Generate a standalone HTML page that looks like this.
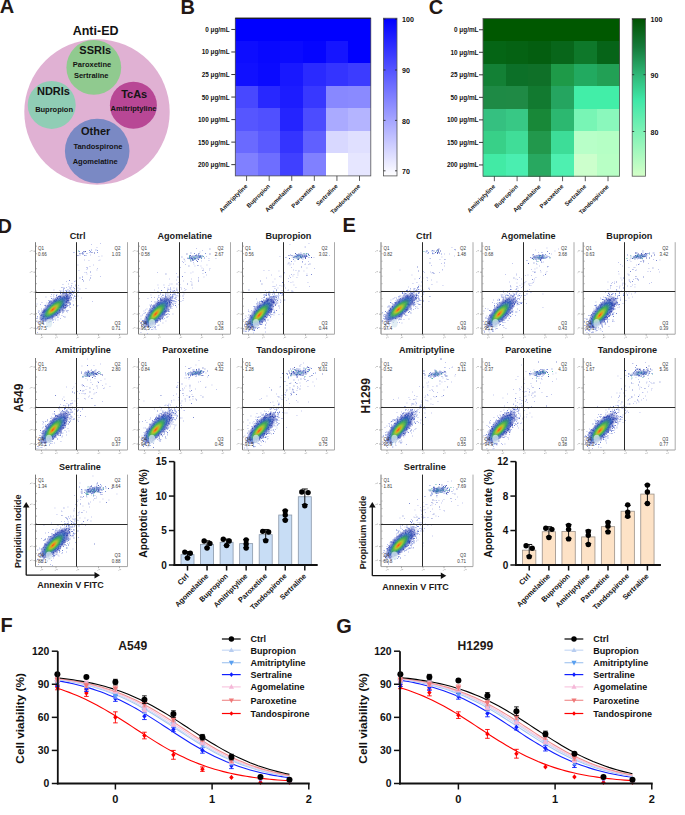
<!DOCTYPE html>
<html><head><meta charset="utf-8"><style>
html,body{margin:0;padding:0;background:#fff;overflow:hidden}
svg{display:block}
text{font-family:'Liberation Sans',sans-serif}
</style></head><body>
<svg width="685" height="815" viewBox="0 0 685 815">
<text x="-0.30" y="13.40" font-size="20" text-anchor="start" fill="#231815" font-weight="bold">A</text>
<text x="180.60" y="13.60" font-size="20" text-anchor="start" fill="#231815" font-weight="bold">B</text>
<text x="428.80" y="13.80" font-size="20" text-anchor="start" fill="#231815" font-weight="bold">C</text>
<text x="-2.50" y="232.60" font-size="20" text-anchor="start" fill="#231815" font-weight="bold">D</text>
<text x="342.60" y="232.00" font-size="20" text-anchor="start" fill="#231815" font-weight="bold">E</text>
<text x="0.60" y="631.90" font-size="20" text-anchor="start" fill="#231815" font-weight="bold">F</text>
<text x="336.20" y="632.50" font-size="20" text-anchor="start" fill="#231815" font-weight="bold">G</text>
<circle cx="97" cy="112" r="72.7" fill="#e0b1d3"/>
<circle cx="93.8" cy="67.4" r="27.4" fill="#90ca8f"/>
<circle cx="51.7" cy="104.9" r="24" fill="#90cdb5"/>
<circle cx="133.4" cy="105.2" r="23.5" fill="#b84795"/>
<circle cx="97.2" cy="151" r="32.3" fill="#7a89c4"/>
<text x="95.60" y="34.90" font-size="12.5" text-anchor="middle" fill="#111" font-weight="bold">Anti-ED</text>
<text x="95.20" y="54.40" font-size="11" text-anchor="middle" fill="#141414" font-weight="bold">SSRIs</text>
<text x="92.00" y="67.10" font-size="7.5" text-anchor="middle" fill="#141414" font-weight="bold">Paroxetine</text>
<text x="91.20" y="77.60" font-size="7.5" text-anchor="middle" fill="#141414" font-weight="bold">Sertraline</text>
<text x="53.50" y="95.30" font-size="11" text-anchor="middle" fill="#141414" font-weight="bold">NDRIs</text>
<text x="54.10" y="112.20" font-size="7.5" text-anchor="middle" fill="#141414" font-weight="bold">Bupropion</text>
<text x="134.20" y="97.50" font-size="11" text-anchor="middle" fill="#141414" font-weight="bold">TcAs</text>
<text x="133.50" y="110.70" font-size="7.5" text-anchor="middle" fill="#141414" font-weight="bold">Amitriptyline</text>
<text x="95.70" y="135.40" font-size="11" text-anchor="middle" fill="#141414" font-weight="bold">Other</text>
<text x="97.90" y="149.00" font-size="7.5" text-anchor="middle" fill="#141414" font-weight="bold">Tandospirone</text>
<text x="95.20" y="163.60" font-size="7.5" text-anchor="middle" fill="#141414" font-weight="bold">Agomelatine</text>
<defs><linearGradient id="gb" x1="0" y1="0" x2="0" y2="1"><stop offset="0" stop-color="#0000ff"/><stop offset="1" stop-color="#ffffff"/></linearGradient><linearGradient id="gg" x1="0" y1="0" x2="0" y2="1"><stop offset="0" stop-color="#005200"/><stop offset="0.18" stop-color="#157a3a"/><stop offset="0.36" stop-color="#2fb878"/><stop offset="0.52" stop-color="#40e8a8"/><stop offset="1" stop-color="#d4ffc8"/></linearGradient><radialGradient id="core" fx="0.38" fy="0.5" cx="0.45"><stop offset="0" stop-color="#f04a14"/><stop offset="0.1" stop-color="#f08a1c"/><stop offset="0.22" stop-color="#a8c830"/><stop offset="0.4" stop-color="#3cac58" stop-opacity="0.95"/><stop offset="0.6" stop-color="#2c64b8" stop-opacity="0.8"/><stop offset="0.8" stop-color="#2838a8" stop-opacity="0.45"/><stop offset="1" stop-color="#2838a8" stop-opacity="0"/></radialGradient><radialGradient id="q2g"><stop offset="0" stop-color="#3898b0" stop-opacity="0.6"/><stop offset="0.5" stop-color="#2a48b0" stop-opacity="0.4"/><stop offset="1" stop-color="#2a48b0" stop-opacity="0"/></radialGradient></defs>
<rect x="235.30" y="18.20" width="23.08" height="23.03" fill="#0000ff" shape-rendering="crispEdges"/>
<rect x="257.88" y="18.20" width="23.08" height="23.03" fill="#0000ff" shape-rendering="crispEdges"/>
<rect x="280.47" y="18.20" width="23.08" height="23.03" fill="#0000ff" shape-rendering="crispEdges"/>
<rect x="303.05" y="18.20" width="23.08" height="23.03" fill="#0000ff" shape-rendering="crispEdges"/>
<rect x="325.63" y="18.20" width="23.08" height="23.03" fill="#0000ff" shape-rendering="crispEdges"/>
<rect x="348.22" y="18.20" width="23.08" height="23.03" fill="#0000ff" shape-rendering="crispEdges"/>
<rect x="235.30" y="40.73" width="23.08" height="23.03" fill="#0d0dff" shape-rendering="crispEdges"/>
<rect x="257.88" y="40.73" width="23.08" height="23.03" fill="#0808ff" shape-rendering="crispEdges"/>
<rect x="280.47" y="40.73" width="23.08" height="23.03" fill="#0a0aff" shape-rendering="crispEdges"/>
<rect x="303.05" y="40.73" width="23.08" height="23.03" fill="#0505ff" shape-rendering="crispEdges"/>
<rect x="325.63" y="40.73" width="23.08" height="23.03" fill="#1515ff" shape-rendering="crispEdges"/>
<rect x="348.22" y="40.73" width="23.08" height="23.03" fill="#0000ff" shape-rendering="crispEdges"/>
<rect x="235.30" y="63.26" width="23.08" height="23.03" fill="#1010ff" shape-rendering="crispEdges"/>
<rect x="257.88" y="63.26" width="23.08" height="23.03" fill="#0a0aff" shape-rendering="crispEdges"/>
<rect x="280.47" y="63.26" width="23.08" height="23.03" fill="#1818ff" shape-rendering="crispEdges"/>
<rect x="303.05" y="63.26" width="23.08" height="23.03" fill="#2a2aff" shape-rendering="crispEdges"/>
<rect x="325.63" y="63.26" width="23.08" height="23.03" fill="#3434ff" shape-rendering="crispEdges"/>
<rect x="348.22" y="63.26" width="23.08" height="23.03" fill="#3c3cff" shape-rendering="crispEdges"/>
<rect x="235.30" y="85.79" width="23.08" height="23.03" fill="#4848ff" shape-rendering="crispEdges"/>
<rect x="257.88" y="85.79" width="23.08" height="23.03" fill="#2828ff" shape-rendering="crispEdges"/>
<rect x="280.47" y="85.79" width="23.08" height="23.03" fill="#1c1cff" shape-rendering="crispEdges"/>
<rect x="303.05" y="85.79" width="23.08" height="23.03" fill="#3838ff" shape-rendering="crispEdges"/>
<rect x="325.63" y="85.79" width="23.08" height="23.03" fill="#8888ff" shape-rendering="crispEdges"/>
<rect x="348.22" y="85.79" width="23.08" height="23.03" fill="#8a8aff" shape-rendering="crispEdges"/>
<rect x="235.30" y="108.31" width="23.08" height="23.03" fill="#5656ff" shape-rendering="crispEdges"/>
<rect x="257.88" y="108.31" width="23.08" height="23.03" fill="#5050ff" shape-rendering="crispEdges"/>
<rect x="280.47" y="108.31" width="23.08" height="23.03" fill="#2424ff" shape-rendering="crispEdges"/>
<rect x="303.05" y="108.31" width="23.08" height="23.03" fill="#4c4cff" shape-rendering="crispEdges"/>
<rect x="325.63" y="108.31" width="23.08" height="23.03" fill="#aaaaff" shape-rendering="crispEdges"/>
<rect x="348.22" y="108.31" width="23.08" height="23.03" fill="#b4b4ff" shape-rendering="crispEdges"/>
<rect x="235.30" y="130.84" width="23.08" height="23.03" fill="#6a6aff" shape-rendering="crispEdges"/>
<rect x="257.88" y="130.84" width="23.08" height="23.03" fill="#5a5aff" shape-rendering="crispEdges"/>
<rect x="280.47" y="130.84" width="23.08" height="23.03" fill="#3434ff" shape-rendering="crispEdges"/>
<rect x="303.05" y="130.84" width="23.08" height="23.03" fill="#6060ff" shape-rendering="crispEdges"/>
<rect x="325.63" y="130.84" width="23.08" height="23.03" fill="#d8d8ff" shape-rendering="crispEdges"/>
<rect x="348.22" y="130.84" width="23.08" height="23.03" fill="#e0e0ff" shape-rendering="crispEdges"/>
<rect x="235.30" y="153.37" width="23.08" height="23.03" fill="#8080ff" shape-rendering="crispEdges"/>
<rect x="257.88" y="153.37" width="23.08" height="23.03" fill="#6e6eff" shape-rendering="crispEdges"/>
<rect x="280.47" y="153.37" width="23.08" height="23.03" fill="#4040ff" shape-rendering="crispEdges"/>
<rect x="303.05" y="153.37" width="23.08" height="23.03" fill="#8080ff" shape-rendering="crispEdges"/>
<rect x="325.63" y="153.37" width="23.08" height="23.03" fill="#ffffff" shape-rendering="crispEdges"/>
<rect x="348.22" y="153.37" width="23.08" height="23.03" fill="#e6e6ff" shape-rendering="crispEdges"/>
<rect x="235.30" y="18.20" width="135.50" height="157.70" fill="none" stroke="#555" stroke-width="0.8"/>
<line x1="235.30" y1="18.20" x2="370.80" y2="18.20" stroke="#111" stroke-width="1"/>
<line x1="231.30" y1="29.46" x2="235.30" y2="29.46" stroke="#222" stroke-width="0.9"/>
<text x="229.70" y="31.96" font-size="6.4" text-anchor="end" fill="#111" font-weight="bold">0 μg/mL</text>
<line x1="231.30" y1="51.99" x2="235.30" y2="51.99" stroke="#222" stroke-width="0.9"/>
<text x="229.70" y="54.49" font-size="6.4" text-anchor="end" fill="#111" font-weight="bold">10 μg/mL</text>
<line x1="231.30" y1="74.52" x2="235.30" y2="74.52" stroke="#222" stroke-width="0.9"/>
<text x="229.70" y="77.02" font-size="6.4" text-anchor="end" fill="#111" font-weight="bold">25 μg/mL</text>
<line x1="231.30" y1="97.05" x2="235.30" y2="97.05" stroke="#222" stroke-width="0.9"/>
<text x="229.70" y="99.55" font-size="6.4" text-anchor="end" fill="#111" font-weight="bold">50 μg/mL</text>
<line x1="231.30" y1="119.58" x2="235.30" y2="119.58" stroke="#222" stroke-width="0.9"/>
<text x="229.70" y="122.08" font-size="6.4" text-anchor="end" fill="#111" font-weight="bold">100 μg/mL</text>
<line x1="231.30" y1="142.11" x2="235.30" y2="142.11" stroke="#222" stroke-width="0.9"/>
<text x="229.70" y="144.61" font-size="6.4" text-anchor="end" fill="#111" font-weight="bold">150 μg/mL</text>
<line x1="231.30" y1="164.64" x2="235.30" y2="164.64" stroke="#222" stroke-width="0.9"/>
<text x="229.70" y="167.14" font-size="6.4" text-anchor="end" fill="#111" font-weight="bold">200 μg/mL</text>
<line x1="246.59" y1="175.90" x2="246.59" y2="180.90" stroke="#333" stroke-width="0.8"/>
<text x="247.79" y="186.70" font-size="6.0" text-anchor="end" fill="#111" font-weight="bold" transform="rotate(-45 247.79 186.70)">Amitriptyline</text>
<line x1="269.18" y1="175.90" x2="269.18" y2="180.90" stroke="#333" stroke-width="0.8"/>
<text x="270.38" y="186.70" font-size="6.0" text-anchor="end" fill="#111" font-weight="bold" transform="rotate(-45 270.38 186.70)">Bupropion</text>
<line x1="291.76" y1="175.90" x2="291.76" y2="180.90" stroke="#333" stroke-width="0.8"/>
<text x="292.96" y="186.70" font-size="6.0" text-anchor="end" fill="#111" font-weight="bold" transform="rotate(-45 292.96 186.70)">Agomelatine</text>
<line x1="314.34" y1="175.90" x2="314.34" y2="180.90" stroke="#333" stroke-width="0.8"/>
<text x="315.54" y="186.70" font-size="6.0" text-anchor="end" fill="#111" font-weight="bold" transform="rotate(-45 315.54 186.70)">Paroxetine</text>
<line x1="336.93" y1="175.90" x2="336.93" y2="180.90" stroke="#333" stroke-width="0.8"/>
<text x="338.12" y="186.70" font-size="6.0" text-anchor="end" fill="#111" font-weight="bold" transform="rotate(-45 338.12 186.70)">Sertraline</text>
<line x1="359.51" y1="175.90" x2="359.51" y2="180.90" stroke="#333" stroke-width="0.8"/>
<text x="360.71" y="186.70" font-size="6.0" text-anchor="end" fill="#111" font-weight="bold" transform="rotate(-45 360.71 186.70)">Tandospirone</text>
<rect x="383.50" y="18.20" width="13.50" height="157.70" fill="url(#gb)" stroke="#555" stroke-width="0.8"/>
<line x1="395.00" y1="19.20" x2="397.00" y2="19.20" stroke="#222" stroke-width="0.8"/>
<line x1="383.50" y1="19.20" x2="385.50" y2="19.20" stroke="#222" stroke-width="0.8"/>
<text x="402.00" y="21.50" font-size="7.1" text-anchor="start" fill="#111" font-weight="bold">100</text>
<line x1="395.00" y1="70.00" x2="397.00" y2="70.00" stroke="#222" stroke-width="0.8"/>
<line x1="383.50" y1="70.00" x2="385.50" y2="70.00" stroke="#222" stroke-width="0.8"/>
<text x="402.00" y="73.30" font-size="7.1" text-anchor="start" fill="#111" font-weight="bold">90</text>
<line x1="395.00" y1="120.40" x2="397.00" y2="120.40" stroke="#222" stroke-width="0.8"/>
<line x1="383.50" y1="120.40" x2="385.50" y2="120.40" stroke="#222" stroke-width="0.8"/>
<text x="402.00" y="123.70" font-size="7.1" text-anchor="start" fill="#111" font-weight="bold">80</text>
<line x1="395.00" y1="170.80" x2="397.00" y2="170.80" stroke="#222" stroke-width="0.8"/>
<line x1="383.50" y1="170.80" x2="385.50" y2="170.80" stroke="#222" stroke-width="0.8"/>
<text x="402.00" y="174.10" font-size="7.1" text-anchor="start" fill="#111" font-weight="bold">70</text>
<rect x="483.00" y="18.50" width="23.23" height="23.03" fill="#005800" shape-rendering="crispEdges"/>
<rect x="505.73" y="18.50" width="23.23" height="23.03" fill="#005800" shape-rendering="crispEdges"/>
<rect x="528.47" y="18.50" width="23.23" height="23.03" fill="#005800" shape-rendering="crispEdges"/>
<rect x="551.20" y="18.50" width="23.23" height="23.03" fill="#005800" shape-rendering="crispEdges"/>
<rect x="573.93" y="18.50" width="23.23" height="23.03" fill="#005800" shape-rendering="crispEdges"/>
<rect x="596.67" y="18.50" width="23.23" height="23.03" fill="#005800" shape-rendering="crispEdges"/>
<rect x="483.00" y="41.03" width="23.23" height="23.03" fill="#056515" shape-rendering="crispEdges"/>
<rect x="505.73" y="41.03" width="23.23" height="23.03" fill="#056213" shape-rendering="crispEdges"/>
<rect x="528.47" y="41.03" width="23.23" height="23.03" fill="#045e10" shape-rendering="crispEdges"/>
<rect x="551.20" y="41.03" width="23.23" height="23.03" fill="#08661a" shape-rendering="crispEdges"/>
<rect x="573.93" y="41.03" width="23.23" height="23.03" fill="#0e782a" shape-rendering="crispEdges"/>
<rect x="596.67" y="41.03" width="23.23" height="23.03" fill="#066418" shape-rendering="crispEdges"/>
<rect x="483.00" y="63.56" width="23.23" height="23.03" fill="#138035" shape-rendering="crispEdges"/>
<rect x="505.73" y="63.56" width="23.23" height="23.03" fill="#0c7028" shape-rendering="crispEdges"/>
<rect x="528.47" y="63.56" width="23.23" height="23.03" fill="#0f7028" shape-rendering="crispEdges"/>
<rect x="551.20" y="63.56" width="23.23" height="23.03" fill="#1e9a48" shape-rendering="crispEdges"/>
<rect x="573.93" y="63.56" width="23.23" height="23.03" fill="#22aa60" shape-rendering="crispEdges"/>
<rect x="596.67" y="63.56" width="23.23" height="23.03" fill="#22a055" shape-rendering="crispEdges"/>
<rect x="483.00" y="86.09" width="23.23" height="23.03" fill="#1e8a45" shape-rendering="crispEdges"/>
<rect x="505.73" y="86.09" width="23.23" height="23.03" fill="#1f8a45" shape-rendering="crispEdges"/>
<rect x="528.47" y="86.09" width="23.23" height="23.03" fill="#127a30" shape-rendering="crispEdges"/>
<rect x="551.20" y="86.09" width="23.23" height="23.03" fill="#25a560" shape-rendering="crispEdges"/>
<rect x="573.93" y="86.09" width="23.23" height="23.03" fill="#42eea8" shape-rendering="crispEdges"/>
<rect x="596.67" y="86.09" width="23.23" height="23.03" fill="#42eea8" shape-rendering="crispEdges"/>
<rect x="483.00" y="108.61" width="23.23" height="23.03" fill="#35c080" shape-rendering="crispEdges"/>
<rect x="505.73" y="108.61" width="23.23" height="23.03" fill="#38c885" shape-rendering="crispEdges"/>
<rect x="528.47" y="108.61" width="23.23" height="23.03" fill="#188838" shape-rendering="crispEdges"/>
<rect x="551.20" y="108.61" width="23.23" height="23.03" fill="#2cb870" shape-rendering="crispEdges"/>
<rect x="573.93" y="108.61" width="23.23" height="23.03" fill="#78f5b5" shape-rendering="crispEdges"/>
<rect x="596.67" y="108.61" width="23.23" height="23.03" fill="#8af8bc" shape-rendering="crispEdges"/>
<rect x="483.00" y="131.14" width="23.23" height="23.03" fill="#38d088" shape-rendering="crispEdges"/>
<rect x="505.73" y="131.14" width="23.23" height="23.03" fill="#40dd98" shape-rendering="crispEdges"/>
<rect x="528.47" y="131.14" width="23.23" height="23.03" fill="#22984c" shape-rendering="crispEdges"/>
<rect x="551.20" y="131.14" width="23.23" height="23.03" fill="#3ddd98" shape-rendering="crispEdges"/>
<rect x="573.93" y="131.14" width="23.23" height="23.03" fill="#b8ffc8" shape-rendering="crispEdges"/>
<rect x="596.67" y="131.14" width="23.23" height="23.03" fill="#b5ffc5" shape-rendering="crispEdges"/>
<rect x="483.00" y="153.67" width="23.23" height="23.03" fill="#42eaa5" shape-rendering="crispEdges"/>
<rect x="505.73" y="153.67" width="23.23" height="23.03" fill="#4aeeb0" shape-rendering="crispEdges"/>
<rect x="528.47" y="153.67" width="23.23" height="23.03" fill="#28a860" shape-rendering="crispEdges"/>
<rect x="551.20" y="153.67" width="23.23" height="23.03" fill="#4ef0b0" shape-rendering="crispEdges"/>
<rect x="573.93" y="153.67" width="23.23" height="23.03" fill="#ccffcc" shape-rendering="crispEdges"/>
<rect x="596.67" y="153.67" width="23.23" height="23.03" fill="#b8ffc5" shape-rendering="crispEdges"/>
<rect x="483.00" y="18.50" width="136.40" height="157.70" fill="none" stroke="#555" stroke-width="0.8"/>
<line x1="483.00" y1="18.50" x2="619.40" y2="18.50" stroke="#666" stroke-width="1"/>
<line x1="479.00" y1="29.76" x2="483.00" y2="29.76" stroke="#222" stroke-width="0.9"/>
<text x="478.50" y="32.26" font-size="6.4" text-anchor="end" fill="#111" font-weight="bold">0 μg/mL</text>
<line x1="479.00" y1="52.29" x2="483.00" y2="52.29" stroke="#222" stroke-width="0.9"/>
<text x="478.50" y="54.79" font-size="6.4" text-anchor="end" fill="#111" font-weight="bold">10 μg/mL</text>
<line x1="479.00" y1="74.82" x2="483.00" y2="74.82" stroke="#222" stroke-width="0.9"/>
<text x="478.50" y="77.32" font-size="6.4" text-anchor="end" fill="#111" font-weight="bold">25 μg/mL</text>
<line x1="479.00" y1="97.35" x2="483.00" y2="97.35" stroke="#222" stroke-width="0.9"/>
<text x="478.50" y="99.85" font-size="6.4" text-anchor="end" fill="#111" font-weight="bold">50 μg/mL</text>
<line x1="479.00" y1="119.88" x2="483.00" y2="119.88" stroke="#222" stroke-width="0.9"/>
<text x="478.50" y="122.38" font-size="6.4" text-anchor="end" fill="#111" font-weight="bold">100 μg/mL</text>
<line x1="479.00" y1="142.41" x2="483.00" y2="142.41" stroke="#222" stroke-width="0.9"/>
<text x="478.50" y="144.91" font-size="6.4" text-anchor="end" fill="#111" font-weight="bold">150 μg/mL</text>
<line x1="479.00" y1="164.94" x2="483.00" y2="164.94" stroke="#222" stroke-width="0.9"/>
<text x="478.50" y="167.44" font-size="6.4" text-anchor="end" fill="#111" font-weight="bold">200 μg/mL</text>
<line x1="494.37" y1="176.20" x2="494.37" y2="181.20" stroke="#333" stroke-width="0.8"/>
<text x="495.57" y="187.00" font-size="6.0" text-anchor="end" fill="#111" font-weight="bold" transform="rotate(-45 495.57 187.00)">Amitriptyline</text>
<line x1="517.10" y1="176.20" x2="517.10" y2="181.20" stroke="#333" stroke-width="0.8"/>
<text x="518.30" y="187.00" font-size="6.0" text-anchor="end" fill="#111" font-weight="bold" transform="rotate(-45 518.30 187.00)">Bupropion</text>
<line x1="539.83" y1="176.20" x2="539.83" y2="181.20" stroke="#333" stroke-width="0.8"/>
<text x="541.03" y="187.00" font-size="6.0" text-anchor="end" fill="#111" font-weight="bold" transform="rotate(-45 541.03 187.00)">Agomelatine</text>
<line x1="562.57" y1="176.20" x2="562.57" y2="181.20" stroke="#333" stroke-width="0.8"/>
<text x="563.77" y="187.00" font-size="6.0" text-anchor="end" fill="#111" font-weight="bold" transform="rotate(-45 563.77 187.00)">Paroxetine</text>
<line x1="585.30" y1="176.20" x2="585.30" y2="181.20" stroke="#333" stroke-width="0.8"/>
<text x="586.50" y="187.00" font-size="6.0" text-anchor="end" fill="#111" font-weight="bold" transform="rotate(-45 586.50 187.00)">Sertraline</text>
<line x1="608.03" y1="176.20" x2="608.03" y2="181.20" stroke="#333" stroke-width="0.8"/>
<text x="609.23" y="187.00" font-size="6.0" text-anchor="end" fill="#111" font-weight="bold" transform="rotate(-45 609.23 187.00)">Tandospirone</text>
<rect x="632.20" y="18.50" width="13.30" height="157.70" fill="url(#gg)" stroke="#555" stroke-width="0.8"/>
<line x1="643.50" y1="19.50" x2="645.50" y2="19.50" stroke="#222" stroke-width="0.8"/>
<line x1="632.20" y1="19.50" x2="634.20" y2="19.50" stroke="#222" stroke-width="0.8"/>
<text x="650.50" y="21.80" font-size="7.1" text-anchor="start" fill="#111" font-weight="bold">100</text>
<line x1="643.50" y1="74.70" x2="645.50" y2="74.70" stroke="#222" stroke-width="0.8"/>
<line x1="632.20" y1="74.70" x2="634.20" y2="74.70" stroke="#222" stroke-width="0.8"/>
<text x="650.50" y="78.00" font-size="7.1" text-anchor="start" fill="#111" font-weight="bold">90</text>
<line x1="643.50" y1="131.50" x2="645.50" y2="131.50" stroke="#222" stroke-width="0.8"/>
<line x1="632.20" y1="131.50" x2="634.20" y2="131.50" stroke="#222" stroke-width="0.8"/>
<text x="650.50" y="134.80" font-size="7.1" text-anchor="start" fill="#111" font-weight="bold">80</text>
<text x="77.60" y="238.70" font-size="9.1" text-anchor="middle" fill="#1a1a1a" font-weight="bold">Ctrl</text>
<line x1="35.50" y1="242.20" x2="35.50" y2="334.20" stroke="#6a6a6a" stroke-width="0.9"/>
<line x1="35.50" y1="334.20" x2="127.50" y2="334.20" stroke="#8a8a8a" stroke-width="0.8"/>
<line x1="127.50" y1="242.20" x2="127.50" y2="334.20" stroke="#a0a0a0" stroke-width="0.9"/>
<path d="M33.5 251.2h2M30.0 251.7l1.2 -1.2m.4 .2h.8M33.5 272.2h2M30.0 272.7l1.2 -1.2m.4 .2h.8M33.5 292.2h2M30.0 292.7l1.2 -1.2m.4 .2h.8M33.5 314.2h2M30.0 314.7l1.2 -1.2m.4 .2h.8M33.5 328.2h2M30.0 328.7l1.2 -1.2m.4 .2h.8M41.5 334.2v1.6M40.7 338.2l1.2 -1.2m.4 .2h.8M56.0 334.2v1.6M55.2 338.2l1.2 -1.2m.4 .2h.8M77.5 334.2v1.6M76.7 338.2l1.2 -1.2m.4 .2h.8M98.5 334.2v1.6M97.7 338.2l1.2 -1.2m.4 .2h.8M119.5 334.2v1.6M118.7 338.2l1.2 -1.2m.4 .2h.8M36.0 246.2h1M36.0 253.7h1M36.0 261.2h1M36.0 268.7h1M36.0 276.2h1M36.0 283.7h1M36.0 291.2h1M36.0 298.7h1M36.0 306.2h1M36.0 313.7h1M36.0 321.2h1M36.0 328.7h1" stroke="#777" stroke-width="0.55" fill="none"/>
<path d="M77.5 305.5h.9M63 299h.9M84.5 272.5h.9M87 267.5h.9M86.5 269.5h.9M88.5 260.5h.9M96.5 270h.9M68 303h.9M97 268.5h.9M65 308.5h.9M91 244.5h.9M62 305.5h.9M67 306.5h.9M78.5 270.5h.9M68.5 295h.9M99.5 260h.9M101.5 256h.9M64 302h.9M68.5 286.5h.9M64 300h.9M89.5 266.5h.9M86.5 274h.9M87 268.5h.9M90 255h.9M100 243.5h.9M81 298h.9M92 301.5h.9M68 291h.9M76 296h.9M70.5 289.5h.9M100 276.5h.9M86 267.5h.9M77.5 265h.9M86 272.5h.9M77 306h.9M76 291.5h.9M74.5 289h.9M72.5 301h.9M98.5 256.5h.9M78 285.5h.9M98.5 260.5h.9M66 281.5h.9M75 298.5h.9M67.5 298.5h.9M96.5 247.5h.9M74 290.5h.9M84 260h.9M93 265h.9M90.5 275.5h.9" stroke="#b4bbea" stroke-width="0.9" fill="none"/>
<path d="M69 280.5h.9M66 311h.9M61.5 297.5h.9M71.5 291h.9M61.5 287.5h.9M90 272h.9M79.5 278h.9M83 281h.9M90 278h.9M82 279.5h.9M82 277h.9" stroke="#6070c8" stroke-width="0.9" fill="none"/>
<path d="M53.5 300h.9M63 306h.9M46.5 320.5h.9M58.5 312h.9M64 297.5h.9M74.5 296.5h.9M67 305.5h.9M69.5 302.5h.9M56 312.5h.9M50.5 310.5h.9M66 306h.9M69 298h.9M69 293.5h.9M56.5 306.5h.9M43.5 312h.9M61 301h.9M50.5 311h.9M58.5 305.5h.9M62 304.5h.9M55.5 308.5h.9M62.5 292.5h.9M51.5 313h.9M58.5 302.5h.9M60 305.5h.9M52.5 310.5h.9M43.5 311.5h.9M59 303h.9M58.5 305h.9M67.5 310.5h.9M58.5 309.5h.9M70.5 293.5h.9M45 305.5h.9M54 300.5h.9M57 305h.9M55 301h.9M52.5 316.5h.9M60 299.5h.9M51.5 303.5h.9M69.5 304.5h.9M52.5 302.5h.9M56 299.5h.9M67 295.5h.9M56 307h.9M50.5 310.5h.9M65.5 299h.9M62 302.5h.9M52.5 305.5h.9M66.5 299.5h.9M60 302.5h.9M64 305.5h.9M70 293.5h.9M72 291.5h.9M69.5 296h.9M56 295.5h.9M62.5 312.5h.9M60 293.5h.9M62 304.5h.9M64.5 317h.9M62 299h.9M52.5 311.5h.9M56 315.5h.9M53.5 304.5h.9M67 301h.9M57.5 317h.9M47 306h.9M69.5 293.5h.9M55 313h.9M58.5 302.5h.9M61 303.5h.9M49.5 311.5h.9M52.5 305.5h.9M63.5 301h.9M71 297.5h.9M65 298.5h.9M64.5 293.5h.9M54.5 311h.9M56.5 311h.9M64 298.5h.9M53.5 301h.9M57 307.5h.9M45.5 318.5h.9M42.5 319h.9M76 296.5h.9M48.5 322h.9M70.5 299.5h.9M56.5 297.5h.9M56 310.5h.9M66 300.5h.9M52.5 309h.9M57 304h.9M54.5 311.5h.9M44.5 305.5h.9M48 303h.9M52.5 307h.9M67.5 299.5h.9M66 307h.9M75.5 286h.9M55 302h.9M37 328h.9M59 296.5h.9M70 293.5h.9M49 310.5h.9M62 300h.9M41 315.5h.9M65.5 293h.9M63.5 310.5h.9M68 301h.9M69.5 303.5h.9M66.5 299.5h.9M50.5 312.5h.9M58.5 302.5h.9M53 307.5h.9M41.5 311h.9M66 296.5h.9M52.5 307.5h.9M55.5 300.5h.9M44 310h.9M57.5 302.5h.9M48 309.5h.9M64.5 297.5h.9M47 317h.9M60 300h.9M39 314h.9M51.5 314.5h.9M45.5 310.5h.9M62.5 294h.9M50.5 316h.9M59 300.5h.9M63 303.5h.9M48.5 306.5h.9M60 307.5h.9M64 297h.9M66.5 298.5h.9M58.5 307.5h.9M55 299h.9M69.5 298h.9M57.5 314h.9M62 310h.9M62.5 303h.9M46 310.5h.9M48.5 300.5h.9M45 311h.9M71 293h.9M54 306h.9M68.5 298h.9M49.5 317.5h.9M52 305.5h.9M44 312h.9M63 291h.9M61 301.5h.9M36.5 318.5h.9M49 311.5h.9M47 326.5h.9M55.5 301h.9M42 318.5h.9M41 319.5h.9M63 307h.9M68.5 305.5h.9M56 303.5h.9M59 298.5h.9M45.5 315.5h.9M65 306h.9M58 302h.9M38.5 311h.9M73.5 291.5h.9M51.5 317h.9M74 296h.9M56.5 309h.9M60 304.5h.9M73 298h.9M44 316.5h.9M40.5 315.5h.9M48 313h.9M58 305.5h.9M44 310.5h.9M72 295h.9M45.5 311.5h.9M50 301h.9M44 316.5h.9M54 307h.9M59 301h.9M59.5 301.5h.9M54.5 306h.9M63.5 307.5h.9M54.5 312.5h.9M63 308h.9M66.5 292h.9M50.5 320h.9M67.5 298h.9M49 301.5h.9M70 304h.9M50 321.5h.9M66 297.5h.9M73 305h.9M66 291.5h.9M52 314h.9M62 298h.9M43.5 310.5h.9M46.5 315.5h.9M59.5 296h.9M51.5 308h.9M52 316.5h.9M42.5 323h.9M57 313.5h.9M66.5 306h.9M49.5 320h.9M50 302h.9M45.5 309.5h.9M59 303h.9M62.5 298.5h.9M58.5 306.5h.9M60.5 303.5h.9M53.5 306h.9M55.5 305h.9M45.5 313h.9M50.5 309h.9M65.5 290.5h.9M66.5 295h.9M68.5 302.5h.9M49.5 316.5h.9M54 313h.9M69.5 288h.9M62.5 311.5h.9M57 309h.9M41.5 314.5h.9M66.5 302.5h.9M47 312h.9M54 310h.9M60 297.5h.9M52 313h.9M48.5 313.5h.9M54.5 312.5h.9M63 297h.9M59 305h.9M56 315h.9M55 301h.9M54 313.5h.9M59 306h.9M63 293h.9M66 293.5h.9M48.5 317h.9M63 305h.9M54 303.5h.9M66 304.5h.9M51.5 318h.9M37 316.5h.9M43.5 312.5h.9M51.5 315h.9M67 296.5h.9M67 298h.9M62.5 293.5h.9M54.5 309.5h.9M55 305h.9M76.5 291h.9M65.5 300h.9M45 316.5h.9M47.5 319h.9M50.5 312h.9M52 307.5h.9M60 300h.9M60 298h.9M59 304h.9M61 299.5h.9M55 313h.9M61 303h.9M64 305.5h.9M61 303.5h.9M53.5 301.5h.9M55.5 301.5h.9M52.5 312.5h.9M49.5 317.5h.9M61 300h.9M60 301.5h.9M57 298h.9M60 292h.9M55 303.5h.9M66 299h.9M69.5 291.5h.9M59 303.5h.9M56.5 300h.9M53 306.5h.9M52.5 319.5h.9M55 300h.9M63.5 304h.9M70 295.5h.9M57 305.5h.9M53 303.5h.9M67 298h.9M61 302h.9M57.5 303h.9M74 288.5h.9M49.5 309.5h.9M58 303h.9M59 301h.9M64.5 308h.9M45 319h.9M48 316.5h.9M61.5 306.5h.9M63 289h.9M56.5 313h.9M49 302.5h.9M42 312.5h.9M59 307.5h.9M54.5 312h.9M49 321.5h.9M54.5 306h.9M46.5 313h.9M68.5 296.5h.9M52 318h.9M66 301h.9M53.5 314h.9M51 298.5h.9M47 310.5h.9M66 302h.9M64.5 298h.9M62.5 300h.9M51.5 303.5h.9" stroke="#5068c8" stroke-width="0.9" fill="none"/>
<path d="M53 310h.9M57.5 302.5h.9M51.5 315.5h.9M57 310.5h.9M50.5 307h.9M62.5 301h.9M62.5 300h.9M65 302h.9M57.5 301h.9M55.5 315h.9M53.5 310.5h.9M60.5 306h.9M58 296.5h.9M55.5 304.5h.9M56 300.5h.9M63.5 304.5h.9M50.5 311h.9M43 318h.9M52.5 308h.9M58 305.5h.9M59 302h.9M47.5 318h.9M55 310h.9M48 312h.9M56.5 307h.9M66 302.5h.9M55 307h.9M56.5 303.5h.9M63 304h.9M55 310.5h.9M58.5 305.5h.9M50 312.5h.9M51.5 310.5h.9M53.5 307h.9M54.5 306h.9M60.5 306.5h.9M61.5 303.5h.9M56 300.5h.9M57 307h.9M59 300.5h.9M61.5 305h.9M58 306h.9M57.5 303h.9M62.5 302h.9M45 315.5h.9M55.5 307h.9M62.5 305.5h.9M57.5 301.5h.9M58.5 302h.9M55.5 309h.9M55 305h.9M51.5 309.5h.9M60 299.5h.9M56 307.5h.9M59 306h.9M43 312h.9M44.5 315h.9M58.5 306h.9M59 310.5h.9M53 314h.9M59.5 312.5h.9M55.5 311h.9M66 299h.9M66.5 294.5h.9M59.5 302h.9M58.5 304h.9M55 308h.9M59 309.5h.9M55.5 308.5h.9M54.5 305h.9M58.5 307h.9M48.5 319h.9M58 302.5h.9M49.5 308.5h.9M68 298.5h.9M55.5 311.5h.9M61 298.5h.9M47 313h.9M60 296.5h.9M55 309.5h.9M60.5 302.5h.9M63 300h.9M51 313.5h.9M53 305h.9M68.5 297.5h.9M68 300.5h.9M62.5 298.5h.9M60.5 307.5h.9M56 306h.9M59.5 304h.9M47 318.5h.9M65.5 298h.9M57 310.5h.9M67.5 299.5h.9M53 308.5h.9M56.5 306h.9M61.5 301.5h.9M65 307.5h.9M47 310h.9M59.5 307h.9M47 311.5h.9M59.5 305.5h.9M61 306.5h.9M48 314h.9M62 299h.9M63.5 297h.9M58 300h.9M51.5 310.5h.9M53 308h.9M56 305h.9M57 310h.9M46 316.5h.9M57 310h.9M55 305h.9M60.5 301.5h.9M61 307h.9M51.5 312h.9M59 311h.9M59.5 303h.9M56 302.5h.9M54 302h.9M57.5 303.5h.9M57.5 313h.9M56.5 306h.9M51.5 306h.9M62 305.5h.9M57 304h.9M66 301.5h.9M50 305.5h.9M51.5 316h.9M48.5 306h.9M61 306h.9M54 305.5h.9M51.5 313.5h.9M50 308.5h.9M57 309.5h.9M59.5 301.5h.9M56 304h.9M62.5 310h.9M53.5 313h.9M51 312.5h.9M64 308h.9M55 310h.9M55.5 309.5h.9M55.5 301.5h.9M51 313.5h.9M58.5 307.5h.9M44.5 311.5h.9M60.5 305h.9M51.5 312h.9M65.5 295.5h.9M53.5 309.5h.9M62 301.5h.9M46.5 311.5h.9M66 296.5h.9M56.5 303.5h.9M64 298h.9M58.5 304h.9M55 303h.9M67 299h.9M56 308h.9M55.5 304.5h.9M50 314.5h.9M43 316.5h.9M58.5 304.5h.9M56.5 310.5h.9M60 306h.9M67 300.5h.9M65 305.5h.9M47.5 312.5h.9M64 300h.9M59 302.5h.9M55 301.5h.9M57 298.5h.9M60.5 305h.9M63 306.5h.9M50 313h.9M58.5 307.5h.9M56 309h.9M54.5 314.5h.9M48 310h.9M48 313h.9M77.5 255.5h.9M94 253h.9M83.5 251.5h.9M79.5 253.5h.9M82.5 253.5h.9M85 251.5h.9M91.5 252.5h.9" stroke="#2a3aa8" stroke-width="0.9" fill="none"/>
<path d="M66 306.5h.9M49.5 304.5h.9M66 300.5h.9M76.5 294h.9M47.5 318h.9M56 297h.9M64 293.5h.9M53.5 297h.9M53 322.5h.9M43.5 324.5h.9M52 299h.9M49 316h.9M63.5 287.5h.9M51 294.5h.9M52 306.5h.9M50.5 308h.9M55 300h.9M40.5 315.5h.9M68.5 296.5h.9M61.5 315.5h.9M89 280h.9M36.5 304h.9M85.5 288.5h.9M41.5 302.5h.9M59 309.5h.9M57.5 320h.9M75 281h.9M68 297.5h.9M37 332.5h.9M77.5 296h.9M69 304.5h.9M63 291.5h.9M53 296h.9M37 327h.9M46.5 315h.9M36.5 321.5h.9M45 319h.9M55 312.5h.9M63.5 308h.9M69 290.5h.9M53.5 315.5h.9M59 301.5h.9M57 316h.9M66.5 290.5h.9M64 305.5h.9M46.5 309h.9M52.5 302.5h.9M48 322.5h.9M53.5 290h.9M74 288.5h.9M45 319h.9M60 318.5h.9M52.5 315h.9M42 316h.9M40.5 318h.9M71 293.5h.9M37 317h.9M43 309h.9M63 301h.9M56.5 294.5h.9M68.5 303.5h.9M69 307h.9M45 320h.9M58.5 315.5h.9M37.5 321h.9M51.5 302.5h.9M40 304.5h.9M49 318h.9M53 298.5h.9M46 309h.9M67 312h.9M61 298.5h.9M50.5 296.5h.9M51 302h.9M52.5 302.5h.9M70 297h.9M47.5 320h.9M49 306h.9M53.5 294.5h.9M55 320h.9M54.5 319h.9M68.5 301h.9M45 316.5h.9M48 305.5h.9M57.5 317.5h.9M45 321h.9M44.5 316h.9M46 315h.9M70 307.5h.9M69.5 294h.9M71.5 283.5h.9M62.5 284.5h.9M71 294.5h.9M64 288.5h.9M62 308h.9M70.5 300h.9M63 298.5h.9M59.5 290.5h.9M68.5 299h.9M46.5 303h.9M48.5 304h.9M51 301h.9M78 291h.9M42.5 320.5h.9M75.5 285.5h.9M38 312.5h.9M52.5 320.5h.9M67 303h.9M59 314h.9M66 287.5h.9M48 316h.9M68 295h.9M67.5 289.5h.9M47 307.5h.9M68 292h.9M60 311h.9M77.5 288h.9M71 287h.9M65.5 304.5h.9M51.5 313.5h.9M47 305.5h.9M69.5 300.5h.9M48 306.5h.9M68 284h.9M49 322h.9M66.5 305.5h.9M61.5 291h.9M71 298.5h.9M76 303.5h.9M59 314.5h.9M65.5 299.5h.9M40.5 319h.9M45.5 297h.9M56.5 315h.9M63.5 311.5h.9M37 316.5h.9M71 294.5h.9M69.5 297.5h.9M46.5 321.5h.9M52.5 317h.9M45.5 306.5h.9M55.5 318h.9M46.5 319.5h.9M40.5 322.5h.9M79.5 289h.9M51 321.5h.9M41 309h.9M40 313h.9M46 311.5h.9M53 316h.9M43 315h.9M43 315h.9M73 293.5h.9M57.5 310h.9M39 323h.9M64.5 310h.9M59 311.5h.9M52 317h.9M73 287.5h.9M63 316.5h.9M66.5 302h.9M54.5 313h.9M74 281.5h.9M70 288h.9M55.5 300.5h.9M47.5 317h.9M43 320.5h.9M42 320h.9M67 299.5h.9M64.5 299h.9M45.5 305h.9M51 301.5h.9M60.5 300h.9M53 302h.9M48 317.5h.9M54.5 299.5h.9M45 309.5h.9M62 313h.9M63 289.5h.9M43 327h.9M65.5 294.5h.9M71 285.5h.9M75.5 284.5h.9M75.5 300h.9M76 286h.9M65 309h.9M46.5 322h.9M37.5 322.5h.9M52 320h.9M59 298h.9M48.5 322h.9M39.5 323.5h.9M60.5 309h.9" stroke="#a4aee6" stroke-width="0.9" fill="none"/>
<path d="M79.5 255h.9M90 251.5h.9M81.5 253.5h.9M79 251.5h.9M82 252.5h.9M95.5 250h.9M97 252.5h.9M73.5 252.5h.9M84 255.5h.9M89 250.5h.9M89.5 252.5h.9M97 250.5h.9M83.5 252h.9M91 250h.9M85.5 255.5h.9M86.5 253.5h.9M82.5 254.5h.9" stroke="#6a80d8" stroke-width="0.9" fill="none"/>
<path d="M78 251h.9" stroke="#40a8a0" stroke-width="0.9" fill="none"/>
<ellipse cx="56.50" cy="306.20" rx="22.00" ry="8.20" fill="url(#core)" transform="rotate(-42 56.50 306.20)"/>
<ellipse cx="49.00" cy="323.20" rx="3.2" ry="4.2" fill="#d8e8f0" fill-opacity="0.75"/>
<path d="M76.5 242.2V334.2M35.5 292.5H127.5" stroke="#2a2a2a" stroke-width="1" fill="none"/>
<text x="38.00" y="249.90" font-size="4.5" text-anchor="start" fill="#3a3a3a" font-weight="normal">Q1</text>
<text x="38.00" y="255.60" font-size="4.5" text-anchor="start" fill="#3a3a3a" font-weight="normal">0.66</text>
<text x="120.50" y="249.90" font-size="4.5" text-anchor="end" fill="#3a3a3a" font-weight="normal">Q2</text>
<text x="120.50" y="255.60" font-size="4.5" text-anchor="end" fill="#3a3a3a" font-weight="normal">1.03</text>
<text x="38.00" y="324.70" font-size="4.5" text-anchor="start" fill="#3a3a3a" font-weight="normal">Q4</text>
<text x="38.00" y="330.20" font-size="4.5" text-anchor="start" fill="#3a3a3a" font-weight="normal">97.5</text>
<text x="120.50" y="324.70" font-size="4.5" text-anchor="end" fill="#3a3a3a" font-weight="normal">Q3</text>
<text x="120.50" y="330.20" font-size="4.5" text-anchor="end" fill="#3a3a3a" font-weight="normal">0.71</text>
<text x="184.80" y="238.70" font-size="9.1" text-anchor="middle" fill="#1a1a1a" font-weight="bold">Agomelatine</text>
<line x1="138.50" y1="242.20" x2="138.50" y2="334.20" stroke="#6a6a6a" stroke-width="0.9"/>
<line x1="138.50" y1="334.20" x2="230.50" y2="334.20" stroke="#8a8a8a" stroke-width="0.8"/>
<line x1="230.50" y1="242.20" x2="230.50" y2="334.20" stroke="#a0a0a0" stroke-width="0.9"/>
<path d="M136.5 251.2h2M133.0 251.7l1.2 -1.2m.4 .2h.8M136.5 272.2h2M133.0 272.7l1.2 -1.2m.4 .2h.8M136.5 292.2h2M133.0 292.7l1.2 -1.2m.4 .2h.8M136.5 314.2h2M133.0 314.7l1.2 -1.2m.4 .2h.8M136.5 328.2h2M133.0 328.7l1.2 -1.2m.4 .2h.8M144.5 334.2v1.6M143.7 338.2l1.2 -1.2m.4 .2h.8M159.0 334.2v1.6M158.2 338.2l1.2 -1.2m.4 .2h.8M180.5 334.2v1.6M179.7 338.2l1.2 -1.2m.4 .2h.8M201.5 334.2v1.6M200.7 338.2l1.2 -1.2m.4 .2h.8M222.5 334.2v1.6M221.7 338.2l1.2 -1.2m.4 .2h.8M139.0 246.2h1M139.0 253.7h1M139.0 261.2h1M139.0 268.7h1M139.0 276.2h1M139.0 283.7h1M139.0 291.2h1M139.0 298.7h1M139.0 306.2h1M139.0 313.7h1M139.0 321.2h1M139.0 328.7h1" stroke="#777" stroke-width="0.55" fill="none"/>
<path d="M183 296h.9M169 279h.9M208.5 260.5h.9M170 287.5h.9M191 279h.9M168 289.5h.9M185 264.5h.9M161 300h.9M176.5 290.5h.9M206 256.5h.9M190.5 273h.9M169 301.5h.9M206 275h.9M200.5 266h.9M182 261.5h.9M183.5 259h.9M173.5 302h.9M154 290h.9M172.5 300.5h.9M193 262.5h.9M193.5 264h.9M169.5 294h.9M192.5 272h.9M199.5 252h.9M203 269h.9M172 291h.9M165.5 321h.9M180 267.5h.9M197.5 257h.9M201.5 268h.9M178 282.5h.9M184.5 290.5h.9M206.5 265h.9M176.5 288h.9M184.5 261h.9M168.5 285.5h.9M198 277.5h.9M178.5 285h.9M157 272.5h.9M183 281h.9M201 261h.9M194.5 266h.9M167 300.5h.9M215.5 258.5h.9M176 280h.9M191.5 283h.9M175.5 302h.9M162.5 306.5h.9M164 301.5h.9M184 259.5h.9M209.5 268.5h.9M191 256.5h.9M158 288h.9M169.5 284h.9M196 248.5h.9M175 296h.9M182 296h.9M150.5 295h.9M208.5 258.5h.9M192 288h.9M183 262.5h.9M209 270h.9M180.5 287.5h.9M192 256h.9M203.5 277h.9M157.5 285h.9M183 262.5h.9M202 250.5h.9M167.5 288h.9M176 273.5h.9M184 288.5h.9M145 310h.9M147.5 298.5h.9M184.5 272.5h.9M187 258h.9M198 279h.9M167.5 289h.9M202.5 273.5h.9" stroke="#b4bbea" stroke-width="0.9" fill="none"/>
<path d="M188.5 266h.9M162.5 295h.9M182 276.5h.9M205 272.5h.9M176.5 284h.9M194 253.5h.9M165.5 274h.9M179 290.5h.9M187 284h.9M173.5 293h.9M197.5 265.5h.9M170 291.5h.9M168 292.5h.9M209.5 249h.9M202.5 270.5h.9M177.5 277h.9M198 281h.9M160 294h.9M204 258h.9M174 290.5h.9M191.5 285h.9M172 304h.9" stroke="#6070c8" stroke-width="0.9" fill="none"/>
<path d="M164 309.5h.9M158.5 312h.9M167 302.5h.9M154.5 312.5h.9M152 320h.9M165.5 311.5h.9M159 304.5h.9M158 312h.9M153 316h.9M152.5 310.5h.9M155.5 309.5h.9M160 306.5h.9M155 321h.9M162.5 310h.9M158 302.5h.9M151.5 321h.9M157 310.5h.9M164 308.5h.9M153.5 310h.9M149.5 318h.9M159.5 313h.9M157.5 315.5h.9M161 306.5h.9M157 313.5h.9M160.5 303.5h.9M164 311.5h.9M162 311h.9M161.5 306h.9M154.5 312.5h.9M161 309.5h.9M156 312h.9M154.5 318.5h.9M162.5 309.5h.9M152.5 319.5h.9M160 312.5h.9M155 310.5h.9M157.5 310h.9M151.5 316.5h.9M157 320.5h.9M161.5 304.5h.9M162 305.5h.9M164 307.5h.9M162.5 308h.9M159.5 310.5h.9M160 299h.9M160 312h.9M157 315h.9M158.5 313.5h.9M163 311h.9M155.5 309h.9M158.5 307.5h.9M150 320h.9M159 318.5h.9M153 307h.9M162 306h.9M161 308.5h.9M162.5 305h.9M151 311h.9M161.5 305h.9M161 306.5h.9M165 302h.9M168.5 309.5h.9M154.5 307.5h.9M164 309.5h.9M167.5 311h.9M164.5 304h.9M165 301h.9M163.5 313h.9M153 319h.9M162 308h.9M161.5 306.5h.9M164 309h.9M159 312h.9M157 307.5h.9M151.5 318h.9M159 314.5h.9M169 302.5h.9M160.5 307h.9M163.5 303h.9M160 308h.9M165 305.5h.9M150.5 317h.9M164 302h.9M162.5 314.5h.9M152 317.5h.9M151.5 312h.9M159.5 313h.9M158 313.5h.9M155 315.5h.9M160 300h.9M162 308.5h.9M160.5 311h.9M166 306.5h.9M159 305.5h.9M145.5 323h.9M166 308h.9M162.5 308.5h.9M169.5 302h.9M158 317.5h.9M159 310.5h.9M162 312.5h.9M160.5 307h.9M152.5 314h.9M159 316h.9M157.5 310.5h.9M159 304h.9M164.5 301h.9M153 317h.9M157 308.5h.9M151.5 321h.9M160 312.5h.9M159.5 309h.9M158 312h.9M160.5 313h.9M162 309h.9M149 321.5h.9M167 303.5h.9M151.5 313h.9M161.5 310.5h.9M164 314.5h.9M154 318.5h.9M161.5 302h.9M158.5 307.5h.9M162.5 304h.9M159.5 308h.9M155.5 320.5h.9M165.5 302h.9M146 324h.9M158 311h.9M158.5 318.5h.9M152.5 319h.9M157 308h.9M155.5 311h.9M153.5 311.5h.9M149.5 312.5h.9M158 309h.9M162.5 303.5h.9M159 307h.9M164 306h.9M160 311.5h.9M161.5 315h.9M170 300h.9M161.5 304h.9M156.5 319h.9M159 306.5h.9M159.5 303h.9M158 316.5h.9M152.5 318h.9M162.5 303h.9M166.5 300h.9M166 304h.9M159.5 304.5h.9M163.5 308.5h.9M152.5 315.5h.9M146.5 320h.9M152 318h.9M155.5 317.5h.9M168.5 300.5h.9M159 309h.9M154.5 312.5h.9M167 299h.9M162.5 314h.9M156.5 311.5h.9M146 317.5h.9M150 320h.9M157.5 310h.9M158.5 304.5h.9M157 312.5h.9M162 306h.9M160.5 312h.9M158 313h.9M162.5 300h.9M151 315.5h.9M160 314h.9M166 304h.9M153.5 314h.9M159 306h.9M158.5 314h.9M159.5 310.5h.9M153 314.5h.9M159.5 312h.9M160 311h.9M151.5 317h.9M157 306.5h.9M157 307.5h.9M160 305.5h.9M156.5 306h.9M161 312.5h.9M163.5 307h.9M149.5 318.5h.9M161.5 305.5h.9M158 308.5h.9M152.5 316h.9M166.5 306.5h.9M159 304.5h.9M160 307.5h.9M169.5 303h.9M166 301h.9M161.5 308.5h.9M158.5 302.5h.9M160.5 307h.9M161.5 307h.9M157 311h.9M169 305h.9M155.5 317.5h.9M147.5 319h.9M160 308.5h.9M165.5 299.5h.9M162.5 305h.9M152.5 323h.9M162 311.5h.9M169 301h.9M162.5 305.5h.9M155 309h.9M191 258.5h.9M199.5 257h.9M192.5 260.5h.9M186.5 254h.9M198 259.5h.9M198.5 253.5h.9M191 258.5h.9M190 255.5h.9M200 256h.9M199.5 257h.9M196 255h.9M192 259.5h.9M197 261.5h.9M190.5 261h.9M209.5 254h.9" stroke="#2a3aa8" stroke-width="0.9" fill="none"/>
<path d="M170 304.5h.9M148.5 319.5h.9M154.5 317h.9M156.5 313h.9M147.5 320h.9M146 318h.9M165 310.5h.9M154.5 318.5h.9M158.5 305.5h.9M157 302h.9M155.5 320h.9M154.5 317.5h.9M164.5 305h.9M163.5 305.5h.9M148.5 316.5h.9M164 298.5h.9M150 315.5h.9M164.5 305.5h.9M167.5 295h.9M149 321h.9M160 298.5h.9M154 317h.9M150 318h.9M142.5 320.5h.9M154 322.5h.9M161.5 300.5h.9M163.5 303.5h.9M160.5 304h.9M158.5 318.5h.9M162 306h.9M160 311.5h.9M157 310.5h.9M150 306.5h.9M160 302h.9M162.5 313h.9M158 313.5h.9M151.5 313h.9M153.5 305.5h.9M159.5 319.5h.9M170 294.5h.9M162 304h.9M158.5 313.5h.9M171 300.5h.9M166.5 304h.9M162 313.5h.9M158.5 307h.9M165 303h.9M150.5 305.5h.9M172.5 301h.9M157 304.5h.9M152.5 314h.9M169.5 298.5h.9M158 304.5h.9M158.5 303.5h.9M162 318h.9M158 313h.9M171.5 300.5h.9M160.5 313.5h.9M170.5 297h.9M152.5 313.5h.9M170.5 300h.9M154.5 317.5h.9M155.5 304h.9M170.5 297.5h.9M167.5 293h.9M166 314.5h.9M161.5 308h.9M161 309h.9M158 309h.9M153.5 317h.9M146.5 318.5h.9M167.5 309h.9M148.5 314.5h.9M154 314.5h.9M162 318.5h.9M160 319.5h.9M158 310h.9M158 305.5h.9M155 323h.9M155.5 308h.9M149.5 321h.9M144 322h.9M173.5 300.5h.9M161 300h.9M149.5 309h.9M158 305.5h.9M151 318h.9M166 311h.9M165 294h.9M154 308h.9M140 323h.9M155.5 302h.9M158.5 304h.9M148 326.5h.9M157 322h.9M168.5 311.5h.9M152 312h.9M174.5 294.5h.9M159 309.5h.9M164.5 311h.9M154.5 324.5h.9M147.5 321h.9M141 325.5h.9M172.5 296.5h.9M148.5 315.5h.9M164 300.5h.9M161.5 310.5h.9M153.5 313.5h.9M161 290.5h.9M149.5 324.5h.9M146 322.5h.9M155 327h.9M172.5 294.5h.9M145 322.5h.9M157.5 318.5h.9M155 312h.9M162.5 305h.9M158.5 311.5h.9M158 308h.9M162.5 316h.9M165.5 297h.9M171 302.5h.9M156.5 305.5h.9M153.5 312h.9M156 312.5h.9M160.5 306.5h.9M163.5 309h.9M149.5 316h.9M148.5 320h.9M156 316h.9M157.5 307.5h.9M166 303.5h.9M152 308.5h.9M159 310h.9M165.5 301h.9M159.5 316h.9M159.5 305.5h.9M167.5 314h.9M150 327.5h.9M142.5 320.5h.9M157 311.5h.9M161.5 302.5h.9M152 313.5h.9M160.5 319h.9M151 311.5h.9M160.5 300h.9M146 322.5h.9M164 313h.9M152.5 323h.9M156 320.5h.9M161 304.5h.9M150.5 316h.9M155.5 318.5h.9M148 325.5h.9M153 307.5h.9M161.5 304h.9M166.5 305.5h.9M162 313h.9M151.5 315.5h.9M156.5 317h.9M152.5 314.5h.9M165.5 301h.9M165.5 301.5h.9M150 315.5h.9M168 311h.9M160.5 307h.9M159 306h.9M161.5 311h.9M163 309.5h.9M174.5 293h.9M164 309.5h.9M165.5 307h.9M153 313h.9M152.5 311.5h.9M157 315.5h.9M160.5 318.5h.9M163.5 313h.9M162.5 295.5h.9M152.5 316.5h.9M179 298.5h.9M152 306h.9M160 321h.9M155 311h.9M169 306h.9M165.5 306.5h.9M153 311h.9M157.5 307h.9M172.5 295h.9M162 311.5h.9M156.5 314h.9M157.5 307h.9M159.5 312.5h.9M168.5 311h.9M158 314.5h.9M164 315h.9M162 308.5h.9M162.5 304h.9M153 311.5h.9M157.5 316h.9M159.5 309h.9M158 300.5h.9M153 326.5h.9M154.5 309h.9M163.5 304h.9M165 315h.9M172 298h.9M160 316h.9M148.5 323h.9M163 306.5h.9M168.5 301.5h.9M165 296h.9M175 305.5h.9M177.5 293.5h.9M162.5 311h.9M165 304h.9M144 327h.9M144.5 321.5h.9M166 299h.9M150.5 316.5h.9M153.5 305h.9M161.5 303.5h.9M154.5 313h.9M150.5 316h.9M151.5 319.5h.9M163 301.5h.9M166.5 307h.9M170.5 303h.9M175.5 297.5h.9M165 298h.9M150 316h.9M157 299h.9M170 308h.9M151 313.5h.9M165 296h.9M164.5 311.5h.9M162.5 304.5h.9M161.5 300.5h.9M154 308h.9M144 323.5h.9M166.5 305h.9M157 303.5h.9M174.5 298.5h.9M153.5 319h.9M170 298h.9M164 307.5h.9M162.5 317.5h.9M156 315h.9M151 316h.9M169 304h.9M161 303.5h.9M170 306h.9M168 299.5h.9M173 305h.9M170 289h.9M153.5 314h.9M172 296h.9M149.5 310.5h.9M149 315h.9M150.5 319h.9M150 323.5h.9M168.5 300h.9M154 316.5h.9M155.5 313h.9M158.5 316h.9M162 309.5h.9M145.5 321.5h.9M164.5 299.5h.9M160 303h.9M161.5 299h.9M164 309h.9M172 297h.9M170.5 307h.9M167 291h.9M147 321.5h.9M156 313.5h.9M151.5 329.5h.9M162.5 308h.9M157 313h.9M154.5 310.5h.9" stroke="#5068c8" stroke-width="0.9" fill="none"/>
<path d="M176.5 290h.9M159.5 303h.9M157.5 302h.9M176 307h.9M176 299.5h.9M163 314.5h.9M148.5 310.5h.9M153 313.5h.9M152 323h.9M171 306h.9M155.5 321.5h.9M143.5 311h.9M173.5 288h.9M166.5 317.5h.9M146.5 314.5h.9M141.5 329h.9M145 312.5h.9M148 320h.9M167.5 313.5h.9M171.5 306.5h.9M150.5 315h.9M163.5 304.5h.9M146 318.5h.9M151 304.5h.9M166.5 305h.9M174.5 295h.9M172.5 314h.9M151 313h.9M141 322.5h.9M180.5 301.5h.9M165 299.5h.9M163 316.5h.9M145.5 326.5h.9M158.5 295.5h.9M183 298.5h.9M163.5 299.5h.9M159.5 297.5h.9M154.5 309h.9M157.5 325.5h.9M171.5 298h.9M151 327h.9M176.5 296h.9M140 329h.9M175 303.5h.9M179.5 284.5h.9M171 297h.9M167.5 316.5h.9M156.5 321h.9M173.5 291h.9M166 294h.9M175 301.5h.9M163.5 313.5h.9M154.5 324h.9M169 296h.9M154 326h.9M159.5 320h.9M152.5 326.5h.9M158.5 325h.9M148.5 325.5h.9M168.5 300.5h.9M153 316.5h.9M149 316.5h.9M173 291.5h.9M148 323.5h.9M161.5 316.5h.9M147.5 319h.9M140.5 332.5h.9M149 309h.9M183.5 294h.9M181 289h.9M178 300.5h.9M148.5 314.5h.9M146 314.5h.9M162.5 298h.9M151 297.5h.9M165 312.5h.9M146.5 309h.9M155.5 317.5h.9M150 307h.9M169.5 300.5h.9M157.5 300.5h.9M154 327.5h.9M173 301h.9M157.5 291.5h.9M172.5 291.5h.9M151.5 315h.9M180 292.5h.9M177 292h.9M163 313.5h.9M158.5 320.5h.9M156 318h.9M144.5 313h.9M182.5 292h.9M150 311.5h.9M165 300.5h.9M170.5 290h.9M150 316h.9M143.5 321h.9M150.5 308h.9M154 306.5h.9M176.5 290h.9M146 324h.9M172.5 301h.9M170 302h.9M143.5 320.5h.9M171.5 308.5h.9M163.5 285h.9M153.5 329h.9M147.5 324.5h.9M162 300h.9M147.5 313h.9M143.5 313.5h.9M182.5 300.5h.9M150 309.5h.9M153.5 309h.9M157 299.5h.9M155 321.5h.9M141.5 326.5h.9M153.5 320.5h.9M156 318h.9M166.5 309h.9M154 297.5h.9M160 318h.9M153 307h.9M159.5 305.5h.9M162.5 298h.9M166 310h.9M140.5 319h.9M162.5 312h.9M147 333.5h.9M143.5 323h.9M178.5 304.5h.9M175.5 301.5h.9M176 289h.9M152 327.5h.9M168.5 289.5h.9M171.5 284h.9M150.5 307h.9M154 302h.9M174 301.5h.9M147 322.5h.9M163.5 315.5h.9M160.5 316h.9M156 303.5h.9M152.5 324.5h.9M156 318h.9M173.5 298h.9M164 318.5h.9M164 287.5h.9M162.5 319.5h.9M170.5 298.5h.9M159.5 318.5h.9M166 297h.9M143 322.5h.9M158 296h.9M162.5 323h.9M158.5 317h.9M145.5 316.5h.9M168 306h.9M155.5 329.5h.9M161 296.5h.9M166.5 317h.9M147.5 322.5h.9M155 328h.9M148.5 322.5h.9M146 330h.9M175 299h.9M161.5 313.5h.9M151.5 308.5h.9M154.5 327h.9M173.5 303.5h.9M179.5 296h.9M141 324h.9M158 297.5h.9M185.5 289.5h.9M167 304.5h.9M164 307.5h.9M160.5 314h.9M154.5 321h.9M151 301.5h.9M173.5 291h.9M142 315h.9M160 316h.9M176.5 295.5h.9M161.5 297.5h.9M149.5 305h.9M167 290h.9M173 300.5h.9M161 318h.9M150 317h.9M157 319h.9M164 314.5h.9M175 292h.9M169 314.5h.9M156 322.5h.9M178.5 296h.9M140.5 316h.9M154 306h.9M143 327.5h.9M151 310.5h.9M190.5 281.5h.9M167.5 311h.9" stroke="#a4aee6" stroke-width="0.9" fill="none"/>
<path d="M196 260.5h.9M188.5 258.5h.9M190.5 258h.9M202 256h.9M201 258.5h.9M197.5 259h.9M191.5 258.5h.9M190.5 257.5h.9M189.5 256h.9M187.5 258.5h.9M193.5 259.5h.9M195 258.5h.9M195 255.5h.9M200.5 257h.9M198.5 257h.9M181.5 257h.9M194 258.5h.9M190.5 259h.9M189 256h.9M190.5 253h.9M198 255h.9M195 258.5h.9M192.5 260h.9M199 257.5h.9M205 253.5h.9M199 256h.9M192 258.5h.9M198 255h.9M192.5 260.5h.9" stroke="#6a80d8" stroke-width="0.9" fill="none"/>
<path d="M189 258h.9M203 256.5h.9M193.5 257.5h.9M189 257h.9M190 260h.9M201 258h.9M192 259h.9M189 256h.9M189 258h.9M200.5 256h.9M194.5 259.5h.9" stroke="#40a8a0" stroke-width="0.9" fill="none"/>
<ellipse cx="159.00" cy="310.20" rx="22.00" ry="8.20" fill="url(#core)" transform="rotate(-48 159.00 310.20)"/>
<ellipse cx="152.00" cy="323.20" rx="3.2" ry="4.2" fill="#d8e8f0" fill-opacity="0.75"/>
<ellipse cx="195.50" cy="257.20" rx="8.80" ry="2.80" fill="url(#q2g)" transform="rotate(-8 195.50 257.20)"/>
<path d="M179.5 242.2V334.2M138.5 292.5H230.5" stroke="#2a2a2a" stroke-width="1" fill="none"/>
<text x="141.00" y="249.90" font-size="4.5" text-anchor="start" fill="#3a3a3a" font-weight="normal">Q1</text>
<text x="141.00" y="255.60" font-size="4.5" text-anchor="start" fill="#3a3a3a" font-weight="normal">0.58</text>
<text x="223.50" y="249.90" font-size="4.5" text-anchor="end" fill="#3a3a3a" font-weight="normal">Q2</text>
<text x="223.50" y="255.60" font-size="4.5" text-anchor="end" fill="#3a3a3a" font-weight="normal">2.67</text>
<text x="141.00" y="324.70" font-size="4.5" text-anchor="start" fill="#3a3a3a" font-weight="normal">Q4</text>
<text x="141.00" y="330.20" font-size="4.5" text-anchor="start" fill="#3a3a3a" font-weight="normal">96.5</text>
<text x="223.50" y="324.70" font-size="4.5" text-anchor="end" fill="#3a3a3a" font-weight="normal">Q3</text>
<text x="223.50" y="330.20" font-size="4.5" text-anchor="end" fill="#3a3a3a" font-weight="normal">0.28</text>
<text x="288.40" y="238.70" font-size="9.1" text-anchor="middle" fill="#1a1a1a" font-weight="bold">Bupropion</text>
<line x1="242.50" y1="242.20" x2="242.50" y2="334.20" stroke="#6a6a6a" stroke-width="0.9"/>
<line x1="242.50" y1="334.20" x2="334.50" y2="334.20" stroke="#8a8a8a" stroke-width="0.8"/>
<line x1="334.50" y1="242.20" x2="334.50" y2="334.20" stroke="#a0a0a0" stroke-width="0.9"/>
<path d="M240.5 251.2h2M237.0 251.7l1.2 -1.2m.4 .2h.8M240.5 272.2h2M237.0 272.7l1.2 -1.2m.4 .2h.8M240.5 292.2h2M237.0 292.7l1.2 -1.2m.4 .2h.8M240.5 314.2h2M237.0 314.7l1.2 -1.2m.4 .2h.8M240.5 328.2h2M237.0 328.7l1.2 -1.2m.4 .2h.8M248.5 334.2v1.6M247.7 338.2l1.2 -1.2m.4 .2h.8M263.0 334.2v1.6M262.2 338.2l1.2 -1.2m.4 .2h.8M284.5 334.2v1.6M283.7 338.2l1.2 -1.2m.4 .2h.8M305.5 334.2v1.6M304.7 338.2l1.2 -1.2m.4 .2h.8M326.5 334.2v1.6M325.7 338.2l1.2 -1.2m.4 .2h.8M243.0 246.2h1M243.0 253.7h1M243.0 261.2h1M243.0 268.7h1M243.0 276.2h1M243.0 283.7h1M243.0 291.2h1M243.0 298.7h1M243.0 306.2h1M243.0 313.7h1M243.0 321.2h1M243.0 328.7h1" stroke="#777" stroke-width="0.55" fill="none"/>
<path d="M278.5 271h.9M274.5 313h.9M277.5 303h.9M275 292.5h.9M281.5 290.5h.9M280 300h.9M284 273h.9M304.5 247h.9M287.5 264h.9M289 276h.9M277.5 301h.9M273.5 286.5h.9M290 277.5h.9M268.5 313h.9M313.5 257.5h.9M305 264h.9M279 276.5h.9M288 290h.9M295.5 270.5h.9M294.5 261h.9M274.5 286.5h.9M278.5 293.5h.9M274.5 279h.9M289.5 265h.9M297.5 275h.9M293 264h.9M309 286.5h.9M263.5 307.5h.9M268.5 291.5h.9M273 291h.9M307.5 282.5h.9M314 268.5h.9M280.5 276h.9M304.5 264.5h.9M287.5 290.5h.9M306.5 274h.9M279.5 256.5h.9M308 261.5h.9M276 285h.9M289.5 244.5h.9M308 264.5h.9M277.5 288h.9M268.5 309.5h.9M291 267.5h.9M292.5 282h.9M308.5 243.5h.9M292.5 291.5h.9M280.5 301h.9M306.5 268h.9M290.5 264h.9M275.5 300h.9M288 281.5h.9M302 261.5h.9M277 292.5h.9M263.5 270.5h.9M272.5 282h.9M290 277.5h.9M297.5 273h.9M329 255.5h.9M272 293h.9M288 278.5h.9M270 294h.9M290.5 282.5h.9M276 290.5h.9M273 291.5h.9M305 247h.9M292.5 276h.9M271 275h.9M280.5 277h.9M268.5 270.5h.9M293.5 285h.9M293.5 274.5h.9M303.5 271h.9M283 295.5h.9M295.5 287.5h.9M296.5 277.5h.9M266 278h.9M293 270h.9M264.5 294.5h.9M272.5 286.5h.9M260.5 293h.9M284.5 300h.9M265 290.5h.9" stroke="#b4bbea" stroke-width="0.9" fill="none"/>
<path d="M309.5 264h.9M311 274.5h.9M283.5 272.5h.9M273.5 299h.9M248.5 290h.9M306.5 275.5h.9M291.5 291h.9M276.5 299h.9M263.5 304h.9M302 262h.9M260 281h.9M261.5 284h.9M301 267h.9M282 294h.9M298.5 271h.9M282 282.5h.9M288.5 263h.9" stroke="#6070c8" stroke-width="0.9" fill="none"/>
<path d="M254 322h.9M276 290h.9M266.5 308h.9M260 324.5h.9M259 317.5h.9M275.5 296h.9M257.5 314h.9M266.5 306h.9M270.5 301.5h.9M257 315.5h.9M248.5 326.5h.9M265.5 311.5h.9M253 318.5h.9M267.5 304.5h.9M260.5 319h.9M259 311h.9M267.5 300h.9M264.5 314h.9M273.5 292h.9M266 314h.9M268.5 310h.9M256 314h.9M250 315.5h.9M264 304.5h.9M265 307.5h.9M265.5 295.5h.9M258 314.5h.9M257.5 312.5h.9M278.5 306h.9M251.5 316h.9M259 310h.9M263 315.5h.9M271 304h.9M252 324.5h.9M265 313.5h.9M257 311h.9M259 303h.9M258.5 311.5h.9M252 318h.9M260 307.5h.9M261 324.5h.9M274 302h.9M276.5 303h.9M263 307h.9M277 300.5h.9M264.5 321h.9M258 312.5h.9M258 309.5h.9M268.5 293.5h.9M274 294h.9M255 321h.9M276 297.5h.9M272.5 297h.9M265 313h.9M250 328h.9M253 320h.9M263.5 304.5h.9M257.5 320h.9M246.5 323h.9M261.5 317.5h.9M253 325h.9M273.5 312.5h.9M268 303.5h.9M271 309.5h.9M264 313h.9M269 298h.9M253.5 318h.9M262.5 308.5h.9M264 310.5h.9M265 303h.9M258 320h.9M258 317.5h.9M263 309h.9M256 314h.9M269 310.5h.9M265 301h.9M260.5 307h.9M269.5 308h.9M265 320h.9M261.5 308h.9M276 310.5h.9M247.5 324.5h.9M256.5 312.5h.9M262.5 321h.9M268 311.5h.9M278 294h.9M276.5 296h.9M266 317.5h.9M262.5 309h.9M268 308.5h.9M265.5 304.5h.9M256.5 317.5h.9M263 311h.9M272.5 309h.9M262.5 306h.9M267.5 310.5h.9M257.5 314h.9M255 314.5h.9M265.5 312h.9M247 327h.9M262 307h.9M268 294.5h.9M266.5 300.5h.9M261 301h.9M262 310.5h.9M251.5 317.5h.9M271 312.5h.9M266 298.5h.9M260 319h.9M266.5 314h.9M244.5 324.5h.9M260.5 306h.9M263.5 295h.9M263.5 313h.9M258.5 310h.9M275 305h.9M266.5 309.5h.9M255.5 314.5h.9M257.5 322.5h.9M256.5 316.5h.9M265 303.5h.9M274.5 297h.9M249 330h.9M268.5 309.5h.9M264.5 311h.9M270 299.5h.9M260 309h.9M262 321.5h.9M260.5 305.5h.9M254.5 326.5h.9M260 319.5h.9M263 310h.9M251.5 324.5h.9M273 301.5h.9M259.5 313.5h.9M255 315h.9M249.5 319.5h.9M261.5 309.5h.9M264.5 320h.9M254.5 308h.9M255 328h.9M264.5 316.5h.9M267 308.5h.9M255 322.5h.9M274 312h.9M263 312h.9M257 312h.9M253 324.5h.9M246 324h.9M254.5 306.5h.9M263 306.5h.9M264 313h.9M267 306.5h.9M261 314h.9M256 317.5h.9M265.5 302.5h.9M273 301h.9M269 306.5h.9M267.5 306h.9M268.5 309.5h.9M251 317h.9M261 301.5h.9M262 307h.9M271 311.5h.9M251 318h.9M269.5 300h.9M278 297h.9M243.5 331h.9M269 296h.9M262 302h.9M250.5 318h.9M243.5 329h.9M268 300h.9M273.5 296h.9M262.5 302.5h.9M269 315.5h.9M257.5 314h.9M280 293.5h.9M271.5 310h.9M257.5 308.5h.9M262.5 319h.9M264 319.5h.9M258.5 318.5h.9M275.5 299.5h.9M267 307.5h.9M260 313h.9M271 299h.9M268.5 306.5h.9M245.5 331.5h.9M266.5 312.5h.9M266 295.5h.9M259 306h.9M266 301.5h.9M256 319h.9M266.5 306.5h.9M259 310h.9M258 317.5h.9M248 324h.9M265.5 304.5h.9M259 311.5h.9M271.5 299.5h.9M261 309.5h.9M264 319.5h.9M252 320h.9M259.5 311h.9M258.5 303h.9M264 316h.9M258.5 322h.9M273 306.5h.9M263.5 316.5h.9M269.5 305.5h.9M254.5 315h.9M267.5 311h.9M261 309.5h.9M271.5 297h.9M267.5 320h.9M255.5 324.5h.9M248 321h.9M260.5 318.5h.9M267 308.5h.9M263 316h.9M272.5 300.5h.9M257 328.5h.9M253.5 306.5h.9M267 306.5h.9M260 311h.9M266.5 298.5h.9M254.5 319.5h.9M267.5 311.5h.9M264.5 305.5h.9M266.5 313.5h.9M269.5 312h.9M261.5 319h.9M270 313h.9M259.5 301.5h.9M254 323h.9M264.5 315h.9M258.5 306.5h.9M261 306h.9M259.5 310.5h.9M248 331h.9M253 321.5h.9M258.5 327.5h.9M253.5 328h.9M269.5 303.5h.9M264 297h.9M254.5 314.5h.9M263.5 297.5h.9M270.5 301h.9M257 310.5h.9M255 321.5h.9M255.5 327.5h.9M256 318.5h.9M261 307h.9M267.5 312.5h.9M263 304.5h.9M258.5 309.5h.9M263 300h.9M262 317h.9M274 299h.9M271.5 314.5h.9M266 307.5h.9M254 330.5h.9M254 315.5h.9M261.5 314h.9M256 311h.9M258 309.5h.9M259.5 312h.9M262 305h.9M257.5 306.5h.9M261 321.5h.9M275.5 303h.9M261.5 311.5h.9M248.5 315h.9M264 310h.9M257 324.5h.9M268 306h.9M260.5 320h.9M266 306.5h.9M270.5 296.5h.9M253.5 322.5h.9M266 294h.9M261 309.5h.9M258 311.5h.9M253 321.5h.9M267 302h.9M257 306h.9M262.5 319h.9M257.5 325h.9M261 312h.9M262 322.5h.9M257 323h.9M256.5 304h.9M263 309h.9M280.5 293.5h.9M254.5 308h.9M255 319.5h.9M250 329h.9M264.5 314h.9M253.5 330.5h.9M260 310.5h.9M255.5 319h.9M259 317h.9M265.5 308.5h.9M269 295h.9M263.5 309.5h.9M263.5 310.5h.9M260.5 317h.9M273 296.5h.9M249 329.5h.9M244 326h.9M265.5 305.5h.9M258.5 315.5h.9M270 311h.9M265 303h.9" stroke="#5068c8" stroke-width="0.9" fill="none"/>
<path d="M264.5 302h.9M253.5 309h.9M258 325.5h.9M274.5 288.5h.9M268.5 295.5h.9M272 304.5h.9M275 300.5h.9M254 312.5h.9M278.5 295.5h.9M269 292h.9M254 313.5h.9M258 325h.9M265 325.5h.9M291 274.5h.9M267.5 303h.9M270 316.5h.9M256 299h.9M278.5 314.5h.9M270 314.5h.9M256.5 306.5h.9M257 303h.9M246.5 327.5h.9M260 308h.9M254 324.5h.9M274.5 296h.9M283.5 286.5h.9M285 288h.9M270 304.5h.9M266 294h.9M243.5 319.5h.9M271 312h.9M249.5 320.5h.9M266.5 302.5h.9M259.5 303.5h.9M272 306h.9M247 323h.9M265 324.5h.9M281.5 293.5h.9M257.5 327.5h.9M259 320h.9M246.5 325.5h.9M262.5 321.5h.9M270 297.5h.9M272 302h.9M275 300.5h.9M260.5 319.5h.9M273 297.5h.9M255.5 313h.9M268 298.5h.9M274 302.5h.9M268.5 304.5h.9M265 332h.9M284 285h.9M252 316h.9M273 302.5h.9M261.5 298.5h.9M259.5 318.5h.9M250.5 316.5h.9M271.5 305.5h.9M254 322h.9M256.5 307h.9M282 295h.9M256 313h.9M267 317h.9M263 315.5h.9M261 322h.9M284 300h.9M271 309.5h.9M254 325.5h.9M273.5 315h.9M256.5 307h.9M263 320h.9M252 319.5h.9M264.5 328h.9M245 318.5h.9M270 309h.9M272 297h.9M265 304h.9M252.5 329h.9M274 311h.9M257 306.5h.9M271 298h.9M264 302.5h.9M257.5 305.5h.9M271 300h.9M280 302.5h.9M245.5 316h.9M255 312.5h.9M272 294.5h.9M258.5 323h.9M258 327.5h.9M281 293h.9M248 311.5h.9M261.5 305h.9M258.5 318h.9M254.5 323h.9M266.5 298h.9M273 293h.9M276 301.5h.9M279 308h.9M257.5 319.5h.9M270 317.5h.9M252.5 325.5h.9M254 329.5h.9M266.5 313.5h.9M257.5 304.5h.9M252.5 330.5h.9M258.5 307h.9M260 301.5h.9M252.5 319.5h.9M265 321.5h.9M251.5 326h.9M272 304h.9M270.5 316h.9M250.5 319h.9M268 314.5h.9M252.5 311h.9M258.5 323.5h.9M263.5 300.5h.9M253.5 312h.9M265.5 314.5h.9M260.5 324h.9M281.5 286h.9M256.5 303.5h.9M255 309.5h.9M281.5 295.5h.9M253 333h.9M248 324h.9M264.5 294.5h.9M251 310.5h.9M259.5 305.5h.9M250 317h.9M252 318.5h.9M255.5 324.5h.9M275 305.5h.9M279.5 285.5h.9M276 291h.9M247.5 328h.9M277.5 296h.9M284 292h.9M256.5 306h.9M254 328h.9M251 325.5h.9M278.5 299h.9M268 295h.9M272.5 307h.9M272.5 299h.9M249.5 316.5h.9M271 301.5h.9M273.5 313h.9M265 328h.9M246.5 321.5h.9M251.5 312h.9M271.5 305.5h.9M259 322h.9M257 302h.9M260 305h.9M276 304h.9M248 310h.9M249.5 312h.9M245.5 331h.9M266.5 299.5h.9M273.5 310h.9M253 325.5h.9M268.5 304.5h.9M247.5 317.5h.9M262 324h.9M278 298h.9M259.5 304.5h.9M266 323h.9M260 321h.9M261 322h.9M282 314h.9M265.5 303h.9M258.5 324h.9" stroke="#a4aee6" stroke-width="0.9" fill="none"/>
<path d="M266 304.5h.9M265 316.5h.9M262.5 312h.9M262.5 313h.9M260 316.5h.9M254.5 313.5h.9M262 313.5h.9M264 305h.9M267 303.5h.9M256 316h.9M270.5 304.5h.9M269 308.5h.9M255.5 315.5h.9M260.5 319.5h.9M258 311.5h.9M259 317.5h.9M261 317h.9M266.5 311h.9M252.5 319.5h.9M258 311h.9M268.5 307.5h.9M260.5 316h.9M257.5 312h.9M266.5 305h.9M265 312h.9M262 310.5h.9M255.5 317h.9M265.5 309h.9M263 313.5h.9M262.5 307.5h.9M260 315.5h.9M263 309.5h.9M273.5 303h.9M261.5 314h.9M261 312.5h.9M261 310.5h.9M264.5 306h.9M258 313h.9M260.5 314h.9M269.5 311h.9M267.5 308h.9M257 313h.9M264 313h.9M260 317.5h.9M262.5 309h.9M266 311.5h.9M265.5 308h.9M260.5 312h.9M268.5 312.5h.9M261.5 314h.9M257 319.5h.9M263 311.5h.9M260.5 316.5h.9M266.5 301.5h.9M259 317h.9M264 313.5h.9M264.5 309.5h.9M264 305.5h.9M261.5 316.5h.9M261.5 308.5h.9M274.5 297h.9M263 312h.9M270.5 308.5h.9M258 312h.9M262.5 314h.9M267.5 299.5h.9M273 302h.9M268 304.5h.9M261.5 311.5h.9M259 315h.9M267.5 315h.9M259 315.5h.9M269.5 300h.9M264.5 311h.9M263 311.5h.9M262 311.5h.9M258 320h.9M260 316h.9M269 304h.9M265 312.5h.9M264 307.5h.9M265.5 308.5h.9M262 311.5h.9M271.5 300h.9M259.5 307.5h.9M265.5 311.5h.9M253 322h.9M257 314.5h.9M265 306.5h.9M263.5 304h.9M262 314h.9M260.5 312h.9M263 314.5h.9M270.5 310h.9M254.5 316.5h.9M259 316h.9M261 311h.9M259.5 313.5h.9M268.5 308.5h.9M254.5 316.5h.9M264.5 302h.9M268 300h.9M272 302h.9M262.5 311h.9M264 309.5h.9M261.5 313.5h.9M260.5 308.5h.9M268 309.5h.9M259.5 311h.9M268 304h.9M271.5 309.5h.9M269.5 307.5h.9M266.5 309h.9M267.5 302h.9M262 311h.9M255 323h.9M266.5 303.5h.9M273.5 303h.9M271 309h.9M257.5 319h.9M254.5 313h.9M270 306h.9M257 322.5h.9M265.5 309.5h.9M264 306h.9M256.5 324h.9M268 307.5h.9M268 308h.9M270 309.5h.9M267 300.5h.9M263.5 306h.9M269 305.5h.9M260.5 314.5h.9M260.5 312.5h.9M262 313h.9M262.5 310h.9M264 313.5h.9M270.5 305.5h.9M265.5 309h.9M253.5 326h.9M262 313.5h.9M263.5 313h.9M259.5 305.5h.9M260.5 308h.9M265.5 308.5h.9M265.5 310h.9M261 318.5h.9M262 301.5h.9M275 305h.9M266.5 300h.9M255 319.5h.9M260.5 318.5h.9M264 302.5h.9M271.5 302.5h.9M259.5 318h.9M252 322.5h.9M264.5 311h.9M255 314h.9M263 309h.9M261.5 315.5h.9M255.5 317.5h.9M264 303.5h.9M270.5 306h.9M263.5 311h.9M261.5 309.5h.9M256.5 321.5h.9M256.5 311.5h.9M259 321.5h.9M255 318.5h.9M262.5 310.5h.9M269 303h.9M261 310h.9M266.5 307.5h.9M258.5 312h.9M256 318h.9M256 310.5h.9M267 301h.9M257.5 307.5h.9M258.5 311h.9M265 306.5h.9M264 309h.9M257.5 313.5h.9M266 306.5h.9M259 319.5h.9M271 301h.9M263 310.5h.9M262.5 317.5h.9M258 316.5h.9M265.5 310.5h.9M250 327.5h.9M254.5 311.5h.9M273 302.5h.9M268.5 303.5h.9M271 311h.9M259 307h.9M263.5 305.5h.9M264 310.5h.9M253 318h.9M263 306h.9M259.5 318.5h.9M262.5 318.5h.9M260.5 318.5h.9M267 305h.9M306 256h.9M311 257.5h.9M305.5 256.5h.9M305 258.5h.9M298.5 258.5h.9M291.5 255.5h.9M306.5 256.5h.9M304.5 257h.9M298.5 254h.9M289 258.5h.9M295 253.5h.9M304 256h.9M301 258h.9M297.5 259.5h.9M288.5 255.5h.9M302 256h.9M301.5 257h.9M305 257.5h.9M300 256.5h.9M298 259.5h.9M308 254.5h.9" stroke="#2a3aa8" stroke-width="0.9" fill="none"/>
<path d="M296.5 258h.9M303.5 253.5h.9M301 257.5h.9M300 257h.9M297.5 259h.9M309 255.5h.9M294 257h.9M306 253.5h.9M306 255h.9M297 255h.9" stroke="#40a8a0" stroke-width="0.9" fill="none"/>
<path d="M302.5 259h.9M293 259.5h.9M291 261.5h.9M297 256h.9M295.5 256.5h.9M293 257.5h.9M304 256.5h.9M306 255.5h.9M308.5 257.5h.9M299.5 255.5h.9M304.5 254h.9M297.5 255.5h.9M300 257.5h.9M307.5 253.5h.9M297 255.5h.9M299.5 255.5h.9M296 256.5h.9M303 257h.9M296 254.5h.9M298 256h.9M308.5 255.5h.9M295.5 256.5h.9M297.5 255h.9M290 255h.9M298.5 255h.9M300.5 253h.9M300.5 254.5h.9M285.5 257.5h.9M305.5 255.5h.9" stroke="#6a80d8" stroke-width="0.9" fill="none"/>
<ellipse cx="262.50" cy="311.20" rx="22.00" ry="8.20" fill="url(#core)" transform="rotate(-50 262.50 311.20)"/>
<ellipse cx="256.00" cy="323.20" rx="3.2" ry="4.2" fill="#d8e8f0" fill-opacity="0.75"/>
<ellipse cx="299.50" cy="256.20" rx="8.80" ry="2.80" fill="url(#q2g)" transform="rotate(-8 299.50 256.20)"/>
<path d="M283.5 242.2V334.2M242.5 292.5H334.5" stroke="#2a2a2a" stroke-width="1" fill="none"/>
<text x="245.00" y="249.90" font-size="4.5" text-anchor="start" fill="#3a3a3a" font-weight="normal">Q1</text>
<text x="245.00" y="255.60" font-size="4.5" text-anchor="start" fill="#3a3a3a" font-weight="normal">0.56</text>
<text x="327.50" y="249.90" font-size="4.5" text-anchor="end" fill="#3a3a3a" font-weight="normal">Q2</text>
<text x="327.50" y="255.60" font-size="4.5" text-anchor="end" fill="#3a3a3a" font-weight="normal">3.02</text>
<text x="245.00" y="324.70" font-size="4.5" text-anchor="start" fill="#3a3a3a" font-weight="normal">Q4</text>
<text x="245.00" y="330.20" font-size="4.5" text-anchor="start" fill="#3a3a3a" font-weight="normal">96.0</text>
<text x="327.50" y="324.70" font-size="4.5" text-anchor="end" fill="#3a3a3a" font-weight="normal">Q3</text>
<text x="327.50" y="330.20" font-size="4.5" text-anchor="end" fill="#3a3a3a" font-weight="normal">0.44</text>
<text x="83.00" y="352.70" font-size="9.1" text-anchor="middle" fill="#1a1a1a" font-weight="bold">Amitriptyline</text>
<line x1="35.50" y1="358.00" x2="35.50" y2="450.00" stroke="#6a6a6a" stroke-width="0.9"/>
<line x1="35.50" y1="450.00" x2="127.50" y2="450.00" stroke="#8a8a8a" stroke-width="0.8"/>
<line x1="127.50" y1="358.00" x2="127.50" y2="450.00" stroke="#a0a0a0" stroke-width="0.9"/>
<path d="M33.5 367.0h2M30.0 367.5l1.2 -1.2m.4 .2h.8M33.5 388.0h2M30.0 388.5l1.2 -1.2m.4 .2h.8M33.5 408.0h2M30.0 408.5l1.2 -1.2m.4 .2h.8M33.5 430.0h2M30.0 430.5l1.2 -1.2m.4 .2h.8M33.5 444.0h2M30.0 444.5l1.2 -1.2m.4 .2h.8M41.5 450.0v1.6M40.7 454.0l1.2 -1.2m.4 .2h.8M56.0 450.0v1.6M55.2 454.0l1.2 -1.2m.4 .2h.8M77.5 450.0v1.6M76.7 454.0l1.2 -1.2m.4 .2h.8M98.5 450.0v1.6M97.7 454.0l1.2 -1.2m.4 .2h.8M119.5 450.0v1.6M118.7 454.0l1.2 -1.2m.4 .2h.8M36.0 362.0h1M36.0 369.5h1M36.0 377.0h1M36.0 384.5h1M36.0 392.0h1M36.0 399.5h1M36.0 407.0h1M36.0 414.5h1M36.0 422.0h1M36.0 429.5h1M36.0 437.0h1M36.0 444.5h1" stroke="#777" stroke-width="0.55" fill="none"/>
<path d="M87 365.5h.9M89.5 392h.9M80 415.5h.9M70.5 403.5h.9M68 406h.9M91.5 398.5h.9M98 382.5h.9M72 392h.9M55 395.5h.9M65 412.5h.9M82.5 391h.9M68 405h.9M83 385.5h.9M89.5 388h.9M94.5 405.5h.9M74 393h.9M64 400.5h.9M80 390.5h.9M82 409h.9M78 410h.9" stroke="#6070c8" stroke-width="0.9" fill="none"/>
<path d="M97 388h.9M73 419.5h.9M109.5 386.5h.9M73.5 387h.9M81.5 393.5h.9M62.5 416h.9M100 364h.9M98.5 373h.9M83.5 390.5h.9M97.5 375h.9M72 408.5h.9M81 371.5h.9M60 404.5h.9M77.5 398.5h.9M74 409.5h.9M66 387h.9M79 393.5h.9M82 386h.9M86.5 386.5h.9M62 414h.9M102 385.5h.9M65.5 406h.9M72 407h.9M88 397h.9M72 403.5h.9M94.5 378.5h.9M72 388.5h.9M67.5 417.5h.9M81.5 385h.9M82 384.5h.9M71.5 400.5h.9M63.5 397h.9M85 416.5h.9M85.5 389.5h.9M83.5 393.5h.9M88 371.5h.9M59 406.5h.9M81.5 366h.9M89 396h.9M59.5 408h.9M96.5 386h.9M87 359h.9M68.5 431h.9M96.5 386h.9M85.5 378.5h.9M93 389.5h.9M93.5 365.5h.9M105.5 384h.9M94.5 393h.9M90.5 382.5h.9M104.5 379h.9M77 391.5h.9M84 398.5h.9M78 421.5h.9M90 380h.9M75.5 383.5h.9M92 384.5h.9M66 422h.9M76.5 405.5h.9M77.5 415.5h.9M85 399h.9M90.5 370.5h.9M94 376h.9M62 399h.9M84.5 394h.9M96 392.5h.9M72 403h.9M70 410h.9M61.5 408h.9M68 408.5h.9M102 401.5h.9M104 388h.9M84 386.5h.9M64 409.5h.9M100.5 380.5h.9M97.5 381.5h.9M93.5 394h.9M87 380h.9M103 388.5h.9M85 393.5h.9" stroke="#b4bbea" stroke-width="0.9" fill="none"/>
<path d="M59.5 427.5h.9M56 423h.9M56 425.5h.9M62.5 428h.9M58.5 425.5h.9M50 426h.9M58 427h.9M46 432.5h.9M61.5 421h.9M62.5 427.5h.9M63.5 425.5h.9M58 424h.9M46 437h.9M56 432h.9M54 423.5h.9M56.5 424h.9M54.5 429h.9M56.5 432.5h.9M57 427h.9M56.5 431h.9M56.5 421h.9M54.5 433.5h.9M57 425h.9M67.5 414h.9M45.5 438h.9M56 421h.9M61 417.5h.9M63.5 425h.9M53.5 426.5h.9M63 420h.9M52 435h.9M53 429h.9M51 428.5h.9M56 428.5h.9M45.5 433h.9M49.5 430h.9M50.5 427.5h.9M51 423h.9M52 426.5h.9M65 418.5h.9M56.5 427.5h.9M56 431.5h.9M51 425.5h.9M48.5 437h.9M52.5 426.5h.9M44 438.5h.9M58.5 422.5h.9M53 424h.9M54 432.5h.9M61 415.5h.9M54 427h.9M66 413.5h.9M63 417h.9M59.5 417h.9M49 427.5h.9M60 422h.9M48 436.5h.9M52 424.5h.9M62 425.5h.9M54 428h.9M59 421.5h.9M55.5 425.5h.9M54.5 426.5h.9M55 426.5h.9M48.5 427h.9M47.5 429h.9M63.5 428h.9M48.5 432h.9M50.5 436h.9M59.5 418h.9M59.5 419h.9M53.5 423h.9M48.5 431h.9M64 422h.9M59 424.5h.9M57 430.5h.9M60 420h.9M53 429h.9M50 431h.9M59 420.5h.9M60.5 414h.9M57.5 428h.9M64 420h.9M54 425.5h.9M51.5 427.5h.9M51.5 426.5h.9M52.5 423.5h.9M56.5 423h.9M49 431.5h.9M45 434.5h.9M57 430.5h.9M59.5 426h.9M49 431h.9M58 419.5h.9M49 436.5h.9M55.5 424h.9M55 428h.9M55.5 424.5h.9M54.5 428.5h.9M54 427.5h.9M65.5 418h.9M60.5 416h.9M57.5 434h.9M57 423.5h.9M61 423h.9M67 417.5h.9M50 440h.9M52 426h.9M49 436.5h.9M62.5 417.5h.9M60.5 427h.9M62.5 417h.9M59 428h.9M52 423h.9M56.5 430h.9M52 429.5h.9M52.5 424.5h.9M54.5 433.5h.9M60 425.5h.9M52.5 439.5h.9M60.5 427h.9M51 432.5h.9M51.5 428h.9M53 430h.9M51.5 428h.9M55.5 425.5h.9M56 424.5h.9M64 423.5h.9M56.5 421.5h.9M60 421h.9M63.5 424h.9M45.5 431.5h.9M60.5 422h.9M55 430h.9M58 424h.9M53.5 427.5h.9M55 430h.9M49 435.5h.9M55.5 424h.9M56.5 415.5h.9M52 429.5h.9M46.5 436h.9M50.5 434.5h.9M51.5 434h.9M50 430.5h.9M56 421.5h.9M54 428.5h.9M62.5 417.5h.9M54 430h.9M64.5 423.5h.9M54 430.5h.9M57 421h.9M56 428h.9M48 436h.9M53 428h.9M61.5 422h.9M57 426.5h.9M61.5 425h.9M55.5 419h.9M64 417.5h.9M53.5 423h.9M45.5 433h.9M63.5 420.5h.9M58.5 427.5h.9M64 422.5h.9M54.5 426.5h.9M56.5 423h.9M58 428.5h.9M53 426h.9M54 432.5h.9M56.5 427h.9M56 430.5h.9M54.5 436.5h.9M55 422.5h.9M55.5 425.5h.9M54 422.5h.9M57.5 426h.9M60.5 422.5h.9M52 428.5h.9M55 430.5h.9M48 427.5h.9M48 431h.9M61.5 422.5h.9M52.5 428h.9M48 428.5h.9M50.5 429h.9M46.5 428h.9M64 419h.9M57 424.5h.9M56 429.5h.9M60.5 432.5h.9M58 419.5h.9M58 423h.9M52 436.5h.9M55.5 433.5h.9M55.5 428h.9M53 427.5h.9M55 431h.9M64.5 420h.9M58 427.5h.9M53 421h.9M55.5 425h.9M55 419h.9M56 421h.9M53.5 430h.9M50.5 435.5h.9M52.5 430.5h.9M91.5 373h.9M87.5 371h.9M89 376.5h.9M86.5 372.5h.9M94.5 371h.9M100.5 374.5h.9M98.5 371.5h.9M87 375h.9M88.5 371.5h.9M81 373h.9M96 374.5h.9M92.5 373h.9M92.5 372h.9M92 377.5h.9M92.5 371.5h.9M88.5 376h.9M95.5 373.5h.9M91 373h.9M95 374h.9M102 375h.9M97 372.5h.9M98.5 373.5h.9M88 372.5h.9M96.5 374.5h.9M93.5 376h.9M87 375h.9M94.5 373.5h.9" stroke="#2a3aa8" stroke-width="0.9" fill="none"/>
<path d="M46.5 439.5h.9M69.5 419h.9M49 427h.9M55 418.5h.9M42.5 431h.9M49 432.5h.9M47.5 433.5h.9M54 433.5h.9M57.5 433h.9M61.5 426h.9M39.5 435.5h.9M44.5 435.5h.9M66.5 415.5h.9M56 429h.9M60 418.5h.9M55 423.5h.9M55 416.5h.9M44.5 435h.9M63.5 422.5h.9M50.5 433.5h.9M49 428.5h.9M61 432h.9M69.5 409h.9M53 428.5h.9M55 425.5h.9M52.5 422.5h.9M40.5 442.5h.9M73.5 419h.9M48.5 433h.9M60 435.5h.9M69.5 414h.9M69.5 418h.9M60.5 433.5h.9M52 428.5h.9M51 430.5h.9M49 442h.9M63 421h.9M55 422h.9M52.5 437h.9M60.5 428.5h.9M60.5 413h.9M64.5 416.5h.9M56 432.5h.9M47 420h.9M46 441h.9M59.5 423.5h.9M47 436h.9M47 424.5h.9M51 430h.9M57.5 416.5h.9M66.5 420h.9M58.5 415h.9M54.5 431.5h.9M51 432.5h.9M59.5 428.5h.9M55.5 415.5h.9M59.5 420h.9M56 424.5h.9M63 415h.9M54.5 428.5h.9M60.5 431.5h.9M60 426h.9M49.5 434h.9M58.5 427.5h.9M54 432.5h.9M59.5 425h.9M55 422h.9M41.5 442.5h.9M45.5 434h.9M52.5 430.5h.9M42 437.5h.9M52.5 421h.9M64 417h.9M70 421h.9M54 425h.9M37.5 446.5h.9M53 434h.9M48 428.5h.9M58.5 435.5h.9M48 440.5h.9M64 418.5h.9M52 434h.9M50 436h.9M43 439.5h.9M55 433.5h.9M52 437h.9M50.5 418.5h.9M66 419h.9M64.5 420h.9M41 441h.9M53 424.5h.9M50 441.5h.9M47.5 432.5h.9M43 439h.9M51 432.5h.9M42.5 438.5h.9M61 423h.9M63 411.5h.9M50 431.5h.9M45.5 426h.9M66.5 410h.9M60 427.5h.9M50 423.5h.9M60.5 429h.9M52 431.5h.9M59.5 431.5h.9M65 422.5h.9M45.5 431.5h.9M58.5 419h.9M48.5 428.5h.9M52 427.5h.9M58 426.5h.9M57 416.5h.9M64 408.5h.9M46 427h.9M64.5 413.5h.9M51 432h.9M51 422h.9M50.5 436h.9M57 430h.9M58.5 423.5h.9M53 422h.9M64 409h.9M65.5 416h.9M50.5 427h.9M46.5 437.5h.9M69 414.5h.9M55.5 418.5h.9M52.5 422.5h.9M59 419.5h.9M65.5 417.5h.9M50 421h.9M54 419.5h.9M55 426.5h.9M53 438.5h.9M49.5 439h.9M51.5 428h.9M53 433h.9M63 414h.9M43.5 430.5h.9M54.5 428.5h.9M59 429h.9M53.5 427h.9M56 428h.9M60 426h.9M62.5 428.5h.9M60.5 431h.9M47 436.5h.9M49.5 429h.9M68.5 421.5h.9M50 433.5h.9M60.5 430h.9M56 430h.9M54.5 431.5h.9M47.5 428h.9M68 412.5h.9M61.5 420.5h.9M63.5 415h.9M58 430h.9M65 414h.9M50 425.5h.9M62 410.5h.9M49 445h.9M68 424h.9M50 427h.9M64.5 425.5h.9M55.5 431.5h.9M49.5 430.5h.9M59 429.5h.9M67.5 415h.9M44.5 438.5h.9M43.5 442.5h.9M45 433h.9M50.5 441.5h.9M58.5 421h.9M71.5 417h.9M45.5 442.5h.9M63 421h.9M64 418h.9M56.5 418.5h.9M49 428.5h.9M64.5 418h.9M56 422h.9M58.5 429h.9M44 437.5h.9M60.5 418.5h.9M50.5 436h.9M61.5 421.5h.9M53.5 425h.9M66 411h.9M51 433h.9M42.5 432h.9M63 428h.9M42.5 431.5h.9M54 437h.9M53 426.5h.9M48 426h.9M55 429.5h.9M63.5 411.5h.9M65 408.5h.9M48.5 424h.9M59.5 414.5h.9M63.5 413h.9M65.5 420.5h.9M56.5 423h.9M60.5 417h.9M61 418h.9M67 417.5h.9M60 429.5h.9M53 425.5h.9M61.5 429h.9M49.5 430.5h.9M57 434h.9M53.5 419h.9M53 428.5h.9M49 433h.9M54 418h.9M54.5 421.5h.9M58 429.5h.9M48.5 433h.9M48 427.5h.9M70.5 409.5h.9M53 423.5h.9M61.5 417.5h.9M51.5 428.5h.9M77 411h.9M49.5 429.5h.9M67 417.5h.9M55 435.5h.9M51.5 428h.9M48.5 433.5h.9M53.5 433.5h.9M54 411.5h.9M65.5 424h.9M43.5 433h.9M63.5 427h.9M41.5 433.5h.9M65 425.5h.9M56.5 416h.9M60.5 426h.9M53.5 430.5h.9M51 432h.9M44 442.5h.9M45 426.5h.9M51 426.5h.9M58 430h.9M66 421.5h.9M61.5 411.5h.9M53.5 421h.9M42.5 433.5h.9M49 438.5h.9M39.5 439.5h.9M70.5 416h.9M55 415.5h.9M59 431h.9M40 430.5h.9M46 441h.9M46 433h.9M51.5 436.5h.9M63.5 425h.9M55 426.5h.9M45.5 442h.9M67.5 412h.9M46 437h.9M50 428h.9M54 422h.9M51 433h.9M52 438h.9M49.5 427h.9M53.5 431h.9M59.5 428.5h.9M53 433.5h.9M57 439h.9M52 420h.9M51 436.5h.9M48.5 433h.9M56 430h.9M44.5 437h.9M70.5 412.5h.9M56.5 432h.9M53 419h.9M58.5 431h.9M61.5 424.5h.9M53 432h.9M53.5 423.5h.9M52.5 428h.9M54 427h.9M46.5 428h.9M59 420.5h.9M60.5 427h.9M69 422.5h.9" stroke="#5068c8" stroke-width="0.9" fill="none"/>
<path d="M47 438.5h.9M54.5 418.5h.9M56 420h.9M74.5 401h.9M51 438.5h.9M70 418.5h.9M72 412h.9M66.5 419.5h.9M59 417h.9M67.5 428.5h.9M69.5 405h.9M42 432h.9M45 425h.9M68.5 412.5h.9M38.5 439.5h.9M50.5 425.5h.9M51.5 443.5h.9M71 410h.9M67 416.5h.9M42.5 424h.9M65 407h.9M50.5 422h.9M61.5 433.5h.9M72 412h.9M61 431.5h.9M45.5 449h.9M58.5 435h.9M64 415.5h.9M70.5 403.5h.9M36.5 448.5h.9M43.5 442.5h.9M67.5 424h.9M61.5 414.5h.9M60.5 416.5h.9M64.5 407.5h.9M41.5 437h.9M60.5 430.5h.9M70 414.5h.9M41 437.5h.9M64.5 405.5h.9M51.5 420.5h.9M54.5 434.5h.9M48 428h.9M71 418h.9M50 429h.9M44.5 445.5h.9M61.5 437h.9M47 435h.9M69 419h.9M59.5 430h.9M47.5 431h.9M50 443.5h.9M74 414h.9M67.5 417.5h.9M66 424h.9M80 411.5h.9M44.5 434h.9M65 426.5h.9M49.5 424.5h.9M44 443.5h.9M48.5 429h.9M45 421.5h.9M59 429.5h.9M63.5 415.5h.9M78.5 417.5h.9M70.5 405h.9M45.5 429h.9M70 412h.9M63 411.5h.9M49 424.5h.9M76.5 403.5h.9M46 432.5h.9M37.5 443.5h.9M53.5 433.5h.9M75.5 409.5h.9M54 414h.9M54 413.5h.9M59.5 411h.9M49 439.5h.9M53.5 422h.9M66 435h.9M57 434h.9M49 440h.9M74 419h.9M49 442.5h.9M55.5 437.5h.9M46 432.5h.9M68 415h.9M44 437.5h.9M71 411h.9M62 428h.9M39 440.5h.9M52.5 420.5h.9M53 434h.9M41.5 447.5h.9M63 405.5h.9M43 422.5h.9M40 439h.9M51 417h.9M59 418h.9M53.5 433h.9M46 425.5h.9M45.5 421.5h.9M49.5 421.5h.9M63 414h.9M48 432.5h.9M43.5 433.5h.9M42 436.5h.9M44 446h.9M38.5 448h.9M66 432h.9M45 421.5h.9M45 443h.9M46 427h.9M51 441h.9M58.5 433.5h.9M64 421h.9M42.5 421.5h.9M64.5 414.5h.9M46.5 437.5h.9M60.5 429h.9M42 438.5h.9M40.5 432.5h.9M64.5 412h.9M60 431.5h.9M45 442.5h.9M60 413h.9M74 409h.9M61 432h.9M66.5 403.5h.9M61 415h.9M55.5 431.5h.9M67.5 409h.9M54 421h.9M52.5 414h.9M60 434h.9M65.5 422.5h.9M52.5 419h.9M55 418.5h.9M58 408.5h.9M67 411h.9M54.5 414.5h.9M50.5 439.5h.9M54.5 421.5h.9M71.5 419.5h.9M37.5 439.5h.9M60 434.5h.9M63.5 419.5h.9M58 417h.9M77.5 420h.9M58.5 418h.9M43 440h.9M67 414.5h.9M60.5 417.5h.9M43 436h.9M52 441.5h.9M55.5 437.5h.9M54 443h.9M62 429h.9M62.5 433h.9M66.5 415.5h.9M61 415h.9M47 421h.9M67.5 411.5h.9M43 427h.9M55 436.5h.9M59 409h.9M62 417.5h.9M41 443h.9M65.5 411h.9M40.5 447.5h.9M60.5 441.5h.9M57.5 419.5h.9M68.5 412h.9M49 426h.9M62 436h.9M45.5 445.5h.9M51.5 421.5h.9M64.5 430.5h.9M62 407.5h.9M71.5 412.5h.9M65 427.5h.9M53.5 418.5h.9M60 430h.9M57.5 432.5h.9M52 437.5h.9M64 420h.9M70 407.5h.9M70.5 416.5h.9M42 428h.9M52.5 417.5h.9" stroke="#a4aee6" stroke-width="0.9" fill="none"/>
<path d="M89.5 375h.9M84.5 376h.9M86.5 374.5h.9M85 373h.9M95.5 370h.9M89 373.5h.9M87.5 376.5h.9M93 374.5h.9M86.5 373h.9M82.5 376.5h.9M95 376.5h.9M88 371h.9M85 372h.9M96 373.5h.9M87.5 375h.9M84 373h.9M82.5 377.5h.9M93 372.5h.9M86.5 372h.9M92.5 373h.9M93.5 374h.9M91 370h.9" stroke="#6a80d8" stroke-width="0.9" fill="none"/>
<path d="M100 373h.9M87 373.5h.9M98.5 373.5h.9M85.5 376.5h.9M82.5 376.5h.9M86.5 376h.9" stroke="#40a8a0" stroke-width="0.9" fill="none"/>
<ellipse cx="56.00" cy="426.00" rx="22.00" ry="8.20" fill="url(#core)" transform="rotate(-50 56.00 426.00)"/>
<ellipse cx="49.00" cy="439.00" rx="3.2" ry="4.2" fill="#d8e8f0" fill-opacity="0.75"/>
<ellipse cx="90.50" cy="374.00" rx="8.80" ry="2.80" fill="url(#q2g)" transform="rotate(-8 90.50 374.00)"/>
<path d="M76.5 358V450M35.5 407.5H127.5" stroke="#2a2a2a" stroke-width="1" fill="none"/>
<text x="38.00" y="365.70" font-size="4.5" text-anchor="start" fill="#3a3a3a" font-weight="normal">Q1</text>
<text x="38.00" y="371.40" font-size="4.5" text-anchor="start" fill="#3a3a3a" font-weight="normal">0.73</text>
<text x="120.50" y="365.70" font-size="4.5" text-anchor="end" fill="#3a3a3a" font-weight="normal">Q2</text>
<text x="120.50" y="371.40" font-size="4.5" text-anchor="end" fill="#3a3a3a" font-weight="normal">2.80</text>
<text x="38.00" y="440.50" font-size="4.5" text-anchor="start" fill="#3a3a3a" font-weight="normal">Q4</text>
<text x="38.00" y="446.00" font-size="4.5" text-anchor="start" fill="#3a3a3a" font-weight="normal">96.1</text>
<text x="120.50" y="440.50" font-size="4.5" text-anchor="end" fill="#3a3a3a" font-weight="normal">Q3</text>
<text x="120.50" y="446.00" font-size="4.5" text-anchor="end" fill="#3a3a3a" font-weight="normal">0.37</text>
<text x="185.40" y="352.70" font-size="9.1" text-anchor="middle" fill="#1a1a1a" font-weight="bold">Paroxetine</text>
<line x1="138.50" y1="358.00" x2="138.50" y2="450.00" stroke="#6a6a6a" stroke-width="0.9"/>
<line x1="138.50" y1="450.00" x2="230.50" y2="450.00" stroke="#8a8a8a" stroke-width="0.8"/>
<line x1="230.50" y1="358.00" x2="230.50" y2="450.00" stroke="#a0a0a0" stroke-width="0.9"/>
<path d="M136.5 367.0h2M133.0 367.5l1.2 -1.2m.4 .2h.8M136.5 388.0h2M133.0 388.5l1.2 -1.2m.4 .2h.8M136.5 408.0h2M133.0 408.5l1.2 -1.2m.4 .2h.8M136.5 430.0h2M133.0 430.5l1.2 -1.2m.4 .2h.8M136.5 444.0h2M133.0 444.5l1.2 -1.2m.4 .2h.8M144.5 450.0v1.6M143.7 454.0l1.2 -1.2m.4 .2h.8M159.0 450.0v1.6M158.2 454.0l1.2 -1.2m.4 .2h.8M180.5 450.0v1.6M179.7 454.0l1.2 -1.2m.4 .2h.8M201.5 450.0v1.6M200.7 454.0l1.2 -1.2m.4 .2h.8M222.5 450.0v1.6M221.7 454.0l1.2 -1.2m.4 .2h.8M139.0 362.0h1M139.0 369.5h1M139.0 377.0h1M139.0 384.5h1M139.0 392.0h1M139.0 399.5h1M139.0 407.0h1M139.0 414.5h1M139.0 422.0h1M139.0 429.5h1M139.0 437.0h1M139.0 444.5h1" stroke="#777" stroke-width="0.55" fill="none"/>
<path d="M198.5 372.5h.9M183 395.5h.9M200.5 395.5h.9M168 406h.9M149.5 419.5h.9M178.5 407.5h.9M189.5 400h.9M176.5 386.5h.9M178.5 400h.9M205 387.5h.9M186 378h.9M175.5 415h.9M174 428h.9M168 405h.9M165 411.5h.9M180 390.5h.9M198 382h.9M216 389.5h.9M195 399h.9M179 392h.9M182 388.5h.9M184.5 399h.9M173.5 429h.9M177 385.5h.9M182.5 389.5h.9M197.5 374h.9M202 373h.9M185.5 386h.9M207 377h.9M181 408.5h.9M190.5 367.5h.9M185 399h.9M195 389h.9M185 366.5h.9M188 377.5h.9M201.5 371.5h.9M205.5 387h.9M181 384h.9M195.5 365h.9M195 376.5h.9M176 394h.9M189.5 388h.9M154 409h.9M189.5 396.5h.9M188 374.5h.9M184.5 378h.9M143.5 401h.9M182 384h.9M176 415h.9M171 400.5h.9M191.5 394.5h.9M186.5 395.5h.9M205.5 373h.9M171.5 424h.9M189.5 385h.9M189 391h.9M185 401h.9M173 395.5h.9M177.5 382.5h.9M188.5 397h.9M184 388h.9M179.5 403.5h.9M198.5 360.5h.9M211.5 385h.9M192.5 399h.9M178 397.5h.9M183.5 410.5h.9M173.5 400h.9M163.5 411h.9M194.5 372h.9M188.5 379h.9M164.5 414h.9M190 391.5h.9M189.5 368.5h.9M176 407h.9M168.5 425h.9M200 381.5h.9M182.5 390.5h.9M180.5 403h.9M189 397.5h.9M184 410.5h.9M161 408.5h.9" stroke="#b4bbea" stroke-width="0.9" fill="none"/>
<path d="M191 390.5h.9M182.5 393.5h.9M191 403.5h.9M176.5 387.5h.9M196 400h.9M193 417.5h.9M179.5 390.5h.9M192.5 396.5h.9M204.5 369h.9M202.5 397h.9M202.5 375.5h.9M207 371h.9M189 397h.9M160.5 395.5h.9M176.5 407.5h.9M189.5 386h.9M193.5 370h.9M176 412h.9" stroke="#6070c8" stroke-width="0.9" fill="none"/>
<path d="M161 429.5h.9M151 428.5h.9M156 427.5h.9M158 425.5h.9M164 419h.9M151 434.5h.9M163.5 428.5h.9M164.5 427h.9M168.5 419h.9M158.5 424.5h.9M168.5 424h.9M149 429.5h.9M154 435.5h.9M155 429.5h.9M150.5 429.5h.9M162 423.5h.9M159 426.5h.9M159 425h.9M158 427h.9M160 432h.9M163 423.5h.9M161 419.5h.9M158 426h.9M169 419.5h.9M160 427h.9M161 423.5h.9M157 430.5h.9M169.5 410.5h.9M166.5 417h.9M155 426.5h.9M168 416h.9M155.5 419h.9M158.5 421.5h.9M164.5 425.5h.9M158.5 430.5h.9M161 423h.9M159 428.5h.9M164.5 422h.9M163 417.5h.9M156.5 428.5h.9M161 427.5h.9M159.5 419.5h.9M165.5 424.5h.9M161.5 423h.9M155 430.5h.9M153 430h.9M153 428.5h.9M158.5 433h.9M158 433.5h.9M154.5 424h.9M157 424.5h.9M159 427.5h.9M161 427h.9M160 425h.9M152.5 437h.9M164 423h.9M157.5 427h.9M162.5 431.5h.9M159 426.5h.9M163.5 425h.9M158.5 425.5h.9M163 426.5h.9M157 427.5h.9M163.5 419.5h.9M158 426.5h.9M157.5 427.5h.9M161 428h.9M152.5 434.5h.9M157.5 432.5h.9M160 424h.9M167.5 416.5h.9M163 420h.9M151.5 432h.9M166 423.5h.9M152.5 433h.9M159.5 426h.9M159.5 427.5h.9M161 421h.9M155.5 431h.9M153 429h.9M168 423h.9M155.5 428h.9M154 432.5h.9M163 419h.9M157.5 427.5h.9M159 421h.9M158 427.5h.9M151.5 427.5h.9M158.5 432h.9M161.5 428h.9M155 427h.9M161 426h.9M160.5 427h.9M169 419.5h.9M159.5 419h.9M156 426.5h.9M170.5 418.5h.9M153.5 430h.9M167 421h.9M160 421.5h.9M148 431h.9M155.5 427.5h.9M151.5 430.5h.9M162 429h.9M159 427.5h.9M155.5 426h.9M158 418.5h.9M156 428h.9M158.5 428h.9M159.5 426.5h.9M154.5 428.5h.9M163.5 422.5h.9M156.5 430h.9M155 430h.9M160.5 423.5h.9M162 423h.9M163.5 418.5h.9M157.5 423h.9M161 434.5h.9M161.5 425h.9M156.5 424.5h.9M156 428h.9M170 418.5h.9M158.5 432h.9M149 429h.9M164 420h.9M148 438.5h.9M150.5 430.5h.9M163 423.5h.9M158 429.5h.9M156.5 428.5h.9M157.5 432.5h.9M159.5 427h.9M154 424.5h.9M165.5 424h.9M154.5 428.5h.9M163 424h.9M157 433.5h.9M161.5 422.5h.9M152 427.5h.9M157.5 430h.9M159 425.5h.9M159 427.5h.9M156.5 428.5h.9M157.5 428.5h.9M149.5 435h.9M163 423h.9M155 429.5h.9M162 425h.9M168 423h.9M157 418.5h.9M167 429h.9M152.5 425.5h.9M166 420.5h.9M156.5 430h.9M163 430h.9M159 427h.9M165.5 422h.9M163.5 427.5h.9M163 422h.9M149.5 432.5h.9M166 422.5h.9M158 431h.9M161.5 428h.9M164.5 427h.9M153.5 423.5h.9M159.5 423h.9M157 426.5h.9M154 428.5h.9M151 427h.9M160.5 425.5h.9M164 423h.9M153 425h.9M171 415.5h.9M164.5 418.5h.9M163 415.5h.9M152 432h.9M161 426.5h.9M162.5 417h.9M163 418.5h.9M158.5 421h.9M154.5 428.5h.9M161.5 418h.9M153 426.5h.9M160.5 424.5h.9M160 421h.9M154 427h.9M165.5 418h.9M169 417.5h.9M166.5 419.5h.9M163.5 419h.9M165.5 421h.9M155 435h.9M169 414.5h.9M157 432h.9M196 369.5h.9M188 375h.9M195.5 374h.9M192.5 373h.9M199.5 373h.9M201.5 375.5h.9M199.5 375h.9M202.5 368h.9M188.5 368.5h.9M198 374h.9M193.5 371.5h.9M198.5 369h.9M196.5 373.5h.9M197.5 372h.9M200 371.5h.9M196.5 373h.9M200 372h.9M192 374.5h.9M200.5 371h.9M199.5 373.5h.9M195 372.5h.9" stroke="#2a3aa8" stroke-width="0.9" fill="none"/>
<path d="M177 416h.9M159 423.5h.9M164.5 412.5h.9M154 430h.9M162 423.5h.9M163 427h.9M143 446.5h.9M161.5 420h.9M155.5 431.5h.9M165 415h.9M153 447.5h.9M166.5 419.5h.9M169 419h.9M159.5 425.5h.9M165.5 416h.9M174.5 415h.9M172 412h.9M156 419.5h.9M153.5 427h.9M154.5 434.5h.9M168.5 415.5h.9M156.5 428.5h.9M153.5 426.5h.9M154 426h.9M160 424h.9M152.5 433.5h.9M146.5 431.5h.9M146.5 433.5h.9M172 410.5h.9M165.5 418h.9M156 430h.9M164 423.5h.9M160 423.5h.9M160.5 422h.9M170.5 418h.9M155 426.5h.9M149.5 424h.9M160.5 428.5h.9M154 438.5h.9M159.5 418h.9M155.5 432h.9M163 421h.9M165.5 421.5h.9M170.5 414h.9M151.5 434.5h.9M157 428h.9M163 423.5h.9M172 419.5h.9M158 431.5h.9M170 418h.9M149.5 430h.9M153.5 425h.9M162.5 418h.9M162 424h.9M153 428h.9M167 425.5h.9M146 440h.9M146.5 430h.9M172.5 422h.9M147 432h.9M144 439h.9M161 425h.9M169 411h.9M145.5 443.5h.9M148.5 433h.9M166 428.5h.9M168 423.5h.9M159 425.5h.9M167.5 418h.9M142 438.5h.9M159.5 429h.9M151.5 427h.9M159 419h.9M169.5 413.5h.9M146 445.5h.9M149.5 434h.9M149.5 424.5h.9M156.5 417.5h.9M170.5 409.5h.9M153 435h.9M158.5 415.5h.9M165.5 424h.9M148.5 440h.9M164.5 424.5h.9M158 426h.9M161 424.5h.9M156 423h.9M160.5 413.5h.9M146 442h.9M166 425h.9M161 426.5h.9M168.5 421.5h.9M151 432h.9M169.5 418h.9M168.5 408.5h.9M151 442h.9M153.5 428h.9M145.5 435h.9M162 418h.9M164.5 416h.9M156.5 434h.9M165 429h.9M165.5 412.5h.9M173 412.5h.9M151 437h.9M174.5 419.5h.9M163 419h.9M155 434h.9M159 416h.9M158 435.5h.9M169.5 417h.9M162 436h.9M171.5 420.5h.9M170 418.5h.9M168.5 411h.9M161 416.5h.9M155.5 419h.9M167 413h.9M167 432.5h.9M158.5 420h.9M146.5 429h.9M153.5 427h.9M160 424.5h.9M169.5 424h.9M156.5 417.5h.9M157 433.5h.9M161 418h.9M161 424h.9M159 427h.9M155.5 431.5h.9M176 418h.9M157.5 434h.9M166.5 417.5h.9M171 417h.9M168 423.5h.9M166 428h.9M162.5 417.5h.9M156 433.5h.9M162.5 427h.9M155 433h.9M155.5 431h.9M165 437h.9M152 441h.9M151.5 437h.9M154 419.5h.9M157.5 430h.9M163 428h.9M154 436h.9M151.5 442h.9M155 433h.9M158 424h.9M155.5 437h.9M154.5 419.5h.9M162 429.5h.9M170.5 411h.9M158 418h.9M161.5 421.5h.9M161 431h.9M159 438.5h.9M145.5 442h.9M164 416.5h.9M157 433.5h.9M155.5 434.5h.9M164.5 415h.9M151.5 442.5h.9M152.5 439h.9M154.5 429h.9M155 429.5h.9M174.5 410.5h.9M144 435.5h.9M158.5 421.5h.9M153.5 438h.9M167 415.5h.9M161 423.5h.9M164 431.5h.9M160 420.5h.9M158 420h.9M158.5 418h.9M162 417h.9M152 432h.9M146.5 437h.9M170.5 415h.9M166.5 421h.9M158.5 415h.9M158.5 433.5h.9M158 431h.9M153 434h.9M158.5 422.5h.9M163.5 432h.9M152 420.5h.9M167.5 413.5h.9M152.5 440.5h.9M159.5 440h.9M159 423.5h.9M146 435.5h.9M159 437h.9M153.5 438.5h.9M154 436.5h.9M158.5 431h.9M159 422h.9M168.5 417h.9M175 413.5h.9M167 421.5h.9M161 426.5h.9M154 432h.9M158 420.5h.9M163 421h.9M162 416.5h.9M147 432h.9M154 428.5h.9M174 409h.9M149 428.5h.9M161.5 419.5h.9M153 432.5h.9M166.5 418h.9M171 417.5h.9M163 422.5h.9M153 432h.9M155 427h.9M146 436.5h.9M173 417.5h.9M152 433.5h.9M156 434h.9M169.5 420.5h.9M169 420.5h.9M162 416h.9M155 422h.9M163.5 431h.9M155.5 437.5h.9M157.5 425.5h.9M146.5 431.5h.9M155.5 422.5h.9M171 421h.9M144.5 439.5h.9M163.5 419.5h.9M157 429h.9M158.5 423.5h.9M156 435h.9M158.5 424.5h.9M159 431.5h.9M161.5 417h.9M164 433h.9M163 422.5h.9M167.5 428.5h.9M158.5 416.5h.9M164.5 419.5h.9M169.5 417h.9M160 431.5h.9M164.5 424.5h.9M154 439.5h.9M168.5 423.5h.9M166 422h.9M166 418h.9M141.5 440h.9M161 427.5h.9M155 418.5h.9M162.5 419h.9M147 433h.9M156.5 421h.9M147.5 441.5h.9M159.5 426.5h.9M150.5 429.5h.9M158 434.5h.9M157 411h.9M152 432h.9M162 426.5h.9M154 431h.9M171.5 412.5h.9M154.5 422.5h.9M162 427h.9M172 418h.9M163 422h.9M165 418h.9M159 431.5h.9M168.5 416.5h.9M150 438.5h.9M157.5 420.5h.9M150.5 425h.9M168.5 421.5h.9M168.5 409h.9M161 414h.9M173.5 413.5h.9M153.5 421.5h.9M163 414.5h.9M160 425h.9M167.5 423h.9M162 423.5h.9M161.5 426.5h.9M162 417.5h.9M164 429.5h.9M176 407h.9M150 432.5h.9M153 440h.9M144.5 443.5h.9M157 422h.9M166.5 427.5h.9M170 418.5h.9M163 417h.9M162.5 412.5h.9M158.5 433h.9M148 434h.9M162.5 425h.9M158.5 424h.9M162.5 421h.9M149 431.5h.9M158.5 418.5h.9M164 420h.9" stroke="#5068c8" stroke-width="0.9" fill="none"/>
<path d="M165.5 405h.9M159 438h.9M176 407.5h.9M168 406h.9M167.5 411h.9M158.5 440h.9M149.5 438h.9M159 433h.9M163.5 434.5h.9M167.5 420h.9M155.5 432h.9M170 405h.9M163 431h.9M181.5 418h.9M161.5 414.5h.9M163.5 431.5h.9M154 425.5h.9M145 428h.9M171 419h.9M176 418.5h.9M162.5 429h.9M150 445.5h.9M159 415h.9M173 419h.9M148.5 443h.9M167 405.5h.9M151 437h.9M149.5 440.5h.9M149 426h.9M143.5 432.5h.9M151 427.5h.9M171 407.5h.9M169 412.5h.9M156.5 437.5h.9M153 442h.9M157.5 433h.9M149.5 434h.9M175.5 425h.9M142 421.5h.9M165 431h.9M143 445h.9M153.5 436.5h.9M165 421h.9M149.5 443.5h.9M164 414h.9M170 413.5h.9M152 421h.9M169 430.5h.9M161.5 415h.9M154 420h.9M179 417h.9M141.5 436h.9M145 442.5h.9M162 411h.9M167 435h.9M150 418h.9M166.5 416.5h.9M171 408h.9M164 431.5h.9M152 439h.9M152.5 434h.9M145.5 444h.9M160.5 410h.9M171 409.5h.9M167.5 426h.9M174.5 412h.9M148 441.5h.9M141.5 444.5h.9M168 422.5h.9M151.5 433h.9M171 412.5h.9M164.5 420h.9M144 433h.9M159.5 413.5h.9M168.5 409.5h.9M175 410h.9M181 405.5h.9M156.5 435.5h.9M169.5 422.5h.9M166 431.5h.9M165.5 438.5h.9M160 441h.9M153.5 432h.9M164.5 414h.9M156 416.5h.9M167 429h.9M164.5 413.5h.9M166 417h.9M145 432h.9M164.5 426.5h.9M150 433h.9M163.5 428h.9M166.5 424.5h.9M162.5 430.5h.9M152.5 424.5h.9M157 435.5h.9M159.5 441.5h.9M151.5 423h.9M143.5 441.5h.9M169.5 427h.9M143.5 428h.9M175 411.5h.9M171.5 424h.9M150 433.5h.9M166.5 428.5h.9M152 441.5h.9M176.5 416h.9M167 412.5h.9M145 420.5h.9M149.5 435h.9M166.5 424h.9M147 431h.9M161 417.5h.9M166.5 429.5h.9M164.5 405.5h.9M167 434h.9M163 417h.9M147.5 442.5h.9M172.5 414h.9M163 428h.9M152 432h.9M153 443.5h.9M156.5 415h.9M178 410.5h.9M175 420h.9M155 417.5h.9M152.5 421.5h.9M173.5 424.5h.9M151 434.5h.9M170.5 422h.9M171 402h.9M143.5 441.5h.9M160 439.5h.9M172.5 415.5h.9M146.5 422.5h.9M168.5 422h.9M141 444h.9M150.5 441h.9M147.5 447h.9M167 416h.9M180 418h.9M158.5 438.5h.9M163.5 434.5h.9M147.5 443.5h.9M147 440.5h.9M150 438h.9M171 407.5h.9M148.5 446h.9M166.5 417.5h.9M164 413.5h.9M155.5 419.5h.9M153.5 434h.9M168.5 404h.9M164 427.5h.9M166.5 418h.9M173.5 418h.9M160.5 420.5h.9M149.5 428h.9M157 436h.9M170 426h.9M159.5 407h.9M168.5 424h.9M143.5 435h.9M149 433h.9M167.5 426h.9M165 426.5h.9M145 439h.9M161.5 435.5h.9M163.5 413h.9M147 433.5h.9M157.5 434h.9M146 443h.9M153 435.5h.9M160.5 417h.9M157 439.5h.9M162.5 411.5h.9M151 436h.9M149 432.5h.9M156 416.5h.9M165.5 423h.9M167 422h.9M168 427.5h.9M150.5 430h.9M145.5 439h.9M174.5 426h.9M160.5 439.5h.9M170.5 423h.9M183 421h.9M170.5 419.5h.9M169 416.5h.9M181.5 401h.9" stroke="#a4aee6" stroke-width="0.9" fill="none"/>
<path d="M201.5 371h.9M196.5 372h.9M198.5 371h.9M194.5 374h.9M195.5 372h.9M199.5 374.5h.9M200 371h.9M187.5 373.5h.9M192 374h.9M198.5 374.5h.9M200 372.5h.9" stroke="#40a8a0" stroke-width="0.9" fill="none"/>
<path d="M185 373h.9M190 375h.9M193.5 371.5h.9M201 370.5h.9M195.5 373.5h.9M192 375.5h.9M203.5 371.5h.9M196 370.5h.9M201 373.5h.9M208 375.5h.9M197.5 372.5h.9M194.5 374h.9M191.5 374.5h.9M196 376h.9M193 374.5h.9M198 375h.9M199 372.5h.9M187.5 374h.9M190 375.5h.9M188.5 372.5h.9M190 376h.9M191 373h.9M195 374h.9M190 372h.9M198.5 369.5h.9M192.5 370h.9M195.5 374h.9M203 372.5h.9M198.5 371h.9M185.5 375h.9M203 371.5h.9M194 373.5h.9M189 377.5h.9" stroke="#6a80d8" stroke-width="0.9" fill="none"/>
<ellipse cx="159.00" cy="426.00" rx="22.00" ry="8.20" fill="url(#core)" transform="rotate(-48 159.00 426.00)"/>
<ellipse cx="152.00" cy="439.00" rx="3.2" ry="4.2" fill="#d8e8f0" fill-opacity="0.75"/>
<ellipse cx="195.50" cy="373.00" rx="8.80" ry="2.80" fill="url(#q2g)" transform="rotate(-8 195.50 373.00)"/>
<path d="M179.5 358V450M138.5 407.5H230.5" stroke="#2a2a2a" stroke-width="1" fill="none"/>
<text x="141.00" y="365.70" font-size="4.5" text-anchor="start" fill="#3a3a3a" font-weight="normal">Q1</text>
<text x="141.00" y="371.40" font-size="4.5" text-anchor="start" fill="#3a3a3a" font-weight="normal">0.84</text>
<text x="223.50" y="365.70" font-size="4.5" text-anchor="end" fill="#3a3a3a" font-weight="normal">Q2</text>
<text x="223.50" y="371.40" font-size="4.5" text-anchor="end" fill="#3a3a3a" font-weight="normal">4.32</text>
<text x="141.00" y="440.50" font-size="4.5" text-anchor="start" fill="#3a3a3a" font-weight="normal">Q4</text>
<text x="141.00" y="446.00" font-size="4.5" text-anchor="start" fill="#3a3a3a" font-weight="normal">94.3</text>
<text x="223.50" y="440.50" font-size="4.5" text-anchor="end" fill="#3a3a3a" font-weight="normal">Q3</text>
<text x="223.50" y="446.00" font-size="4.5" text-anchor="end" fill="#3a3a3a" font-weight="normal">0.45</text>
<text x="285.90" y="352.70" font-size="9.1" text-anchor="middle" fill="#1a1a1a" font-weight="bold">Tandospirone</text>
<line x1="242.50" y1="358.00" x2="242.50" y2="450.00" stroke="#6a6a6a" stroke-width="0.9"/>
<line x1="242.50" y1="450.00" x2="334.50" y2="450.00" stroke="#8a8a8a" stroke-width="0.8"/>
<line x1="334.50" y1="358.00" x2="334.50" y2="450.00" stroke="#a0a0a0" stroke-width="0.9"/>
<path d="M240.5 367.0h2M237.0 367.5l1.2 -1.2m.4 .2h.8M240.5 388.0h2M237.0 388.5l1.2 -1.2m.4 .2h.8M240.5 408.0h2M237.0 408.5l1.2 -1.2m.4 .2h.8M240.5 430.0h2M237.0 430.5l1.2 -1.2m.4 .2h.8M240.5 444.0h2M237.0 444.5l1.2 -1.2m.4 .2h.8M248.5 450.0v1.6M247.7 454.0l1.2 -1.2m.4 .2h.8M263.0 450.0v1.6M262.2 454.0l1.2 -1.2m.4 .2h.8M284.5 450.0v1.6M283.7 454.0l1.2 -1.2m.4 .2h.8M305.5 450.0v1.6M304.7 454.0l1.2 -1.2m.4 .2h.8M326.5 450.0v1.6M325.7 454.0l1.2 -1.2m.4 .2h.8M243.0 362.0h1M243.0 369.5h1M243.0 377.0h1M243.0 384.5h1M243.0 392.0h1M243.0 399.5h1M243.0 407.0h1M243.0 414.5h1M243.0 422.0h1M243.0 429.5h1M243.0 437.0h1M243.0 444.5h1" stroke="#777" stroke-width="0.55" fill="none"/>
<path d="M296 400.5h.9M270.5 409h.9M316 379h.9M283 382h.9M292.5 390.5h.9M296.5 390.5h.9M314 386h.9M297.5 387.5h.9M280.5 377.5h.9M271.5 416.5h.9M268 411.5h.9M301 411h.9M278 416h.9M294 373.5h.9M297 376h.9M311 368.5h.9M269 387.5h.9M280 386.5h.9M289.5 387.5h.9M288.5 409h.9M281 406h.9M259.5 399.5h.9M300 386h.9M283 389.5h.9M284 394.5h.9M297.5 402h.9M285 392.5h.9M276.5 428h.9M281.5 395.5h.9M290.5 395.5h.9M304 377.5h.9M261 398.5h.9M266.5 396h.9M278.5 420.5h.9M270 402.5h.9M286 427.5h.9M286 400.5h.9M307.5 386.5h.9M278 413h.9M271 422.5h.9M277 401h.9M272.5 402h.9M290.5 383h.9M276 394h.9M291.5 392h.9M298 380h.9M303.5 378.5h.9M286.5 385.5h.9M297 388.5h.9M279 404.5h.9M286 391h.9M289.5 389h.9M277 419.5h.9M306.5 367.5h.9M300.5 364.5h.9M296.5 415.5h.9M279.5 387h.9M303 363h.9M289 403.5h.9M284.5 397.5h.9M297 386.5h.9M292 389h.9M280.5 398h.9M273 408.5h.9M308 402h.9M265.5 411.5h.9M306 381.5h.9M299.5 383h.9M312.5 382h.9M288 399h.9" stroke="#b4bbea" stroke-width="0.9" fill="none"/>
<path d="M290.5 393.5h.9M258 423.5h.9M286.5 390h.9M307.5 380.5h.9M295 382.5h.9M293.5 386h.9M299.5 389h.9M309.5 376.5h.9M285 395h.9M300.5 379h.9M322 374h.9M284.5 381.5h.9M278.5 417.5h.9M289.5 383.5h.9M278 404.5h.9M296.5 383.5h.9M318 367.5h.9M291 394.5h.9M271 390h.9M304.5 379.5h.9M278.5 397h.9M299 371.5h.9M293 392h.9M292.5 389.5h.9M283 419h.9M293.5 392.5h.9M299.5 366h.9M296 394.5h.9M307.5 369.5h.9" stroke="#6070c8" stroke-width="0.9" fill="none"/>
<path d="M262.5 415h.9M260 427h.9M255.5 428h.9M264 434h.9M254.5 438h.9M259 427.5h.9M255 425.5h.9M263 433.5h.9M257 433h.9M255.5 433h.9M265 425h.9M262.5 438h.9M251 434.5h.9M262 429h.9M276.5 419.5h.9M266.5 420h.9M267 433.5h.9M278 408h.9M257 425h.9M262.5 437h.9M263 434h.9M256.5 428.5h.9M265 437.5h.9M259 428h.9M248.5 431h.9M270 413h.9M255.5 438.5h.9M257.5 437.5h.9M271.5 427h.9M256 439.5h.9M254.5 439h.9M261.5 425.5h.9M252 445.5h.9M258 432.5h.9M257 437h.9M250.5 438h.9M254.5 423.5h.9M268 429.5h.9M271.5 427h.9M256.5 421.5h.9M263 421h.9M268.5 427h.9M254.5 429.5h.9M265.5 429.5h.9M261 438.5h.9M260.5 421h.9M277 416.5h.9M259 421.5h.9M269 416h.9M270 420h.9M264 423.5h.9M277 412.5h.9M268.5 433.5h.9M259 428.5h.9M261 429.5h.9M256 429.5h.9M269 417.5h.9M267.5 421.5h.9M259 439h.9M258 427.5h.9M257.5 433h.9M263 421h.9M252 438.5h.9M268 422h.9M264 429.5h.9M254.5 430h.9M260.5 422.5h.9M265 430h.9M262 433.5h.9M259.5 437.5h.9M269.5 433h.9M259 434h.9M260.5 431h.9M266.5 421h.9M263.5 437.5h.9M259.5 436h.9M272 423.5h.9M260.5 434h.9M261 435h.9M253 436.5h.9M270 414h.9M270.5 423.5h.9M267 423.5h.9M259 432.5h.9M266 426h.9M245.5 442.5h.9M247 438.5h.9M271 423h.9M273.5 417h.9M261.5 428h.9M267 428h.9M256 423.5h.9M276 422h.9M262.5 422.5h.9M265.5 425.5h.9M263.5 425h.9M258.5 430.5h.9M261 426.5h.9M269 424.5h.9M260 423.5h.9M266.5 433.5h.9M260.5 433h.9M267 414.5h.9M267 426.5h.9M260 426h.9M261.5 422h.9M254.5 435h.9M244.5 445h.9M263 420.5h.9M262.5 422h.9M254.5 432h.9M253.5 439h.9M270 420.5h.9M257 428h.9M274 415h.9M268 432h.9M265.5 428h.9M259 432h.9M264.5 425h.9M266 420h.9M259.5 429.5h.9M262 434h.9M253.5 435.5h.9M257.5 433.5h.9M253.5 436.5h.9M252.5 433h.9M258.5 439.5h.9M271 422.5h.9M265.5 415h.9M266.5 424h.9M256.5 429.5h.9M275 412.5h.9M270.5 421.5h.9M265 423.5h.9M263 424h.9M263.5 417.5h.9M270 417.5h.9M258 438h.9M260.5 428.5h.9M262 440.5h.9M267 425.5h.9M256.5 440h.9M263 436.5h.9M257 427.5h.9M270.5 424h.9M272.5 424h.9M263 430.5h.9M260 429h.9M254 427h.9M261 435h.9M270 427h.9M251 435h.9M265 437h.9M250 434h.9M262.5 429h.9M252.5 443h.9M266 432h.9M250 435.5h.9M264.5 424h.9M263 441.5h.9M257 438.5h.9M270.5 428h.9M262.5 429h.9M256 441.5h.9M272.5 419h.9M258.5 424h.9M265.5 424.5h.9M265 417h.9M263 425h.9M250 440.5h.9M263 430.5h.9M270.5 420h.9M264.5 429.5h.9M256 426h.9M259 428h.9M264.5 420h.9M260 436.5h.9M269 425.5h.9M261.5 424h.9M257 432.5h.9M267.5 414.5h.9M258 430h.9M264 422.5h.9M264 421h.9M259 421.5h.9M272.5 419.5h.9M264 425.5h.9M273 433.5h.9M255 435.5h.9M264.5 416h.9M273 413h.9M269.5 421h.9M257 432h.9M260 435.5h.9M253.5 432h.9M276 420h.9M260 433.5h.9M259 437h.9M265 415h.9M259 433h.9M251.5 430h.9M256 435.5h.9M269 414h.9M258 437h.9M262 424h.9M260 426.5h.9M274 413h.9M264.5 418.5h.9M263 420.5h.9M249 438h.9M258 433h.9M272.5 419.5h.9M268.5 430h.9M255.5 436h.9M250 433.5h.9M270 424h.9M247 440h.9M273.5 417h.9M262 434.5h.9M252.5 433h.9M251.5 435h.9M254 434.5h.9M259 432h.9M267 421h.9M269.5 414h.9M257 433h.9M264 416.5h.9M279 412.5h.9M257.5 417.5h.9M255.5 435.5h.9M261.5 433h.9M274.5 409.5h.9M264.5 433h.9M268.5 429h.9M252.5 437.5h.9M268 425h.9M256.5 425.5h.9M254.5 431h.9M257 419.5h.9M270 413.5h.9M261 431h.9M256.5 434h.9M277 425h.9M255 429.5h.9M261 428h.9M271.5 422.5h.9M269.5 418h.9M269 414.5h.9M264 434h.9M274.5 419.5h.9M266 421.5h.9M270.5 419h.9M273.5 418h.9M251 439.5h.9M264 431h.9M272 426h.9M278 414h.9M255 442.5h.9M261 430h.9M266 427h.9M249.5 439h.9M271.5 417h.9M263 428h.9M254 442h.9M256.5 420.5h.9M272.5 420.5h.9M265.5 413.5h.9M261.5 421h.9M278.5 423.5h.9M275.5 420h.9M261 427.5h.9M268 423h.9M268.5 419.5h.9M261.5 415h.9M262.5 430h.9M267 425.5h.9M273 430h.9M262 423h.9M260 428h.9M257.5 434h.9M262 434.5h.9M270.5 419.5h.9M254.5 446.5h.9M253 446.5h.9M252 427h.9M255.5 430.5h.9M262 435h.9M258 432.5h.9M262.5 435h.9M258.5 438h.9M263.5 435.5h.9M265.5 417.5h.9M276 410h.9M269 417.5h.9M260.5 431h.9M263 423.5h.9M265 431h.9M261.5 418h.9M264.5 428.5h.9M258.5 440.5h.9M266 413.5h.9M269 422.5h.9M247.5 441.5h.9M266.5 425.5h.9" stroke="#5068c8" stroke-width="0.9" fill="none"/>
<path d="M275 429.5h.9M277.5 396.5h.9M247 433.5h.9M270 409.5h.9M258 441h.9M277 420.5h.9M251 431.5h.9M247.5 428.5h.9M275.5 426h.9M264.5 416h.9M281.5 418.5h.9M273 412.5h.9M283 395.5h.9M268 418.5h.9M258 417h.9M251 433h.9M278 405h.9M267.5 436.5h.9M269 420.5h.9M257.5 427h.9M271.5 430h.9M273.5 426h.9M286.5 413h.9M260.5 419h.9M268 427.5h.9M270.5 430.5h.9M247.5 425.5h.9M255 442.5h.9M265 419.5h.9M252.5 443.5h.9M266 419.5h.9M264 411h.9M276 409h.9M244.5 436h.9M253.5 447h.9M257 423.5h.9M274.5 417h.9M259.5 420h.9M271.5 413.5h.9M271.5 422h.9M273.5 425.5h.9M259 444h.9M260 416.5h.9M274 423h.9M258 443.5h.9M273.5 405.5h.9M269 415h.9M271.5 426.5h.9M269.5 417h.9M261 433.5h.9M254 425.5h.9M267.5 438.5h.9M279 411.5h.9M256.5 442h.9M258.5 420h.9M257.5 440.5h.9M258.5 417h.9M247 439.5h.9M277.5 418h.9M245.5 441.5h.9M268 415h.9M262.5 440.5h.9M282.5 408.5h.9M264.5 431h.9M259 437.5h.9M275 411.5h.9M255.5 419.5h.9M276 418.5h.9M263 431h.9M251.5 432.5h.9M255.5 422.5h.9M276 409.5h.9M276.5 409.5h.9M249.5 423h.9M251 438.5h.9M250.5 443.5h.9M258.5 420.5h.9M284.5 413h.9M255 431h.9M250.5 416h.9M267 439h.9M272 426.5h.9M269.5 409h.9M265 442h.9M277 414h.9M262.5 433h.9M256 425h.9M264 420.5h.9M275 421h.9M281.5 399.5h.9M266.5 431.5h.9M251 434.5h.9M277.5 416h.9M261.5 423.5h.9M271 421.5h.9M260.5 421h.9M255.5 417h.9M256 427.5h.9M261.5 438.5h.9M253 425h.9M278.5 403.5h.9M259 437.5h.9M252.5 430.5h.9M250 435h.9M265 416.5h.9M272.5 416h.9M249.5 439.5h.9M276.5 408h.9M249.5 441h.9M247.5 420h.9M268 418h.9M258 421h.9M277 422.5h.9M276 409.5h.9M269 431.5h.9M257 434h.9M256 442.5h.9M252 430.5h.9M278 424h.9M259.5 417h.9M275.5 416.5h.9M278.5 403h.9M259 438h.9M246.5 446.5h.9M263 414h.9M275 419.5h.9M258.5 439h.9M274 419h.9M254 436h.9M271 434h.9M251.5 428h.9M247.5 439.5h.9M249 434h.9M283 410.5h.9M274 414h.9M281.5 418.5h.9M250 430h.9M252.5 423h.9M270 427.5h.9M251 426.5h.9M261 435h.9M268 433h.9M261 442h.9M267.5 429h.9M262.5 433.5h.9M258 441h.9M257 443h.9M274 431.5h.9M275 418.5h.9M244 448h.9M275.5 423.5h.9M266 437h.9M272 423.5h.9M275.5 416.5h.9M269 429.5h.9M270.5 416h.9M251.5 442h.9M267.5 418h.9M247.5 432.5h.9M256.5 413.5h.9M251.5 429h.9M277.5 414.5h.9M260 441h.9M254 426.5h.9M260.5 445.5h.9M253.5 421.5h.9M271.5 422.5h.9M271 408.5h.9M256 441h.9M263 415h.9M254.5 426.5h.9M282 412.5h.9M247.5 449h.9M271 420h.9M253.5 439h.9M274 425h.9M273.5 421.5h.9M250.5 440h.9M254 441.5h.9M247.5 441.5h.9M263 420h.9M247.5 437.5h.9M249.5 443h.9M272 421h.9M275 416.5h.9M260.5 413h.9M251 443h.9M246.5 448h.9" stroke="#a4aee6" stroke-width="0.9" fill="none"/>
<path d="M261 429h.9M252.5 433h.9M266.5 429h.9M258.5 433h.9M258.5 438.5h.9M269.5 420h.9M251.5 439.5h.9M253.5 430.5h.9M258.5 430h.9M257.5 435h.9M269 420h.9M262.5 429h.9M265 423.5h.9M259.5 430.5h.9M265 422.5h.9M261 425h.9M262.5 429h.9M256 434h.9M260.5 427.5h.9M254 426.5h.9M262.5 428h.9M269 421h.9M260 429.5h.9M269.5 425h.9M272 421.5h.9M266.5 428h.9M254 437.5h.9M266 430h.9M265.5 422h.9M257 427h.9M259.5 427.5h.9M260 425h.9M262 429.5h.9M251.5 435h.9M264.5 418.5h.9M265 420.5h.9M262.5 433.5h.9M259.5 434h.9M258.5 435h.9M269.5 421.5h.9M263.5 424.5h.9M252.5 439.5h.9M260 432h.9M261.5 424h.9M268.5 424.5h.9M264 428.5h.9M263 428h.9M263 419h.9M255.5 433h.9M269.5 425.5h.9M257.5 430.5h.9M265 428h.9M270.5 412h.9M268 427.5h.9M267.5 420h.9M253 438.5h.9M261.5 423h.9M263.5 421.5h.9M264.5 423.5h.9M269.5 425.5h.9M264.5 425h.9M270 413.5h.9M272 416h.9M252 431.5h.9M255.5 429h.9M260.5 422.5h.9M267.5 427.5h.9M262.5 422h.9M258.5 430.5h.9M261 431.5h.9M265 425.5h.9M257.5 424.5h.9M257.5 434.5h.9M263.5 430.5h.9M262.5 419.5h.9M267 424.5h.9M265 422h.9M255 427h.9M261 433h.9M257.5 427h.9M255.5 432h.9M259 425h.9M261.5 431h.9M262 426.5h.9M267.5 426.5h.9M264.5 426.5h.9M260.5 432h.9M273 417.5h.9M261 429.5h.9M265 424h.9M269.5 421h.9M269 423h.9M257.5 435.5h.9M268 419.5h.9M261.5 427.5h.9M263.5 421h.9M260 437.5h.9M272.5 414.5h.9M262.5 430.5h.9M260.5 428.5h.9M258 432.5h.9M258.5 431h.9M269 421h.9M271.5 416.5h.9M264 420h.9M264 426h.9M258 431h.9M266.5 424.5h.9M264 419.5h.9M253.5 440.5h.9M261 422h.9M266.5 415.5h.9M264 417.5h.9M262.5 433h.9M263 422h.9M263 427.5h.9M265 427h.9M261 433h.9M256.5 427h.9M266 417.5h.9M272 416.5h.9M269.5 421.5h.9M265 418h.9M266.5 423.5h.9M257.5 432.5h.9M254.5 439h.9M264.5 424h.9M261.5 423h.9M261 424.5h.9M273.5 420.5h.9M256.5 427h.9M260 433h.9M263.5 431.5h.9M275 416h.9M267.5 418h.9M261.5 426.5h.9M272.5 422.5h.9M259 431.5h.9M260 434.5h.9M260 430.5h.9M265 427h.9M259 429.5h.9M260 427h.9M264.5 423.5h.9M263 418h.9M254.5 432.5h.9M258 424.5h.9M265.5 429h.9M261.5 431h.9M257.5 429h.9M258 432.5h.9M263.5 426.5h.9M268 420h.9M270 414.5h.9M264.5 420.5h.9M266 427h.9M261 420h.9M256.5 429.5h.9M264 433.5h.9M266 425.5h.9M249.5 436.5h.9M266 434.5h.9M262.5 428.5h.9M271 425.5h.9M267.5 425h.9M250.5 432.5h.9M265 422.5h.9M263 430h.9M252 428.5h.9M260 432.5h.9M254 437h.9M257 422h.9M264.5 427.5h.9M264 421h.9M270 416.5h.9M256 430h.9M251.5 434h.9M258 431h.9M266 422h.9M251 432.5h.9M267.5 428.5h.9M268 420.5h.9M259 434h.9M266 428.5h.9M256.5 437h.9M257.5 434.5h.9M261 423h.9M274.5 417h.9M254 434.5h.9M262 426h.9M254 437h.9M261 423h.9M271.5 424h.9M270.5 421.5h.9M305 372h.9M308 367.5h.9M291 373.5h.9M297 377h.9M302.5 375.5h.9M299 374.5h.9M307 371.5h.9M311.5 375.5h.9M296.5 374.5h.9M293 372h.9M286.5 373.5h.9M290.5 374h.9M305 372.5h.9M308.5 369.5h.9M300 371h.9M305.5 374h.9M288.5 371h.9M292.5 372h.9M291 374h.9M307 367h.9M296.5 370.5h.9M289 373h.9M294 367.5h.9M297.5 369h.9M294.5 369.5h.9M296.5 374.5h.9M293 371.5h.9M292.5 369h.9" stroke="#2a3aa8" stroke-width="0.9" fill="none"/>
<path d="M320.5 367h.9M309 370.5h.9M298 371.5h.9M291 375h.9M294.5 370h.9M290.5 376h.9M301 373h.9M304.5 376.5h.9M305.5 368.5h.9M295 370.5h.9M295.5 374.5h.9M291 371h.9" stroke="#40a8a0" stroke-width="0.9" fill="none"/>
<path d="M315 373h.9M287 374.5h.9M300.5 375.5h.9M296 375.5h.9M303.5 369h.9M296 369h.9M282 373.5h.9M302.5 371.5h.9M307.5 371.5h.9M313 373.5h.9M303.5 368h.9M297.5 372.5h.9M291.5 372h.9M296 371h.9M302.5 372.5h.9M303 374h.9M293.5 373.5h.9M297.5 373h.9M311 368.5h.9M293.5 372.5h.9M299.5 369h.9M300 374.5h.9M303 370.5h.9M305 369.5h.9M308 371h.9M290 369h.9M296 377h.9M297.5 373h.9M288 377h.9M307.5 371.5h.9M288 378h.9M293.5 380h.9M309 369.5h.9M307 371.5h.9M304.5 370.5h.9M294 373h.9M298.5 370h.9M309.5 368h.9M298 370.5h.9M290 375.5h.9" stroke="#6a80d8" stroke-width="0.9" fill="none"/>
<ellipse cx="262.50" cy="427.00" rx="22.00" ry="8.20" fill="url(#core)" transform="rotate(-48 262.50 427.00)"/>
<ellipse cx="256.00" cy="439.00" rx="3.2" ry="4.2" fill="#d8e8f0" fill-opacity="0.75"/>
<ellipse cx="299.50" cy="373.00" rx="10.40" ry="3.36" fill="url(#q2g)" transform="rotate(-8 299.50 373.00)"/>
<path d="M283.5 358V450M242.5 407.5H334.5" stroke="#2a2a2a" stroke-width="1" fill="none"/>
<text x="245.00" y="365.70" font-size="4.5" text-anchor="start" fill="#3a3a3a" font-weight="normal">Q1</text>
<text x="245.00" y="371.40" font-size="4.5" text-anchor="start" fill="#3a3a3a" font-weight="normal">1.28</text>
<text x="327.50" y="365.70" font-size="4.5" text-anchor="end" fill="#3a3a3a" font-weight="normal">Q2</text>
<text x="327.50" y="371.40" font-size="4.5" text-anchor="end" fill="#3a3a3a" font-weight="normal">6.01</text>
<text x="245.00" y="440.50" font-size="4.5" text-anchor="start" fill="#3a3a3a" font-weight="normal">Q4</text>
<text x="245.00" y="446.00" font-size="4.5" text-anchor="start" fill="#3a3a3a" font-weight="normal">91.5</text>
<text x="327.50" y="440.50" font-size="4.5" text-anchor="end" fill="#3a3a3a" font-weight="normal">Q3</text>
<text x="327.50" y="446.00" font-size="4.5" text-anchor="end" fill="#3a3a3a" font-weight="normal">0.75</text>
<text x="79.90" y="469.60" font-size="9.1" text-anchor="middle" fill="#1a1a1a" font-weight="bold">Sertraline</text>
<line x1="35.50" y1="474.60" x2="35.50" y2="566.60" stroke="#6a6a6a" stroke-width="0.9"/>
<line x1="35.50" y1="566.60" x2="127.50" y2="566.60" stroke="#8a8a8a" stroke-width="0.8"/>
<line x1="127.50" y1="474.60" x2="127.50" y2="566.60" stroke="#a0a0a0" stroke-width="0.9"/>
<path d="M33.5 483.6h2M30.0 484.1l1.2 -1.2m.4 .2h.8M33.5 504.6h2M30.0 505.1l1.2 -1.2m.4 .2h.8M33.5 524.6h2M30.0 525.1l1.2 -1.2m.4 .2h.8M33.5 546.6h2M30.0 547.1l1.2 -1.2m.4 .2h.8M33.5 560.6h2M30.0 561.1l1.2 -1.2m.4 .2h.8M41.5 566.6v1.6M40.7 570.6l1.2 -1.2m.4 .2h.8M56.0 566.6v1.6M55.2 570.6l1.2 -1.2m.4 .2h.8M77.5 566.6v1.6M76.7 570.6l1.2 -1.2m.4 .2h.8M98.5 566.6v1.6M97.7 570.6l1.2 -1.2m.4 .2h.8M119.5 566.6v1.6M118.7 570.6l1.2 -1.2m.4 .2h.8M36.0 478.6h1M36.0 486.1h1M36.0 493.6h1M36.0 501.1h1M36.0 508.6h1M36.0 516.1h1M36.0 523.6h1M36.0 531.1h1M36.0 538.6h1M36.0 546.1h1M36.0 553.6h1M36.0 561.1h1" stroke="#777" stroke-width="0.55" fill="none"/>
<path d="M98 490.5h.9M70 516h.9M61.5 511.5h.9M116.5 494h.9M86 512h.9M92.5 476h.9M79.5 483h.9M69 518.5h.9M73.5 510h.9M63.5 507.5h.9M67.5 507h.9M68 516.5h.9M63.5 508.5h.9M79 512h.9M78.5 514h.9M112.5 486h.9M78 512.5h.9M76.5 505h.9M56 533.5h.9M76 535h.9M95.5 498.5h.9M88.5 486.5h.9M63 539.5h.9M51 523h.9M100 494.5h.9M70 520.5h.9M66.5 525h.9M91 495h.9M108.5 500h.9M79.5 518h.9M53.5 534.5h.9M67.5 521h.9M82 497.5h.9M102.5 499h.9M78.5 526.5h.9M56.5 514.5h.9M75 525h.9M94 498.5h.9M61 521.5h.9M86 496.5h.9M100 493h.9M96 497h.9M75 504.5h.9M70.5 517h.9M89 507h.9M67 519.5h.9M84.5 518h.9M61 511h.9M82.5 506h.9M68 517h.9M74 508.5h.9M93 500h.9M72 526.5h.9M73 516h.9M80.5 492h.9M86.5 497h.9M90 502h.9M67 523.5h.9M72.5 534h.9M73.5 519h.9M88 503h.9M85.5 493h.9M77.5 500h.9M99.5 502h.9M43.5 525.5h.9M74 495.5h.9M73.5 511h.9M54.5 508h.9M73 529.5h.9M64 521.5h.9M76.5 506h.9M80 499.5h.9M65.5 529h.9M72 519h.9M94.5 495.5h.9M91 517h.9M68 529h.9M60 527h.9M83.5 510.5h.9M87.5 519.5h.9M54 532h.9" stroke="#b4bbea" stroke-width="0.9" fill="none"/>
<path d="M88.5 504h.9M76.5 501.5h.9M61.5 515.5h.9M101.5 494.5h.9M86 495h.9M106 502.5h.9M65.5 517.5h.9M71 521.5h.9M85 525h.9M81.5 512.5h.9M71 523.5h.9M97 483h.9M83 521.5h.9M80 504h.9M94 544h.9M71 531.5h.9M73.5 533.5h.9M74.5 521h.9M69.5 527h.9" stroke="#6070c8" stroke-width="0.9" fill="none"/>
<path d="M67.5 540h.9M56 544.5h.9M53.5 534.5h.9M49.5 539.5h.9M68.5 528.5h.9M63.5 538h.9M52.5 543.5h.9M49 551.5h.9M55.5 546h.9M55 537.5h.9M64.5 532h.9M50 536.5h.9M52 538.5h.9M66 528.5h.9M66 525h.9M52 542h.9M51 549.5h.9M61 544.5h.9M45 550h.9M59 550.5h.9M58.5 549h.9M65.5 533h.9M55 533.5h.9M43.5 540.5h.9M59.5 548.5h.9M68 530.5h.9M50 545.5h.9M59 530h.9M51 543h.9M44 558h.9M53.5 547.5h.9M55 544h.9M64.5 540.5h.9M59 532h.9M67.5 531h.9M58 544.5h.9M53.5 547h.9M47 551h.9M60 541h.9M58.5 538h.9M58 547.5h.9M58.5 543h.9M66.5 533.5h.9M66.5 535.5h.9M48 551.5h.9M55.5 538.5h.9M63.5 533.5h.9M53 551h.9M45.5 554h.9M66 535.5h.9M59 535.5h.9M43 559h.9M56 536.5h.9M60.5 536.5h.9M63.5 540h.9M57 548h.9M56.5 550.5h.9M61 542h.9M53 555.5h.9M68.5 538.5h.9M63.5 545h.9M67 537h.9M47.5 554h.9M57 552h.9M68 545h.9M44 554.5h.9M53 542.5h.9M59 533h.9M53.5 544.5h.9M57 545h.9M45.5 545.5h.9M56 534.5h.9M51.5 552h.9M52.5 545h.9M56 543.5h.9M48.5 550.5h.9M58.5 532.5h.9M57.5 532.5h.9M68.5 533h.9M48.5 538h.9M74.5 523.5h.9M46.5 553.5h.9M65.5 540h.9M41 549h.9M54.5 544h.9M64 532h.9M56.5 538h.9M61.5 537.5h.9M54.5 550h.9M63.5 543h.9M61.5 537.5h.9M55 545h.9M48 548h.9M61.5 541.5h.9M58 548.5h.9M61.5 543h.9M64 533.5h.9M63.5 536h.9M54 534.5h.9M56.5 545h.9M46 545h.9M68 529h.9M49.5 547.5h.9M58 542.5h.9M61 531.5h.9M50.5 541h.9M61.5 540h.9M48.5 544h.9M58.5 536h.9M60 538h.9M64 541h.9M53.5 546h.9M51 545.5h.9M62 533.5h.9M54.5 547h.9M56.5 541.5h.9M66 538h.9M72.5 536h.9M69.5 529h.9M51.5 534h.9M60 532.5h.9M62 550.5h.9M48 556h.9M44.5 543.5h.9M48.5 543h.9M66 539h.9M54.5 544.5h.9M68 533.5h.9M47 549.5h.9M59.5 538h.9M55 545.5h.9M51 553h.9M43 555h.9M66 548h.9M48.5 537h.9M67.5 532h.9M57 533h.9M43 547.5h.9M52 544.5h.9M53 547h.9M58 535h.9M68 525h.9M48 550h.9M64 541h.9M46 549h.9M45 539h.9M68 526h.9M53.5 542.5h.9M65.5 533h.9M62.5 539.5h.9M61 536h.9M58 537.5h.9M42 556.5h.9M47 539h.9M73 533h.9M53 548h.9M59 542.5h.9M70 535.5h.9M45.5 552.5h.9M73.5 530h.9M66 529h.9M66 533h.9M53.5 554h.9M48 543.5h.9M45 547.5h.9M50.5 549h.9M54 537h.9M62 539h.9M62 543h.9M56 543.5h.9M44 546h.9M52.5 539.5h.9M62.5 539.5h.9M69 533h.9M63 531h.9M45.5 555.5h.9M45 549.5h.9M55.5 543h.9M53.5 544.5h.9M52.5 545h.9M54 543h.9M53 540h.9M57 540h.9M58 538.5h.9M56.5 537.5h.9M65 530h.9M61 536h.9M46 551.5h.9M55.5 530.5h.9M56.5 542.5h.9M64.5 539h.9M65 530h.9M57 532.5h.9M49 558.5h.9M56.5 541.5h.9M53 553h.9M53.5 535.5h.9M65.5 538h.9M77.5 531h.9M55.5 533h.9M54 555.5h.9M51 544.5h.9M60 538h.9M68.5 527h.9M50 547.5h.9M48.5 544.5h.9M46 545h.9M68.5 539.5h.9M52.5 554.5h.9M49 542.5h.9M62.5 542h.9M58 542.5h.9M67 539h.9M44.5 539.5h.9M67 533.5h.9M47.5 554h.9M74 526h.9M56.5 538h.9M54.5 539h.9M68 540.5h.9M68.5 525.5h.9M51.5 545.5h.9M62 530.5h.9M56 548.5h.9M58 540.5h.9M61.5 544h.9M53 546h.9M72.5 535.5h.9M37 559.5h.9M63.5 536h.9M64.5 523.5h.9M62 532.5h.9M67 524h.9M73.5 538h.9M51.5 550.5h.9M57 549.5h.9M64 538h.9M58 548h.9M66 526.5h.9M53 546h.9M48.5 545h.9M51.5 538.5h.9M63 535h.9M63.5 531.5h.9M71.5 527h.9M66 534.5h.9M62.5 529h.9M53.5 556.5h.9M52.5 543h.9M53.5 539h.9M51 543h.9M48.5 536.5h.9M66.5 518.5h.9M54.5 551h.9M45.5 553h.9M51 550h.9M47 552h.9M60 537.5h.9M53.5 540h.9M64 540.5h.9M62.5 531h.9M57 538.5h.9M52 550h.9M57.5 546h.9M55.5 534.5h.9M59 542h.9M49.5 549h.9M55 535.5h.9M63 540.5h.9M59.5 541.5h.9M69 532h.9M55 551h.9M67 534h.9M55.5 551.5h.9M59 540.5h.9M66.5 539h.9M69 532h.9M51.5 550.5h.9M47.5 549.5h.9M68 538h.9M56.5 542h.9M40 553h.9M50 546h.9M53 534.5h.9M57.5 535.5h.9M50 550h.9M45.5 557h.9M58 537.5h.9M58 545h.9M51 543h.9M72 531.5h.9M56 545h.9M55 548.5h.9M64 535.5h.9M51 553h.9M46.5 553.5h.9M64 534h.9M55.5 534.5h.9M64 542.5h.9M57 537h.9M60 541h.9M63 546.5h.9M49 552h.9M59 534h.9M62 544h.9M65 530h.9M59 552h.9M49.5 548h.9M62.5 533h.9M58.5 550.5h.9" stroke="#5068c8" stroke-width="0.9" fill="none"/>
<path d="M53.5 546h.9M49 549h.9M56.5 545.5h.9M56.5 534.5h.9M56.5 542h.9M51 544.5h.9M55.5 548.5h.9M58 541h.9M56.5 536.5h.9M53.5 545h.9M59 537h.9M54 539.5h.9M55 545h.9M44 549.5h.9M60.5 538.5h.9M60.5 536h.9M52 541.5h.9M59 543.5h.9M59 544.5h.9M60 540.5h.9M44.5 551h.9M59 537h.9M54.5 543h.9M57.5 537h.9M47.5 547.5h.9M57.5 540.5h.9M60.5 538h.9M50 548h.9M52.5 548.5h.9M60 537.5h.9M62.5 535.5h.9M57 543h.9M56.5 538.5h.9M49 550h.9M65 533h.9M52 538.5h.9M45 544.5h.9M50.5 550.5h.9M56.5 540.5h.9M56.5 540.5h.9M67 535h.9M52 543.5h.9M56 544h.9M64.5 544.5h.9M61.5 536.5h.9M62.5 531.5h.9M60 538.5h.9M64.5 533.5h.9M55 537.5h.9M66 536h.9M60 546.5h.9M61.5 538h.9M57.5 549.5h.9M54 549.5h.9M55.5 546h.9M52.5 540h.9M55 538h.9M61 530.5h.9M54.5 549.5h.9M50 553h.9M61.5 545h.9M61.5 530h.9M62.5 539h.9M54.5 537.5h.9M53 552.5h.9M52 538.5h.9M60 538.5h.9M54.5 549.5h.9M56.5 538.5h.9M44.5 549.5h.9M61.5 539.5h.9M60.5 535.5h.9M47.5 545h.9M50.5 548.5h.9M59 537.5h.9M66.5 535.5h.9M53 538h.9M61.5 538.5h.9M47.5 550h.9M63.5 533h.9M56 537h.9M60 540.5h.9M59.5 541h.9M47 553.5h.9M53.5 537h.9M64.5 534.5h.9M57 540h.9M61 532.5h.9M50.5 547h.9M55 547h.9M46 548.5h.9M54.5 545h.9M58 544h.9M59 536.5h.9M63 535h.9M55 540h.9M45.5 547.5h.9M59 537h.9M54.5 546h.9M54.5 544h.9M58 535.5h.9M60.5 544.5h.9M62 541.5h.9M47.5 548.5h.9M62.5 534.5h.9M54.5 543.5h.9M48 555h.9M53.5 541h.9M50.5 538h.9M54 544h.9M56 539h.9M57.5 533h.9M55 538.5h.9M52 541.5h.9M54.5 546h.9M48.5 548h.9M55.5 540h.9M58 546.5h.9M52.5 544.5h.9M57 536.5h.9M65 542h.9M55 545h.9M49 546h.9M60 548h.9M56 541h.9M49.5 554h.9M50 551h.9M56.5 539.5h.9M59 540h.9M49 548.5h.9M69 532h.9M69 529.5h.9M47.5 552h.9M61.5 538.5h.9M61.5 541h.9M51.5 545.5h.9M57 539.5h.9M59 542.5h.9M54 535h.9M63.5 537.5h.9M53 548.5h.9M57.5 534h.9M61.5 544h.9M55.5 539h.9M60 540.5h.9M56.5 538h.9M47.5 553h.9M49 545.5h.9M55.5 544h.9M58 536.5h.9M52 545.5h.9M53 550h.9M57.5 544.5h.9M57.5 536h.9M53.5 546.5h.9M54 541.5h.9M64 530h.9M63.5 535.5h.9M51 542h.9M51.5 546.5h.9M60.5 539h.9M51.5 548h.9M49.5 547.5h.9M54.5 537h.9M50 551.5h.9M65.5 530h.9M50 553.5h.9M63 542h.9M50.5 546.5h.9M60 535h.9M49.5 546.5h.9M62 532h.9M59 542.5h.9M56 539h.9M62.5 540h.9M57.5 544.5h.9M98.5 490h.9M100 492.5h.9M94.5 491.5h.9M96 487h.9M90 491h.9M96.5 488h.9M111.5 488.5h.9M92.5 489.5h.9M90 492h.9M92.5 488h.9M87 489.5h.9M81.5 492h.9M87.5 494.5h.9M88.5 491.5h.9M89.5 488h.9M91 490h.9M90 491.5h.9M108 488.5h.9M98 485.5h.9M76 493.5h.9M98.5 487.5h.9M93.5 491h.9M92.5 491.5h.9M98.5 492h.9M88 489.5h.9M98.5 489h.9M89.5 489h.9M98 491h.9M91 486h.9M88 491h.9M98 490h.9M93.5 492.5h.9M87 492h.9M80.5 497h.9M94 489h.9M96.5 489.5h.9M93.5 490.5h.9M103 488h.9M94 489h.9M90.5 486.5h.9" stroke="#2a3aa8" stroke-width="0.9" fill="none"/>
<path d="M74.5 519h.9M68 524.5h.9M57.5 525.5h.9M56 554.5h.9M70 533h.9M55.5 554h.9M51 560.5h.9M42 551.5h.9M68.5 540h.9M51.5 533.5h.9M38 564.5h.9M71 529.5h.9M66 525.5h.9M55 532h.9M62 525.5h.9M61.5 532h.9M51.5 550.5h.9M49 539.5h.9M52 565.5h.9M65 536h.9M59.5 546.5h.9M59 533h.9M37.5 550h.9M69 543h.9M64 544.5h.9M72 522h.9M51.5 553h.9M48 558h.9M56 552.5h.9M60 533.5h.9M68.5 536h.9M42.5 552h.9M37.5 555.5h.9M44.5 547.5h.9M43 553h.9M43 557h.9M71 524.5h.9M61.5 530h.9M62 532.5h.9M58.5 546h.9M48.5 543.5h.9M69.5 534.5h.9M61.5 553.5h.9M55.5 529.5h.9M48 544h.9M64 525h.9M52 539h.9M75 542.5h.9M55.5 531h.9M46 557h.9M71.5 527.5h.9M68 533.5h.9M43.5 557.5h.9M54.5 551h.9M54 537.5h.9M39.5 549h.9M42.5 552.5h.9M56 548h.9M56.5 554h.9M56 551h.9M57 531h.9M67 543.5h.9M56 550.5h.9M72.5 549h.9M48.5 544.5h.9M62 552.5h.9M58 531h.9M48.5 543h.9M75.5 533.5h.9M67 548h.9M44 554h.9M48 550h.9M50 564.5h.9M59.5 549.5h.9M40.5 562h.9M80.5 524.5h.9M65.5 534h.9M47.5 545h.9M43 560h.9M74 534h.9M41 554.5h.9M50 541h.9M51 536h.9M65.5 523.5h.9M55 555h.9M42.5 548h.9M71 536h.9M47 561h.9M43 552h.9M67.5 532.5h.9M63 532.5h.9M51 551h.9M60 528h.9M59.5 532h.9M44.5 550.5h.9M58 549.5h.9M76.5 520h.9M39.5 556h.9M67 528.5h.9M37.5 559h.9M70.5 526.5h.9M69.5 537h.9M65 545h.9M70 539h.9M78.5 525.5h.9M44 545h.9M53 529.5h.9M52 556.5h.9M48 532.5h.9M52.5 535.5h.9M77.5 515.5h.9M57.5 530h.9M57 532h.9M72 525h.9M63 533h.9M69.5 527.5h.9M77.5 524.5h.9M59.5 548.5h.9M67 541.5h.9M57.5 555h.9M65.5 533.5h.9M68 523.5h.9M51.5 541h.9M73.5 523h.9M72 535.5h.9M68.5 533.5h.9M47 552.5h.9M52 537.5h.9M45.5 551h.9M60 530.5h.9M47 542.5h.9M64 528.5h.9M39 554.5h.9M62 534h.9M68 545h.9M45.5 541h.9M49 545h.9M68 524.5h.9M47.5 555.5h.9M53 558h.9M78 537.5h.9M59.5 551.5h.9M66 538.5h.9M56.5 553h.9M57.5 535.5h.9M44 550.5h.9M56.5 533.5h.9M65.5 530h.9M37.5 560h.9M52 537.5h.9M45.5 548h.9M45 533h.9M75 519h.9M73.5 519.5h.9M58.5 547h.9M66.5 540h.9M53 554.5h.9M61 544h.9M66 534.5h.9M48 547.5h.9M38 554h.9M87 520.5h.9M58.5 556h.9M73 535h.9M55 535h.9M73 523h.9M68 522h.9M77.5 520.5h.9M76 523.5h.9M37 550h.9M73.5 527h.9M52 529.5h.9M56.5 528.5h.9M47.5 557.5h.9M54 534.5h.9M43 561h.9M68 529h.9M44.5 544.5h.9M73.5 530h.9M57.5 535h.9M41 538.5h.9M52.5 535h.9M60.5 528h.9M55.5 548h.9M51 536.5h.9M66 552h.9M64 525h.9M49 553h.9M60 531.5h.9M64 542h.9M44.5 544.5h.9M42 562.5h.9M57 535.5h.9M42 560.5h.9M41.5 549h.9M51.5 556h.9M62 538h.9M64.5 527h.9M39 548h.9M57 534h.9M49.5 547h.9M90.5 521h.9M66 545.5h.9M81.5 523.5h.9M45 549.5h.9M73.5 523.5h.9M67 519.5h.9M66.5 541.5h.9M69 525.5h.9M66.5 525h.9" stroke="#a4aee6" stroke-width="0.9" fill="none"/>
<path d="M93 496h.9M92 492h.9M105 491.5h.9M100 487.5h.9M93.5 490h.9M90 492h.9M81 489.5h.9M99.5 488.5h.9M101.5 490.5h.9M100.5 489.5h.9M96 489h.9M96 490.5h.9M101.5 492.5h.9M105 486.5h.9M86.5 494.5h.9M94.5 487h.9M84.5 490h.9M101 486h.9M101.5 489.5h.9M99.5 492.5h.9M88.5 490h.9M91 493.5h.9M92 489h.9M85.5 490h.9M87 490h.9M92 492h.9M105.5 488h.9M97.5 488h.9M88.5 492.5h.9M94 488h.9M93 490h.9M98.5 491h.9M81.5 493.5h.9M100 484.5h.9M93.5 493h.9M79 487h.9M91.5 493.5h.9M99.5 486.5h.9M93 490h.9M92.5 493.5h.9M86.5 491h.9M97 491.5h.9M97.5 487.5h.9M91 490.5h.9M96.5 486h.9M100 492.5h.9M87 489.5h.9M96.5 484h.9M81.5 490h.9M89.5 491.5h.9M84 492.5h.9M92.5 487.5h.9M83 496.5h.9" stroke="#6a80d8" stroke-width="0.9" fill="none"/>
<path d="M87.5 494.5h.9M97.5 492h.9M87.5 487h.9M97.5 488h.9M87 494h.9M91.5 491.5h.9M95 491.5h.9M103 489.5h.9M102.5 488h.9M86 492h.9M86 494h.9M85.5 493.5h.9M89.5 492h.9M87.5 493h.9M94.5 490.5h.9M94 492.5h.9M93 495h.9" stroke="#40a8a0" stroke-width="0.9" fill="none"/>
<ellipse cx="56.50" cy="541.60" rx="22.00" ry="8.20" fill="url(#core)" transform="rotate(-46 56.50 541.60)"/>
<ellipse cx="49.00" cy="555.60" rx="3.2" ry="4.2" fill="#d8e8f0" fill-opacity="0.75"/>
<ellipse cx="93.50" cy="490.10" rx="9.60" ry="3.64" fill="url(#q2g)" transform="rotate(-8 93.50 490.10)"/>
<path d="M76.5 474.6V566.6M35.5 524.5H127.5" stroke="#2a2a2a" stroke-width="1" fill="none"/>
<text x="38.00" y="482.30" font-size="4.5" text-anchor="start" fill="#3a3a3a" font-weight="normal">Q1</text>
<text x="38.00" y="488.00" font-size="4.5" text-anchor="start" fill="#3a3a3a" font-weight="normal">1.34</text>
<text x="120.50" y="482.30" font-size="4.5" text-anchor="end" fill="#3a3a3a" font-weight="normal">Q2</text>
<text x="120.50" y="488.00" font-size="4.5" text-anchor="end" fill="#3a3a3a" font-weight="normal">8.64</text>
<text x="38.00" y="557.10" font-size="4.5" text-anchor="start" fill="#3a3a3a" font-weight="normal">Q4</text>
<text x="38.00" y="562.60" font-size="4.5" text-anchor="start" fill="#3a3a3a" font-weight="normal">88.1</text>
<text x="120.50" y="557.10" font-size="4.5" text-anchor="end" fill="#3a3a3a" font-weight="normal">Q3</text>
<text x="120.50" y="562.60" font-size="4.5" text-anchor="end" fill="#3a3a3a" font-weight="normal">0.88</text>
<text x="423.90" y="238.70" font-size="9.1" text-anchor="middle" fill="#1a1a1a" font-weight="bold">Ctrl</text>
<line x1="381.00" y1="242.20" x2="381.00" y2="334.20" stroke="#6a6a6a" stroke-width="0.9"/>
<line x1="381.00" y1="334.20" x2="473.00" y2="334.20" stroke="#8a8a8a" stroke-width="0.8"/>
<line x1="473.00" y1="242.20" x2="473.00" y2="334.20" stroke="#a0a0a0" stroke-width="0.9"/>
<path d="M379.0 251.2h2M375.5 251.7l1.2 -1.2m.4 .2h.8M379.0 272.2h2M375.5 272.7l1.2 -1.2m.4 .2h.8M379.0 292.2h2M375.5 292.7l1.2 -1.2m.4 .2h.8M379.0 314.2h2M375.5 314.7l1.2 -1.2m.4 .2h.8M379.0 328.2h2M375.5 328.7l1.2 -1.2m.4 .2h.8M387.0 334.2v1.6M386.2 338.2l1.2 -1.2m.4 .2h.8M401.5 334.2v1.6M400.7 338.2l1.2 -1.2m.4 .2h.8M423.0 334.2v1.6M422.2 338.2l1.2 -1.2m.4 .2h.8M444.0 334.2v1.6M443.2 338.2l1.2 -1.2m.4 .2h.8M465.0 334.2v1.6M464.2 338.2l1.2 -1.2m.4 .2h.8M381.5 246.2h1M381.5 253.7h1M381.5 261.2h1M381.5 268.7h1M381.5 276.2h1M381.5 283.7h1M381.5 291.2h1M381.5 298.7h1M381.5 306.2h1M381.5 313.7h1M381.5 321.2h1M381.5 328.7h1" stroke="#777" stroke-width="0.55" fill="none"/>
<path d="M439.5 259.5h.9M429.5 258.5h.9M414.5 279h.9M418 293.5h.9M449 254h.9M422.5 299h.9M442 270h.9M431 265.5h.9M444 254h.9M451.5 247.5h.9M455 250h.9M404.5 301h.9M424 272.5h.9M411.5 275h.9M436.5 282h.9M422.5 290h.9M423 271.5h.9M426.5 277.5h.9M430 258.5h.9M454 256h.9M431 280h.9M421.5 307h.9M411.5 303.5h.9M444 266h.9M406.5 295.5h.9M444 263.5h.9M418.5 285h.9M419.5 289.5h.9M422 253h.9M428.5 301.5h.9M431.5 273h.9M441 263.5h.9M430 272h.9M442.5 285.5h.9M427 278h.9M420 277h.9M399.5 270h.9M432.5 254h.9M399.5 295.5h.9M444 262.5h.9M422.5 278h.9M408 287h.9M442 269.5h.9M441.5 257h.9M407 297.5h.9M427 280.5h.9M439 272.5h.9" stroke="#b4bbea" stroke-width="0.9" fill="none"/>
<path d="M428 291.5h.9M413 304h.9M417 267h.9M429.5 296.5h.9M429.5 263h.9M418 271h.9M418 289.5h.9M419 278.5h.9M454.5 249.5h.9M444.5 259.5h.9M433.5 273.5h.9M432.5 272.5h.9" stroke="#6070c8" stroke-width="0.9" fill="none"/>
<path d="M399 319h.9M399 316.5h.9M409 299.5h.9M405 304.5h.9M402 298.5h.9M407.5 306.5h.9M413.5 292.5h.9M413.5 291h.9M410.5 313h.9M417.5 287.5h.9M406 297.5h.9M408.5 304h.9M416.5 295h.9M410.5 297.5h.9M405.5 310h.9M406.5 300h.9M407 290.5h.9M400.5 311.5h.9M401 317h.9M390.5 311h.9M396.5 302h.9M408.5 305.5h.9M397 310h.9M399.5 309.5h.9M423 301h.9M400.5 309.5h.9M399 304h.9M412.5 302.5h.9M395 314h.9M400.5 305.5h.9M413 295h.9M417.5 301.5h.9M389.5 312.5h.9M403.5 295.5h.9M416 291h.9M410.5 292.5h.9M390.5 316.5h.9M406.5 295.5h.9M403 306.5h.9M386.5 322h.9M392.5 317.5h.9M392 315h.9M396.5 305h.9M400.5 315h.9M402.5 305h.9M419 292h.9M402.5 310h.9M414 296h.9M396.5 311.5h.9M395.5 303h.9M385 311.5h.9M407.5 300.5h.9M392.5 319.5h.9M416 298.5h.9M409 311.5h.9M395 306.5h.9M412 293.5h.9M405 302.5h.9M400.5 319.5h.9M396 306.5h.9M401 308h.9M393.5 311h.9M413.5 303.5h.9M395 315h.9M403.5 301.5h.9M396.5 309h.9M406 308h.9M399.5 309.5h.9M395.5 302.5h.9M407.5 304.5h.9M405 312h.9M407.5 304.5h.9M392.5 309.5h.9M402 292.5h.9M403.5 308h.9M404 305h.9M402 293.5h.9M402.5 309.5h.9M414 300h.9M393 316h.9M410.5 308h.9M416.5 297.5h.9M415.5 299h.9M391 312.5h.9M402 311.5h.9M412.5 298.5h.9M400.5 303h.9M383.5 318.5h.9M398 303h.9M396.5 309.5h.9M412.5 296.5h.9M401.5 301h.9M397 308.5h.9M384.5 314.5h.9M408 300h.9M415.5 295h.9M393.5 310.5h.9M418.5 299h.9M397.5 316h.9M400 298.5h.9M397 300h.9M396 306.5h.9M398 312h.9M394.5 307.5h.9M405.5 298h.9M403.5 300.5h.9M408 312.5h.9M402.5 302.5h.9M389.5 314h.9M389.5 323.5h.9M403.5 302.5h.9M398.5 299h.9M410.5 295.5h.9M418 298h.9M407 300.5h.9M401.5 305h.9M397 313h.9M409 300.5h.9M394 310.5h.9M398 311.5h.9M410 295.5h.9M396 313h.9M405.5 298.5h.9M390 308.5h.9M403.5 294h.9M404 301h.9M419.5 291.5h.9M411 304h.9M409.5 296.5h.9M422.5 294.5h.9M417.5 295.5h.9M413.5 305h.9M385 324h.9M416 294h.9M412 301h.9M419.5 304.5h.9M405.5 296h.9M387.5 319h.9M389.5 315h.9M413.5 300.5h.9M395.5 312.5h.9M390 309.5h.9M418.5 293h.9M399 304.5h.9M387.5 307h.9M408.5 304.5h.9M404.5 309h.9M402.5 298.5h.9M405.5 311.5h.9M416.5 298h.9M411.5 299h.9M408 305h.9M398 310.5h.9M394 313.5h.9M402.5 306.5h.9M402.5 313h.9M393 311h.9M405 300h.9M399.5 304h.9M394 309.5h.9M398.5 310h.9M393 312.5h.9M410 298.5h.9M407.5 303h.9M416.5 301h.9M399.5 316.5h.9M391 313h.9M403 302h.9M392 311.5h.9M419.5 300.5h.9M395 303h.9M391.5 310h.9M402 305h.9M410.5 309h.9M399.5 314.5h.9M418.5 304.5h.9M398 311.5h.9M404.5 294h.9M413.5 289h.9M395 318.5h.9M385.5 318h.9M395 312h.9M393 312h.9M407.5 299.5h.9M399.5 299.5h.9M392.5 311.5h.9M418 293h.9M400.5 307h.9M404 302.5h.9M395.5 317h.9M399.5 300h.9M408 297.5h.9M388 319.5h.9M403 303.5h.9M404.5 304h.9M393.5 317.5h.9M389 310.5h.9M404 291.5h.9M398.5 296.5h.9M394.5 307h.9M388.5 306h.9M395.5 308h.9M398.5 306.5h.9M414.5 304.5h.9M403 308h.9M400.5 314h.9M402.5 310h.9M404.5 299h.9M396 315h.9M401 303.5h.9M390 302.5h.9M405 302h.9M406.5 297.5h.9M391.5 314h.9M413.5 300h.9M410.5 294.5h.9M407 297h.9M395 315h.9M394 311h.9M412.5 292h.9M415 298h.9M410 303h.9M416 290h.9M397.5 306h.9M411 293.5h.9M405.5 299h.9M399 315h.9M382 321h.9M389.5 319.5h.9M414.5 299h.9M405.5 297.5h.9M398 316h.9M418 286.5h.9M400.5 304h.9M392 316.5h.9M408 300.5h.9M396.5 308.5h.9M399.5 310h.9M390.5 317.5h.9M407.5 304.5h.9M398 312h.9M412 304h.9M409.5 302h.9M405 293.5h.9M400 304.5h.9M406 309.5h.9M407 304.5h.9M413.5 305h.9M409.5 293.5h.9M401.5 314h.9M398 305h.9M405 300.5h.9M397.5 304h.9M393.5 321h.9M398.5 301.5h.9M414 302.5h.9M392 306.5h.9M416 295.5h.9M404.5 300.5h.9M395 303h.9M404 311.5h.9M417 288h.9M388.5 313.5h.9M393 322.5h.9M407 298.5h.9M402.5 301.5h.9M403.5 304h.9M412 296.5h.9M392.5 313.5h.9M405.5 296.5h.9M398.5 312h.9M401 304h.9M402.5 308h.9M393 310.5h.9M400.5 317h.9M411.5 301.5h.9M384.5 316.5h.9M406.5 304h.9M389 315.5h.9M408 304h.9M401.5 303h.9M408.5 297h.9M387.5 323h.9M392 317.5h.9M389 314h.9M397 314h.9M421 291h.9M402 300h.9M398 309h.9M399 308h.9M400 314h.9M406.5 301h.9M396.5 312h.9M397.5 312.5h.9M406 290.5h.9M401.5 316h.9M410 304h.9M409 297h.9M402.5 301h.9M384.5 324.5h.9M402 309h.9M389 310.5h.9" stroke="#5068c8" stroke-width="0.9" fill="none"/>
<path d="M396.5 310h.9M410.5 298.5h.9M411.5 301h.9M410 300.5h.9M400.5 305h.9M395 314h.9M407 298h.9M389 315.5h.9M396 307.5h.9M403 305h.9M402 308h.9M404.5 307h.9M398 305.5h.9M396 313h.9M401 314h.9M399.5 307h.9M405.5 302h.9M398 306.5h.9M401.5 309.5h.9M396 310.5h.9M400 304h.9M413 297h.9M398.5 306.5h.9M395.5 310.5h.9M397.5 309.5h.9M406 304h.9M402 308.5h.9M403.5 301h.9M403.5 302h.9M405 307h.9M404 305h.9M397 307h.9M405 306h.9M408 304.5h.9M396.5 308h.9M400 308h.9M404 306h.9M390 313h.9M398.5 303h.9M403 308h.9M397 305h.9M400 305.5h.9M403 304h.9M405.5 304h.9M403.5 302.5h.9M404 314h.9M398.5 307.5h.9M407 296h.9M406.5 300h.9M415 297.5h.9M398 307.5h.9M400.5 308.5h.9M412.5 297h.9M400.5 307.5h.9M407 302h.9M404.5 304.5h.9M402.5 306.5h.9M399 306.5h.9M396 305.5h.9M397 308h.9M407.5 296.5h.9M399.5 303h.9M404.5 305.5h.9M397 310h.9M403.5 305h.9M400 310h.9M403 307.5h.9M402 306.5h.9M396.5 313.5h.9M398.5 302h.9M389.5 318.5h.9M402.5 298h.9M396.5 306h.9M402.5 309h.9M399.5 310h.9M402 306h.9M404 306h.9M405.5 301h.9M405.5 300h.9M411 299h.9M406.5 307.5h.9M404.5 302h.9M393 313.5h.9M403 305h.9M403 303.5h.9M401 304h.9M401.5 305.5h.9M399.5 312h.9M402.5 309.5h.9M396.5 307h.9M398.5 316h.9M399 310.5h.9M416 296h.9M401 307.5h.9M411.5 297h.9M394.5 310.5h.9M408.5 304.5h.9M407.5 299h.9M399.5 310h.9M399.5 301h.9M398.5 309h.9M403 304h.9M404 304.5h.9M404.5 306.5h.9M411.5 301h.9M405.5 301h.9M411.5 299.5h.9M390 314.5h.9M404.5 299.5h.9M395 309h.9M400 308.5h.9M399 311.5h.9M405 306.5h.9M393.5 309.5h.9M402.5 305.5h.9M397 306.5h.9M408 298.5h.9M400.5 312h.9M409.5 306h.9M401 308h.9M408.5 301.5h.9M397.5 310.5h.9M394 313.5h.9M406 301h.9M404 306.5h.9M407.5 301.5h.9M402 302h.9M405 310h.9M401.5 305h.9M415.5 299h.9M399 315h.9M402 306h.9M393.5 310.5h.9M408 296.5h.9M402 304h.9M395 306.5h.9M411.5 302.5h.9M403 306h.9M404 308.5h.9M406.5 310.5h.9M395 310h.9M401.5 305.5h.9M402.5 313h.9M396.5 310.5h.9M400.5 307h.9M400.5 314h.9M401.5 308.5h.9M394.5 309h.9M411.5 297.5h.9M406 299h.9M407 300.5h.9M403.5 302h.9M403.5 305h.9M404 309h.9M403 306.5h.9M408 303h.9M404 301h.9M404 305.5h.9M391 313h.9M404.5 299.5h.9M407 304.5h.9M392 307h.9M397.5 313.5h.9M407.5 296h.9M404 306h.9M405.5 310h.9M407 303.5h.9M407 309h.9M392.5 318.5h.9M402 312h.9M397.5 314.5h.9M403 303h.9M402 303.5h.9M399.5 304h.9M395.5 316h.9M409.5 298.5h.9M406 304h.9M398.5 301.5h.9M404.5 305.5h.9M405 302h.9M404.5 305h.9M396.5 313.5h.9M393 308.5h.9M397.5 312h.9M406.5 302h.9M404.5 308h.9M407.5 308h.9M400.5 315h.9M406.5 301h.9M402.5 305h.9M391.5 313h.9M401.5 302h.9M406.5 309.5h.9M395 312.5h.9M406.5 301h.9M399 303h.9M397 308.5h.9M439 253h.9M437.5 250.5h.9M437.5 249.5h.9M438 251h.9M433.5 251h.9M438.5 249h.9M438 252h.9M437 252.5h.9M440 251h.9M437 253.5h.9M435 252.5h.9" stroke="#2a3aa8" stroke-width="0.9" fill="none"/>
<path d="M402.5 296h.9M412 294.5h.9M403.5 298h.9M423.5 292.5h.9M395.5 304h.9M382 323h.9M418 296.5h.9M399.5 296.5h.9M402 301.5h.9M413 306h.9M406.5 298h.9M406.5 295h.9M393 311.5h.9M392.5 304.5h.9M411 310h.9M406.5 315.5h.9M416.5 307h.9M398.5 300h.9M422 288h.9M402 313.5h.9M398 297h.9M390 314.5h.9M390 310.5h.9M388 317.5h.9M398 320h.9M413.5 299h.9M394.5 304.5h.9M403.5 297h.9M408.5 296.5h.9M412 295.5h.9M390.5 318.5h.9M391 319h.9M389.5 321.5h.9M412 298h.9M384 319.5h.9M396 299h.9M386 312.5h.9M403.5 300h.9M415 306.5h.9M394.5 308.5h.9M399 297h.9M416 291.5h.9M413 309.5h.9M389 307h.9M411 301.5h.9M407.5 292.5h.9M401 312.5h.9M394 306h.9M415 290.5h.9M415.5 290.5h.9M417.5 308.5h.9M389.5 319.5h.9M386.5 324h.9M408.5 305.5h.9M392 303.5h.9M393.5 317.5h.9M414.5 299.5h.9M403.5 310.5h.9M402 316h.9M420.5 300.5h.9M416 296.5h.9M407.5 310.5h.9M393 314.5h.9M395 307h.9M394 302.5h.9M389 314h.9M428.5 288.5h.9M396 305.5h.9M399 322.5h.9M395.5 300.5h.9M413.5 296h.9M389 324h.9M401 314h.9M417.5 295.5h.9M416.5 291h.9M419.5 300h.9M405 315.5h.9M416.5 282.5h.9M408.5 319h.9M405.5 291.5h.9M383 316h.9M418 291.5h.9M388 329h.9M409.5 312h.9M391.5 312h.9M421 282h.9M429 289.5h.9M397.5 314.5h.9M390.5 328.5h.9M431.5 284.5h.9M410.5 303h.9M394 309h.9M396.5 303h.9M404.5 295h.9M417.5 303.5h.9M409.5 307.5h.9M393.5 298.5h.9M416.5 292h.9M417 290h.9M389.5 306h.9M384.5 316.5h.9M382.5 321h.9M421 296.5h.9M389 318h.9M385.5 315.5h.9M396 298h.9M410 288.5h.9M399 315.5h.9M388 315h.9M392.5 299h.9M387 328h.9M415.5 303h.9M414 289h.9M390 318.5h.9M415 308.5h.9M410 304.5h.9M401 301.5h.9M397 322.5h.9M422 281h.9M418 299h.9M401 299.5h.9M405 315h.9M398 316h.9M395 310.5h.9M398.5 319.5h.9M402 298.5h.9M400 315h.9M393 308h.9M420.5 286h.9M413.5 298h.9M422 289.5h.9M395.5 306.5h.9M386.5 312.5h.9M405.5 298.5h.9M396 303h.9M408 296.5h.9M407 290h.9M387 313.5h.9M408.5 309.5h.9M387.5 320h.9M394.5 297.5h.9M413 305.5h.9M396.5 308h.9M428.5 288h.9M389 317.5h.9M390.5 300h.9M398 301.5h.9M404 293h.9M396 309h.9M401.5 323h.9M422 306.5h.9M392 314h.9M423 293h.9M385.5 318.5h.9M410 309.5h.9M418 301h.9M405.5 315h.9M410.5 299.5h.9M400.5 300.5h.9M406 293.5h.9M389 326h.9M395 314.5h.9M385 318h.9M414.5 288.5h.9M392.5 307.5h.9M400.5 296h.9M406.5 295h.9M404 294.5h.9M406 296.5h.9M383.5 315h.9M413 300h.9M412.5 283.5h.9M386.5 319.5h.9M391 303h.9M413.5 296h.9M407.5 295h.9M419 299h.9M382.5 328.5h.9M405 310.5h.9M386.5 321.5h.9M411 308.5h.9M389.5 311.5h.9M408.5 299.5h.9M413 296.5h.9M387.5 313.5h.9M403.5 319.5h.9M410 290h.9M382 312.5h.9M392 322h.9M418 287.5h.9M409 290.5h.9M400.5 318.5h.9" stroke="#a4aee6" stroke-width="0.9" fill="none"/>
<path d="M432 253h.9M432 250.5h.9M432 253.5h.9M441 254h.9M436 251h.9M426.5 251.5h.9M433.5 253.5h.9M427.5 253.5h.9M425.5 252h.9M431.5 251h.9M426.5 250.5h.9M428 252.5h.9" stroke="#6a80d8" stroke-width="0.9" fill="none"/>
<path d="M436.5 251h.9M423.5 251.5h.9" stroke="#40a8a0" stroke-width="0.9" fill="none"/>
<ellipse cx="402.00" cy="306.20" rx="22.00" ry="8.20" fill="url(#core)" transform="rotate(-42 402.00 306.20)"/>
<ellipse cx="394.50" cy="323.20" rx="3.2" ry="4.2" fill="#d8e8f0" fill-opacity="0.75"/>
<path d="M422.5 242.2V334.2M381 291.5H473" stroke="#2a2a2a" stroke-width="1" fill="none"/>
<text x="383.50" y="249.90" font-size="4.5" text-anchor="start" fill="#3a3a3a" font-weight="normal">Q1</text>
<text x="383.50" y="255.60" font-size="4.5" text-anchor="start" fill="#3a3a3a" font-weight="normal">0.82</text>
<text x="466.00" y="249.90" font-size="4.5" text-anchor="end" fill="#3a3a3a" font-weight="normal">Q2</text>
<text x="466.00" y="255.60" font-size="4.5" text-anchor="end" fill="#3a3a3a" font-weight="normal">1.48</text>
<text x="383.50" y="324.70" font-size="4.5" text-anchor="start" fill="#3a3a3a" font-weight="normal">Q4</text>
<text x="383.50" y="330.20" font-size="4.5" text-anchor="start" fill="#3a3a3a" font-weight="normal">97.4</text>
<text x="466.00" y="324.70" font-size="4.5" text-anchor="end" fill="#3a3a3a" font-weight="normal">Q3</text>
<text x="466.00" y="330.20" font-size="4.5" text-anchor="end" fill="#3a3a3a" font-weight="normal">0.49</text>
<text x="528.40" y="238.70" font-size="9.1" text-anchor="middle" fill="#1a1a1a" font-weight="bold">Agomelatine</text>
<line x1="482.00" y1="242.20" x2="482.00" y2="334.20" stroke="#6a6a6a" stroke-width="0.9"/>
<line x1="482.00" y1="334.20" x2="574.00" y2="334.20" stroke="#8a8a8a" stroke-width="0.8"/>
<line x1="574.00" y1="242.20" x2="574.00" y2="334.20" stroke="#a0a0a0" stroke-width="0.9"/>
<path d="M480.0 251.2h2M476.5 251.7l1.2 -1.2m.4 .2h.8M480.0 272.2h2M476.5 272.7l1.2 -1.2m.4 .2h.8M480.0 292.2h2M476.5 292.7l1.2 -1.2m.4 .2h.8M480.0 314.2h2M476.5 314.7l1.2 -1.2m.4 .2h.8M480.0 328.2h2M476.5 328.7l1.2 -1.2m.4 .2h.8M488.0 334.2v1.6M487.2 338.2l1.2 -1.2m.4 .2h.8M502.5 334.2v1.6M501.7 338.2l1.2 -1.2m.4 .2h.8M524.0 334.2v1.6M523.2 338.2l1.2 -1.2m.4 .2h.8M545.0 334.2v1.6M544.2 338.2l1.2 -1.2m.4 .2h.8M566.0 334.2v1.6M565.2 338.2l1.2 -1.2m.4 .2h.8M482.5 246.2h1M482.5 253.7h1M482.5 261.2h1M482.5 268.7h1M482.5 276.2h1M482.5 283.7h1M482.5 291.2h1M482.5 298.7h1M482.5 306.2h1M482.5 313.7h1M482.5 321.2h1M482.5 328.7h1" stroke="#777" stroke-width="0.55" fill="none"/>
<path d="M534.5 272.5h.9M535.5 277.5h.9M522.5 286.5h.9M499.5 307h.9M525.5 281.5h.9M516 275h.9M516 274h.9M529 285.5h.9M512 263.5h.9M530.5 283.5h.9M554.5 251h.9M526 303.5h.9M523.5 285h.9M529 284h.9M534.5 258h.9M532.5 271.5h.9M546.5 271.5h.9M521 287.5h.9M531 275.5h.9M505 274.5h.9M517 286.5h.9M524.5 282.5h.9M511 289.5h.9M509 282h.9M521 279h.9M547 267h.9M542.5 294h.9M525 275.5h.9M545.5 273h.9M506.5 299.5h.9M516 286.5h.9M558 249h.9M540.5 272h.9M536.5 256h.9M538 252.5h.9M541.5 262.5h.9M516.5 301h.9M512.5 293h.9M530.5 285.5h.9M534 279h.9M536.5 268h.9M519.5 285.5h.9M521.5 292h.9M515 300h.9M516.5 283h.9M500.5 295h.9M534.5 269h.9M533.5 281h.9M515.5 279h.9M521 287.5h.9M534 272.5h.9M526.5 294.5h.9M532 283h.9M494 303.5h.9M515 298.5h.9M521.5 284h.9M528 284h.9M519 277.5h.9M539 266h.9M536 263.5h.9M535 250h.9M531.5 258h.9M527.5 275h.9M536.5 264.5h.9M514 295.5h.9M524.5 299.5h.9M529 289.5h.9M517 279.5h.9M551 254h.9M519 302.5h.9M517 304.5h.9M518 290.5h.9M543 262h.9M546.5 248h.9M523.5 298h.9M543 275.5h.9M531 269.5h.9M542.5 307.5h.9M540 270.5h.9M533 282.5h.9" stroke="#b4bbea" stroke-width="0.9" fill="none"/>
<path d="M509 299.5h.9M547 251.5h.9M523 273.5h.9M523.5 283h.9M532 279.5h.9M547.5 266.5h.9M503 292h.9M536 261h.9M546.5 256h.9M501 309.5h.9M534.5 272h.9M516 289h.9M510 286h.9M541 262h.9M507.5 300h.9M545 274.5h.9M533.5 263h.9M513.5 278h.9M510 289.5h.9M514.5 299h.9" stroke="#6070c8" stroke-width="0.9" fill="none"/>
<path d="M503.5 305.5h.9M502.5 314.5h.9M500.5 311h.9M496.5 321.5h.9M502 307h.9M493.5 310h.9M505 309.5h.9M503 313.5h.9M495 317h.9M505.5 306.5h.9M508 302.5h.9M502 320h.9M506.5 304.5h.9M513.5 302h.9M492.5 314h.9M514 304.5h.9M503.5 308h.9M502.5 308.5h.9M496 314.5h.9M500 317h.9M499 318.5h.9M503 303h.9M498 318h.9M507 303h.9M503.5 316.5h.9M500.5 312h.9M504 309.5h.9M502.5 306h.9M506.5 305.5h.9M505 302h.9M507.5 315h.9M513 296h.9M502 314h.9M505 301.5h.9M495 317.5h.9M502.5 310.5h.9M502 306h.9M505 304.5h.9M506 306.5h.9M510 308h.9M505.5 313h.9M505 303.5h.9M500 313.5h.9M506.5 306h.9M498 314h.9M500.5 310h.9M496 316.5h.9M502.5 311.5h.9M504 314.5h.9M503.5 311h.9M504 307.5h.9M501.5 308h.9M497 316.5h.9M497 312h.9M491.5 318h.9M508.5 310h.9M501.5 318.5h.9M503 309.5h.9M511 311.5h.9M508 302.5h.9M502.5 317h.9M504 309.5h.9M502 310.5h.9M504.5 312h.9M498.5 315h.9M508.5 302.5h.9M509.5 305.5h.9M501.5 309h.9M497 321.5h.9M503 308h.9M503 299h.9M505.5 313.5h.9M489.5 321h.9M508.5 302.5h.9M502 314.5h.9M504 310h.9M503 316h.9M499.5 315.5h.9M500 314h.9M501 310h.9M498.5 313.5h.9M502.5 308h.9M497.5 314.5h.9M502.5 308.5h.9M504 310h.9M503.5 311h.9M500.5 312h.9M501.5 310.5h.9M495.5 315h.9M502 305.5h.9M502.5 308.5h.9M499 317.5h.9M507.5 308.5h.9M501 306h.9M499.5 313h.9M498 319.5h.9M512 306h.9M498 310.5h.9M497 314.5h.9M510.5 304.5h.9M499 311h.9M503 310.5h.9M500.5 314h.9M501 313.5h.9M503.5 312.5h.9M496.5 316h.9M497 316h.9M495 314h.9M505.5 313h.9M500 316.5h.9M496 316h.9M503 310.5h.9M500 316h.9M509 305.5h.9M500.5 310h.9M492 322h.9M505.5 305h.9M503 316.5h.9M493 318h.9M510.5 302h.9M497.5 319h.9M503 320h.9M497.5 312h.9M504.5 311.5h.9M505.5 306h.9M505 314h.9M497.5 312.5h.9M505.5 308h.9M500.5 308.5h.9M503.5 307.5h.9M503 302.5h.9M496 313.5h.9M502.5 312.5h.9M503.5 308h.9M495 316h.9M500.5 314h.9M490.5 316h.9M500 316h.9M505 315.5h.9M515 301.5h.9M503.5 310.5h.9M498 317h.9M501.5 315.5h.9M503.5 314.5h.9M502 311.5h.9M501 310.5h.9M510.5 307.5h.9M491.5 317.5h.9M502.5 308.5h.9M497 313h.9M499.5 313.5h.9M497.5 320.5h.9M499.5 315.5h.9M492 318.5h.9M502 310h.9M507 300.5h.9M498.5 307h.9M506.5 301.5h.9M503.5 310h.9M504 306.5h.9M506 311h.9M501.5 315h.9M496.5 314h.9M502 306h.9M497 310.5h.9M506 313h.9M505 310.5h.9M500 317h.9M496 311.5h.9M505.5 307h.9M503 316.5h.9M512 301h.9M495 312h.9M497 307.5h.9M496.5 313h.9M508.5 307.5h.9M499.5 317h.9M505 300.5h.9M497 312.5h.9M508 312h.9M497 313.5h.9M496 316.5h.9M506.5 307h.9M509 307.5h.9M499.5 311.5h.9M497.5 316.5h.9M506.5 311.5h.9M539.5 255.5h.9M542 255h.9M528 263.5h.9M539 257h.9M542.5 257.5h.9M540 260.5h.9M532.5 255h.9M533.5 257h.9M541 258h.9M539.5 259h.9M540 259.5h.9M541.5 258.5h.9M541 257.5h.9M538.5 258h.9M537.5 257.5h.9M540.5 259h.9M534.5 256h.9M541.5 257h.9M538.5 255h.9M532 258.5h.9" stroke="#2a3aa8" stroke-width="0.9" fill="none"/>
<path d="M509 304h.9M509.5 310h.9M509 313h.9M509.5 309.5h.9M512 306h.9M509.5 308h.9M509 304h.9M511 300h.9M499 299.5h.9M497 321h.9M506 311.5h.9M494.5 311.5h.9M490 316h.9M496 318h.9M499 310h.9M513.5 306h.9M489.5 322.5h.9M511 311.5h.9M503 308.5h.9M504 313.5h.9M507 292h.9M506.5 308.5h.9M499.5 318.5h.9M495.5 324.5h.9M495 313h.9M503.5 305h.9M506.5 307h.9M506.5 299h.9M499.5 314h.9M491 324.5h.9M505 305.5h.9M504.5 303h.9M513.5 294h.9M493 315.5h.9M490.5 325h.9M504 302.5h.9M489 310.5h.9M516.5 301.5h.9M508 299h.9M496 314h.9M508 309h.9M493.5 309.5h.9M502.5 317.5h.9M505.5 302h.9M507 299.5h.9M504.5 307h.9M502.5 300h.9M498 318.5h.9M509.5 301h.9M524.5 295.5h.9M490.5 317.5h.9M505 314.5h.9M497.5 322h.9M510 301.5h.9M502 311.5h.9M501 319.5h.9M509.5 301.5h.9M498.5 311h.9M498 316.5h.9M494.5 319.5h.9M507 302.5h.9M497.5 303h.9M486 327h.9M492 317h.9M497 310h.9M499.5 316.5h.9M506.5 308.5h.9M510.5 307h.9M514 303.5h.9M490 323h.9M515.5 302.5h.9M501.5 318h.9M507 313.5h.9M515 302.5h.9M516 300.5h.9M504 315h.9M503.5 305h.9M504 314h.9M514 303.5h.9M511.5 312.5h.9M514 294.5h.9M507.5 307.5h.9M498 312.5h.9M507.5 310h.9M500 310h.9M506.5 308.5h.9M511.5 306h.9M499 302.5h.9M493.5 320.5h.9M515.5 312h.9M500 324.5h.9M490.5 310.5h.9M491.5 321h.9M511.5 308.5h.9M498.5 307.5h.9M511 308.5h.9M509.5 297h.9M495.5 319h.9M500.5 306h.9M498 313h.9M511 303.5h.9M496.5 314h.9M508 309h.9M501.5 303h.9M491 315h.9M497 323h.9M489 324h.9M496.5 314h.9M496.5 328.5h.9M507 304.5h.9M501 314.5h.9M510 303h.9M505.5 317.5h.9M503 308h.9M509 306.5h.9M504 307.5h.9M502.5 302h.9M509 301.5h.9M510 312.5h.9M510 302h.9M494.5 309h.9M510 313.5h.9M509.5 301.5h.9M505.5 314h.9M496.5 319h.9M514 299h.9M507 309.5h.9M518.5 298.5h.9M497.5 315h.9M499.5 307.5h.9M502.5 325.5h.9M502.5 297.5h.9M496 312h.9M494.5 320h.9M495.5 318.5h.9M505.5 313h.9M498.5 310.5h.9M504.5 319h.9M517 303.5h.9M507 312h.9M504 308.5h.9M494.5 316.5h.9M504 307h.9M507.5 309h.9M499.5 307h.9M512 303.5h.9M497.5 314h.9M503.5 313h.9M507.5 307h.9M501 314.5h.9M505 307.5h.9M505.5 295.5h.9M513 299.5h.9M492.5 321h.9M495 324.5h.9M509 299.5h.9M501.5 315h.9M488 322h.9M494 315.5h.9M494.5 313h.9M506 312h.9M507 302.5h.9M508.5 314h.9M495.5 325h.9M505.5 310.5h.9M496.5 316h.9M494.5 318.5h.9M499 300.5h.9M490.5 326h.9M502 312h.9M506 305h.9M505.5 314.5h.9M503.5 310.5h.9M492 319.5h.9M498.5 312h.9M504.5 307.5h.9M505.5 318.5h.9M494 307h.9M499 321.5h.9M511.5 302.5h.9M506.5 300h.9M506 317h.9M492.5 331.5h.9M512 296.5h.9M502 309.5h.9M499 325h.9M507 305h.9M515 297.5h.9M504 302.5h.9M489 329.5h.9M508 314.5h.9M497.5 316.5h.9M496.5 307h.9M489.5 324h.9M500 319h.9M492.5 323.5h.9M499.5 309h.9M502.5 314h.9M484 332h.9M496 323.5h.9M507 304h.9M502 303.5h.9M500 316h.9M496.5 319h.9M502.5 318h.9M495.5 311h.9M509.5 305h.9M502.5 312h.9M507.5 295.5h.9M488.5 325.5h.9M513 302.5h.9M493.5 317h.9M497.5 318h.9M504.5 306h.9M497 311h.9M512.5 307h.9M503.5 297h.9M493 322h.9M494 305.5h.9M501 315.5h.9M499.5 310.5h.9M500.5 314h.9M502 320h.9M493.5 316.5h.9M502 308.5h.9M509 304.5h.9M504 307h.9M499.5 306.5h.9M491.5 318h.9M500 315.5h.9M506.5 307.5h.9M496.5 316.5h.9M494 313h.9M491 316.5h.9M500 306.5h.9M494.5 311h.9M500.5 305.5h.9M497.5 318.5h.9M507 299.5h.9M502.5 308.5h.9M492 320h.9M495.5 315.5h.9M494.5 325h.9M505.5 298h.9M498.5 314h.9M499.5 319h.9M488 323.5h.9M507 310.5h.9M502 307.5h.9M518.5 304.5h.9M502 306.5h.9M510 303.5h.9M496 315.5h.9M496.5 318h.9M508.5 303h.9M509 293.5h.9M516 293h.9M500.5 308h.9M509.5 303h.9M505 311.5h.9M496.5 312h.9M496 316h.9M511.5 295.5h.9M502.5 305.5h.9M509.5 301.5h.9M509.5 306h.9M498 312.5h.9M512 311.5h.9M497.5 313.5h.9M506.5 301h.9M490.5 317.5h.9M502 308.5h.9M498.5 311h.9M489 322h.9M512.5 305.5h.9M493.5 318.5h.9M507.5 303.5h.9M499.5 310h.9M495 323h.9M506 312.5h.9M489 315.5h.9M501 321h.9M510.5 295h.9M506.5 306h.9M517.5 296h.9M512.5 306.5h.9M520 303h.9M505 313.5h.9M506 305h.9M507.5 303.5h.9M507.5 316h.9M493 323h.9M508.5 298.5h.9M492.5 315.5h.9M505 303h.9M502.5 316h.9M496 320h.9M501.5 317.5h.9M507.5 295.5h.9M519 295.5h.9M512.5 305h.9M505 297h.9M503.5 316.5h.9M494 312.5h.9M517.5 303h.9M509.5 310h.9M498.5 310h.9M501.5 306h.9M498.5 319.5h.9M498.5 308h.9M510 316.5h.9M502.5 303.5h.9M521 303.5h.9M485.5 318h.9M497 304.5h.9M494 313.5h.9M503.5 301h.9M492 324.5h.9M487 327.5h.9" stroke="#5068c8" stroke-width="0.9" fill="none"/>
<path d="M497.5 300.5h.9M512.5 312h.9M494.5 327h.9M491.5 317.5h.9M513.5 295h.9M489.5 310.5h.9M516.5 301.5h.9M512.5 297h.9M504.5 314h.9M502.5 295h.9M489.5 314.5h.9M492.5 330h.9M513 300.5h.9M504.5 322.5h.9M485.5 318h.9M509 318.5h.9M509.5 307.5h.9M497 320h.9M489.5 333h.9M500 321.5h.9M491.5 315h.9M502.5 299h.9M514.5 294.5h.9M515 315.5h.9M493.5 322h.9M492.5 313h.9M488 317h.9M509 311.5h.9M517.5 298.5h.9M501 307h.9M496 303.5h.9M488.5 330h.9M510.5 316h.9M509 291h.9M499 300.5h.9M522.5 302.5h.9M502 302h.9M492.5 330h.9M506.5 294.5h.9M517 291h.9M502 321.5h.9M517 292h.9M491 317h.9M516.5 312h.9M499.5 319h.9M511 300.5h.9M501 304.5h.9M488 319.5h.9M508 310.5h.9M501 317h.9M494 315h.9M516.5 305h.9M495 329h.9M520.5 291.5h.9M514.5 301.5h.9M510.5 287h.9M512.5 310.5h.9M497.5 323.5h.9M510.5 306.5h.9M483.5 324.5h.9M525.5 291h.9M508.5 301h.9M492.5 321h.9M511.5 299.5h.9M497 300h.9M521 295.5h.9M487.5 309h.9M490 311h.9M527 290.5h.9M497 305h.9M491 322h.9M517.5 288h.9M488.5 321.5h.9M491 322h.9M503.5 317.5h.9M510 307h.9M498 323.5h.9M515.5 300h.9M483 321.5h.9M485.5 329h.9M498.5 299h.9M509 315.5h.9M521 302.5h.9M513 298.5h.9M499 303h.9M484 324.5h.9M526.5 293.5h.9M500 303h.9M492 321.5h.9M519 310.5h.9M487 318.5h.9M486.5 316h.9M501 296h.9M517 299h.9M500.5 304h.9M492 302.5h.9M507.5 300h.9M503 317.5h.9M511 311.5h.9M517.5 302h.9M520 297.5h.9M515.5 289.5h.9M512.5 307h.9M516 294.5h.9M509.5 297.5h.9M502.5 322.5h.9M492 323h.9M530.5 292.5h.9M509 299h.9M520.5 296h.9M494 322h.9M504 319h.9M511.5 311h.9M491.5 330h.9M501.5 296h.9M487 325.5h.9M515.5 303.5h.9M495 310h.9M503 291h.9M504 320.5h.9M515.5 301h.9M484.5 325h.9M503 303h.9M485 308.5h.9M491 316h.9M501 318.5h.9M500 308.5h.9M519.5 293.5h.9M518 295h.9M494.5 326.5h.9M498.5 307.5h.9M519 299.5h.9M507 300.5h.9M483.5 311h.9M491 326.5h.9M492.5 326h.9M505.5 328.5h.9M503.5 327.5h.9M513.5 306.5h.9M513 303.5h.9M513.5 301.5h.9M484.5 324.5h.9M512 314.5h.9M493 300h.9M505.5 311.5h.9M507 316.5h.9M494.5 326.5h.9M511 308.5h.9M493 326.5h.9M523.5 291.5h.9M517 301.5h.9M501.5 304h.9M501.5 296.5h.9M505.5 314h.9M502.5 322.5h.9M495 310h.9M492 331h.9M514.5 300h.9M510 295.5h.9M509 294h.9M512 309h.9M510.5 302.5h.9M515.5 293h.9M483.5 330.5h.9M501.5 294.5h.9M501.5 297.5h.9M484 327.5h.9M509 291.5h.9M507.5 320.5h.9M504.5 294h.9M494 322h.9M508.5 318h.9M488.5 318.5h.9M490 316.5h.9M495 324h.9M517 299h.9M506.5 315h.9M517 309h.9M507 311.5h.9M488.5 331h.9M496 326.5h.9M497.5 319h.9M502.5 317h.9" stroke="#a4aee6" stroke-width="0.9" fill="none"/>
<path d="M540.5 255.5h.9M536.5 255.5h.9M543.5 258.5h.9M539 257h.9M540.5 260h.9M541.5 252.5h.9M542 256.5h.9M548.5 256.5h.9M543 258h.9M535.5 259.5h.9M533.5 257h.9M530 257.5h.9M540 257.5h.9M542 255h.9M549.5 257.5h.9M547 257h.9M546 257.5h.9M535.5 257.5h.9M545 254.5h.9M539 255.5h.9M545.5 258h.9M543 255h.9M549 253.5h.9M526.5 260.5h.9M533 254.5h.9M545 258h.9M541 257.5h.9M542.5 258.5h.9" stroke="#6a80d8" stroke-width="0.9" fill="none"/>
<path d="M543.5 256h.9M549.5 258h.9M540 255.5h.9M537.5 261.5h.9M538.5 259h.9M533 259.5h.9M544 258h.9" stroke="#40a8a0" stroke-width="0.9" fill="none"/>
<ellipse cx="502.50" cy="310.20" rx="22.00" ry="8.20" fill="url(#core)" transform="rotate(-48 502.50 310.20)"/>
<ellipse cx="495.50" cy="323.20" rx="3.2" ry="4.2" fill="#d8e8f0" fill-opacity="0.75"/>
<ellipse cx="539.00" cy="257.20" rx="8.80" ry="2.80" fill="url(#q2g)" transform="rotate(-8 539.00 257.20)"/>
<path d="M523.5 242.2V334.2M482 291.5H574" stroke="#2a2a2a" stroke-width="1" fill="none"/>
<text x="484.50" y="249.90" font-size="4.5" text-anchor="start" fill="#3a3a3a" font-weight="normal">Q1</text>
<text x="484.50" y="255.60" font-size="4.5" text-anchor="start" fill="#3a3a3a" font-weight="normal">0.68</text>
<text x="567.00" y="249.90" font-size="4.5" text-anchor="end" fill="#3a3a3a" font-weight="normal">Q2</text>
<text x="567.00" y="255.60" font-size="4.5" text-anchor="end" fill="#3a3a3a" font-weight="normal">3.68</text>
<text x="484.50" y="324.70" font-size="4.5" text-anchor="start" fill="#3a3a3a" font-weight="normal">Q4</text>
<text x="484.50" y="330.20" font-size="4.5" text-anchor="start" fill="#3a3a3a" font-weight="normal">95.2</text>
<text x="567.00" y="324.70" font-size="4.5" text-anchor="end" fill="#3a3a3a" font-weight="normal">Q3</text>
<text x="567.00" y="330.20" font-size="4.5" text-anchor="end" fill="#3a3a3a" font-weight="normal">0.43</text>
<text x="629.30" y="238.70" font-size="9.1" text-anchor="middle" fill="#1a1a1a" font-weight="bold">Bupropion</text>
<line x1="583.20" y1="242.20" x2="583.20" y2="334.20" stroke="#6a6a6a" stroke-width="0.9"/>
<line x1="583.20" y1="334.20" x2="675.20" y2="334.20" stroke="#8a8a8a" stroke-width="0.8"/>
<line x1="675.20" y1="242.20" x2="675.20" y2="334.20" stroke="#a0a0a0" stroke-width="0.9"/>
<path d="M581.2 251.2h2M577.7 251.7l1.2 -1.2m.4 .2h.8M581.2 272.2h2M577.7 272.7l1.2 -1.2m.4 .2h.8M581.2 292.2h2M577.7 292.7l1.2 -1.2m.4 .2h.8M581.2 314.2h2M577.7 314.7l1.2 -1.2m.4 .2h.8M581.2 328.2h2M577.7 328.7l1.2 -1.2m.4 .2h.8M589.2 334.2v1.6M588.4 338.2l1.2 -1.2m.4 .2h.8M603.7 334.2v1.6M602.9 338.2l1.2 -1.2m.4 .2h.8M625.2 334.2v1.6M624.4 338.2l1.2 -1.2m.4 .2h.8M646.2 334.2v1.6M645.4 338.2l1.2 -1.2m.4 .2h.8M667.2 334.2v1.6M666.4 338.2l1.2 -1.2m.4 .2h.8M583.7 246.2h1M583.7 253.7h1M583.7 261.2h1M583.7 268.7h1M583.7 276.2h1M583.7 283.7h1M583.7 291.2h1M583.7 298.7h1M583.7 306.2h1M583.7 313.7h1M583.7 321.2h1M583.7 328.7h1" stroke="#777" stroke-width="0.55" fill="none"/>
<path d="M603 307.5h.9M636 257.5h.9M640.5 261.5h.9M608 293.5h.9M606 298.5h.9M652.5 268h.9M632.5 269.5h.9M610.5 285.5h.9M623.5 278.5h.9M637 279h.9M632 281.5h.9M630 271.5h.9M643 277h.9M623 294h.9M638 280h.9M638 264.5h.9M627 295h.9M656 260.5h.9M616 282h.9M628.5 275h.9M635.5 276.5h.9M623 288h.9" stroke="#6070c8" stroke-width="0.9" fill="none"/>
<path d="M617.5 307.5h.9M652.5 253h.9M633.5 267.5h.9M630 282.5h.9M617.5 291h.9M642.5 252.5h.9M634.5 287h.9M633 279.5h.9M607.5 282h.9M653 259.5h.9M605 292.5h.9M619 287h.9M605 312.5h.9M617.5 298.5h.9M635 278.5h.9M613.5 299.5h.9M636.5 278.5h.9M626 293h.9M634.5 267.5h.9M614 282h.9M622.5 283h.9M611.5 302h.9M605 305.5h.9M659 272h.9M625 284h.9M629 281.5h.9M642 260h.9M648.5 268.5h.9M629.5 260h.9M630.5 261.5h.9M658 269.5h.9M622 266h.9M618 271.5h.9M619.5 286h.9M635 292.5h.9M610.5 292h.9M630 282h.9M634.5 293h.9M635 270.5h.9M632 297h.9M608.5 299.5h.9M609 308h.9M607.5 289.5h.9M618.5 274h.9M634.5 284.5h.9M627.5 274h.9M630 255.5h.9M659.5 260h.9M628.5 280h.9M600 298h.9M650 271.5h.9M628.5 267.5h.9M651 282.5h.9M647.5 271.5h.9M614 283.5h.9M643.5 261h.9M639 264h.9M648 263.5h.9M636 270h.9M621.5 280h.9M631 294h.9M611 283.5h.9M635 257h.9M612 282.5h.9M643 262.5h.9M649 283.5h.9M620 264.5h.9M622.5 283.5h.9M620.5 278h.9M618 262.5h.9M636 265h.9M632 285h.9M628.5 293h.9M616.5 286.5h.9M637 259h.9M623 277.5h.9M629 280h.9" stroke="#b4bbea" stroke-width="0.9" fill="none"/>
<path d="M593 327h.9M602.5 302h.9M598.5 308.5h.9M604 317.5h.9M600.5 302.5h.9M591.5 326.5h.9M602 331.5h.9M596 325h.9M592 320.5h.9M619 288h.9M595.5 302h.9M600 328.5h.9M611.5 315h.9M616.5 300h.9M619 293h.9M596 305.5h.9M618 304.5h.9M615 304.5h.9M614.5 299.5h.9M617 298.5h.9M594.5 322.5h.9M590 323.5h.9M608.5 326.5h.9M602 306.5h.9M613 300h.9M627 286h.9M605 303h.9M601 304h.9M607.5 299.5h.9M599 323h.9M616 301.5h.9M612 294.5h.9M612.5 299.5h.9M600.5 330h.9M594 318h.9M588.5 325.5h.9M593 327.5h.9M592 313h.9M589.5 331h.9M597 311.5h.9M608.5 296h.9M590 317.5h.9M616 289.5h.9M609 302h.9M622 285h.9M589 331h.9M591 332.5h.9M614 305.5h.9M611.5 304.5h.9M610 286h.9M608.5 319.5h.9M618 305h.9M592 312.5h.9M621 291h.9M611.5 311h.9M600 319.5h.9M605 324.5h.9M592 327h.9M592 322.5h.9M587.5 329h.9M628.5 298h.9M613.5 300.5h.9M586.5 319.5h.9M600 322h.9M589 323.5h.9M611.5 312h.9M606 319.5h.9M619 307h.9M587.5 328.5h.9M607.5 299.5h.9M617 296h.9M598.5 308h.9M603 322.5h.9M588 321.5h.9M591.5 324h.9M594 329h.9M587 323.5h.9M620 298h.9M589.5 324h.9M613.5 312.5h.9M616 290h.9M618 304.5h.9M613 300h.9M602.5 319.5h.9M591.5 328h.9M597.5 314.5h.9M592.5 313.5h.9M601.5 325h.9M610.5 297h.9M602.5 321h.9M595.5 309h.9M597.5 314h.9M598.5 308h.9M595.5 331h.9M593.5 309h.9M612 301.5h.9M588 333.5h.9M615 309h.9M600 302.5h.9M615.5 300.5h.9M596.5 328h.9M598 327.5h.9M604 302.5h.9M594.5 320h.9M596 323h.9M617 303h.9M611.5 306h.9M607.5 298h.9M610 313h.9M625.5 300.5h.9M599.5 307h.9M604.5 297.5h.9M604.5 324h.9M584.5 318.5h.9M612.5 303h.9M606.5 302h.9M598.5 320.5h.9M605 314.5h.9M613 314.5h.9M608.5 303h.9M593 327h.9M607 321.5h.9M603 299.5h.9M602 319.5h.9M611.5 303.5h.9M585 330.5h.9M613.5 321.5h.9M600 318.5h.9M612.5 309h.9M596.5 310h.9M592 319.5h.9M602 302h.9M591 323.5h.9M598.5 329h.9M600.5 299h.9M589 327h.9M586.5 332.5h.9M609 312.5h.9M596.5 310h.9M610.5 302h.9M591.5 315.5h.9M630.5 286.5h.9M622.5 303.5h.9M614.5 306.5h.9M589.5 327.5h.9M597.5 320.5h.9M600.5 304h.9M612.5 298h.9M609 316.5h.9M602 325h.9M603 297h.9M611 311.5h.9M592.5 312h.9M616 290h.9M611 305.5h.9M599 318.5h.9M601 324.5h.9M594 305.5h.9M596 305h.9M592.5 331.5h.9M610 288h.9M601 303.5h.9M605 319.5h.9M612 321.5h.9M588 330h.9M605 298h.9M587 328h.9M609 296.5h.9M593.5 318h.9M614.5 303h.9M620.5 291.5h.9M615.5 299.5h.9M595.5 323.5h.9M599 310h.9M585 329.5h.9M598 320.5h.9" stroke="#a4aee6" stroke-width="0.9" fill="none"/>
<path d="M608 299h.9M608 303.5h.9M607 308.5h.9M604.5 313.5h.9M604.5 303h.9M613.5 298h.9M608.5 307h.9M600 311.5h.9M588.5 315.5h.9M608 316.5h.9M614.5 303.5h.9M586.5 325.5h.9M617 302.5h.9M600.5 317.5h.9M594 322h.9M609 316h.9M595.5 329h.9M598 316.5h.9M591.5 319.5h.9M604.5 315h.9M604 309.5h.9M591 314.5h.9M613.5 303.5h.9M605.5 314h.9M610.5 303h.9M595 327h.9M608.5 303h.9M615.5 298.5h.9M602.5 311.5h.9M604.5 304.5h.9M601.5 304.5h.9M606 306.5h.9M601 311.5h.9M592.5 321.5h.9M600 323h.9M612.5 293.5h.9M591.5 327.5h.9M611 308.5h.9M606 309h.9M594 322.5h.9M603.5 319.5h.9M607 314h.9M609.5 303h.9M596.5 322.5h.9M592 319h.9M610 315h.9M606 299.5h.9M594 325h.9M605.5 312.5h.9M599.5 313h.9M603 308.5h.9M609.5 307.5h.9M607.5 309h.9M612.5 320h.9M597.5 319.5h.9M603.5 310.5h.9M601.5 326h.9M611.5 304h.9M605.5 304h.9M603.5 314.5h.9M597 315.5h.9M605.5 319.5h.9M606 307h.9M605.5 315.5h.9M598 307h.9M600 314.5h.9M601.5 314.5h.9M598.5 316.5h.9M603.5 317.5h.9M602 311h.9M592 321h.9M610 307h.9M609.5 309h.9M590 327h.9M598 322.5h.9M602 299.5h.9M606 304.5h.9M623 295.5h.9M607 312h.9M615 295h.9M593.5 321h.9M611 304.5h.9M602 310h.9M585.5 328h.9M596.5 307h.9M595.5 315h.9M595.5 307h.9M599 318h.9M615.5 303h.9M612 305.5h.9M596.5 322.5h.9M603 315h.9M605.5 297.5h.9M613 309.5h.9M604.5 300h.9M606.5 305h.9M600.5 308.5h.9M601 316.5h.9M610.5 304.5h.9M599 312.5h.9M593.5 313.5h.9M599.5 305h.9M603 315h.9M602 327h.9M611.5 307h.9M602.5 311h.9M595.5 317h.9M607.5 314h.9M611.5 303h.9M606 302.5h.9M602 308.5h.9M609.5 300h.9M607 322h.9M602.5 308h.9M607 304.5h.9M607 320h.9M607 310.5h.9M619 295.5h.9M609 291.5h.9M602 318.5h.9M606 314h.9M601 309.5h.9M617 304h.9M603 318.5h.9M610 314h.9M601.5 304h.9M602 315h.9M610.5 303h.9M603.5 311.5h.9M619 293h.9M606.5 317.5h.9M609 313h.9M599.5 305h.9M609.5 300.5h.9M616.5 302h.9M596 308h.9M605 309.5h.9M608.5 307.5h.9M612.5 310h.9M613.5 304.5h.9M611.5 311h.9M601.5 323h.9M615.5 302h.9M594 321h.9M607 306h.9M603.5 308.5h.9M606 311h.9M608.5 296h.9M611.5 302.5h.9M607 309.5h.9M607 307.5h.9M605.5 304.5h.9M603.5 305.5h.9M594 317.5h.9M618.5 295.5h.9M606.5 306h.9M603.5 318h.9M603 319h.9M595 305.5h.9M593.5 327.5h.9M611 310h.9M607 308.5h.9M614 306.5h.9M600.5 316h.9M602.5 303h.9M593 322.5h.9M588.5 330.5h.9M607.5 312.5h.9M596.5 330.5h.9M603.5 321h.9M597 316.5h.9M605 312.5h.9M603.5 314h.9M605 308.5h.9M599 314.5h.9M605.5 309h.9M607.5 309h.9M595 329h.9M599.5 313.5h.9M620 291.5h.9M609 294.5h.9M609 305.5h.9M592.5 317.5h.9M610.5 306.5h.9M601.5 317.5h.9M590.5 323h.9M602.5 317h.9M614 300h.9M600 318.5h.9M607.5 309h.9M601 313h.9M600 317h.9M604 321.5h.9M608.5 302h.9M604.5 311h.9M605.5 318h.9M620 300h.9M599.5 320.5h.9M596.5 325h.9M611.5 309h.9M606 313h.9M607 312h.9M600 307.5h.9M591 324h.9M592.5 314h.9M594.5 319.5h.9M602.5 299.5h.9M598 324h.9M590.5 326h.9M597 315h.9M605.5 313.5h.9M605.5 312.5h.9M608 309.5h.9M604.5 306h.9M608.5 316h.9M599.5 315h.9M607.5 305.5h.9M608 310h.9M609 307.5h.9M602 316.5h.9M609 299.5h.9M607 300.5h.9M612 314.5h.9M595 315h.9M596 327h.9M609 315.5h.9M595.5 321.5h.9M609 315.5h.9M603 310h.9M604.5 306.5h.9M605 312h.9M598.5 317.5h.9M595.5 325h.9M595 321.5h.9M603.5 315h.9M610 304.5h.9M607 317.5h.9M605 323h.9M608 303h.9M617 297h.9M604 304h.9M604 322h.9M597.5 308.5h.9M594 317h.9M607.5 314.5h.9M586.5 319h.9M594.5 324h.9M606 306.5h.9M601.5 321h.9M608.5 293h.9M606 307.5h.9M614 304.5h.9M607 309.5h.9M612 303.5h.9M595.5 311.5h.9M616 305h.9M599.5 317h.9M606.5 318h.9M611 311.5h.9M596.5 318.5h.9M593.5 326h.9M601 308.5h.9M615 293.5h.9M596 322.5h.9M592 316.5h.9M610.5 311.5h.9M598 324h.9M602.5 320h.9M613 308.5h.9M584 322h.9M594 323.5h.9M594 319.5h.9M602.5 311h.9M607 309h.9M603 311h.9M606 307.5h.9M607 303h.9M592.5 319.5h.9M608.5 309.5h.9M611 294.5h.9M619 304.5h.9M610 312h.9M606.5 314.5h.9M601 319h.9M611 298.5h.9M595 322h.9M601 308h.9M603.5 312.5h.9M610.5 296h.9M594.5 313.5h.9M597.5 318.5h.9M584.5 325.5h.9M611.5 308h.9M600 318h.9M594 323h.9M606 306.5h.9M603 311.5h.9M592.5 332.5h.9M612.5 313.5h.9M593.5 311h.9M612.5 305h.9M616 313.5h.9M605 316.5h.9M614 309h.9M611 307h.9M612 308.5h.9M603.5 304h.9M602 307h.9M598.5 309h.9M613 305.5h.9M598 315h.9M595 311.5h.9M613.5 299h.9M595.5 324.5h.9M604.5 314.5h.9M603.5 308.5h.9M616.5 298.5h.9M610.5 300h.9M608 305.5h.9M608.5 300.5h.9M613 316.5h.9M607.5 301h.9M590.5 315.5h.9M606 306.5h.9M602 314h.9M603 314h.9M607 295.5h.9M611 311.5h.9M600 311h.9M606.5 309h.9M600 306.5h.9" stroke="#5068c8" stroke-width="0.9" fill="none"/>
<path d="M591 318.5h.9M599 317h.9M605 317.5h.9M604 320h.9M604.5 311.5h.9M602.5 312h.9M601.5 309.5h.9M611 312h.9M599 313.5h.9M610 311h.9M601.5 311.5h.9M600 313.5h.9M609 304.5h.9M607 313.5h.9M611.5 305h.9M597.5 316.5h.9M595 319h.9M606.5 306.5h.9M602.5 309h.9M610.5 308h.9M603 315h.9M602 308.5h.9M601.5 311.5h.9M596.5 317.5h.9M605 312.5h.9M598.5 316.5h.9M612.5 305h.9M598.5 319.5h.9M603.5 309h.9M601 313h.9M616 303h.9M605 309h.9M606 305.5h.9M607.5 310.5h.9M604 319h.9M601 314h.9M595 316.5h.9M603.5 308h.9M599 312.5h.9M602.5 309.5h.9M607 309.5h.9M601 317.5h.9M601 315h.9M601.5 319.5h.9M603.5 309.5h.9M605.5 307.5h.9M607 308.5h.9M604 310h.9M600 313.5h.9M598.5 319.5h.9M607 306.5h.9M602.5 310.5h.9M597 313.5h.9M597.5 315.5h.9M599.5 316.5h.9M601 307.5h.9M595.5 317.5h.9M599.5 313h.9M604 316h.9M597 315.5h.9M604 310.5h.9M600 315.5h.9M609.5 307h.9M599 314h.9M599.5 314.5h.9M599 321.5h.9M598 314h.9M602.5 315.5h.9M604 311h.9M599.5 316h.9M589.5 320.5h.9M607.5 306h.9M600 315.5h.9M610 300h.9M603.5 312h.9M592 326h.9M603 310h.9M592 325.5h.9M597 316.5h.9M610 309h.9M609 312h.9M604 301h.9M602 318h.9M595 315h.9M606 309.5h.9M600 310.5h.9M601.5 306h.9M604.5 311.5h.9M596 321.5h.9M602.5 316h.9M599.5 312h.9M597 309h.9M595.5 318h.9M612.5 298h.9M601.5 308.5h.9M606 303.5h.9M597 313.5h.9M600.5 319.5h.9M611 303.5h.9M603.5 312h.9M601.5 308.5h.9M596 320h.9M606 316.5h.9M608 309.5h.9M601.5 314h.9M601.5 314.5h.9M594 316h.9M605 311.5h.9M600 313h.9M605 313.5h.9M610 302.5h.9M609 309.5h.9M606 314h.9M609 302h.9M601.5 309.5h.9M609.5 300h.9M608.5 308.5h.9M601 316h.9M604 306h.9M604 313h.9M607 304.5h.9M607 318h.9M609 309.5h.9M597 318h.9M607.5 314h.9M603.5 307.5h.9M606 309h.9M607 303.5h.9M615 304h.9M609 310h.9M606 309h.9M600.5 311.5h.9M614 305h.9M595 319h.9M600 307.5h.9M608.5 309.5h.9M595 316.5h.9M601 317.5h.9M601 315.5h.9M602 316h.9M605 303.5h.9M594 320.5h.9M610.5 303.5h.9M600.5 311h.9M609 304h.9M602 307.5h.9M611.5 305.5h.9M606 311h.9M608.5 309.5h.9M608 309.5h.9M607 311.5h.9M605 308.5h.9M600.5 305.5h.9M598 315h.9M604.5 309h.9M615 298.5h.9M604.5 305h.9M607 307h.9M602 312.5h.9M603 311h.9M601.5 311.5h.9M612 305h.9M596.5 317.5h.9M608.5 303h.9M599 314h.9M599.5 313.5h.9M600.5 312.5h.9M605 311.5h.9M599 321.5h.9M595 315.5h.9M601.5 304.5h.9M599.5 310h.9M604 317.5h.9M606.5 306h.9M601 309h.9M611 303.5h.9M613 307h.9M602.5 316h.9M606 310.5h.9M596.5 314h.9M610.5 309h.9M604.5 305h.9M641.5 255h.9M638 254h.9M651 256h.9M641 253.5h.9M645 253.5h.9M643.5 256.5h.9M640.5 257.5h.9M640.5 255.5h.9M643 261h.9M632 258.5h.9M644.5 256.5h.9M637 256.5h.9M645.5 254h.9M634.5 259h.9M635 253h.9M635 255.5h.9M654 255h.9M634 257h.9M636.5 253h.9M640.5 258.5h.9M641.5 255h.9M649 258h.9M647.5 253.5h.9M642 256.5h.9M646 258h.9" stroke="#2a3aa8" stroke-width="0.9" fill="none"/>
<path d="M645.5 255.5h.9M646 254h.9M641 255h.9M635.5 253h.9M642.5 251h.9M646 254h.9M627 260.5h.9M638 256.5h.9M640 256.5h.9M644 254.5h.9M645.5 256.5h.9M638.5 258h.9M627 255h.9M649 253h.9M639 256h.9M643.5 256h.9M630.5 258h.9M637.5 255h.9M653.5 253h.9M643 256.5h.9M633 257h.9M636 256.5h.9M638.5 258h.9" stroke="#6a80d8" stroke-width="0.9" fill="none"/>
<path d="M643.5 256.5h.9M626.5 258.5h.9M649 254h.9M633 258h.9M637 255.5h.9M642 258.5h.9M637 255h.9M635.5 256h.9M636.5 256h.9M635.5 257.5h.9M630.5 256h.9M640.5 258h.9" stroke="#40a8a0" stroke-width="0.9" fill="none"/>
<ellipse cx="603.20" cy="311.20" rx="22.00" ry="8.20" fill="url(#core)" transform="rotate(-50 603.20 311.20)"/>
<ellipse cx="596.70" cy="323.20" rx="3.2" ry="4.2" fill="#d8e8f0" fill-opacity="0.75"/>
<ellipse cx="640.20" cy="256.20" rx="8.80" ry="2.80" fill="url(#q2g)" transform="rotate(-8 640.20 256.20)"/>
<path d="M624.5 242.2V334.2M583.2 291.5H675.2" stroke="#2a2a2a" stroke-width="1" fill="none"/>
<text x="585.70" y="249.90" font-size="4.5" text-anchor="start" fill="#3a3a3a" font-weight="normal">Q1</text>
<text x="585.70" y="255.60" font-size="4.5" text-anchor="start" fill="#3a3a3a" font-weight="normal">0.63</text>
<text x="668.20" y="249.90" font-size="4.5" text-anchor="end" fill="#3a3a3a" font-weight="normal">Q2</text>
<text x="668.20" y="255.60" font-size="4.5" text-anchor="end" fill="#3a3a3a" font-weight="normal">3.42</text>
<text x="585.70" y="324.70" font-size="4.5" text-anchor="start" fill="#3a3a3a" font-weight="normal">Q4</text>
<text x="585.70" y="330.20" font-size="4.5" text-anchor="start" fill="#3a3a3a" font-weight="normal">95.1</text>
<text x="668.20" y="324.70" font-size="4.5" text-anchor="end" fill="#3a3a3a" font-weight="normal">Q3</text>
<text x="668.20" y="330.20" font-size="4.5" text-anchor="end" fill="#3a3a3a" font-weight="normal">0.39</text>
<text x="426.70" y="352.70" font-size="9.1" text-anchor="middle" fill="#1a1a1a" font-weight="bold">Amitriptyline</text>
<line x1="381.00" y1="358.00" x2="381.00" y2="450.00" stroke="#6a6a6a" stroke-width="0.9"/>
<line x1="381.00" y1="450.00" x2="473.00" y2="450.00" stroke="#8a8a8a" stroke-width="0.8"/>
<line x1="473.00" y1="358.00" x2="473.00" y2="450.00" stroke="#a0a0a0" stroke-width="0.9"/>
<path d="M379.0 367.0h2M375.5 367.5l1.2 -1.2m.4 .2h.8M379.0 388.0h2M375.5 388.5l1.2 -1.2m.4 .2h.8M379.0 408.0h2M375.5 408.5l1.2 -1.2m.4 .2h.8M379.0 430.0h2M375.5 430.5l1.2 -1.2m.4 .2h.8M379.0 444.0h2M375.5 444.5l1.2 -1.2m.4 .2h.8M387.0 450.0v1.6M386.2 454.0l1.2 -1.2m.4 .2h.8M401.5 450.0v1.6M400.7 454.0l1.2 -1.2m.4 .2h.8M423.0 450.0v1.6M422.2 454.0l1.2 -1.2m.4 .2h.8M444.0 450.0v1.6M443.2 454.0l1.2 -1.2m.4 .2h.8M465.0 450.0v1.6M464.2 454.0l1.2 -1.2m.4 .2h.8M381.5 362.0h1M381.5 369.5h1M381.5 377.0h1M381.5 384.5h1M381.5 392.0h1M381.5 399.5h1M381.5 407.0h1M381.5 414.5h1M381.5 422.0h1M381.5 429.5h1M381.5 437.0h1M381.5 444.5h1" stroke="#777" stroke-width="0.55" fill="none"/>
<path d="M414.5 417.5h.9M421 407h.9M441.5 396.5h.9M406.5 407.5h.9M449 368.5h.9M425 396h.9M415.5 399h.9M428 382h.9M413.5 404h.9M412 392h.9M436.5 386.5h.9M443.5 371h.9M437 392.5h.9M451 382h.9M408 409.5h.9M414 411h.9M421 401h.9M431.5 389.5h.9M439.5 384h.9M427.5 401h.9M396.5 412.5h.9M416 403.5h.9M411.5 403.5h.9M432.5 404.5h.9M409.5 399.5h.9M412 418.5h.9M425 400h.9M454.5 376h.9M409.5 427h.9M432.5 386.5h.9M424.5 397.5h.9M409 412h.9M442.5 378h.9M422.5 387.5h.9M441.5 382h.9M393 399.5h.9M445 362.5h.9M436.5 385.5h.9M408.5 415h.9M408 427h.9M424.5 378h.9M413 415h.9M437.5 401.5h.9M425 409h.9M438 376.5h.9M435.5 371h.9M417 421.5h.9M415 402h.9M431 413h.9M451.5 367.5h.9M452 367h.9M423 387h.9M410 421.5h.9M433 391.5h.9M444.5 381.5h.9M434.5 397h.9M404.5 418h.9M433 396.5h.9M413 412h.9M435.5 375h.9M429.5 390.5h.9M427.5 387h.9M409.5 413.5h.9M411.5 410.5h.9M419 386.5h.9M424 406.5h.9M434 407.5h.9M432 390.5h.9M445.5 373h.9M402.5 420h.9M441 372h.9M398 398h.9M462.5 371.5h.9M443.5 390h.9M446 379h.9M426.5 383h.9M455 374.5h.9M408.5 397.5h.9M427.5 385.5h.9M414 395.5h.9M430.5 404h.9M446 376h.9M406.5 403h.9M444.5 375.5h.9M430.5 399h.9" stroke="#b4bbea" stroke-width="0.9" fill="none"/>
<path d="M425 417.5h.9M413.5 399.5h.9M429 373.5h.9M447 387h.9M436 396.5h.9M423.5 408.5h.9M440 359h.9M447.5 379.5h.9M441 359h.9M439.5 381h.9M407 418h.9M422.5 424.5h.9M443 395.5h.9M445 376h.9" stroke="#6070c8" stroke-width="0.9" fill="none"/>
<path d="M401.5 421.5h.9M397 428.5h.9M391.5 430h.9M391.5 431h.9M407 416.5h.9M392.5 432h.9M405 418.5h.9M404 418.5h.9M400.5 427.5h.9M412 417.5h.9M401 430.5h.9M411 430h.9M412 409.5h.9M407 424h.9M397.5 421.5h.9M395.5 433h.9M399.5 438h.9M412 413.5h.9M414 419.5h.9M392 442.5h.9M390 434.5h.9M408.5 426h.9M400 425h.9M389 435.5h.9M397 437h.9M406 428.5h.9M406 414h.9M394 436h.9M408 421.5h.9M399.5 419.5h.9M394 420.5h.9M406 417.5h.9M395.5 429.5h.9M397.5 429.5h.9M387.5 439h.9M393 429.5h.9M411 413.5h.9M397.5 427h.9M404 426.5h.9M416 407.5h.9M397.5 430.5h.9M399.5 431h.9M410 431h.9M404.5 422h.9M395.5 431h.9M405.5 429.5h.9M393.5 431.5h.9M397.5 430.5h.9M414 422h.9M395.5 431.5h.9M396.5 425h.9M398 428h.9M393 432.5h.9M406.5 429.5h.9M393.5 430.5h.9M395.5 432h.9M411.5 412.5h.9M403.5 429h.9M397.5 426.5h.9M416 416h.9M411.5 424h.9M411.5 410h.9M405.5 416.5h.9M404.5 417.5h.9M402.5 430.5h.9M392 440h.9M401 432.5h.9M399 430h.9M394 439.5h.9M413 419.5h.9M396.5 430h.9M408 414h.9M404 428h.9M407 415.5h.9M413.5 412.5h.9M400.5 424h.9M397 438h.9M390.5 427.5h.9M409.5 417h.9M402 420.5h.9M392.5 429.5h.9M404.5 424h.9M405.5 422.5h.9M395.5 426.5h.9M415 423.5h.9M403.5 428h.9M406 422h.9M393 442h.9M402 429h.9M396.5 431h.9M393.5 434h.9M405 427h.9M408.5 425h.9M391.5 436h.9M396 429.5h.9M390 443.5h.9M396.5 437h.9M398.5 437h.9M414 416.5h.9M406.5 424.5h.9M402 421.5h.9M405.5 427h.9M388.5 433h.9M396 434h.9M393.5 419.5h.9M387.5 440.5h.9M396.5 427h.9M406.5 416.5h.9M404 420.5h.9M400.5 423h.9M403.5 433.5h.9M403.5 429h.9M408 416h.9M397 430h.9M401.5 417h.9M410.5 420h.9M397 438.5h.9M405.5 418.5h.9M382.5 442h.9M406.5 416.5h.9M399.5 422h.9M395.5 425.5h.9M408 407.5h.9M396 419h.9M393 436h.9M395 442.5h.9M401 431h.9M395 433.5h.9M399.5 429.5h.9M391.5 435h.9M395 420h.9M403.5 412.5h.9M398 432h.9M401.5 416h.9M413 418h.9M404 415.5h.9M407 417.5h.9M398 426.5h.9M409 424h.9M392.5 421h.9M412 418.5h.9M396.5 432.5h.9M397 434.5h.9M396 428h.9M399 428h.9M398 435h.9M403.5 418.5h.9M396.5 424.5h.9M404 420.5h.9M405.5 409.5h.9M399.5 436.5h.9M404 433.5h.9M400.5 435h.9M401.5 420h.9M394 423.5h.9M384 440h.9M399.5 441h.9M400.5 418h.9M411 415.5h.9M409.5 407.5h.9M400 422h.9M397.5 417h.9M403 420h.9M400.5 422.5h.9M408.5 413.5h.9M397.5 434h.9M403 435.5h.9M405.5 419h.9M396 439.5h.9M399.5 436.5h.9M406.5 418.5h.9M386.5 432h.9M393.5 431h.9M395.5 423.5h.9M420 406.5h.9M397 420.5h.9M414 418.5h.9M405.5 418h.9M409 418h.9M391.5 437h.9M406.5 427h.9M403 424h.9M403 419h.9M406.5 424.5h.9M401 431.5h.9M404 434.5h.9M395 432h.9M405.5 424.5h.9M392 434h.9M401 432.5h.9M411 419h.9M396.5 425h.9M395.5 428h.9M402 420.5h.9M400 422.5h.9M395 431h.9M399.5 432h.9M391 425h.9M396.5 435h.9M387 437h.9M403.5 428h.9M396 426.5h.9M400.5 430h.9M390.5 430.5h.9M406.5 423h.9M393.5 428.5h.9M409.5 421h.9M391 421.5h.9M400.5 419.5h.9M391.5 429h.9M402 420h.9M387 440.5h.9M395 430h.9M406 424.5h.9M409.5 422.5h.9M395.5 429h.9M398.5 425h.9M405.5 430.5h.9M402 413.5h.9M399.5 427h.9M404.5 434h.9M398 432h.9M401.5 420.5h.9M402.5 421h.9M383 436h.9M394.5 435.5h.9M409 422.5h.9M403.5 427h.9M399.5 425h.9M409.5 423.5h.9M392.5 428.5h.9M385.5 435h.9M404.5 406.5h.9M412.5 404h.9M397.5 429.5h.9M391.5 427.5h.9M395.5 428h.9M401 427h.9M420.5 405h.9M400.5 425h.9M401 415.5h.9M406.5 420.5h.9M407.5 418.5h.9M409.5 416.5h.9M405.5 422h.9M391.5 427h.9M399.5 434.5h.9M402 417.5h.9M415.5 414h.9M404.5 426h.9M403 424h.9M395 431h.9M399.5 428h.9M411.5 424.5h.9M398 428.5h.9M398 423.5h.9M394 433.5h.9M408 415.5h.9M402.5 431.5h.9M385.5 435h.9M410 410h.9M398 428h.9M408 432.5h.9M403 420h.9M402.5 423.5h.9M407.5 427.5h.9M410.5 426h.9M397 419.5h.9M395 430h.9M395 436.5h.9M388 439h.9M389 437.5h.9M400.5 424.5h.9M395 426.5h.9M400.5 426h.9M407.5 420h.9M406 414.5h.9M393 430.5h.9M401 426h.9M405.5 420h.9M400.5 422.5h.9M405.5 427h.9M391.5 438h.9M398 425.5h.9M410 423h.9M408 420h.9M400.5 430h.9M408.5 423h.9M400.5 424h.9M401 423.5h.9M410 415h.9M390.5 436.5h.9M393 434h.9M403 413.5h.9M408.5 418.5h.9M394 431h.9M401 418.5h.9M393 439h.9M400.5 442.5h.9M408 413h.9M402.5 421h.9M399.5 437.5h.9M407 415h.9M405.5 420h.9M404 428.5h.9M390.5 438h.9" stroke="#5068c8" stroke-width="0.9" fill="none"/>
<path d="M405.5 422.5h.9M398.5 426h.9M395.5 429h.9M406.5 421.5h.9M405 416h.9M405 422.5h.9M404.5 424h.9M395 433h.9M407.5 422.5h.9M401.5 423h.9M394 429h.9M406.5 419h.9M403.5 422h.9M406.5 419.5h.9M402 428h.9M405.5 423h.9M406 425.5h.9M405 425.5h.9M399 427h.9M405.5 420.5h.9M402.5 428.5h.9M401.5 421h.9M412 414.5h.9M404.5 426.5h.9M399 432h.9M396 426.5h.9M406 417.5h.9M395.5 424h.9M398 428.5h.9M405 433h.9M402 425.5h.9M404 422h.9M400.5 419.5h.9M400 426h.9M401.5 425h.9M399 424h.9M402.5 425h.9M399.5 430h.9M398.5 423.5h.9M394 427h.9M405 422.5h.9M401.5 426h.9M397 427h.9M405.5 422h.9M403 430h.9M401.5 431h.9M400 430.5h.9M405 422.5h.9M410.5 410h.9M405 417.5h.9M397.5 430.5h.9M400 429.5h.9M395 433h.9M400.5 431.5h.9M404 417h.9M401 423.5h.9M399 427.5h.9M408 422.5h.9M401.5 424h.9M403 428h.9M400 425.5h.9M390 432h.9M409 422h.9M408 420.5h.9M405 420h.9M401.5 426h.9M401 426h.9M402 425.5h.9M407.5 420h.9M403.5 430h.9M405.5 422h.9M404 428.5h.9M400.5 425.5h.9M399 435h.9M404.5 419h.9M399 426h.9M402 430h.9M399.5 430.5h.9M401 427h.9M390.5 441.5h.9M397.5 422h.9M402.5 427.5h.9M410 422h.9M409.5 425h.9M394 434h.9M405.5 427.5h.9M407 419.5h.9M408.5 428h.9M395.5 431.5h.9M411.5 412.5h.9M405 420.5h.9M400 421.5h.9M403 427.5h.9M405 415.5h.9M401 424.5h.9M398 437.5h.9M400.5 423.5h.9M401.5 424.5h.9M399.5 428.5h.9M407 418.5h.9M407.5 420h.9M409 428.5h.9M396.5 428.5h.9M402 422h.9M397 429.5h.9M399 435h.9M403 419h.9M407.5 419.5h.9M402.5 427h.9M402.5 424h.9M408 423.5h.9M398 430h.9M409.5 419h.9M393.5 431.5h.9M403.5 422.5h.9M411 419.5h.9M400 425h.9M406 429h.9M395.5 435.5h.9M400 428h.9M401.5 418h.9M404.5 426.5h.9M397.5 429h.9M398.5 430h.9M393.5 432.5h.9M404.5 419.5h.9M403.5 429h.9M392.5 431h.9M398 436h.9M394 430.5h.9M403 426.5h.9M410.5 424h.9M400.5 427.5h.9M401.5 431.5h.9M391.5 429h.9M398.5 433.5h.9M402.5 421h.9M397.5 437h.9M402.5 428.5h.9M407 418h.9M410.5 422h.9M393.5 432.5h.9M398 435.5h.9M405.5 418.5h.9M401 424.5h.9M405 420h.9M396 430.5h.9M395 437h.9M402.5 424.5h.9M400 433h.9M408 422h.9M396.5 426.5h.9M397 425h.9M403 424h.9M407 422.5h.9M404 430h.9M406 423.5h.9M397.5 431.5h.9M407 427h.9M399 423.5h.9M403 433.5h.9M402 426.5h.9M397 422.5h.9M396 434.5h.9M403.5 417.5h.9M399 429.5h.9M403 428h.9M404 427h.9M415 411.5h.9M404.5 428h.9M394.5 432.5h.9M404 427h.9M397 430h.9M405 422.5h.9M389 437.5h.9M404.5 421h.9M406 420.5h.9M401 427.5h.9M406.5 425.5h.9M397 433.5h.9M399.5 427h.9M402.5 424h.9M397.5 423.5h.9M393 428h.9M402 423h.9M408 424.5h.9M407.5 419.5h.9M434.5 375h.9M434.5 374.5h.9M437.5 373.5h.9M430.5 377h.9M444.5 371.5h.9M434.5 376h.9M444.5 372h.9M424.5 375h.9M446.5 376h.9M423.5 371h.9M442.5 372.5h.9M428.5 375.5h.9M435.5 371h.9M423.5 373.5h.9" stroke="#2a3aa8" stroke-width="0.9" fill="none"/>
<path d="M416.5 421.5h.9M419 412.5h.9M398.5 421.5h.9M400.5 416.5h.9M393 433h.9M393.5 430h.9M410 414.5h.9M390 442.5h.9M393.5 434.5h.9M407 414h.9M394 436h.9M415.5 428.5h.9M397 425h.9M402.5 418h.9M411 407.5h.9M409.5 428.5h.9M413 431h.9M387.5 434.5h.9M389 426h.9M420 423h.9M384.5 427.5h.9M394.5 439h.9M388.5 423.5h.9M392.5 432h.9M404 415.5h.9M421.5 402.5h.9M406 444.5h.9M386 440.5h.9M417 415h.9M400.5 417h.9M401 440h.9M419.5 406h.9M408.5 424h.9M411.5 423.5h.9M407.5 427h.9M395 444h.9M388 437h.9M414.5 416.5h.9M411 405h.9M404 415h.9M393 442.5h.9M403 419h.9M389 426.5h.9M417.5 409.5h.9M410.5 422h.9M413.5 418h.9M399 433.5h.9M393 441h.9M398.5 417.5h.9M414 410h.9M407 414h.9M404 434h.9M415.5 405h.9M394 428h.9M407 423h.9M405 413h.9M403.5 437h.9M382.5 437h.9M407 420h.9M394 434.5h.9M403 436h.9M410 426h.9M391 439h.9M390.5 430.5h.9M400.5 433.5h.9M390.5 433.5h.9M398.5 442h.9M400.5 443.5h.9M395.5 445.5h.9M391.5 440.5h.9M396 435h.9M412 411h.9M397.5 426h.9M415 414.5h.9M392 427.5h.9M393 438h.9M399.5 434.5h.9M398 436h.9M391 438h.9M396.5 434h.9M391 444.5h.9M395.5 441.5h.9M412.5 412h.9M410.5 417h.9M388.5 443h.9M392.5 432.5h.9M405 414.5h.9M414.5 422.5h.9M398 433.5h.9M399.5 438.5h.9M388.5 438h.9M419.5 408.5h.9M400 435.5h.9M385 432.5h.9M392 447h.9M401 412h.9M414 414.5h.9M398.5 422.5h.9M409.5 411.5h.9M417 411h.9M400 415h.9M406.5 413h.9M390.5 438h.9M408.5 428h.9M420.5 420h.9M403.5 430.5h.9M411 414.5h.9M416.5 396.5h.9M405 433h.9M399 436.5h.9M400.5 414.5h.9M415 414h.9M395 426h.9M383 443.5h.9M410 416h.9M416 411h.9M393.5 437h.9M399.5 435h.9M405 410.5h.9M395.5 428.5h.9M427.5 395.5h.9M397 418.5h.9M401.5 442h.9M396 441.5h.9M394 432h.9M411 433h.9M408.5 407.5h.9M404.5 435.5h.9M387.5 434.5h.9M403.5 420h.9M392.5 442.5h.9M400 417.5h.9M407.5 425h.9M401 417h.9M407.5 410.5h.9M419.5 406.5h.9M389.5 433.5h.9M386 446.5h.9M414.5 415h.9M386.5 426h.9M406.5 432.5h.9M394 420h.9M389 444h.9M402 414.5h.9M411 411h.9M416 403h.9M424.5 413h.9M404.5 434h.9M426.5 400.5h.9M418 422.5h.9M410 410h.9M413 412h.9M407 429h.9M387.5 442h.9M388 432h.9M391 428.5h.9M397 417h.9M416.5 412h.9M416 412h.9M412.5 423h.9M427 394.5h.9M412 425.5h.9M415 412h.9M399.5 435h.9M385 441h.9M384 444.5h.9M390 433h.9M392.5 433h.9M400 416.5h.9M387 433h.9M392.5 427h.9M386 445h.9M411 417h.9M382 444.5h.9M390 444h.9M417.5 417.5h.9M390 437.5h.9M406 425.5h.9M387 447.5h.9M389 424h.9M392 429h.9M412 436h.9M408 418h.9M394 425.5h.9M390.5 422h.9M388 444.5h.9M407.5 426h.9M392 420h.9M393.5 428h.9M413.5 420h.9M416 411h.9M414.5 429.5h.9M392.5 447h.9M407 431.5h.9M402.5 413.5h.9M391 443.5h.9" stroke="#a4aee6" stroke-width="0.9" fill="none"/>
<path d="M430 372.5h.9M434.5 373.5h.9M436.5 373h.9M444.5 374.5h.9M444.5 372h.9M433.5 377.5h.9M439.5 371h.9M428 376.5h.9M442 372.5h.9M436.5 374.5h.9M435.5 374h.9M431 374.5h.9M436.5 376h.9M440.5 372h.9M444.5 367.5h.9M438.5 375h.9M439.5 372h.9M441.5 376.5h.9M434 374.5h.9M435 373.5h.9M431 374.5h.9M431.5 373.5h.9M433.5 376.5h.9M434.5 371h.9M435 376.5h.9M429.5 377h.9M435.5 372.5h.9M434.5 370h.9M430.5 375h.9" stroke="#6a80d8" stroke-width="0.9" fill="none"/>
<path d="M437.5 374.5h.9M441 373.5h.9M437 375.5h.9M441 374h.9M433 374.5h.9M435.5 371h.9M432 378.5h.9M438 374h.9M429 375.5h.9M431.5 378.5h.9M435.5 372h.9M436.5 372h.9" stroke="#40a8a0" stroke-width="0.9" fill="none"/>
<ellipse cx="401.50" cy="426.00" rx="22.00" ry="8.20" fill="url(#core)" transform="rotate(-50 401.50 426.00)"/>
<ellipse cx="394.50" cy="439.00" rx="3.2" ry="4.2" fill="#d8e8f0" fill-opacity="0.75"/>
<ellipse cx="436.00" cy="374.00" rx="8.80" ry="2.80" fill="url(#q2g)" transform="rotate(-8 436.00 374.00)"/>
<path d="M422.5 358V450M381 407.5H473" stroke="#2a2a2a" stroke-width="1" fill="none"/>
<text x="383.50" y="365.70" font-size="4.5" text-anchor="start" fill="#3a3a3a" font-weight="normal">Q1</text>
<text x="383.50" y="371.40" font-size="4.5" text-anchor="start" fill="#3a3a3a" font-weight="normal">0.52</text>
<text x="466.00" y="365.70" font-size="4.5" text-anchor="end" fill="#3a3a3a" font-weight="normal">Q2</text>
<text x="466.00" y="371.40" font-size="4.5" text-anchor="end" fill="#3a3a3a" font-weight="normal">3.11</text>
<text x="383.50" y="440.50" font-size="4.5" text-anchor="start" fill="#3a3a3a" font-weight="normal">Q4</text>
<text x="383.50" y="446.00" font-size="4.5" text-anchor="start" fill="#3a3a3a" font-weight="normal">95.9</text>
<text x="466.00" y="440.50" font-size="4.5" text-anchor="end" fill="#3a3a3a" font-weight="normal">Q3</text>
<text x="466.00" y="446.00" font-size="4.5" text-anchor="end" fill="#3a3a3a" font-weight="normal">0.55</text>
<text x="528.40" y="352.70" font-size="9.1" text-anchor="middle" fill="#1a1a1a" font-weight="bold">Paroxetine</text>
<line x1="482.00" y1="358.00" x2="482.00" y2="450.00" stroke="#6a6a6a" stroke-width="0.9"/>
<line x1="482.00" y1="450.00" x2="574.00" y2="450.00" stroke="#8a8a8a" stroke-width="0.8"/>
<line x1="574.00" y1="358.00" x2="574.00" y2="450.00" stroke="#a0a0a0" stroke-width="0.9"/>
<path d="M480.0 367.0h2M476.5 367.5l1.2 -1.2m.4 .2h.8M480.0 388.0h2M476.5 388.5l1.2 -1.2m.4 .2h.8M480.0 408.0h2M476.5 408.5l1.2 -1.2m.4 .2h.8M480.0 430.0h2M476.5 430.5l1.2 -1.2m.4 .2h.8M480.0 444.0h2M476.5 444.5l1.2 -1.2m.4 .2h.8M488.0 450.0v1.6M487.2 454.0l1.2 -1.2m.4 .2h.8M502.5 450.0v1.6M501.7 454.0l1.2 -1.2m.4 .2h.8M524.0 450.0v1.6M523.2 454.0l1.2 -1.2m.4 .2h.8M545.0 450.0v1.6M544.2 454.0l1.2 -1.2m.4 .2h.8M566.0 450.0v1.6M565.2 454.0l1.2 -1.2m.4 .2h.8M482.5 362.0h1M482.5 369.5h1M482.5 377.0h1M482.5 384.5h1M482.5 392.0h1M482.5 399.5h1M482.5 407.0h1M482.5 414.5h1M482.5 422.0h1M482.5 429.5h1M482.5 437.0h1M482.5 444.5h1" stroke="#777" stroke-width="0.55" fill="none"/>
<path d="M517.5 376.5h.9M526 417h.9M532 378.5h.9M522.5 391.5h.9M511 414h.9M522.5 418h.9M529.5 413h.9M520 423.5h.9M527 402.5h.9M511 417.5h.9M515.5 393.5h.9M532 387.5h.9M523 368.5h.9M543.5 370.5h.9M531.5 417h.9M538.5 373h.9M521 365h.9M552.5 374h.9M538.5 378.5h.9M532.5 397.5h.9M533 387.5h.9M525.5 371.5h.9M506 425h.9M521.5 400.5h.9M511 413h.9M501 423.5h.9M517 402.5h.9M527.5 388.5h.9M507 394h.9M551 394.5h.9M543 375h.9M514 418h.9M515 412.5h.9M518 428h.9M531 386h.9M493 395h.9M556 379h.9M525.5 396h.9M541.5 392.5h.9M500 415.5h.9M523.5 378h.9M526.5 414.5h.9M519 388.5h.9M525.5 391.5h.9M502 423h.9M527.5 408h.9M525.5 391.5h.9M520 389.5h.9M516 421.5h.9M531.5 394h.9M552 381.5h.9M513 389.5h.9M506 419h.9M531 395.5h.9M545 371h.9M524 383.5h.9M521 403.5h.9M523.5 388h.9M526 400.5h.9M523.5 379.5h.9M533.5 370h.9M530 371.5h.9M532.5 393.5h.9M519.5 399.5h.9M541 378.5h.9M530.5 383.5h.9M519.5 397.5h.9M532 378.5h.9M528.5 395h.9M532.5 392.5h.9M521.5 400.5h.9M519 390h.9M515.5 379.5h.9M529 389.5h.9M523 397.5h.9M540 383h.9M502.5 398h.9M521 387h.9M555.5 373h.9M517.5 409h.9M541.5 379.5h.9M523 404.5h.9M524 392h.9M507 402.5h.9" stroke="#b4bbea" stroke-width="0.9" fill="none"/>
<path d="M528 408h.9M506.5 418.5h.9M515 398.5h.9M539 388.5h.9M546 406h.9M523.5 410.5h.9M529 392h.9M531 407h.9M538 362h.9M519 408h.9M536 381h.9M511 425.5h.9M534.5 392h.9M546.5 396.5h.9M534.5 396h.9M556 362h.9" stroke="#6070c8" stroke-width="0.9" fill="none"/>
<path d="M510 419h.9M491.5 434.5h.9M505 425.5h.9M495 435h.9M495.5 425.5h.9M513 409.5h.9M494.5 443.5h.9M499.5 424h.9M503 434h.9M512.5 418.5h.9M501.5 428h.9M497.5 439h.9M502.5 435h.9M489.5 430h.9M503 431.5h.9M497.5 424.5h.9M493.5 435h.9M508 417.5h.9M483.5 443.5h.9M507 410.5h.9M507 422.5h.9M493.5 439h.9M502.5 437.5h.9M486.5 442.5h.9M507.5 428.5h.9M514 421h.9M499 421h.9M501 433.5h.9M500 434h.9M514 409.5h.9M489.5 423h.9M489.5 435.5h.9M507 416.5h.9M503.5 416h.9M494.5 434.5h.9M513.5 417h.9M498 438.5h.9M489 438h.9M515.5 416.5h.9M504 421.5h.9M496.5 433h.9M509.5 415h.9M497 420.5h.9M486 434.5h.9M503 418h.9M508 420h.9M509.5 426.5h.9M491.5 428h.9M491.5 428.5h.9M506.5 417.5h.9M505 418.5h.9M496 433.5h.9M503.5 433h.9M499 429h.9M509 420h.9M503.5 437.5h.9M492 429h.9M496 433.5h.9M517 407h.9M503.5 415h.9M509 423h.9M491.5 440h.9M512 427.5h.9M510.5 422h.9M492.5 430.5h.9M516.5 419h.9M499 424h.9M501 423.5h.9M493.5 423h.9M509.5 422h.9M503 429h.9M501.5 426.5h.9M502.5 426h.9M498 420.5h.9M502.5 417h.9M517 423.5h.9M493 424.5h.9M495.5 436.5h.9M500.5 431h.9M496.5 443.5h.9M508.5 428.5h.9M512 425.5h.9M507.5 421.5h.9M511 419.5h.9M509.5 418.5h.9M492.5 437.5h.9M518 410.5h.9M505.5 425.5h.9M510 412.5h.9M506.5 422h.9M496.5 425.5h.9M491.5 434h.9M499.5 432h.9M503.5 427.5h.9M507.5 418.5h.9M490 433h.9M504 431.5h.9M498 432.5h.9M512 423h.9M519 418.5h.9M495.5 440h.9M500 426.5h.9M491.5 444.5h.9M509 415.5h.9M505.5 425h.9M503.5 421h.9M492 434h.9M503.5 426.5h.9M504 416h.9M506.5 429h.9M499 430.5h.9M494 427h.9M495 433h.9M490.5 434.5h.9M494 428h.9M495 437.5h.9M490.5 433.5h.9M508 430h.9M500.5 428.5h.9M515 416h.9M508.5 407.5h.9M489 443h.9M500 429h.9M503.5 432h.9M512 419.5h.9M501 430.5h.9M498.5 422.5h.9M495 422h.9M495 428h.9M491.5 426.5h.9M505 421h.9M507 421.5h.9M495.5 421h.9M507.5 417.5h.9M511 417.5h.9M508 419h.9M505.5 416.5h.9M492.5 425h.9M500.5 423h.9M513 408h.9M501 419h.9M495 434.5h.9M490 435.5h.9M491.5 434.5h.9M498.5 427h.9M507.5 415.5h.9M502.5 427h.9M508.5 429.5h.9M512.5 411h.9M502 422h.9M499 428h.9M501 420.5h.9M502 425h.9M496 444.5h.9M498 429.5h.9M506 422h.9M509.5 420.5h.9M488.5 440h.9M503 432.5h.9M518.5 410h.9M515.5 424.5h.9M488.5 433h.9M508 421h.9M512.5 418.5h.9M499.5 427.5h.9M490 431.5h.9M503.5 429.5h.9M499.5 424.5h.9M498 426.5h.9M506 418.5h.9M498 441h.9M500 436h.9M504 431.5h.9M491.5 440h.9M499 427h.9M510.5 417h.9M505 420.5h.9M503 432.5h.9M497 433h.9M501 427.5h.9M514 414h.9M499 421h.9M499 433.5h.9M497.5 432.5h.9M510 414h.9M508.5 417h.9M509 432.5h.9M504 413h.9M488.5 438.5h.9M503 427.5h.9M492.5 440.5h.9M496 437.5h.9M505.5 420.5h.9M491 426.5h.9M498.5 426h.9M506 415h.9M494.5 423h.9M496.5 435h.9M496.5 428h.9M508 423.5h.9M509 414.5h.9M507 425h.9M490.5 434h.9M509 427.5h.9M514 409.5h.9M494.5 443.5h.9M511 423h.9M508 427h.9M490 443h.9M497.5 435.5h.9M488 434.5h.9M506 413.5h.9M500.5 424.5h.9M513.5 412.5h.9M499.5 432h.9M503.5 433h.9M493 430h.9M511 411.5h.9M492 433h.9M508 412.5h.9M510 430h.9M496 420h.9M506.5 424.5h.9M502.5 426.5h.9M501 432.5h.9M500.5 430h.9M513.5 412.5h.9M491.5 431.5h.9M491 430h.9M510.5 411.5h.9M498 433.5h.9M512.5 421h.9M509.5 432h.9M504 432h.9M507 421.5h.9M501 425.5h.9M502 434h.9M492 429.5h.9M502 415h.9M508.5 431.5h.9M507.5 429h.9M507.5 420.5h.9M505.5 434.5h.9M501 431h.9M514.5 420h.9M505 431.5h.9M505 416.5h.9M504 426.5h.9M500.5 417h.9M516.5 417.5h.9M491.5 442h.9M498 417.5h.9M503 420h.9M497 425.5h.9M494.5 429.5h.9M502 428h.9M498 434h.9M504.5 417.5h.9M495.5 429.5h.9M491 443h.9M492 431.5h.9M509.5 420h.9M496 429.5h.9M511 414.5h.9M507.5 428.5h.9M503 424h.9M504.5 426.5h.9M498.5 423h.9M498.5 421.5h.9M517 408.5h.9M507.5 413h.9M509 415.5h.9M510 424h.9M504 432h.9M508.5 423h.9M499.5 424.5h.9M499 431h.9M496.5 438.5h.9M508.5 430.5h.9M502 424.5h.9M492 441h.9M495.5 427h.9M509 423h.9M501.5 427h.9M495.5 443h.9M512 426h.9M499 432.5h.9M516 415h.9M500.5 426.5h.9M504 431h.9M507.5 412.5h.9M500 437h.9M502.5 425h.9M511.5 414.5h.9M495.5 426h.9M504.5 425.5h.9M504.5 420.5h.9M495 432h.9M493 426.5h.9M499 433.5h.9M514 425.5h.9M504 427.5h.9M506.5 418h.9M493.5 430h.9M517.5 411.5h.9M514 419h.9M510.5 425.5h.9M501 430.5h.9M490.5 433.5h.9" stroke="#5068c8" stroke-width="0.9" fill="none"/>
<path d="M505.5 424h.9M508 419h.9M513.5 418h.9M491 433.5h.9M505 422h.9M500.5 428h.9M503 420.5h.9M510 420.5h.9M497 429h.9M506 425.5h.9M504 425.5h.9M496 430.5h.9M501.5 427h.9M502 427h.9M504 422h.9M511 418h.9M492.5 428h.9M503.5 426.5h.9M508.5 425h.9M501 432.5h.9M498.5 436h.9M499 425h.9M507 415.5h.9M490 430.5h.9M503.5 428h.9M510 416h.9M504 427.5h.9M501 421.5h.9M494 439h.9M501 425h.9M505 422h.9M504.5 429.5h.9M501 431h.9M497 424.5h.9M501 427.5h.9M505.5 421.5h.9M504.5 419h.9M494.5 430h.9M505 420h.9M506 427h.9M508 421h.9M501.5 418h.9M504.5 425.5h.9M503.5 424h.9M506 432.5h.9M505 423.5h.9M510.5 424h.9M501 433.5h.9M502.5 429h.9M502 430.5h.9M493.5 430.5h.9M502.5 427h.9M502.5 430.5h.9M505.5 427h.9M503.5 431.5h.9M500 425h.9M495 430h.9M503.5 420h.9M510 422.5h.9M494.5 429.5h.9M497 429.5h.9M491 438.5h.9M500.5 434.5h.9M506.5 423.5h.9M512 417.5h.9M508 419h.9M504.5 425h.9M501 432h.9M510 423.5h.9M499 433h.9M496.5 436.5h.9M496 435h.9M503.5 421.5h.9M508.5 429.5h.9M512 424.5h.9M496 431.5h.9M504 421h.9M496 427h.9M493.5 433.5h.9M499 432h.9M503.5 425.5h.9M495.5 435.5h.9M503.5 430h.9M502.5 431h.9M499.5 423.5h.9M494.5 432.5h.9M497 427.5h.9M500 426h.9M499 428.5h.9M504 421.5h.9M506.5 420.5h.9M508.5 423h.9M509.5 421h.9M505 419h.9M504 418.5h.9M507 427h.9M503.5 424.5h.9M505.5 426h.9M498 425.5h.9M507.5 426h.9M509 425h.9M497 435.5h.9M505.5 422.5h.9M500 430h.9M498.5 434.5h.9M502 434h.9M503 425.5h.9M510 423h.9M507.5 425h.9M501.5 427h.9M504.5 432h.9M498.5 433h.9M496 430h.9M503 422h.9M510 426.5h.9M502 419h.9M507.5 429.5h.9M497.5 432h.9M501.5 431h.9M505.5 433.5h.9M501 429h.9M501.5 425.5h.9M504.5 423.5h.9M504.5 424.5h.9M504.5 425h.9M505.5 423.5h.9M501.5 428h.9M510 413h.9M497.5 428h.9M500.5 425h.9M489 437.5h.9M506.5 420.5h.9M496.5 439.5h.9M514 415h.9M496 423.5h.9M502 418h.9M508 428h.9M500 427.5h.9M505 424.5h.9M497.5 426h.9M502.5 429.5h.9M500.5 420h.9M506.5 432h.9M510 415h.9M498 428h.9M503 422h.9M510 417.5h.9M492 433h.9M490.5 435h.9M508.5 415.5h.9M508 418h.9M505.5 421.5h.9M504.5 429.5h.9M507 430.5h.9M504.5 419h.9M499.5 431h.9M501.5 428.5h.9M502 429h.9M498.5 430.5h.9M507 428.5h.9M506.5 423.5h.9M497 429h.9M510.5 424.5h.9M500.5 431h.9M497.5 437h.9M501.5 427.5h.9M495 428h.9M503 431.5h.9M505.5 425h.9M492 428.5h.9M507.5 421h.9M507.5 422h.9M501 434h.9M506 420.5h.9M503.5 423.5h.9M502.5 425h.9M500 427.5h.9M504.5 423.5h.9M503 414.5h.9M500.5 427.5h.9M510 413.5h.9M500 427h.9M501.5 423.5h.9M503.5 423.5h.9M510.5 425h.9M504.5 421.5h.9M506 419.5h.9M502.5 426.5h.9M540.5 369.5h.9M542 371.5h.9M540 373h.9M542 370h.9M540.5 373.5h.9M542.5 373h.9M529 373.5h.9M536 375h.9M540.5 371.5h.9M547 372.5h.9M536.5 372.5h.9M548 376.5h.9M538 374h.9M537 371.5h.9M543.5 373.5h.9M543.5 372.5h.9" stroke="#2a3aa8" stroke-width="0.9" fill="none"/>
<path d="M518 413.5h.9M493 431.5h.9M490.5 435h.9M489 434h.9M498.5 418h.9M506 431h.9M504.5 418.5h.9M499 434h.9M499.5 415h.9M488 426.5h.9M489.5 430h.9M490 436.5h.9M507.5 437.5h.9M496.5 435.5h.9M498.5 422.5h.9M509 434.5h.9M515 409.5h.9M492.5 449h.9M513 404h.9M511 429.5h.9M518 410.5h.9M509 424h.9M510.5 413h.9M509.5 427.5h.9M499 437h.9M492 437.5h.9M488 431h.9M511.5 412.5h.9M519 407.5h.9M515 423.5h.9M494.5 440.5h.9M509.5 430.5h.9M489 422h.9M508.5 409h.9M509.5 417h.9M510 413h.9M511 425h.9M521 423h.9M495 436.5h.9M515 401h.9M521 406h.9M486.5 438.5h.9M493.5 448.5h.9M516.5 411.5h.9M493 446.5h.9M497.5 424.5h.9M494 430h.9M501 434h.9M491 434h.9M500 433.5h.9M484 439.5h.9M513.5 414.5h.9M494 425h.9M509 428h.9M485.5 443h.9M523.5 417h.9M505.5 415.5h.9M514.5 419h.9M518 413h.9M515 420h.9M493.5 417.5h.9M502 432h.9M506.5 429h.9M499 438h.9M520 416h.9M492.5 436.5h.9M510 410.5h.9M500.5 411.5h.9M503.5 410h.9M486.5 448.5h.9M517 426h.9M512 419.5h.9M487 432h.9M534 401.5h.9M500 437.5h.9M505.5 413h.9M497.5 423h.9M519.5 404h.9M502 416h.9M504.5 444h.9M486.5 425.5h.9M510 412h.9M513 404.5h.9M489.5 431.5h.9M509.5 422h.9M490 420.5h.9M494 434h.9M503 430h.9M517 409.5h.9M488 439.5h.9M522 430h.9M516 421.5h.9M512 408.5h.9M513.5 423.5h.9M511.5 411h.9M503.5 416.5h.9M515.5 410h.9M517.5 423.5h.9M502 419h.9M507 429.5h.9M491 431.5h.9M514 411.5h.9M497 421.5h.9M497.5 420.5h.9M492.5 442h.9M488.5 439.5h.9M501 420.5h.9M514.5 420h.9M510 412.5h.9M499.5 418.5h.9M499 441h.9M491 444.5h.9M497 416h.9M510 417h.9M499 418.5h.9M517.5 417.5h.9M509.5 418.5h.9M525 401.5h.9M495 424.5h.9M517.5 422.5h.9M504 406h.9M522 419h.9M496.5 444.5h.9M483.5 435.5h.9M494 432h.9M486.5 435h.9M499.5 418.5h.9M515 406h.9M514 416h.9M501 443.5h.9M510.5 410h.9M510.5 424h.9M496.5 445h.9M508 428h.9M485 435.5h.9M512 418.5h.9M519.5 414h.9M493 426h.9M501.5 421h.9M496.5 420.5h.9M522 406h.9M510 431h.9M508 427.5h.9M484.5 438h.9M514.5 410.5h.9M498 421h.9M506 428h.9M516.5 420h.9M496 436h.9M512.5 413h.9M505 413h.9M513.5 414h.9M504 417h.9M512.5 427.5h.9M500.5 434.5h.9M516 409.5h.9M512.5 422.5h.9M499.5 423h.9M515 406h.9M499.5 438h.9M515.5 420h.9M502 444.5h.9M505.5 436.5h.9M524.5 396.5h.9M502 433.5h.9M489 427.5h.9M504 437h.9M518 418.5h.9M495.5 439.5h.9M511 416.5h.9M492 445h.9M515.5 405.5h.9M491 430h.9M493.5 442.5h.9M496 423h.9M508.5 414.5h.9M508.5 421h.9M491.5 439.5h.9M519 417.5h.9M526 399.5h.9M487 440h.9M506.5 412h.9M508 439h.9M504.5 436h.9M493.5 438h.9M506 416.5h.9M486.5 436.5h.9M506 412.5h.9M492 439h.9M502.5 431.5h.9M514.5 408.5h.9M493.5 444h.9M494.5 444.5h.9" stroke="#a4aee6" stroke-width="0.9" fill="none"/>
<path d="M542.5 375h.9M538.5 372.5h.9M547 369.5h.9M536.5 372.5h.9M535 375.5h.9M543 372h.9M529.5 375h.9M530.5 374h.9M537 373h.9M539.5 375h.9M539 374.5h.9M540 373.5h.9M529.5 374h.9M538 373.5h.9M539 374h.9M537 376.5h.9M536 371.5h.9M530.5 373.5h.9M538.5 376.5h.9M540.5 373h.9M541.5 376.5h.9M540 374.5h.9M538 374.5h.9M544 374h.9M542 372.5h.9M534.5 375.5h.9M538.5 374.5h.9M546 371.5h.9M535.5 373h.9M544.5 372.5h.9M539 370.5h.9M543.5 369.5h.9M536 376h.9M551.5 369h.9M546.5 369.5h.9M536.5 373h.9" stroke="#6a80d8" stroke-width="0.9" fill="none"/>
<path d="M552 371.5h.9M548 374.5h.9M545 373.5h.9M543 371h.9M542 372h.9M543.5 371h.9M536 378h.9M536 375h.9M534.5 371.5h.9M540 372.5h.9M542 372.5h.9M543.5 372h.9M545 372.5h.9" stroke="#40a8a0" stroke-width="0.9" fill="none"/>
<ellipse cx="502.50" cy="426.00" rx="22.00" ry="8.20" fill="url(#core)" transform="rotate(-48 502.50 426.00)"/>
<ellipse cx="495.50" cy="439.00" rx="3.2" ry="4.2" fill="#d8e8f0" fill-opacity="0.75"/>
<ellipse cx="539.00" cy="373.00" rx="8.80" ry="2.80" fill="url(#q2g)" transform="rotate(-8 539.00 373.00)"/>
<path d="M523.5 358V450M482 407.5H574" stroke="#2a2a2a" stroke-width="1" fill="none"/>
<text x="484.50" y="365.70" font-size="4.5" text-anchor="start" fill="#3a3a3a" font-weight="normal">Q1</text>
<text x="484.50" y="371.40" font-size="4.5" text-anchor="start" fill="#3a3a3a" font-weight="normal">0.37</text>
<text x="567.00" y="365.70" font-size="4.5" text-anchor="end" fill="#3a3a3a" font-weight="normal">Q2</text>
<text x="567.00" y="371.40" font-size="4.5" text-anchor="end" fill="#3a3a3a" font-weight="normal">4.10</text>
<text x="484.50" y="440.50" font-size="4.5" text-anchor="start" fill="#3a3a3a" font-weight="normal">Q4</text>
<text x="484.50" y="446.00" font-size="4.5" text-anchor="start" fill="#3a3a3a" font-weight="normal">94.9</text>
<text x="567.00" y="440.50" font-size="4.5" text-anchor="end" fill="#3a3a3a" font-weight="normal">Q3</text>
<text x="567.00" y="446.00" font-size="4.5" text-anchor="end" fill="#3a3a3a" font-weight="normal">0.38</text>
<text x="627.40" y="352.70" font-size="9.1" text-anchor="middle" fill="#1a1a1a" font-weight="bold">Tandospirone</text>
<line x1="583.20" y1="358.00" x2="583.20" y2="450.00" stroke="#6a6a6a" stroke-width="0.9"/>
<line x1="583.20" y1="450.00" x2="675.20" y2="450.00" stroke="#8a8a8a" stroke-width="0.8"/>
<line x1="675.20" y1="358.00" x2="675.20" y2="450.00" stroke="#a0a0a0" stroke-width="0.9"/>
<path d="M581.2 367.0h2M577.7 367.5l1.2 -1.2m.4 .2h.8M581.2 388.0h2M577.7 388.5l1.2 -1.2m.4 .2h.8M581.2 408.0h2M577.7 408.5l1.2 -1.2m.4 .2h.8M581.2 430.0h2M577.7 430.5l1.2 -1.2m.4 .2h.8M581.2 444.0h2M577.7 444.5l1.2 -1.2m.4 .2h.8M589.2 450.0v1.6M588.4 454.0l1.2 -1.2m.4 .2h.8M603.7 450.0v1.6M602.9 454.0l1.2 -1.2m.4 .2h.8M625.2 450.0v1.6M624.4 454.0l1.2 -1.2m.4 .2h.8M646.2 450.0v1.6M645.4 454.0l1.2 -1.2m.4 .2h.8M667.2 450.0v1.6M666.4 454.0l1.2 -1.2m.4 .2h.8M583.7 362.0h1M583.7 369.5h1M583.7 377.0h1M583.7 384.5h1M583.7 392.0h1M583.7 399.5h1M583.7 407.0h1M583.7 414.5h1M583.7 422.0h1M583.7 429.5h1M583.7 437.0h1M583.7 444.5h1" stroke="#777" stroke-width="0.55" fill="none"/>
<path d="M641 400h.9M643 398.5h.9M634 395h.9M611 397h.9M627.5 404h.9M642.5 392.5h.9M650.5 382.5h.9M638 401h.9M646 383h.9M624 391.5h.9M617.5 376h.9M648.5 385h.9M639 395h.9M632 363.5h.9M613 411.5h.9M645 396h.9M648 378.5h.9M618.5 400.5h.9M627.5 400.5h.9M642 392.5h.9M617 425h.9M623 406h.9M651.5 388.5h.9M629.5 398.5h.9M633 403.5h.9M620.5 378.5h.9M648 386.5h.9M614.5 429h.9M646 400h.9M636 403h.9M634.5 401.5h.9M621.5 416.5h.9M623.5 409h.9M628 373.5h.9M597 406.5h.9M647 392h.9M638 371h.9M638.5 402h.9M625.5 375.5h.9M624.5 409.5h.9M625 413.5h.9M625 386h.9M646.5 382h.9M634.5 407.5h.9M616 422.5h.9M639.5 387h.9M636 371h.9M605 414.5h.9M606 407.5h.9M615.5 405.5h.9M629 387h.9M645 362.5h.9M608.5 409h.9M615.5 407.5h.9M619.5 393h.9M617.5 402h.9M638 379.5h.9M621.5 406.5h.9M625 410h.9M651.5 383.5h.9M641 387.5h.9M622 408.5h.9M639 389h.9M639.5 412.5h.9M649 381.5h.9M625.5 390.5h.9M631 379h.9M634.5 373h.9M595 421.5h.9M616.5 393h.9M651 390h.9M622.5 422.5h.9M645.5 373.5h.9M635.5 377.5h.9M625.5 408h.9M632.5 363.5h.9M623 393h.9M611.5 419.5h.9M626 412h.9M609.5 419h.9M632.5 383.5h.9M632 397h.9M627 411h.9" stroke="#b4bbea" stroke-width="0.9" fill="none"/>
<path d="M636 365.5h.9M631 397h.9M638 385h.9M631 383h.9M632 390h.9M648.5 366h.9M612 418h.9M659.5 382h.9M621 389h.9M639 382h.9M621.5 417.5h.9M637 400h.9M638 396.5h.9M653.5 383h.9M644.5 388.5h.9M619 396h.9M621.5 402h.9" stroke="#6070c8" stroke-width="0.9" fill="none"/>
<path d="M590.5 433.5h.9M595 435h.9M614 428.5h.9M625 396h.9M589 432.5h.9M597.5 436h.9M598.5 440h.9M594 427.5h.9M610 426.5h.9M589 433h.9M602.5 437.5h.9M588.5 437.5h.9M604 417.5h.9M611 417h.9M600 441h.9M605.5 438h.9M606 443h.9M617 415.5h.9M596 421.5h.9M602 418h.9M608.5 428h.9M597.5 429h.9M602.5 439h.9M625 420.5h.9M603 422.5h.9M620.5 404h.9M601 438h.9M621 408h.9M600 422h.9M624 414h.9M605.5 413h.9M600.5 447.5h.9M598 414.5h.9M606.5 429.5h.9M609.5 433.5h.9M616.5 416.5h.9M611.5 430.5h.9M603.5 417.5h.9M607 417h.9M609.5 420.5h.9M597 424.5h.9M609 426h.9M615.5 421.5h.9M614 425.5h.9M612 426.5h.9M609.5 430.5h.9M594 439.5h.9M593 439h.9M598 447h.9M612 419.5h.9M625 410.5h.9M585 442h.9M617.5 418.5h.9M597 438.5h.9M616.5 428h.9M593.5 430.5h.9M603.5 417h.9M613.5 430.5h.9M619.5 419.5h.9M592 433.5h.9M614 412.5h.9M606 434.5h.9M593 428.5h.9M590.5 444h.9M609 417.5h.9M603.5 439.5h.9M587.5 435.5h.9M617.5 409.5h.9M604.5 437.5h.9M619.5 420h.9M591.5 430.5h.9M590.5 443h.9M607.5 436h.9M610 422.5h.9M595.5 443h.9M586.5 431.5h.9M616.5 417.5h.9M612.5 411.5h.9M602 433h.9M596 421.5h.9M614.5 407.5h.9M613.5 413h.9M625 413h.9M611.5 415h.9M584 437h.9M607.5 435.5h.9M595.5 440.5h.9M614 409.5h.9M605.5 440h.9M609 427.5h.9M608 430.5h.9M619 417h.9M600 421.5h.9M596.5 437.5h.9M628 412.5h.9M612 426h.9M620 416.5h.9M595.5 425.5h.9M596.5 439h.9M622.5 415h.9M595.5 423.5h.9M601 440h.9M617 405.5h.9M612 414.5h.9M608.5 427.5h.9M603 416.5h.9M610.5 429.5h.9M628 399.5h.9M612 428.5h.9M592 444h.9M606.5 418h.9M599 425h.9M614.5 419.5h.9M595.5 420.5h.9M607 412h.9M602.5 420.5h.9M599 416.5h.9M594.5 420h.9M610 407h.9M607 427.5h.9M589 437h.9M604 437h.9M604 417.5h.9M599.5 434h.9M585.5 444h.9M589 429h.9M619.5 421.5h.9M585 441h.9M608 416h.9M616.5 427h.9M605.5 441h.9M606 429h.9M614 432.5h.9M616.5 407.5h.9M603.5 421h.9M613.5 412h.9M618.5 421.5h.9M592 448.5h.9M591 445h.9M608.5 409h.9M617.5 424h.9M592 430.5h.9M618 397.5h.9M609.5 429h.9M597.5 428h.9M605.5 436.5h.9M599 444.5h.9M591 430.5h.9M598.5 420.5h.9M587 438.5h.9M618.5 419.5h.9M588 433.5h.9M595.5 437h.9M621.5 419.5h.9M603.5 435h.9M606 431.5h.9M601 440h.9M594 434.5h.9M598 420.5h.9M617.5 408.5h.9M629.5 404h.9M606 419h.9M587.5 434.5h.9M617.5 416h.9M605.5 410h.9M607 436h.9M611.5 430.5h.9M585 442.5h.9M629 404h.9M609 416.5h.9M613 427h.9M608 430h.9M584 440h.9M612.5 417.5h.9M612 428h.9M611 423h.9M594.5 427.5h.9M609.5 415h.9M618.5 412h.9M610 430h.9M596 427h.9M617 418h.9M591 439h.9M597 417.5h.9M603 421h.9M613.5 427.5h.9M621.5 417.5h.9M600 417.5h.9M618 416.5h.9M587.5 435h.9M596 439h.9M585 437h.9M616.5 422.5h.9M590 430h.9M610 419.5h.9M612 410h.9M592.5 437h.9M612 422.5h.9M592.5 442.5h.9M601 421h.9M615 422.5h.9M596.5 429h.9M603.5 437.5h.9M609.5 416.5h.9" stroke="#a4aee6" stroke-width="0.9" fill="none"/>
<path d="M612 426.5h.9M611 421.5h.9M607.5 430.5h.9M594.5 436.5h.9M614 420h.9M610 420.5h.9M592.5 440h.9M600 431.5h.9M601.5 422.5h.9M603 428h.9M616 422.5h.9M599.5 433.5h.9M594 441.5h.9M600.5 422.5h.9M585 444h.9M602 430.5h.9M585 436h.9M617 421h.9M599 424.5h.9M606.5 425h.9M604 435h.9M612 419h.9M604.5 425h.9M595 432h.9M597 434.5h.9M606.5 421h.9M601.5 431h.9M597.5 441h.9M590.5 436h.9M593 435h.9M605.5 436.5h.9M608 417h.9M609.5 421.5h.9M604.5 422h.9M616 416h.9M609 420h.9M589 433.5h.9M600.5 429.5h.9M604.5 417h.9M601.5 432h.9M596.5 432.5h.9M595.5 427.5h.9M596 435.5h.9M601 429h.9M610.5 430.5h.9M592 435h.9M598.5 436h.9M595 440h.9M616 420h.9M609.5 424h.9M600.5 423h.9M613 427h.9M610.5 423.5h.9M599.5 429h.9M603.5 437.5h.9M605.5 422h.9M611 421h.9M610.5 411.5h.9M604.5 425h.9M600 442.5h.9M596 428.5h.9M590.5 439h.9M603.5 423.5h.9M597 425.5h.9M587 446.5h.9M599.5 436h.9M608 421.5h.9M600 433.5h.9M597.5 422h.9M609.5 427.5h.9M616 409.5h.9M601.5 421.5h.9M617.5 423h.9M588.5 448h.9M600 423.5h.9M591 429.5h.9M595 444.5h.9M598.5 438h.9M606 421h.9M603.5 426h.9M603 439.5h.9M610 411.5h.9M604.5 420.5h.9M603.5 425.5h.9M597 437.5h.9M611.5 433.5h.9M600.5 414.5h.9M600 433h.9M610 418.5h.9M611 431.5h.9M595.5 423.5h.9M604.5 430h.9M605.5 420.5h.9M603.5 431h.9M597 425.5h.9M611.5 419.5h.9M608 418.5h.9M601.5 423h.9M591 437.5h.9M593.5 439.5h.9M607.5 430h.9M620 416.5h.9M608.5 422.5h.9M602.5 427h.9M592 430h.9M588 435h.9M607.5 418h.9M600.5 416.5h.9M603 431h.9M599.5 426h.9M596 444h.9M593 430h.9M613.5 415.5h.9M601 430.5h.9M598.5 430.5h.9M608 431.5h.9M598 426.5h.9M609.5 421.5h.9M625.5 407h.9M608.5 426.5h.9M610 424.5h.9M596 428.5h.9M617.5 412.5h.9M604 425h.9M588.5 444.5h.9M602 436h.9M604.5 423h.9M606.5 419h.9M598 421.5h.9M605.5 429.5h.9M597 420.5h.9M606.5 419h.9M609.5 421h.9M620 419h.9M602 432h.9M596.5 435h.9M602 431.5h.9M598.5 439h.9M603 438h.9M598.5 427.5h.9M605.5 431h.9M597 433h.9M604.5 419.5h.9M602 430.5h.9M598 444.5h.9M591.5 435h.9M602 425h.9M595.5 436h.9M596 434h.9M602.5 430.5h.9M597 432.5h.9M604 433h.9M602.5 424h.9M597.5 427h.9M594.5 426h.9M605.5 430.5h.9M590 432.5h.9M591 443h.9M590 431h.9M615 425.5h.9M611 422.5h.9M606.5 428h.9M608.5 423h.9M594 433h.9M592.5 430.5h.9M615.5 418.5h.9M600.5 430h.9M588 440h.9M610 419.5h.9M591.5 433h.9M588 440h.9M597.5 428.5h.9M590 442.5h.9M599 428h.9M600.5 432.5h.9M591 435.5h.9M617 419h.9M602 431.5h.9M591 441h.9M591 433.5h.9M615 420h.9M600 434h.9M611.5 420.5h.9M595.5 434h.9M609 416.5h.9M595.5 436h.9M589.5 444.5h.9M604 418h.9M597.5 437h.9M597.5 429.5h.9M615 412.5h.9M608 432.5h.9M615 412h.9M603.5 427h.9M601.5 436.5h.9M617.5 418h.9M607 425.5h.9M614 410.5h.9M606.5 425h.9M601 426h.9M603.5 434.5h.9M607.5 426h.9M609 419h.9M597 437h.9M603.5 427h.9M603 437.5h.9M616 419.5h.9M609.5 423h.9M601 430.5h.9M612 428.5h.9M603.5 425.5h.9M604.5 429h.9M612.5 421h.9M597 434h.9M598.5 424h.9M606.5 422h.9M613.5 418.5h.9M595.5 423h.9M588.5 432.5h.9M599.5 426.5h.9M603.5 422.5h.9M601.5 425.5h.9M609.5 420h.9M593.5 431.5h.9M609 425h.9M607.5 432h.9M599.5 425h.9M600 430h.9M607 416h.9M607.5 438h.9M589.5 436.5h.9M606.5 419.5h.9M606.5 424h.9M602.5 421.5h.9M614.5 418.5h.9M612.5 412h.9M612.5 430.5h.9M602.5 436.5h.9M613.5 426h.9M613 406.5h.9M595.5 426.5h.9M598 427.5h.9M607 422h.9M618 406h.9M608 416.5h.9M610.5 422.5h.9M609.5 421.5h.9M609.5 419.5h.9M591.5 432.5h.9M593.5 439.5h.9M612.5 422h.9M592.5 439h.9M612 422.5h.9M593.5 435.5h.9M603.5 429.5h.9M598 430h.9M599.5 426h.9M591 440.5h.9M593 434h.9M600.5 429h.9M592.5 424h.9M597.5 427h.9M604.5 429h.9M614 413h.9M589 432h.9M586 436.5h.9M612 425.5h.9M602.5 428h.9M601 425h.9M604.5 426.5h.9M618.5 410h.9M607 416h.9M600.5 439h.9M605.5 433.5h.9M607.5 420.5h.9M602.5 427h.9M597 427.5h.9M611 417.5h.9M594 435.5h.9M594.5 430h.9M601.5 423.5h.9M593.5 433h.9M606 417.5h.9M604.5 429.5h.9M606 425h.9M615.5 418.5h.9M613.5 418.5h.9M607 432h.9M607.5 416h.9M601.5 425h.9M606 416.5h.9M613.5 427.5h.9M601.5 421.5h.9M601.5 428.5h.9M605 420h.9M608.5 424.5h.9M611 415h.9M597 423h.9M597.5 427.5h.9M609 420.5h.9M605 422h.9M604.5 421.5h.9M607 416h.9M592 434.5h.9M606.5 422h.9" stroke="#5068c8" stroke-width="0.9" fill="none"/>
<path d="M603.5 426h.9M607.5 427.5h.9M604 424h.9M607.5 429.5h.9M601.5 428h.9M599.5 435.5h.9M605.5 417.5h.9M600.5 430h.9M611.5 424h.9M606.5 428.5h.9M601 434.5h.9M607.5 423h.9M601 432.5h.9M599.5 435.5h.9M600.5 425h.9M608.5 417.5h.9M606.5 419.5h.9M606 424h.9M608.5 422h.9M599.5 434h.9M608 422.5h.9M594 431.5h.9M606.5 432h.9M602 428h.9M608 420.5h.9M594.5 435.5h.9M606 423.5h.9M599 427.5h.9M605.5 417.5h.9M608.5 425h.9M606.5 420.5h.9M610 423h.9M601 430h.9M599.5 428.5h.9M600.5 428h.9M612 414h.9M602 428h.9M608 428h.9M601.5 431.5h.9M598 438h.9M603 425.5h.9M607 424h.9M595 428.5h.9M598.5 433.5h.9M597 435h.9M599 426h.9M605 428.5h.9M603 431.5h.9M606.5 422h.9M608 427h.9M591 437.5h.9M610.5 414h.9M596 432h.9M604.5 425.5h.9M602.5 428.5h.9M602 435.5h.9M606 424.5h.9M604 429h.9M603 425.5h.9M615 422h.9M597 432h.9M606 425h.9M593.5 439.5h.9M601.5 421h.9M592 435h.9M607 421h.9M594.5 435h.9M604 420h.9M603 426.5h.9M610 423.5h.9M609.5 419h.9M604 425.5h.9M612 421.5h.9M600 434h.9M603 424h.9M604.5 427h.9M597 431h.9M606 429h.9M593 430.5h.9M603.5 431h.9M603 433h.9M600 430h.9M602.5 428.5h.9M607 427.5h.9M609 416h.9M599.5 425h.9M606.5 423.5h.9M610 418.5h.9M599 435.5h.9M599.5 428.5h.9M604.5 427.5h.9M604.5 424.5h.9M603.5 428h.9M602.5 431.5h.9M611 423h.9M607.5 419h.9M603.5 424h.9M598.5 425.5h.9M602 428h.9M603 424.5h.9M599.5 432.5h.9M599.5 430h.9M604.5 428.5h.9M605 430.5h.9M600 428.5h.9M604.5 428h.9M603.5 430h.9M593 437h.9M600.5 426h.9M602.5 431h.9M599.5 427.5h.9M594.5 434.5h.9M599.5 432h.9M601 429.5h.9M603 418h.9M601.5 430.5h.9M607.5 429h.9M604 417.5h.9M606 429.5h.9M600 428.5h.9M613 419.5h.9M600 428h.9M595 433h.9M598.5 427.5h.9M603 434.5h.9M608.5 426h.9M604 425.5h.9M595 433h.9M599.5 427.5h.9M598 432h.9M602.5 422h.9M597 430.5h.9M607 423h.9M610.5 423.5h.9M598 424.5h.9M600 426h.9M607.5 421h.9M605 423h.9M596.5 434h.9M610 419.5h.9M599.5 430.5h.9M601 423.5h.9M613.5 417.5h.9M607 422h.9M603.5 434h.9M600.5 428.5h.9M604 427h.9M616 413.5h.9M612.5 419.5h.9M593.5 435.5h.9M610.5 423.5h.9M610 422.5h.9M597 426.5h.9M609 425h.9M600 429h.9M598 430h.9M604 422h.9M596.5 435.5h.9M603.5 426h.9M601.5 430.5h.9M606.5 422.5h.9M598 435h.9M603.5 431.5h.9M608.5 420.5h.9M608.5 419h.9M596 431.5h.9M607.5 427h.9M599 428h.9M612.5 422h.9M602 421.5h.9M605 426.5h.9M596 434h.9M607 423.5h.9M604.5 422.5h.9M615.5 418h.9M601 436h.9M636.5 369h.9M637.5 369h.9M639 369.5h.9M635 370.5h.9M642.5 373h.9M630.5 375h.9M637.5 373h.9M637.5 374.5h.9M638 372.5h.9M647.5 369h.9M625 370.5h.9M646 373h.9M640 370h.9M640.5 373h.9M645.5 374.5h.9M643.5 375h.9M633 373h.9M630.5 375.5h.9M641 372.5h.9M646.5 372h.9M647.5 370.5h.9M636.5 375h.9M643 374h.9M643.5 376.5h.9M642.5 374.5h.9M646 367.5h.9M644 373.5h.9M643.5 369.5h.9M637.5 372h.9M650 369h.9M641 373.5h.9M643 371h.9M639 375.5h.9M639.5 369h.9M649.5 371.5h.9" stroke="#2a3aa8" stroke-width="0.9" fill="none"/>
<path d="M652 374h.9M631.5 378h.9M631 376h.9M637 374.5h.9M636.5 374h.9M641 372h.9M645 374h.9M642.5 377.5h.9M639.5 373h.9M639 372h.9" stroke="#40a8a0" stroke-width="0.9" fill="none"/>
<path d="M637.5 374h.9M644.5 371.5h.9M641 376h.9M638.5 376.5h.9M651.5 370h.9M643 369.5h.9M638 375.5h.9M646.5 369.5h.9M643.5 373h.9M649 372h.9M632 375h.9M640.5 376.5h.9M640.5 373h.9M644 373h.9M648 374h.9M628.5 373.5h.9M634 371.5h.9M643.5 372h.9M660 370h.9M638.5 375.5h.9M649 373.5h.9M635 367.5h.9M645 372.5h.9M643.5 374h.9M635.5 369.5h.9M647.5 375.5h.9M636 372h.9M647.5 371h.9M634.5 375h.9M628 376.5h.9M637 369.5h.9M642.5 374h.9M644 372.5h.9M651.5 373.5h.9M628.5 374.5h.9" stroke="#6a80d8" stroke-width="0.9" fill="none"/>
<ellipse cx="603.20" cy="427.00" rx="22.00" ry="8.20" fill="url(#core)" transform="rotate(-48 603.20 427.00)"/>
<ellipse cx="596.70" cy="439.00" rx="3.2" ry="4.2" fill="#d8e8f0" fill-opacity="0.75"/>
<ellipse cx="640.20" cy="373.00" rx="10.40" ry="3.36" fill="url(#q2g)" transform="rotate(-8 640.20 373.00)"/>
<path d="M624.5 358V450M583.2 407.5H675.2" stroke="#2a2a2a" stroke-width="1" fill="none"/>
<text x="585.70" y="365.70" font-size="4.5" text-anchor="start" fill="#3a3a3a" font-weight="normal">Q1</text>
<text x="585.70" y="371.40" font-size="4.5" text-anchor="start" fill="#3a3a3a" font-weight="normal">1.67</text>
<text x="668.20" y="365.70" font-size="4.5" text-anchor="end" fill="#3a3a3a" font-weight="normal">Q2</text>
<text x="668.20" y="371.40" font-size="4.5" text-anchor="end" fill="#3a3a3a" font-weight="normal">5.36</text>
<text x="585.70" y="440.50" font-size="4.5" text-anchor="start" fill="#3a3a3a" font-weight="normal">Q4</text>
<text x="585.70" y="446.00" font-size="4.5" text-anchor="start" fill="#3a3a3a" font-weight="normal">92.2</text>
<text x="668.20" y="440.50" font-size="4.5" text-anchor="end" fill="#3a3a3a" font-weight="normal">Q3</text>
<text x="668.20" y="446.00" font-size="4.5" text-anchor="end" fill="#3a3a3a" font-weight="normal">0.77</text>
<text x="424.80" y="469.60" font-size="9.1" text-anchor="middle" fill="#1a1a1a" font-weight="bold">Sertraline</text>
<line x1="381.00" y1="474.60" x2="381.00" y2="566.60" stroke="#6a6a6a" stroke-width="0.9"/>
<line x1="381.00" y1="566.60" x2="473.00" y2="566.60" stroke="#8a8a8a" stroke-width="0.8"/>
<line x1="473.00" y1="474.60" x2="473.00" y2="566.60" stroke="#a0a0a0" stroke-width="0.9"/>
<path d="M379.0 483.6h2M375.5 484.1l1.2 -1.2m.4 .2h.8M379.0 504.6h2M375.5 505.1l1.2 -1.2m.4 .2h.8M379.0 524.6h2M375.5 525.1l1.2 -1.2m.4 .2h.8M379.0 546.6h2M375.5 547.1l1.2 -1.2m.4 .2h.8M379.0 560.6h2M375.5 561.1l1.2 -1.2m.4 .2h.8M387.0 566.6v1.6M386.2 570.6l1.2 -1.2m.4 .2h.8M401.5 566.6v1.6M400.7 570.6l1.2 -1.2m.4 .2h.8M423.0 566.6v1.6M422.2 570.6l1.2 -1.2m.4 .2h.8M444.0 566.6v1.6M443.2 570.6l1.2 -1.2m.4 .2h.8M465.0 566.6v1.6M464.2 570.6l1.2 -1.2m.4 .2h.8M381.5 478.6h1M381.5 486.1h1M381.5 493.6h1M381.5 501.1h1M381.5 508.6h1M381.5 516.1h1M381.5 523.6h1M381.5 531.1h1M381.5 538.6h1M381.5 546.1h1M381.5 553.6h1M381.5 561.1h1" stroke="#777" stroke-width="0.55" fill="none"/>
<path d="M438 516.5h.9M425.5 504.5h.9M425 512.5h.9M451 481h.9M410 537.5h.9M417.5 505.5h.9M441 503h.9M462 503h.9M442 501h.9M423.5 510h.9M430.5 496h.9M421 511h.9M427.5 508h.9M432.5 503.5h.9M420 525.5h.9M399.5 518h.9M410 525h.9M404 518.5h.9M436.5 497h.9M404 540.5h.9M451 501.5h.9M414.5 510h.9M434.5 500.5h.9M452.5 493.5h.9M413.5 534.5h.9M446.5 488.5h.9M457.5 505.5h.9M413.5 517h.9M422.5 502.5h.9M420.5 510h.9M421 514.5h.9M435.5 516h.9M420.5 531.5h.9M422.5 515.5h.9M417.5 522.5h.9M423 531h.9M447.5 481.5h.9M411 519.5h.9M426.5 504.5h.9M453 490h.9M411 524h.9M407 541h.9M438.5 500.5h.9M403 539.5h.9M430 511.5h.9M432 509h.9M443.5 493.5h.9M443.5 499.5h.9M417 499.5h.9M417 534.5h.9M446 489.5h.9M408 534.5h.9M432.5 514.5h.9M421 517h.9M430 505.5h.9M431.5 505h.9M424.5 517.5h.9M423.5 506.5h.9M422 506.5h.9M424.5 509.5h.9M420 507.5h.9M417.5 540h.9M457 497h.9M426 524.5h.9M427 525h.9M416 520.5h.9M436 496h.9M415.5 515h.9M443.5 510.5h.9M436 500.5h.9M453 487.5h.9M423 543h.9M432 536h.9M455 499.5h.9M435 504.5h.9M444 511h.9M418.5 518h.9M437.5 524.5h.9M439.5 509.5h.9M407.5 524.5h.9M427.5 525h.9M416.5 526h.9M404.5 527h.9M441.5 487h.9" stroke="#b4bbea" stroke-width="0.9" fill="none"/>
<path d="M433.5 514h.9M436.5 502.5h.9M439 507h.9M431.5 518.5h.9M450.5 498.5h.9M398 532h.9M431.5 502.5h.9M402.5 516h.9M409 503.5h.9M418 526.5h.9M416.5 517h.9M437.5 493.5h.9M417 520h.9M454.5 494h.9M422 512.5h.9M436.5 495.5h.9" stroke="#6070c8" stroke-width="0.9" fill="none"/>
<path d="M398.5 550.5h.9M407 546h.9M397 551.5h.9M388.5 547.5h.9M403.5 543h.9M402 545.5h.9M393 546h.9M403.5 541.5h.9M391 542h.9M393 544h.9M404.5 543.5h.9M415 536.5h.9M394.5 551.5h.9M397.5 539.5h.9M413.5 541h.9M413.5 541h.9M395.5 547.5h.9M404 551h.9M393.5 546.5h.9M394.5 539.5h.9M392 545h.9M404.5 545.5h.9M410.5 534h.9M402.5 533.5h.9M413.5 532.5h.9M397 542.5h.9M405 545h.9M399.5 545.5h.9M393 544h.9M405 546.5h.9M389 546.5h.9M403.5 536h.9M402 546h.9M394.5 540.5h.9M396.5 551.5h.9M398.5 540.5h.9M414.5 533h.9M398 553h.9M405.5 537.5h.9M410.5 533h.9M400 540.5h.9M408 537.5h.9M407.5 537.5h.9M388 552.5h.9M398.5 539h.9M416.5 533.5h.9M404 540h.9M394.5 546h.9M397 558.5h.9M412 541.5h.9M393 549h.9M411.5 539h.9M386 556.5h.9M405 537.5h.9M407.5 549h.9M404 541.5h.9M405 533.5h.9M384.5 555.5h.9M411 538h.9M397 543h.9M403.5 545h.9M390 555h.9M399.5 550h.9M404 545h.9M401.5 549.5h.9M414 535h.9M394 555h.9M414 530.5h.9M394.5 543h.9M398 557h.9M397 551h.9M408.5 548h.9M398 553.5h.9M392 547.5h.9M413.5 536h.9M408 540.5h.9M407.5 537h.9M405 540h.9M397.5 544.5h.9M390.5 550.5h.9M390.5 542.5h.9M396 548h.9M392.5 540h.9M397 540h.9M405 546.5h.9M400.5 543h.9M390.5 547.5h.9M402.5 537.5h.9M407.5 537h.9M388 564h.9M389.5 558.5h.9M394 540.5h.9M412.5 526.5h.9M398.5 536h.9M406.5 527.5h.9M401 537.5h.9M409 542.5h.9M395 554h.9M408.5 538h.9M402.5 538.5h.9M417.5 531.5h.9M413.5 542.5h.9M402.5 547.5h.9M395.5 547h.9M387 554h.9M397 539.5h.9M411 522.5h.9M408.5 536h.9M408 545.5h.9M415.5 527.5h.9M399 535h.9M389 557h.9M388.5 547.5h.9M406 537h.9M399 541h.9M418.5 518.5h.9M412.5 536h.9M403.5 546.5h.9M412 536h.9M405.5 540h.9M397 541.5h.9M411.5 535h.9M406 546.5h.9M399.5 544.5h.9M403.5 531h.9M400 558h.9M409 529h.9M419.5 528.5h.9M411 535h.9M394 549h.9M392 548.5h.9M390 553.5h.9M398 542.5h.9M412.5 524.5h.9M405 530h.9M413 533h.9M404.5 535.5h.9M401.5 539h.9M405 542h.9M399.5 547h.9M407 543h.9M390.5 547.5h.9M391 546.5h.9M393.5 549h.9M393 546.5h.9M407 531.5h.9M416 525h.9M409.5 534.5h.9M396.5 530.5h.9M411 537h.9M414 538.5h.9M411.5 535.5h.9M400.5 535.5h.9M416 538h.9M389 550h.9M391.5 546.5h.9M400 536.5h.9M405.5 531h.9M407.5 528h.9M393 550.5h.9M408 528.5h.9M408.5 541.5h.9M411.5 533.5h.9M392.5 548.5h.9M399.5 540h.9M398.5 531h.9M398.5 556.5h.9M394.5 559h.9M402.5 547.5h.9M387 550h.9M398.5 554.5h.9M402 548h.9M394 549.5h.9M383.5 556.5h.9M386.5 549h.9M413.5 524h.9M395.5 555.5h.9M421 529h.9M404.5 537.5h.9M409 532.5h.9M400 542.5h.9M390.5 551.5h.9M408.5 535h.9M392 552h.9M409.5 548.5h.9M399.5 551h.9M390.5 549.5h.9M405.5 530h.9M409.5 530h.9M403.5 545h.9M417 531h.9M405 540h.9M394 544h.9M417 526.5h.9M408.5 541.5h.9M403.5 538h.9M410 536h.9M406.5 535h.9M413.5 527h.9M399 536.5h.9M401.5 543.5h.9M408.5 537.5h.9M404.5 544.5h.9M395.5 543h.9M408 542h.9M413 538.5h.9M398 543.5h.9M404 545.5h.9M410.5 530h.9M387 548.5h.9M405 539.5h.9M408 533.5h.9M392.5 542.5h.9M386.5 558.5h.9M408 539h.9M405 533.5h.9M390.5 541.5h.9M403 544h.9M400 535h.9M396 544h.9M394 543.5h.9M406.5 526h.9M408.5 541.5h.9M396 552.5h.9M397.5 542.5h.9M391 549h.9M400.5 533h.9M403.5 538h.9M397.5 551h.9M398.5 540h.9M411.5 537.5h.9M403.5 543.5h.9M399 538.5h.9M402.5 549h.9M402 545h.9M391.5 548h.9M389 549h.9M389 550.5h.9M409 537h.9M396 544h.9M403 537.5h.9M410 521.5h.9M402.5 539.5h.9M410.5 545.5h.9M408.5 530.5h.9M415 535h.9M400 539.5h.9M407.5 540.5h.9M410.5 536h.9M409 543.5h.9M399.5 544.5h.9M413.5 536h.9M411 529h.9M407 540h.9M401 544h.9M412 521h.9M385.5 558h.9M407.5 538h.9M396 547h.9M402 545h.9M410.5 538.5h.9M396 541h.9M412.5 535h.9M390.5 558h.9M413.5 538.5h.9M405.5 540.5h.9M408 538h.9M402 540.5h.9M412.5 528h.9M410.5 527h.9M405.5 550.5h.9M399 548.5h.9M395.5 540.5h.9M396.5 550.5h.9M399.5 540h.9M405.5 533.5h.9M411 534h.9M402.5 539.5h.9M413.5 531.5h.9M392 551.5h.9M396.5 537h.9M410 532h.9M401.5 538h.9M391.5 556h.9M410 538.5h.9M385 557.5h.9M411.5 544h.9M406 539h.9M392.5 546h.9M407.5 534.5h.9M403 548.5h.9M398 544h.9M395 548.5h.9M408.5 534.5h.9M407.5 542.5h.9M408.5 528.5h.9M398 551.5h.9M398.5 538.5h.9M396.5 553h.9M401 544.5h.9M418 531.5h.9M413.5 534.5h.9M386.5 548.5h.9M388.5 545.5h.9M405 534h.9M394.5 549.5h.9M402 538.5h.9M417.5 533.5h.9M397.5 536.5h.9M398.5 539.5h.9M401.5 538h.9M403.5 530.5h.9M414 534h.9M404.5 537h.9M392 552h.9M401.5 543h.9M402 540.5h.9M401 538h.9" stroke="#5068c8" stroke-width="0.9" fill="none"/>
<path d="M409 536.5h.9M400.5 545h.9M401.5 542.5h.9M410.5 531h.9M398 551h.9M399 552h.9M397 548h.9M402.5 538h.9M401 534.5h.9M404.5 535.5h.9M396 547.5h.9M406 538h.9M400.5 548h.9M400.5 548.5h.9M391.5 548h.9M403 543.5h.9M407.5 536h.9M394.5 555.5h.9M402 541h.9M404 541h.9M396.5 547h.9M394.5 544.5h.9M410 531.5h.9M394.5 542.5h.9M404.5 538.5h.9M401 543.5h.9M408.5 540.5h.9M398.5 550h.9M399 546.5h.9M410.5 535h.9M401.5 546.5h.9M401.5 541h.9M401 544.5h.9M408.5 537h.9M410 535.5h.9M408.5 532.5h.9M406 534h.9M397.5 542.5h.9M408 533.5h.9M398 544h.9M401 542h.9M396.5 547.5h.9M397.5 543.5h.9M407.5 536.5h.9M401.5 539.5h.9M391.5 556.5h.9M405 532.5h.9M401.5 545h.9M402.5 533h.9M406 540h.9M401 536h.9M394 548h.9M403.5 538.5h.9M398.5 549h.9M405 540h.9M404 541.5h.9M396 550.5h.9M404.5 536.5h.9M389.5 554.5h.9M411 532h.9M404.5 541h.9M395.5 546h.9M403 539h.9M401 542h.9M399 546h.9M402.5 542h.9M399 543.5h.9M402 545.5h.9M395 543h.9M403.5 538.5h.9M405 536.5h.9M406 535.5h.9M406 537h.9M401 540.5h.9M405 541.5h.9M408 539h.9M402 542h.9M406.5 539.5h.9M406 536h.9M397.5 545.5h.9M409 531.5h.9M406.5 536.5h.9M411.5 534h.9M400.5 542.5h.9M393.5 543h.9M398 550.5h.9M404.5 542h.9M398.5 547.5h.9M401 540.5h.9M395 543.5h.9M394 551.5h.9M412 531.5h.9M396.5 547h.9M399.5 541h.9M411.5 536.5h.9M400 547.5h.9M401 546h.9M409 541.5h.9M394.5 549h.9M394.5 543.5h.9M396.5 543h.9M403 540h.9M394.5 547h.9M405.5 541.5h.9M399.5 552.5h.9M401 546.5h.9M395 542h.9M398 546.5h.9M398 545h.9M404.5 538.5h.9M405 538.5h.9M401 537.5h.9M398 546h.9M398 546h.9M402 544.5h.9M399.5 544h.9M398 552h.9M395.5 544.5h.9M394 549h.9M395.5 551.5h.9M401.5 540.5h.9M403.5 536.5h.9M408 534h.9M400 544h.9M400 544.5h.9M404 544.5h.9M399 544h.9M408.5 542.5h.9M400.5 542h.9M404 544.5h.9M395.5 543h.9M395.5 551h.9M400 545h.9M400 542h.9M394.5 548.5h.9M409.5 542h.9M395 549h.9M393 544h.9M400.5 543.5h.9M408.5 543h.9M414 534.5h.9M402 546.5h.9M401.5 544h.9M393 547h.9M403 542h.9M401.5 541.5h.9M398.5 544.5h.9M404 539h.9M403.5 536.5h.9M399 542h.9M411.5 537h.9M404.5 539h.9M398.5 542.5h.9M393.5 549h.9M411 538h.9M407.5 538h.9M400 549.5h.9M397 545.5h.9M398 549.5h.9M402 539.5h.9M399 541h.9M401.5 542.5h.9M400.5 547.5h.9M401.5 540h.9M398 542.5h.9M393 542.5h.9M402.5 541.5h.9M403 549.5h.9M408.5 536h.9M407 541.5h.9M404 537h.9M395 543h.9M403 537h.9M404 540.5h.9M400.5 545h.9M403.5 538h.9M410.5 530.5h.9M404.5 536.5h.9M405.5 544h.9M403.5 541.5h.9M406 534h.9M394.5 544.5h.9M406.5 538.5h.9M399 542.5h.9M403.5 540h.9M403.5 544h.9M404.5 541h.9M405 538h.9M390 551h.9M401.5 540.5h.9M399 544h.9M398.5 551.5h.9M397 548.5h.9M396.5 549h.9M398 543.5h.9M406 538.5h.9M404 542.5h.9M447.5 492.5h.9M436 491.5h.9M437.5 490.5h.9M433 487.5h.9M440.5 490.5h.9M446 493h.9M432.5 500h.9M434.5 490.5h.9M438 490.5h.9M437.5 491.5h.9M433 491.5h.9M441.5 489h.9M433.5 487h.9M446 493.5h.9M437.5 490.5h.9M442.5 491h.9M443 486.5h.9M447 488.5h.9M434 488h.9M448.5 490.5h.9M438.5 487h.9M439 484.5h.9M438 490h.9M446 485.5h.9M433 489h.9M441.5 485h.9M456.5 489h.9M436.5 491h.9M449 491h.9M442.5 489.5h.9M436.5 491.5h.9M434 489h.9M445 486.5h.9M436.5 488.5h.9M435.5 493h.9M435.5 488.5h.9M439.5 490h.9M436.5 489.5h.9M438 490.5h.9M447.5 492.5h.9M441.5 488.5h.9" stroke="#2a3aa8" stroke-width="0.9" fill="none"/>
<path d="M391 546.5h.9M410 540.5h.9M415.5 536.5h.9M413.5 543.5h.9M383 560.5h.9M392 556h.9M391.5 559h.9M400 526h.9M393 551.5h.9M398 554h.9M412 543.5h.9M401.5 550h.9M383 561h.9M409 531.5h.9M394.5 537.5h.9M400 532h.9M392.5 541.5h.9M393 540h.9M415 533.5h.9M414.5 532.5h.9M393 541.5h.9M390 549.5h.9M390 557.5h.9M401.5 548.5h.9M397 558.5h.9M383 552.5h.9M401 551h.9M385 555h.9M416 541h.9M422.5 546h.9M409.5 547.5h.9M387 544.5h.9M402.5 548h.9M413 547.5h.9M409.5 537.5h.9M408 534h.9M402 549.5h.9M416 534h.9M396 536h.9M410 541.5h.9M414.5 517.5h.9M415.5 535h.9M420.5 522.5h.9M411.5 544h.9M384.5 554h.9M406.5 542.5h.9M418 530h.9M404.5 547.5h.9M387.5 562.5h.9M411.5 538h.9M390.5 542.5h.9M397.5 538h.9M397.5 533h.9M396 529.5h.9M402 535.5h.9M393.5 553h.9M405 531.5h.9M407 534.5h.9M402 548h.9M399.5 554.5h.9M411.5 530h.9M422.5 516.5h.9M404.5 555.5h.9M395.5 555.5h.9M423.5 517.5h.9M393.5 556.5h.9M390.5 553.5h.9M411 547h.9M386.5 554h.9M410.5 544h.9M408.5 529h.9M410.5 533.5h.9M407.5 544h.9M397 549h.9M399.5 536.5h.9M411.5 548h.9M392.5 557.5h.9M396.5 540.5h.9M409.5 544h.9M384 550.5h.9M409 531h.9M413.5 529h.9M384.5 552h.9M401 534h.9M409 536h.9M390.5 548.5h.9M394 541h.9M402 525.5h.9M422 527h.9M419 518.5h.9M412 534.5h.9M406 546h.9M411 545h.9M406 530h.9M411.5 528h.9M390 542.5h.9M393 548h.9M406 533.5h.9M394.5 540h.9M420.5 524h.9M406 549.5h.9M421.5 527h.9M419 534.5h.9M398.5 536h.9M393.5 554.5h.9M431 525h.9M394.5 555h.9M408 534.5h.9M391.5 562h.9M413 529.5h.9M394 546.5h.9M389.5 543h.9M385.5 557h.9M408.5 535.5h.9M395 546h.9M419 523h.9M402 537h.9M409 529h.9M408 529h.9M410 545.5h.9M389 558h.9M412 529.5h.9M412 543.5h.9M388 561h.9M388.5 561.5h.9M403 548h.9M411.5 537h.9M410.5 532h.9M417 533h.9M412 534.5h.9M388.5 557.5h.9M402 529.5h.9M423 518h.9M399.5 534.5h.9M407.5 535h.9M394.5 552h.9M427.5 517.5h.9M404 534.5h.9M390.5 554h.9M383.5 550.5h.9M399 538h.9M396 534h.9M420.5 530.5h.9M424 528.5h.9M394 542h.9M390.5 545h.9M416.5 532h.9M413 539.5h.9M400.5 528.5h.9M394.5 549.5h.9M401.5 552.5h.9M413 548h.9M425 524h.9M408 552h.9M396 538h.9M414 529.5h.9M394 539h.9M415 536h.9M412 532h.9M396 530h.9M409.5 540h.9M384 560h.9M393.5 539h.9M386.5 561.5h.9M411 542.5h.9M413 523.5h.9M397.5 533h.9M386.5 546.5h.9M411 542h.9M400 527h.9M409.5 531h.9M407.5 542.5h.9M388 553.5h.9M416.5 529h.9M388 550h.9M392.5 550h.9M406.5 531h.9M413.5 527h.9M411 527h.9M413.5 531h.9" stroke="#a4aee6" stroke-width="0.9" fill="none"/>
<path d="M439.5 492h.9M439.5 491h.9M424.5 496.5h.9M433.5 487.5h.9M444.5 493h.9M442 487.5h.9M440.5 490h.9M432 494h.9M434 490h.9M441.5 492.5h.9M449 489h.9M433.5 491h.9M429.5 485.5h.9M429.5 491h.9M433 490h.9M439.5 489h.9M443 488h.9M433.5 489.5h.9M442.5 492h.9M444 491.5h.9M443.5 487.5h.9M436 490.5h.9M438 490h.9M435 491h.9M438.5 490.5h.9M444.5 485.5h.9M451.5 491.5h.9M444.5 487.5h.9M447.5 487.5h.9M436.5 490.5h.9M446.5 494.5h.9M431 493h.9M447 488.5h.9M437.5 490.5h.9M430.5 495h.9M437 491h.9M436 493.5h.9M432.5 491h.9M447 491h.9M436 491h.9M442.5 490h.9M428.5 490h.9M430.5 495.5h.9M437.5 489h.9M431.5 494h.9" stroke="#6a80d8" stroke-width="0.9" fill="none"/>
<path d="M431.5 488.5h.9M436.5 489.5h.9M434.5 491.5h.9M449 489.5h.9M437.5 488h.9M437.5 492h.9M436.5 492h.9M435.5 484.5h.9M435.5 492h.9M445 491h.9M429.5 490h.9M437 490h.9M437 489.5h.9M446.5 490.5h.9M450.5 487.5h.9M436.5 491h.9M440.5 492.5h.9M443 489h.9M443 490.5h.9M432.5 490.5h.9M440.5 491h.9M430.5 490h.9M441.5 490.5h.9M444.5 487.5h.9" stroke="#40a8a0" stroke-width="0.9" fill="none"/>
<ellipse cx="402.00" cy="541.60" rx="22.00" ry="8.20" fill="url(#core)" transform="rotate(-46 402.00 541.60)"/>
<ellipse cx="394.50" cy="555.60" rx="3.2" ry="4.2" fill="#d8e8f0" fill-opacity="0.75"/>
<ellipse cx="439.00" cy="490.10" rx="9.60" ry="3.64" fill="url(#q2g)" transform="rotate(-8 439.00 490.10)"/>
<path d="M422.5 474.6V566.6M381 524.5H473" stroke="#2a2a2a" stroke-width="1" fill="none"/>
<text x="383.50" y="482.30" font-size="4.5" text-anchor="start" fill="#3a3a3a" font-weight="normal">Q1</text>
<text x="383.50" y="488.00" font-size="4.5" text-anchor="start" fill="#3a3a3a" font-weight="normal">1.81</text>
<text x="466.00" y="482.30" font-size="4.5" text-anchor="end" fill="#3a3a3a" font-weight="normal">Q2</text>
<text x="466.00" y="488.00" font-size="4.5" text-anchor="end" fill="#3a3a3a" font-weight="normal">7.69</text>
<text x="383.50" y="557.10" font-size="4.5" text-anchor="start" fill="#3a3a3a" font-weight="normal">Q4</text>
<text x="383.50" y="562.60" font-size="4.5" text-anchor="start" fill="#3a3a3a" font-weight="normal">89.8</text>
<text x="466.00" y="557.10" font-size="4.5" text-anchor="end" fill="#3a3a3a" font-weight="normal">Q3</text>
<text x="466.00" y="562.60" font-size="4.5" text-anchor="end" fill="#3a3a3a" font-weight="normal">0.71</text>
<text x="23.40" y="398.00" font-size="12" text-anchor="middle" fill="#231815" font-weight="bold" transform="rotate(-90 23.40 398.00)">A549</text>
<text x="369.80" y="395.70" font-size="12" text-anchor="middle" fill="#231815" font-weight="bold" transform="rotate(-90 369.80 395.70)">H1299</text>
<path d="M26.2 575.2V507" stroke="#111" stroke-width="1.3" fill="none"/>
<path d="M22.9 507.5L26.2 502L29.5 507.5Z" fill="#111"/>
<path d="M26.2 575.2H95" stroke="#111" stroke-width="1.3" fill="none"/>
<path d="M94.5 571.9000000000001L100 575.2L94.5 578.5Z" fill="#111"/>
<text x="21.20" y="531.30" font-size="9" text-anchor="middle" fill="#231815" font-weight="bold" transform="rotate(-90 21.20 531.30)">Propidium Iodide</text>
<text x="70.50" y="588.20" font-size="9" text-anchor="middle" fill="#231815" font-weight="bold">Annexin V FITC</text>
<path d="M372.3 575.7V507" stroke="#111" stroke-width="1.3" fill="none"/>
<path d="M369.0 507.5L372.3 502L375.6 507.5Z" fill="#111"/>
<path d="M372.3 575.7H441.3" stroke="#111" stroke-width="1.3" fill="none"/>
<path d="M440.8 572.4000000000001L446.3 575.7L440.8 579.0Z" fill="#111"/>
<text x="366.10" y="532.50" font-size="9" text-anchor="middle" fill="#231815" font-weight="bold" transform="rotate(-90 366.10 532.50)">Propidium Iodide</text>
<text x="415.40" y="589.70" font-size="9" text-anchor="middle" fill="#231815" font-weight="bold">Annexin V FITC</text>
<rect x="181.00" y="554.66" width="13.00" height="10.34" fill="#c8ddf5" stroke="#8a98aa" stroke-width="0.8"/>
<rect x="200.55" y="544.32" width="13.00" height="20.68" fill="#c8ddf5" stroke="#8a98aa" stroke-width="0.8"/>
<rect x="220.10" y="542.25" width="13.00" height="22.75" fill="#c8ddf5" stroke="#8a98aa" stroke-width="0.8"/>
<rect x="239.65" y="543.63" width="13.00" height="21.37" fill="#c8ddf5" stroke="#8a98aa" stroke-width="0.8"/>
<rect x="259.20" y="534.67" width="13.00" height="30.33" fill="#c8ddf5" stroke="#8a98aa" stroke-width="0.8"/>
<rect x="278.75" y="515.02" width="13.00" height="49.98" fill="#c8ddf5" stroke="#8a98aa" stroke-width="0.8"/>
<rect x="298.30" y="496.76" width="13.00" height="68.24" fill="#c8ddf5" stroke="#8a98aa" stroke-width="0.8"/>
<line x1="187.50" y1="551.56" x2="187.50" y2="557.76" stroke="#111" stroke-width="1"/>
<line x1="184.50" y1="551.56" x2="190.50" y2="551.56" stroke="#111" stroke-width="1"/>
<line x1="184.50" y1="557.76" x2="190.50" y2="557.76" stroke="#111" stroke-width="1"/>
<circle cx="184.80" cy="552.11" r="2.7" fill="#000"/>
<circle cx="190.30" cy="553.28" r="2.7" fill="#000"/>
<circle cx="187.50" cy="557.97" r="2.7" fill="#000"/>
<line x1="207.05" y1="540.78" x2="207.05" y2="547.86" stroke="#111" stroke-width="1"/>
<line x1="204.05" y1="540.78" x2="210.05" y2="540.78" stroke="#111" stroke-width="1"/>
<line x1="204.05" y1="547.86" x2="210.05" y2="547.86" stroke="#111" stroke-width="1"/>
<circle cx="204.15" cy="541.01" r="2.7" fill="#000"/>
<circle cx="209.95" cy="543.42" r="2.7" fill="#000"/>
<circle cx="207.05" cy="547.97" r="2.7" fill="#000"/>
<line x1="226.60" y1="539.05" x2="226.60" y2="545.45" stroke="#111" stroke-width="1"/>
<line x1="223.60" y1="539.05" x2="229.60" y2="539.05" stroke="#111" stroke-width="1"/>
<line x1="223.60" y1="545.45" x2="229.60" y2="545.45" stroke="#111" stroke-width="1"/>
<circle cx="223.30" cy="539.29" r="2.7" fill="#000"/>
<circle cx="229.20" cy="541.01" r="2.7" fill="#000"/>
<circle cx="226.60" cy="545.49" r="2.7" fill="#000"/>
<line x1="246.15" y1="539.60" x2="246.15" y2="547.66" stroke="#111" stroke-width="1"/>
<line x1="243.15" y1="539.60" x2="249.15" y2="539.60" stroke="#111" stroke-width="1"/>
<line x1="243.15" y1="547.66" x2="249.15" y2="547.66" stroke="#111" stroke-width="1"/>
<circle cx="246.15" cy="539.91" r="2.7" fill="#000"/>
<circle cx="246.15" cy="543.98" r="2.7" fill="#000"/>
<circle cx="246.15" cy="547.97" r="2.7" fill="#000"/>
<line x1="265.70" y1="529.47" x2="265.70" y2="539.87" stroke="#111" stroke-width="1"/>
<line x1="262.70" y1="529.47" x2="268.70" y2="529.47" stroke="#111" stroke-width="1"/>
<line x1="262.70" y1="539.87" x2="268.70" y2="539.87" stroke="#111" stroke-width="1"/>
<circle cx="262.70" cy="531.36" r="2.7" fill="#000"/>
<circle cx="268.60" cy="531.98" r="2.7" fill="#000"/>
<circle cx="265.70" cy="540.67" r="2.7" fill="#000"/>
<line x1="285.25" y1="510.35" x2="285.25" y2="519.69" stroke="#111" stroke-width="1"/>
<line x1="282.25" y1="510.35" x2="288.25" y2="510.35" stroke="#111" stroke-width="1"/>
<line x1="282.25" y1="519.69" x2="288.25" y2="519.69" stroke="#111" stroke-width="1"/>
<circle cx="285.25" cy="510.96" r="2.7" fill="#000"/>
<circle cx="285.25" cy="514.95" r="2.7" fill="#000"/>
<circle cx="285.25" cy="520.26" r="2.7" fill="#000"/>
<line x1="304.80" y1="488.99" x2="304.80" y2="504.52" stroke="#111" stroke-width="1"/>
<line x1="301.80" y1="488.99" x2="307.80" y2="488.99" stroke="#111" stroke-width="1"/>
<line x1="301.80" y1="504.52" x2="307.80" y2="504.52" stroke="#111" stroke-width="1"/>
<circle cx="301.80" cy="491.93" r="2.7" fill="#000"/>
<circle cx="308.10" cy="492.62" r="2.7" fill="#000"/>
<circle cx="304.80" cy="505.72" r="2.7" fill="#000"/>
<line x1="174.40" y1="461.60" x2="174.40" y2="565.90" stroke="#111" stroke-width="1.8"/>
<line x1="173.50" y1="565.00" x2="317.70" y2="565.00" stroke="#111" stroke-width="1.8"/>
<line x1="168.90" y1="565.00" x2="174.40" y2="565.00" stroke="#111" stroke-width="1.5"/>
<text x="166.90" y="568.50" font-size="10" text-anchor="end" fill="#111" font-weight="bold">0</text>
<line x1="168.90" y1="530.53" x2="174.40" y2="530.53" stroke="#111" stroke-width="1.5"/>
<text x="166.90" y="534.03" font-size="10" text-anchor="end" fill="#111" font-weight="bold">5</text>
<line x1="168.90" y1="496.07" x2="174.40" y2="496.07" stroke="#111" stroke-width="1.5"/>
<text x="166.90" y="499.57" font-size="10" text-anchor="end" fill="#111" font-weight="bold">10</text>
<line x1="168.90" y1="461.60" x2="174.40" y2="461.60" stroke="#111" stroke-width="1.5"/>
<text x="166.90" y="465.10" font-size="10" text-anchor="end" fill="#111" font-weight="bold">15</text>
<line x1="187.50" y1="565.00" x2="187.50" y2="570.50" stroke="#111" stroke-width="1.5"/>
<text x="189.30" y="576.50" font-size="7.3" text-anchor="end" fill="#111" font-weight="bold" transform="rotate(-45 189.30 576.50)">Ctrl</text>
<line x1="207.05" y1="565.00" x2="207.05" y2="570.50" stroke="#111" stroke-width="1.5"/>
<text x="208.85" y="576.50" font-size="7.3" text-anchor="end" fill="#111" font-weight="bold" transform="rotate(-45 208.85 576.50)">Agomelatine</text>
<line x1="226.60" y1="565.00" x2="226.60" y2="570.50" stroke="#111" stroke-width="1.5"/>
<text x="228.40" y="576.50" font-size="7.3" text-anchor="end" fill="#111" font-weight="bold" transform="rotate(-45 228.40 576.50)">Bupropion</text>
<line x1="246.15" y1="565.00" x2="246.15" y2="570.50" stroke="#111" stroke-width="1.5"/>
<text x="247.95" y="576.50" font-size="7.3" text-anchor="end" fill="#111" font-weight="bold" transform="rotate(-45 247.95 576.50)">Amitriptyline</text>
<line x1="265.70" y1="565.00" x2="265.70" y2="570.50" stroke="#111" stroke-width="1.5"/>
<text x="267.50" y="576.50" font-size="7.3" text-anchor="end" fill="#111" font-weight="bold" transform="rotate(-45 267.50 576.50)">Paroxetine</text>
<line x1="285.25" y1="565.00" x2="285.25" y2="570.50" stroke="#111" stroke-width="1.5"/>
<text x="287.05" y="576.50" font-size="7.3" text-anchor="end" fill="#111" font-weight="bold" transform="rotate(-45 287.05 576.50)">Tandospirone</text>
<line x1="304.80" y1="565.00" x2="304.80" y2="570.50" stroke="#111" stroke-width="1.5"/>
<text x="306.60" y="576.50" font-size="7.3" text-anchor="end" fill="#111" font-weight="bold" transform="rotate(-45 306.60 576.50)">Sertraline</text>
<text x="147.30" y="513.30" font-size="10.3" text-anchor="middle" fill="#111" font-weight="bold" transform="rotate(-90 147.30 513.30)">Apoptotic rate (%)</text>
<rect x="522.55" y="550.18" width="13.30" height="14.82" fill="#fde2c6" stroke="#9a9088" stroke-width="0.8"/>
<rect x="542.25" y="531.74" width="13.30" height="33.26" fill="#fde2c6" stroke="#9a9088" stroke-width="0.8"/>
<rect x="561.95" y="531.39" width="13.30" height="33.61" fill="#fde2c6" stroke="#9a9088" stroke-width="0.8"/>
<rect x="581.65" y="536.91" width="13.30" height="28.09" fill="#fde2c6" stroke="#9a9088" stroke-width="0.8"/>
<rect x="601.35" y="526.66" width="13.30" height="38.34" fill="#fde2c6" stroke="#9a9088" stroke-width="0.8"/>
<rect x="621.05" y="511.23" width="13.30" height="53.77" fill="#fde2c6" stroke="#9a9088" stroke-width="0.8"/>
<rect x="640.75" y="494.08" width="13.30" height="70.92" fill="#fde2c6" stroke="#9a9088" stroke-width="0.8"/>
<line x1="529.20" y1="544.48" x2="529.20" y2="555.88" stroke="#111" stroke-width="1"/>
<line x1="526.20" y1="544.48" x2="532.20" y2="544.48" stroke="#111" stroke-width="1"/>
<line x1="526.20" y1="555.88" x2="532.20" y2="555.88" stroke="#111" stroke-width="1"/>
<circle cx="526.10" cy="545.78" r="2.7" fill="#000"/>
<circle cx="532.20" cy="548.20" r="2.7" fill="#000"/>
<circle cx="529.20" cy="556.64" r="2.7" fill="#000"/>
<line x1="548.90" y1="526.69" x2="548.90" y2="536.79" stroke="#111" stroke-width="1"/>
<line x1="545.90" y1="526.69" x2="551.90" y2="526.69" stroke="#111" stroke-width="1"/>
<line x1="545.90" y1="536.79" x2="551.90" y2="536.79" stroke="#111" stroke-width="1"/>
<circle cx="545.80" cy="528.29" r="2.7" fill="#000"/>
<circle cx="551.90" cy="529.33" r="2.7" fill="#000"/>
<circle cx="548.90" cy="537.51" r="2.7" fill="#000"/>
<line x1="568.60" y1="524.44" x2="568.60" y2="538.35" stroke="#111" stroke-width="1"/>
<line x1="565.60" y1="524.44" x2="571.60" y2="524.44" stroke="#111" stroke-width="1"/>
<line x1="565.60" y1="538.35" x2="571.60" y2="538.35" stroke="#111" stroke-width="1"/>
<circle cx="568.60" cy="525.36" r="2.7" fill="#000"/>
<circle cx="568.60" cy="529.33" r="2.7" fill="#000"/>
<circle cx="568.60" cy="538.89" r="2.7" fill="#000"/>
<line x1="588.30" y1="530.18" x2="588.30" y2="543.64" stroke="#111" stroke-width="1"/>
<line x1="585.30" y1="530.18" x2="591.30" y2="530.18" stroke="#111" stroke-width="1"/>
<line x1="585.30" y1="543.64" x2="591.30" y2="543.64" stroke="#111" stroke-width="1"/>
<circle cx="588.30" cy="531.39" r="2.7" fill="#000"/>
<circle cx="588.30" cy="535.27" r="2.7" fill="#000"/>
<circle cx="588.30" cy="544.49" r="2.7" fill="#000"/>
<line x1="608.00" y1="521.88" x2="608.00" y2="531.43" stroke="#111" stroke-width="1"/>
<line x1="605.00" y1="521.88" x2="611.00" y2="521.88" stroke="#111" stroke-width="1"/>
<line x1="605.00" y1="531.43" x2="611.00" y2="531.43" stroke="#111" stroke-width="1"/>
<circle cx="608.00" cy="522.43" r="2.7" fill="#000"/>
<circle cx="608.00" cy="526.14" r="2.7" fill="#000"/>
<circle cx="608.00" cy="531.91" r="2.7" fill="#000"/>
<line x1="627.70" y1="505.43" x2="627.70" y2="517.04" stroke="#111" stroke-width="1"/>
<line x1="624.70" y1="505.43" x2="630.70" y2="505.43" stroke="#111" stroke-width="1"/>
<line x1="624.70" y1="517.04" x2="630.70" y2="517.04" stroke="#111" stroke-width="1"/>
<circle cx="627.70" cy="504.86" r="2.7" fill="#000"/>
<circle cx="627.70" cy="512.18" r="2.7" fill="#000"/>
<circle cx="627.70" cy="516.32" r="2.7" fill="#000"/>
<line x1="647.40" y1="484.76" x2="647.40" y2="503.41" stroke="#111" stroke-width="1"/>
<line x1="644.40" y1="484.76" x2="650.40" y2="484.76" stroke="#111" stroke-width="1"/>
<line x1="644.40" y1="503.41" x2="650.40" y2="503.41" stroke="#111" stroke-width="1"/>
<circle cx="647.40" cy="485.12" r="2.7" fill="#000"/>
<circle cx="647.40" cy="491.93" r="2.7" fill="#000"/>
<circle cx="647.40" cy="503.56" r="2.7" fill="#000"/>
<line x1="515.90" y1="461.60" x2="515.90" y2="565.90" stroke="#111" stroke-width="1.8"/>
<line x1="515.00" y1="565.00" x2="660.90" y2="565.00" stroke="#111" stroke-width="1.8"/>
<line x1="510.40" y1="565.00" x2="515.90" y2="565.00" stroke="#111" stroke-width="1.5"/>
<text x="508.40" y="568.50" font-size="10" text-anchor="end" fill="#111" font-weight="bold">0</text>
<line x1="510.40" y1="530.53" x2="515.90" y2="530.53" stroke="#111" stroke-width="1.5"/>
<text x="508.40" y="534.03" font-size="10" text-anchor="end" fill="#111" font-weight="bold">4</text>
<line x1="510.40" y1="496.07" x2="515.90" y2="496.07" stroke="#111" stroke-width="1.5"/>
<text x="508.40" y="499.57" font-size="10" text-anchor="end" fill="#111" font-weight="bold">8</text>
<line x1="510.40" y1="461.60" x2="515.90" y2="461.60" stroke="#111" stroke-width="1.5"/>
<text x="508.40" y="465.10" font-size="10" text-anchor="end" fill="#111" font-weight="bold">12</text>
<line x1="529.20" y1="565.00" x2="529.20" y2="570.50" stroke="#111" stroke-width="1.5"/>
<text x="531.00" y="576.50" font-size="7.3" text-anchor="end" fill="#111" font-weight="bold" transform="rotate(-45 531.00 576.50)">Ctrl</text>
<line x1="548.90" y1="565.00" x2="548.90" y2="570.50" stroke="#111" stroke-width="1.5"/>
<text x="550.70" y="576.50" font-size="7.3" text-anchor="end" fill="#111" font-weight="bold" transform="rotate(-45 550.70 576.50)">Agomelatine</text>
<line x1="568.60" y1="565.00" x2="568.60" y2="570.50" stroke="#111" stroke-width="1.5"/>
<text x="570.40" y="576.50" font-size="7.3" text-anchor="end" fill="#111" font-weight="bold" transform="rotate(-45 570.40 576.50)">Bupropion</text>
<line x1="588.30" y1="565.00" x2="588.30" y2="570.50" stroke="#111" stroke-width="1.5"/>
<text x="590.10" y="576.50" font-size="7.3" text-anchor="end" fill="#111" font-weight="bold" transform="rotate(-45 590.10 576.50)">Amitriptyline</text>
<line x1="608.00" y1="565.00" x2="608.00" y2="570.50" stroke="#111" stroke-width="1.5"/>
<text x="609.80" y="576.50" font-size="7.3" text-anchor="end" fill="#111" font-weight="bold" transform="rotate(-45 609.80 576.50)">Paroxetine</text>
<line x1="627.70" y1="565.00" x2="627.70" y2="570.50" stroke="#111" stroke-width="1.5"/>
<text x="629.50" y="576.50" font-size="7.3" text-anchor="end" fill="#111" font-weight="bold" transform="rotate(-45 629.50 576.50)">Tandospirone</text>
<line x1="647.40" y1="565.00" x2="647.40" y2="570.50" stroke="#111" stroke-width="1.5"/>
<text x="649.20" y="576.50" font-size="7.3" text-anchor="end" fill="#111" font-weight="bold" transform="rotate(-45 649.20 576.50)">Sertraline</text>
<text x="491.80" y="513.30" font-size="10.3" text-anchor="middle" fill="#111" font-weight="bold" transform="rotate(-90 491.80 513.30)">Apoptotic rate (%)</text>
<polyline points="57.38,688.33 61.31,689.59 65.25,690.94 69.18,692.38 73.11,693.90 77.05,695.52 80.98,697.23 84.91,699.04 88.85,700.93 92.78,702.92 96.72,705.00 100.65,707.15 104.58,709.39 108.52,711.70 112.45,714.08 116.38,716.52 120.32,719.00 124.25,721.53 128.18,724.08 132.12,726.65 136.05,729.24 139.98,731.81 143.92,734.37 147.85,736.91 151.79,739.41 155.72,741.86 159.65,744.26 163.59,746.60 167.52,748.86 171.45,751.04 175.39,753.15 179.32,755.16 183.25,757.09 187.19,758.93 191.12,760.67 195.05,762.32 198.99,763.87 202.92,765.34 206.86,766.72 210.79,768.01 214.72,769.21 218.66,770.34 222.59,771.38 226.52,772.36 230.46,773.26 234.39,774.10 238.32,774.87 242.26,775.59 246.19,776.25 250.12,776.86 254.06,777.42 257.99,777.94 261.93,778.41 265.86,778.85 269.79,779.25 273.73,779.61 277.66,779.95 281.59,780.26 285.53,780.54 289.46,780.80" fill="none" stroke="#ff0000" stroke-width="1.1"/>
<polyline points="57.38,680.70 61.31,681.37 65.25,682.11 69.18,682.90 73.11,683.76 77.05,684.68 80.98,685.68 84.91,686.75 88.85,687.90 92.78,689.13 96.72,690.45 100.65,691.85 104.58,693.35 108.52,694.93 112.45,696.61 116.38,698.38 120.32,700.24 124.25,702.20 128.18,704.24 132.12,706.37 136.05,708.58 139.98,710.87 143.92,713.22 147.85,715.64 151.79,718.11 155.72,720.62 159.65,723.16 163.59,725.73 167.52,728.31 171.45,730.89 175.39,733.46 179.32,736.01 183.25,738.52 187.19,740.99 191.12,743.41 195.05,745.77 198.99,748.06 202.92,750.27 206.86,752.40 210.79,754.45 214.72,756.41 218.66,758.28 222.59,760.05 226.52,761.74 230.46,763.33 234.39,764.82 238.32,766.23 242.26,767.55 246.19,768.79 250.12,769.94 254.06,771.02 257.99,772.02 261.93,772.95 265.86,773.81 269.79,774.60 273.73,775.34 277.66,776.02 281.59,776.65 285.53,777.23 289.46,777.76" fill="none" stroke="#1020ff" stroke-width="1.1"/>
<polyline points="57.38,679.52 61.31,680.09 65.25,680.72 69.18,681.40 73.11,682.13 77.05,682.93 80.98,683.79 84.91,684.72 88.85,685.72 92.78,686.79 96.72,687.94 100.65,689.18 104.58,690.49 108.52,691.90 112.45,693.40 116.38,694.99 120.32,696.67 124.25,698.44 128.18,700.31 132.12,702.27 136.05,704.31 139.98,706.44 143.92,708.66 147.85,710.94 151.79,713.30 155.72,715.72 159.65,718.19 163.59,720.70 167.52,723.25 171.45,725.82 175.39,728.40 179.32,730.98 183.25,733.54 187.19,736.09 191.12,738.60 195.05,741.07 198.99,743.49 202.92,745.85 206.86,748.13 210.79,750.34 214.72,752.47 218.66,754.52 222.59,756.47 226.52,758.34 230.46,760.11 234.39,761.79 238.32,763.38 242.26,764.87 246.19,766.28 250.12,767.60 254.06,768.83 257.99,769.98 261.93,771.05 265.86,772.05 269.79,772.98 273.73,773.83 277.66,774.63 281.59,775.36 285.53,776.04 289.46,776.67" fill="none" stroke="#a8c8f0" stroke-width="1.1"/>
<polyline points="57.38,679.25 61.31,679.80 65.25,680.40 69.18,681.06 73.11,681.76 77.05,682.53 80.98,683.36 84.91,684.25 88.85,685.21 92.78,686.25 96.72,687.36 100.65,688.56 104.58,689.83 108.52,691.20 112.45,692.65 116.38,694.19 120.32,695.83 124.25,697.56 128.18,699.38 132.12,701.29 136.05,703.29 139.98,705.38 143.92,707.56 147.85,709.81 151.79,712.13 155.72,714.52 159.65,716.97 163.59,719.46 167.52,721.99 171.45,724.55 175.39,727.13 179.32,729.71 183.25,732.28 187.19,734.84 191.12,737.37 195.05,739.86 198.99,742.31 202.92,744.70 206.86,747.02 210.79,749.27 214.72,751.44 218.66,753.52 222.59,755.52 226.52,757.43 230.46,759.25 234.39,760.98 238.32,762.61 242.26,764.15 246.19,765.60 250.12,766.96 254.06,768.23 257.99,769.42 261.93,770.53 265.86,771.57 269.79,772.53 273.73,773.42 277.66,774.25 281.59,775.01 285.53,775.72 289.46,776.37" fill="none" stroke="#c8daf5" stroke-width="1.1"/>
<polyline points="57.38,678.87 61.31,679.39 65.25,679.96 69.18,680.57 73.11,681.24 77.05,681.96 80.98,682.74 84.91,683.59 88.85,684.50 92.78,685.48 96.72,686.54 100.65,687.67 104.58,688.88 108.52,690.18 112.45,691.57 116.38,693.05 120.32,694.61 124.25,696.27 128.18,698.03 132.12,699.87 136.05,701.81 139.98,703.83 143.92,705.95 147.85,708.14 151.79,710.41 155.72,712.75 159.65,715.16 163.59,717.62 167.52,720.12 171.45,722.66 175.39,725.23 179.32,727.80 183.25,730.39 187.19,732.96 191.12,735.51 195.05,738.03 198.99,740.51 202.92,742.94 206.86,745.31 210.79,747.61 214.72,749.84 218.66,751.99 222.59,754.06 226.52,756.03 230.46,757.92 234.39,759.71 238.32,761.41 242.26,763.02 246.19,764.54 250.12,765.96 254.06,767.30 257.99,768.55 261.93,769.72 265.86,770.81 269.79,771.83 273.73,772.77 277.66,773.64 281.59,774.45 285.53,775.20 289.46,775.89" fill="none" stroke="#f8c8e0" stroke-width="1.1"/>
<polyline points="57.38,678.51 61.31,679.00 65.25,679.53 69.18,680.11 73.11,680.74 77.05,681.42 80.98,682.16 84.91,682.96 88.85,683.82 92.78,684.75 96.72,685.75 100.65,686.83 104.58,687.98 108.52,689.22 112.45,690.54 116.38,691.95 120.32,693.45 124.25,695.04 128.18,696.72 132.12,698.50 136.05,700.37 139.98,702.33 143.92,704.38 147.85,706.52 151.79,708.73 155.72,711.02 159.65,713.38 163.59,715.80 167.52,718.27 171.45,720.79 175.39,723.33 179.32,725.90 183.25,728.48 187.19,731.06 191.12,733.63 195.05,736.17 198.99,738.69 202.92,741.15 206.86,743.57 210.79,745.92 214.72,748.21 218.66,750.42 222.59,752.54 226.52,754.58 230.46,756.54 234.39,758.40 238.32,760.17 242.26,761.85 246.19,763.43 250.12,764.92 254.06,766.32 257.99,767.64 261.93,768.87 265.86,770.02 269.79,771.09 273.73,772.08 277.66,773.01 281.59,773.86 285.53,774.65 289.46,775.39" fill="none" stroke="#f09090" stroke-width="1.1"/>
<polyline points="57.38,677.86 61.31,678.29 65.25,678.76 69.18,679.28 73.11,679.83 77.05,680.44 80.98,681.09 84.91,681.80 88.85,682.57 92.78,683.40 96.72,684.30 100.65,685.27 104.58,686.31 108.52,687.42 112.45,688.62 116.38,689.90 120.32,691.27 124.25,692.73 128.18,694.27 132.12,695.91 136.05,697.65 139.98,699.47 143.92,701.39 147.85,703.40 151.79,705.49 155.72,707.67 159.65,709.92 163.59,712.25 167.52,714.64 171.45,717.09 175.39,719.59 179.32,722.12 183.25,724.68 187.19,727.26 191.12,729.84 195.05,732.41 198.99,734.97 202.92,737.50 206.86,739.99 210.79,742.43 214.72,744.81 218.66,747.13 222.59,749.38 226.52,751.54 230.46,753.63 234.39,755.62 238.32,757.53 242.26,759.34 246.19,761.06 250.12,762.69 254.06,764.22 257.99,765.67 261.93,767.02 265.86,768.29 269.79,769.48 273.73,770.59 277.66,771.62 281.59,772.58 285.53,773.46 289.46,774.29" fill="none" stroke="#000000" stroke-width="1.1"/>
<line x1="57.38" y1="685.38" x2="57.38" y2="689.79" stroke="#ff0000" stroke-width="0.9"/>
<line x1="55.08" y1="685.38" x2="59.68" y2="685.38" stroke="#ff0000" stroke-width="0.9"/>
<line x1="55.08" y1="689.79" x2="59.68" y2="689.79" stroke="#ff0000" stroke-width="0.9"/>
<path d="M57.38 684.98L59.59 687.58L57.38 690.18L55.17 687.58Z" fill="#ff0000"/>
<line x1="86.39" y1="689.79" x2="86.39" y2="696.40" stroke="#ff0000" stroke-width="0.9"/>
<line x1="84.09" y1="689.79" x2="88.69" y2="689.79" stroke="#ff0000" stroke-width="0.9"/>
<line x1="84.09" y1="696.40" x2="88.69" y2="696.40" stroke="#ff0000" stroke-width="0.9"/>
<path d="M86.39 690.50L88.60 693.10L86.39 695.70L84.18 693.10Z" fill="#ff0000"/>
<line x1="115.40" y1="711.84" x2="115.40" y2="722.86" stroke="#ff0000" stroke-width="0.9"/>
<line x1="113.10" y1="711.84" x2="117.70" y2="711.84" stroke="#ff0000" stroke-width="0.9"/>
<line x1="113.10" y1="722.86" x2="117.70" y2="722.86" stroke="#ff0000" stroke-width="0.9"/>
<path d="M115.40 714.75L117.61 717.35L115.40 719.95L113.19 717.35Z" fill="#ff0000"/>
<line x1="144.41" y1="732.23" x2="144.41" y2="738.85" stroke="#ff0000" stroke-width="0.9"/>
<line x1="142.11" y1="732.23" x2="146.71" y2="732.23" stroke="#ff0000" stroke-width="0.9"/>
<line x1="142.11" y1="738.85" x2="146.71" y2="738.85" stroke="#ff0000" stroke-width="0.9"/>
<path d="M144.41 732.94L146.62 735.54L144.41 738.14L142.20 735.54Z" fill="#ff0000"/>
<line x1="173.42" y1="750.42" x2="173.42" y2="759.25" stroke="#ff0000" stroke-width="0.9"/>
<line x1="171.12" y1="750.42" x2="175.72" y2="750.42" stroke="#ff0000" stroke-width="0.9"/>
<line x1="171.12" y1="759.25" x2="175.72" y2="759.25" stroke="#ff0000" stroke-width="0.9"/>
<path d="M173.42 752.24L175.63 754.84L173.42 757.44L171.21 754.84Z" fill="#ff0000"/>
<line x1="202.43" y1="766.96" x2="202.43" y2="771.37" stroke="#ff0000" stroke-width="0.9"/>
<line x1="200.13" y1="766.96" x2="204.73" y2="766.96" stroke="#ff0000" stroke-width="0.9"/>
<line x1="200.13" y1="771.37" x2="204.73" y2="771.37" stroke="#ff0000" stroke-width="0.9"/>
<path d="M202.43 766.57L204.64 769.17L202.43 771.77L200.22 769.17Z" fill="#ff0000"/>
<path d="M231.44 774.84L233.65 777.44L231.44 780.04L229.23 777.44Z" fill="#ff0000"/>
<path d="M260.45 779.80L262.66 782.40L260.45 785.00L258.24 782.40Z" fill="#ff0000"/>
<path d="M289.46 779.80L291.67 782.40L289.46 785.00L287.25 782.40Z" fill="#ff0000"/>
<line x1="57.38" y1="682.07" x2="57.38" y2="686.48" stroke="#1020ff" stroke-width="0.9"/>
<line x1="55.08" y1="682.07" x2="59.68" y2="682.07" stroke="#1020ff" stroke-width="0.9"/>
<line x1="55.08" y1="686.48" x2="59.68" y2="686.48" stroke="#1020ff" stroke-width="0.9"/>
<path d="M57.38 681.68L59.59 684.28L57.38 686.88L55.17 684.28Z" fill="#1020ff"/>
<line x1="86.39" y1="685.93" x2="86.39" y2="691.44" stroke="#1020ff" stroke-width="0.9"/>
<line x1="84.09" y1="685.93" x2="88.69" y2="685.93" stroke="#1020ff" stroke-width="0.9"/>
<line x1="84.09" y1="691.44" x2="88.69" y2="691.44" stroke="#1020ff" stroke-width="0.9"/>
<path d="M86.39 686.09L88.60 688.69L86.39 691.29L84.18 688.69Z" fill="#1020ff"/>
<line x1="115.40" y1="695.85" x2="115.40" y2="701.36" stroke="#1020ff" stroke-width="0.9"/>
<line x1="113.10" y1="695.85" x2="117.70" y2="695.85" stroke="#1020ff" stroke-width="0.9"/>
<line x1="113.10" y1="701.36" x2="117.70" y2="701.36" stroke="#1020ff" stroke-width="0.9"/>
<path d="M115.40 696.01L117.61 698.61L115.40 701.21L113.19 698.61Z" fill="#1020ff"/>
<line x1="144.41" y1="712.94" x2="144.41" y2="719.56" stroke="#1020ff" stroke-width="0.9"/>
<line x1="142.11" y1="712.94" x2="146.71" y2="712.94" stroke="#1020ff" stroke-width="0.9"/>
<line x1="142.11" y1="719.56" x2="146.71" y2="719.56" stroke="#1020ff" stroke-width="0.9"/>
<path d="M144.41 713.65L146.62 716.25L144.41 718.85L142.20 716.25Z" fill="#1020ff"/>
<line x1="173.42" y1="727.27" x2="173.42" y2="731.68" stroke="#1020ff" stroke-width="0.9"/>
<line x1="171.12" y1="727.27" x2="175.72" y2="727.27" stroke="#1020ff" stroke-width="0.9"/>
<line x1="171.12" y1="731.68" x2="175.72" y2="731.68" stroke="#1020ff" stroke-width="0.9"/>
<path d="M173.42 726.88L175.63 729.48L173.42 732.08L171.21 729.48Z" fill="#1020ff"/>
<line x1="202.43" y1="747.67" x2="202.43" y2="753.18" stroke="#1020ff" stroke-width="0.9"/>
<line x1="200.13" y1="747.67" x2="204.73" y2="747.67" stroke="#1020ff" stroke-width="0.9"/>
<line x1="200.13" y1="753.18" x2="204.73" y2="753.18" stroke="#1020ff" stroke-width="0.9"/>
<path d="M202.43 747.82L204.64 750.42L202.43 753.02L200.22 750.42Z" fill="#1020ff"/>
<line x1="231.44" y1="763.10" x2="231.44" y2="768.62" stroke="#1020ff" stroke-width="0.9"/>
<line x1="229.14" y1="763.10" x2="233.74" y2="763.10" stroke="#1020ff" stroke-width="0.9"/>
<line x1="229.14" y1="768.62" x2="233.74" y2="768.62" stroke="#1020ff" stroke-width="0.9"/>
<path d="M231.44 763.26L233.65 765.86L231.44 768.46L229.23 765.86Z" fill="#1020ff"/>
<path d="M260.45 776.49L262.66 779.09L260.45 781.69L258.24 779.09Z" fill="#1020ff"/>
<path d="M289.46 777.59L291.67 780.19L289.46 782.79L287.25 780.19Z" fill="#1020ff"/>
<line x1="57.38" y1="679.87" x2="57.38" y2="684.28" stroke="#a8c8f0" stroke-width="0.9"/>
<line x1="55.08" y1="679.87" x2="59.68" y2="679.87" stroke="#a8c8f0" stroke-width="0.9"/>
<line x1="55.08" y1="684.28" x2="59.68" y2="684.28" stroke="#a8c8f0" stroke-width="0.9"/>
<path d="M57.38 685.17L60.28 679.99L54.48 679.99Z" fill="#5aa0f0"/>
<line x1="86.39" y1="683.17" x2="86.39" y2="687.58" stroke="#a8c8f0" stroke-width="0.9"/>
<line x1="84.09" y1="683.17" x2="88.69" y2="683.17" stroke="#a8c8f0" stroke-width="0.9"/>
<line x1="84.09" y1="687.58" x2="88.69" y2="687.58" stroke="#a8c8f0" stroke-width="0.9"/>
<path d="M86.39 688.48L89.29 683.30L83.49 683.30Z" fill="#5aa0f0"/>
<line x1="115.40" y1="692.54" x2="115.40" y2="698.06" stroke="#a8c8f0" stroke-width="0.9"/>
<line x1="113.10" y1="692.54" x2="117.70" y2="692.54" stroke="#a8c8f0" stroke-width="0.9"/>
<line x1="113.10" y1="698.06" x2="117.70" y2="698.06" stroke="#a8c8f0" stroke-width="0.9"/>
<path d="M115.40 698.40L118.30 693.22L112.50 693.22Z" fill="#5aa0f0"/>
<line x1="144.41" y1="707.98" x2="144.41" y2="713.49" stroke="#a8c8f0" stroke-width="0.9"/>
<line x1="142.11" y1="707.98" x2="146.71" y2="707.98" stroke="#a8c8f0" stroke-width="0.9"/>
<line x1="142.11" y1="713.49" x2="146.71" y2="713.49" stroke="#a8c8f0" stroke-width="0.9"/>
<path d="M144.41 713.84L147.31 708.65L141.51 708.65Z" fill="#5aa0f0"/>
<line x1="173.42" y1="721.21" x2="173.42" y2="726.72" stroke="#a8c8f0" stroke-width="0.9"/>
<line x1="171.12" y1="721.21" x2="175.72" y2="721.21" stroke="#a8c8f0" stroke-width="0.9"/>
<line x1="171.12" y1="726.72" x2="175.72" y2="726.72" stroke="#a8c8f0" stroke-width="0.9"/>
<path d="M173.42 727.07L176.32 721.88L170.52 721.88Z" fill="#5aa0f0"/>
<line x1="202.43" y1="742.71" x2="202.43" y2="747.12" stroke="#a8c8f0" stroke-width="0.9"/>
<line x1="200.13" y1="742.71" x2="204.73" y2="742.71" stroke="#a8c8f0" stroke-width="0.9"/>
<line x1="200.13" y1="747.12" x2="204.73" y2="747.12" stroke="#a8c8f0" stroke-width="0.9"/>
<path d="M202.43 748.01L205.33 742.83L199.53 742.83Z" fill="#5aa0f0"/>
<line x1="231.44" y1="760.35" x2="231.44" y2="764.76" stroke="#a8c8f0" stroke-width="0.9"/>
<line x1="229.14" y1="760.35" x2="233.74" y2="760.35" stroke="#a8c8f0" stroke-width="0.9"/>
<line x1="229.14" y1="764.76" x2="233.74" y2="764.76" stroke="#a8c8f0" stroke-width="0.9"/>
<path d="M231.44 765.65L234.34 760.47L228.54 760.47Z" fill="#5aa0f0"/>
<path d="M260.45 781.09L263.35 775.91L257.55 775.91Z" fill="#5aa0f0"/>
<path d="M289.46 784.39L292.36 779.21L286.56 779.21Z" fill="#5aa0f0"/>
<line x1="57.38" y1="677.66" x2="57.38" y2="682.07" stroke="#b8cdf0" stroke-width="0.9"/>
<line x1="55.08" y1="677.66" x2="59.68" y2="677.66" stroke="#b8cdf0" stroke-width="0.9"/>
<line x1="55.08" y1="682.07" x2="59.68" y2="682.07" stroke="#b8cdf0" stroke-width="0.9"/>
<path d="M57.38 676.76L60.28 681.95L54.48 681.95Z" fill="#b8cdf0"/>
<line x1="86.39" y1="682.07" x2="86.39" y2="686.48" stroke="#b8cdf0" stroke-width="0.9"/>
<line x1="84.09" y1="682.07" x2="88.69" y2="682.07" stroke="#b8cdf0" stroke-width="0.9"/>
<line x1="84.09" y1="686.48" x2="88.69" y2="686.48" stroke="#b8cdf0" stroke-width="0.9"/>
<path d="M86.39 681.18L89.29 686.36L83.49 686.36Z" fill="#b8cdf0"/>
<line x1="115.40" y1="688.69" x2="115.40" y2="693.10" stroke="#b8cdf0" stroke-width="0.9"/>
<line x1="113.10" y1="688.69" x2="117.70" y2="688.69" stroke="#b8cdf0" stroke-width="0.9"/>
<line x1="113.10" y1="693.10" x2="117.70" y2="693.10" stroke="#b8cdf0" stroke-width="0.9"/>
<path d="M115.40 687.79L118.30 692.97L112.50 692.97Z" fill="#b8cdf0"/>
<line x1="144.41" y1="704.67" x2="144.41" y2="710.18" stroke="#b8cdf0" stroke-width="0.9"/>
<line x1="142.11" y1="704.67" x2="146.71" y2="704.67" stroke="#b8cdf0" stroke-width="0.9"/>
<line x1="142.11" y1="710.18" x2="146.71" y2="710.18" stroke="#b8cdf0" stroke-width="0.9"/>
<path d="M144.41 704.33L147.31 709.51L141.51 709.51Z" fill="#b8cdf0"/>
<line x1="173.42" y1="717.90" x2="173.42" y2="723.41" stroke="#b8cdf0" stroke-width="0.9"/>
<line x1="171.12" y1="717.90" x2="175.72" y2="717.90" stroke="#b8cdf0" stroke-width="0.9"/>
<line x1="171.12" y1="723.41" x2="175.72" y2="723.41" stroke="#b8cdf0" stroke-width="0.9"/>
<path d="M173.42 717.56L176.32 722.74L170.52 722.74Z" fill="#b8cdf0"/>
<line x1="202.43" y1="739.40" x2="202.43" y2="743.81" stroke="#b8cdf0" stroke-width="0.9"/>
<line x1="200.13" y1="739.40" x2="204.73" y2="739.40" stroke="#b8cdf0" stroke-width="0.9"/>
<line x1="200.13" y1="743.81" x2="204.73" y2="743.81" stroke="#b8cdf0" stroke-width="0.9"/>
<path d="M202.43 738.50L205.33 743.69L199.53 743.69Z" fill="#b8cdf0"/>
<line x1="231.44" y1="758.14" x2="231.44" y2="762.55" stroke="#b8cdf0" stroke-width="0.9"/>
<line x1="229.14" y1="758.14" x2="233.74" y2="758.14" stroke="#b8cdf0" stroke-width="0.9"/>
<line x1="229.14" y1="762.55" x2="233.74" y2="762.55" stroke="#b8cdf0" stroke-width="0.9"/>
<path d="M231.44 757.25L234.34 762.43L228.54 762.43Z" fill="#b8cdf0"/>
<path d="M260.45 774.89L263.35 780.07L257.55 780.07Z" fill="#b8cdf0"/>
<path d="M289.46 777.64L292.36 782.82L286.56 782.82Z" fill="#b8cdf0"/>
<line x1="57.38" y1="676.56" x2="57.38" y2="680.97" stroke="#f5b8d8" stroke-width="0.9"/>
<line x1="55.08" y1="676.56" x2="59.68" y2="676.56" stroke="#f5b8d8" stroke-width="0.9"/>
<line x1="55.08" y1="680.97" x2="59.68" y2="680.97" stroke="#f5b8d8" stroke-width="0.9"/>
<path d="M57.38 675.66L60.28 680.84L54.48 680.84Z" fill="#f5b8d8"/>
<line x1="86.39" y1="680.97" x2="86.39" y2="685.38" stroke="#f5b8d8" stroke-width="0.9"/>
<line x1="84.09" y1="680.97" x2="88.69" y2="680.97" stroke="#f5b8d8" stroke-width="0.9"/>
<line x1="84.09" y1="685.38" x2="88.69" y2="685.38" stroke="#f5b8d8" stroke-width="0.9"/>
<path d="M86.39 680.07L89.29 685.25L83.49 685.25Z" fill="#f5b8d8"/>
<line x1="115.40" y1="688.69" x2="115.40" y2="693.10" stroke="#f5b8d8" stroke-width="0.9"/>
<line x1="113.10" y1="688.69" x2="117.70" y2="688.69" stroke="#f5b8d8" stroke-width="0.9"/>
<line x1="113.10" y1="693.10" x2="117.70" y2="693.10" stroke="#f5b8d8" stroke-width="0.9"/>
<path d="M115.40 687.79L118.30 692.97L112.50 692.97Z" fill="#f5b8d8"/>
<line x1="144.41" y1="707.43" x2="144.41" y2="711.84" stroke="#f5b8d8" stroke-width="0.9"/>
<line x1="142.11" y1="707.43" x2="146.71" y2="707.43" stroke="#f5b8d8" stroke-width="0.9"/>
<line x1="142.11" y1="711.84" x2="146.71" y2="711.84" stroke="#f5b8d8" stroke-width="0.9"/>
<path d="M144.41 706.53L147.31 711.71L141.51 711.71Z" fill="#f5b8d8"/>
<line x1="173.42" y1="721.76" x2="173.42" y2="726.17" stroke="#f5b8d8" stroke-width="0.9"/>
<line x1="171.12" y1="721.76" x2="175.72" y2="721.76" stroke="#f5b8d8" stroke-width="0.9"/>
<line x1="171.12" y1="726.17" x2="175.72" y2="726.17" stroke="#f5b8d8" stroke-width="0.9"/>
<path d="M173.42 720.87L176.32 726.05L170.52 726.05Z" fill="#f5b8d8"/>
<line x1="202.43" y1="740.50" x2="202.43" y2="744.91" stroke="#f5b8d8" stroke-width="0.9"/>
<line x1="200.13" y1="740.50" x2="204.73" y2="740.50" stroke="#f5b8d8" stroke-width="0.9"/>
<line x1="200.13" y1="744.91" x2="204.73" y2="744.91" stroke="#f5b8d8" stroke-width="0.9"/>
<path d="M202.43 739.61L205.33 744.79L199.53 744.79Z" fill="#f5b8d8"/>
<line x1="231.44" y1="759.25" x2="231.44" y2="763.65" stroke="#f5b8d8" stroke-width="0.9"/>
<line x1="229.14" y1="759.25" x2="233.74" y2="759.25" stroke="#f5b8d8" stroke-width="0.9"/>
<line x1="229.14" y1="763.65" x2="233.74" y2="763.65" stroke="#f5b8d8" stroke-width="0.9"/>
<path d="M231.44 758.35L234.34 763.53L228.54 763.53Z" fill="#f5b8d8"/>
<path d="M260.45 774.89L263.35 780.07L257.55 780.07Z" fill="#f5b8d8"/>
<path d="M289.46 777.64L292.36 782.82L286.56 782.82Z" fill="#f5b8d8"/>
<line x1="57.38" y1="677.66" x2="57.38" y2="682.07" stroke="#f09090" stroke-width="0.9"/>
<line x1="55.08" y1="677.66" x2="59.68" y2="677.66" stroke="#f09090" stroke-width="0.9"/>
<line x1="55.08" y1="682.07" x2="59.68" y2="682.07" stroke="#f09090" stroke-width="0.9"/>
<path d="M57.38 682.97L60.28 677.78L54.48 677.78Z" fill="#f07878"/>
<line x1="86.39" y1="683.17" x2="86.39" y2="687.58" stroke="#f09090" stroke-width="0.9"/>
<line x1="84.09" y1="683.17" x2="88.69" y2="683.17" stroke="#f09090" stroke-width="0.9"/>
<line x1="84.09" y1="687.58" x2="88.69" y2="687.58" stroke="#f09090" stroke-width="0.9"/>
<path d="M86.39 688.48L89.29 683.30L83.49 683.30Z" fill="#f07878"/>
<line x1="115.40" y1="685.93" x2="115.40" y2="691.44" stroke="#f09090" stroke-width="0.9"/>
<line x1="113.10" y1="685.93" x2="117.70" y2="685.93" stroke="#f09090" stroke-width="0.9"/>
<line x1="113.10" y1="691.44" x2="117.70" y2="691.44" stroke="#f09090" stroke-width="0.9"/>
<path d="M115.40 691.79L118.30 686.61L112.50 686.61Z" fill="#f07878"/>
<line x1="144.41" y1="701.36" x2="144.41" y2="706.88" stroke="#f09090" stroke-width="0.9"/>
<line x1="142.11" y1="701.36" x2="146.71" y2="701.36" stroke="#f09090" stroke-width="0.9"/>
<line x1="142.11" y1="706.88" x2="146.71" y2="706.88" stroke="#f09090" stroke-width="0.9"/>
<path d="M144.41 707.22L147.31 702.04L141.51 702.04Z" fill="#f07878"/>
<line x1="173.42" y1="717.35" x2="173.42" y2="721.76" stroke="#f09090" stroke-width="0.9"/>
<line x1="171.12" y1="717.35" x2="175.72" y2="717.35" stroke="#f09090" stroke-width="0.9"/>
<line x1="171.12" y1="721.76" x2="175.72" y2="721.76" stroke="#f09090" stroke-width="0.9"/>
<path d="M173.42 722.66L176.32 717.48L170.52 717.48Z" fill="#f07878"/>
<line x1="202.43" y1="737.20" x2="202.43" y2="741.61" stroke="#f09090" stroke-width="0.9"/>
<line x1="200.13" y1="737.20" x2="204.73" y2="737.20" stroke="#f09090" stroke-width="0.9"/>
<line x1="200.13" y1="741.61" x2="204.73" y2="741.61" stroke="#f09090" stroke-width="0.9"/>
<path d="M202.43 742.50L205.33 737.32L199.53 737.32Z" fill="#f07878"/>
<line x1="231.44" y1="758.14" x2="231.44" y2="762.55" stroke="#f09090" stroke-width="0.9"/>
<line x1="229.14" y1="758.14" x2="233.74" y2="758.14" stroke="#f09090" stroke-width="0.9"/>
<line x1="229.14" y1="762.55" x2="233.74" y2="762.55" stroke="#f09090" stroke-width="0.9"/>
<path d="M231.44 763.45L234.34 758.27L228.54 758.27Z" fill="#f07878"/>
<path d="M260.45 781.09L263.35 775.91L257.55 775.91Z" fill="#f07878"/>
<path d="M289.46 783.84L292.36 778.66L286.56 778.66Z" fill="#f07878"/>
<circle cx="57.38" cy="674.35" r="3.00" fill="#000000"/>
<circle cx="86.39" cy="677.11" r="3.00" fill="#000000"/>
<line x1="115.40" y1="679.31" x2="115.40" y2="684.83" stroke="#000000" stroke-width="0.9"/>
<line x1="113.10" y1="679.31" x2="117.70" y2="679.31" stroke="#000000" stroke-width="0.9"/>
<line x1="113.10" y1="684.83" x2="117.70" y2="684.83" stroke="#000000" stroke-width="0.9"/>
<circle cx="115.40" cy="682.07" r="3.00" fill="#000000"/>
<line x1="144.41" y1="695.85" x2="144.41" y2="703.57" stroke="#000000" stroke-width="0.9"/>
<line x1="142.11" y1="695.85" x2="146.71" y2="695.85" stroke="#000000" stroke-width="0.9"/>
<line x1="142.11" y1="703.57" x2="146.71" y2="703.57" stroke="#000000" stroke-width="0.9"/>
<circle cx="144.41" cy="699.71" r="3.00" fill="#000000"/>
<line x1="173.42" y1="710.74" x2="173.42" y2="717.35" stroke="#000000" stroke-width="0.9"/>
<line x1="171.12" y1="710.74" x2="175.72" y2="710.74" stroke="#000000" stroke-width="0.9"/>
<line x1="171.12" y1="717.35" x2="175.72" y2="717.35" stroke="#000000" stroke-width="0.9"/>
<circle cx="173.42" cy="714.04" r="3.00" fill="#000000"/>
<line x1="202.43" y1="734.44" x2="202.43" y2="739.95" stroke="#000000" stroke-width="0.9"/>
<line x1="200.13" y1="734.44" x2="204.73" y2="734.44" stroke="#000000" stroke-width="0.9"/>
<line x1="200.13" y1="739.95" x2="204.73" y2="739.95" stroke="#000000" stroke-width="0.9"/>
<circle cx="202.43" cy="737.20" r="3.00" fill="#000000"/>
<line x1="231.44" y1="754.28" x2="231.44" y2="759.80" stroke="#000000" stroke-width="0.9"/>
<line x1="229.14" y1="754.28" x2="233.74" y2="754.28" stroke="#000000" stroke-width="0.9"/>
<line x1="229.14" y1="759.80" x2="233.74" y2="759.80" stroke="#000000" stroke-width="0.9"/>
<circle cx="231.44" cy="757.04" r="3.00" fill="#000000"/>
<circle cx="260.45" cy="776.88" r="3.00" fill="#000000"/>
<circle cx="289.46" cy="779.64" r="3.00" fill="#000000"/>
<line x1="57.80" y1="651.20" x2="57.80" y2="784.40" stroke="#111" stroke-width="1.8"/>
<line x1="56.90" y1="783.50" x2="309.70" y2="783.50" stroke="#111" stroke-width="1.8"/>
<line x1="51.80" y1="783.50" x2="57.80" y2="783.50" stroke="#111" stroke-width="1.5"/>
<text x="49.30" y="787.10" font-size="10.4" text-anchor="end" fill="#111" font-weight="bold">0</text>
<line x1="51.80" y1="750.42" x2="57.80" y2="750.42" stroke="#111" stroke-width="1.5"/>
<text x="49.30" y="754.02" font-size="10.4" text-anchor="end" fill="#111" font-weight="bold">30</text>
<line x1="51.80" y1="717.35" x2="57.80" y2="717.35" stroke="#111" stroke-width="1.5"/>
<text x="49.30" y="720.95" font-size="10.4" text-anchor="end" fill="#111" font-weight="bold">60</text>
<line x1="51.80" y1="684.28" x2="57.80" y2="684.28" stroke="#111" stroke-width="1.5"/>
<text x="49.30" y="687.88" font-size="10.4" text-anchor="end" fill="#111" font-weight="bold">90</text>
<line x1="51.80" y1="651.20" x2="57.80" y2="651.20" stroke="#111" stroke-width="1.5"/>
<text x="49.30" y="654.80" font-size="10.4" text-anchor="end" fill="#111" font-weight="bold">120</text>
<line x1="115.40" y1="783.50" x2="115.40" y2="789.50" stroke="#111" stroke-width="1.5"/>
<text x="115.40" y="802.80" font-size="11" text-anchor="middle" fill="#111" font-weight="bold">0</text>
<line x1="212.10" y1="783.50" x2="212.10" y2="789.50" stroke="#111" stroke-width="1.5"/>
<text x="212.10" y="802.80" font-size="11" text-anchor="middle" fill="#111" font-weight="bold">1</text>
<line x1="308.80" y1="783.50" x2="308.80" y2="789.50" stroke="#111" stroke-width="1.5"/>
<text x="308.80" y="802.80" font-size="11" text-anchor="middle" fill="#111" font-weight="bold">2</text>
<text x="24.50" y="718.40" font-size="11.8" text-anchor="middle" fill="#111" font-weight="bold" transform="rotate(-90 24.50 718.40)">Cell viability (%)</text>
<text x="132.80" y="650.20" font-size="12.1" text-anchor="middle" fill="#231815" font-weight="bold">A549</text>
<line x1="221.90" y1="639.00" x2="240.70" y2="639.00" stroke="#000000" stroke-width="1.2"/>
<circle cx="231.40" cy="639.00" r="2.70" fill="#000000"/>
<text x="250.60" y="642.30" font-size="9" text-anchor="start" fill="#111" font-weight="bold">Ctrl</text>
<line x1="221.90" y1="650.20" x2="240.70" y2="650.20" stroke="#c8daf5" stroke-width="1.2"/>
<path d="M231.40 647.40L234.00 652.04L228.80 652.04Z" fill="#b8cdf0"/>
<text x="250.60" y="653.50" font-size="9" text-anchor="start" fill="#111" font-weight="bold">Bupropion</text>
<line x1="221.90" y1="662.70" x2="240.70" y2="662.70" stroke="#a8c8f0" stroke-width="1.2"/>
<path d="M231.40 665.50L234.00 660.86L228.80 660.86Z" fill="#5aa0f0"/>
<text x="250.60" y="666.00" font-size="9" text-anchor="start" fill="#111" font-weight="bold">Amitriptyline</text>
<line x1="221.90" y1="674.60" x2="240.70" y2="674.60" stroke="#1020ff" stroke-width="1.2"/>
<path d="M231.40 672.30L233.36 674.60L231.40 676.90L229.44 674.60Z" fill="#1020ff"/>
<text x="250.60" y="677.90" font-size="9" text-anchor="start" fill="#111" font-weight="bold">Sertraline</text>
<line x1="221.90" y1="686.90" x2="240.70" y2="686.90" stroke="#f8c8e0" stroke-width="1.2"/>
<path d="M231.40 684.10L234.00 688.74L228.80 688.74Z" fill="#f5b8d8"/>
<text x="250.60" y="690.20" font-size="9" text-anchor="start" fill="#111" font-weight="bold">Agomelatine</text>
<line x1="221.90" y1="700.30" x2="240.70" y2="700.30" stroke="#f09090" stroke-width="1.2"/>
<path d="M231.40 703.10L234.00 698.46L228.80 698.46Z" fill="#f07878"/>
<text x="250.60" y="703.60" font-size="9" text-anchor="start" fill="#111" font-weight="bold">Paroxetine</text>
<line x1="221.90" y1="713.50" x2="240.70" y2="713.50" stroke="#ff0000" stroke-width="1.2"/>
<path d="M231.40 711.20L233.36 713.50L231.40 715.80L229.44 713.50Z" fill="#ff0000"/>
<text x="250.60" y="716.80" font-size="9" text-anchor="start" fill="#111" font-weight="bold">Tandospirone</text>
<polyline points="400.38,687.74 404.31,688.96 408.25,690.27 412.18,691.66 416.11,693.14 420.05,694.71 423.98,696.38 427.91,698.14 431.85,699.99 435.78,701.93 439.72,703.96 443.65,706.08 447.58,708.28 451.52,710.56 455.45,712.90 459.38,715.31 463.32,717.77 467.25,720.28 471.18,722.82 475.12,725.39 479.05,727.97 482.98,730.55 486.92,733.12 490.85,735.67 494.79,738.19 498.72,740.66 502.65,743.09 506.59,745.46 510.52,747.76 514.45,749.98 518.39,752.12 522.32,754.18 526.25,756.15 530.19,758.03 534.12,759.82 538.05,761.52 541.99,763.12 545.92,764.63 549.86,766.05 553.79,767.38 557.72,768.63 561.66,769.79 565.59,770.88 569.52,771.89 573.46,772.83 577.39,773.70 581.32,774.50 585.26,775.25 589.19,775.93 593.12,776.57 597.06,777.15 600.99,777.69 604.93,778.18 608.86,778.64 612.79,779.05 616.73,779.44 620.66,779.79 624.59,780.11 628.53,780.40 632.46,780.67" fill="none" stroke="#ff0000" stroke-width="1.1"/>
<polyline points="400.38,680.23 404.31,680.87 408.25,681.56 412.18,682.31 416.11,683.12 420.05,684.00 423.98,684.94 427.91,685.95 431.85,687.05 435.78,688.22 439.72,689.47 443.65,690.81 447.58,692.24 451.52,693.75 455.45,695.36 459.38,697.07 463.32,698.86 467.25,700.75 471.18,702.73 475.12,704.79 479.05,706.94 482.98,709.17 486.92,711.48 490.85,713.85 494.79,716.28 498.72,718.76 502.65,721.28 506.59,723.84 510.52,726.41 514.45,728.99 518.39,731.57 522.32,734.13 526.25,736.67 530.19,739.17 534.12,741.63 538.05,744.03 541.99,746.38 545.92,748.65 549.86,750.84 553.79,752.95 557.72,754.97 561.66,756.91 565.59,758.75 569.52,760.50 573.46,762.16 577.39,763.73 581.32,765.20 585.26,766.59 589.19,767.89 593.12,769.10 597.06,770.23 600.99,771.29 604.93,772.27 608.86,773.18 612.79,774.02 616.73,774.80 620.66,775.52 624.59,776.19 628.53,776.80 632.46,777.37" fill="none" stroke="#1020ff" stroke-width="1.1"/>
<polyline points="400.38,679.25 404.31,679.80 408.25,680.40 412.18,681.06 416.11,681.76 420.05,682.53 423.98,683.36 427.91,684.25 431.85,685.21 435.78,686.25 439.72,687.36 443.65,688.56 447.58,689.83 451.52,691.20 455.45,692.65 459.38,694.19 463.32,695.83 467.25,697.56 471.18,699.38 475.12,701.29 479.05,703.29 482.98,705.38 486.92,707.56 490.85,709.81 494.79,712.13 498.72,714.52 502.65,716.97 506.59,719.46 510.52,721.99 514.45,724.55 518.39,727.13 522.32,729.71 526.25,732.28 530.19,734.84 534.12,737.37 538.05,739.86 541.99,742.31 545.92,744.70 549.86,747.02 553.79,749.27 557.72,751.44 561.66,753.52 565.59,755.52 569.52,757.43 573.46,759.25 577.39,760.98 581.32,762.61 585.26,764.15 589.19,765.60 593.12,766.96 597.06,768.23 600.99,769.42 604.93,770.53 608.86,771.57 612.79,772.53 616.73,773.42 620.66,774.25 624.59,775.01 628.53,775.72 632.46,776.37" fill="none" stroke="#a8c8f0" stroke-width="1.1"/>
<polyline points="400.38,678.87 404.31,679.39 408.25,679.96 412.18,680.57 416.11,681.24 420.05,681.96 423.98,682.74 427.91,683.59 431.85,684.50 435.78,685.48 439.72,686.54 443.65,687.67 447.58,688.88 451.52,690.18 455.45,691.57 459.38,693.05 463.32,694.61 467.25,696.27 471.18,698.03 475.12,699.87 479.05,701.81 482.98,703.83 486.92,705.95 490.85,708.14 494.79,710.41 498.72,712.75 502.65,715.16 506.59,717.62 510.52,720.12 514.45,722.66 518.39,725.23 522.32,727.80 526.25,730.39 530.19,732.96 534.12,735.51 538.05,738.03 541.99,740.51 545.92,742.94 549.86,745.31 553.79,747.61 557.72,749.84 561.66,751.99 565.59,754.06 569.52,756.03 573.46,757.92 577.39,759.71 581.32,761.41 585.26,763.02 589.19,764.54 593.12,765.96 597.06,767.30 600.99,768.55 604.93,769.72 608.86,770.81 612.79,771.83 616.73,772.77 620.66,773.64 624.59,774.45 628.53,775.20 632.46,775.89" fill="none" stroke="#c8daf5" stroke-width="1.1"/>
<polyline points="400.38,678.63 404.31,679.13 408.25,679.67 412.18,680.26 416.11,680.90 420.05,681.60 423.98,682.35 427.91,683.16 431.85,684.04 435.78,684.99 439.72,686.01 443.65,687.10 447.58,688.28 451.52,689.53 455.45,690.88 459.38,692.31 463.32,693.83 467.25,695.45 471.18,697.15 475.12,698.95 479.05,700.84 482.98,702.83 486.92,704.90 490.85,707.05 494.79,709.29 498.72,711.59 502.65,713.97 506.59,716.40 510.52,718.89 514.45,721.41 518.39,723.96 522.32,726.54 526.25,729.12 530.19,731.69 534.12,734.26 538.05,736.80 541.99,739.30 545.92,741.75 549.86,744.15 553.79,746.49 557.72,748.76 561.66,750.95 565.59,753.05 569.52,755.07 573.46,757.00 577.39,758.84 581.32,760.59 585.26,762.24 589.19,763.80 593.12,765.27 597.06,766.65 600.99,767.95 604.93,769.16 608.86,770.29 612.79,771.34 616.73,772.32 620.66,773.22 624.59,774.06 628.53,774.84 632.46,775.56" fill="none" stroke="#f8c8e0" stroke-width="1.1"/>
<polyline points="400.38,678.29 404.31,678.76 408.25,679.27 412.18,679.82 416.11,680.43 420.05,681.08 423.98,681.79 427.91,682.56 431.85,683.39 435.78,684.28 439.72,685.25 443.65,686.29 447.58,687.40 451.52,688.60 455.45,689.88 459.38,691.25 463.32,692.70 467.25,694.25 471.18,695.89 475.12,697.62 479.05,699.44 482.98,701.36 486.92,703.36 490.85,705.46 494.79,707.63 498.72,709.89 502.65,712.21 506.59,714.60 510.52,717.05 514.45,719.55 518.39,722.08 522.32,724.64 526.25,727.21 530.19,729.79 534.12,732.37 538.05,734.93 541.99,737.46 545.92,739.95 549.86,742.39 553.79,744.77 557.72,747.09 561.66,749.34 565.59,751.51 569.52,753.59 573.46,755.59 577.39,757.50 581.32,759.31 585.26,761.03 589.19,762.66 593.12,764.20 597.06,765.65 600.99,767.00 604.93,768.27 608.86,769.46 612.79,770.57 616.73,771.60 620.66,772.56 624.59,773.45 628.53,774.27 632.46,775.03" fill="none" stroke="#f09090" stroke-width="1.1"/>
<polyline points="400.38,677.57 404.31,677.97 408.25,678.41 412.18,678.89 416.11,679.42 420.05,679.99 423.98,680.60 427.91,681.27 431.85,682.00 435.78,682.78 439.72,683.63 443.65,684.55 447.58,685.53 451.52,686.59 455.45,687.73 459.38,688.95 463.32,690.25 467.25,691.64 471.18,693.12 475.12,694.69 479.05,696.36 482.98,698.12 486.92,699.97 490.85,701.91 494.79,703.94 498.72,706.06 502.65,708.25 506.59,710.53 510.52,712.87 514.45,715.28 518.39,717.74 522.32,720.25 526.25,722.79 530.19,725.36 534.12,727.93 538.05,730.51 541.99,733.09 545.92,735.64 549.86,738.16 553.79,740.63 557.72,743.06 561.66,745.43 565.59,747.73 569.52,749.95 573.46,752.10 577.39,754.16 581.32,756.13 585.26,758.01 589.19,759.80 593.12,761.50 597.06,763.10 600.99,764.61 604.93,766.03 608.86,767.37 612.79,768.61 616.73,769.78 620.66,770.87 624.59,771.88 628.53,772.81 632.46,773.69" fill="none" stroke="#000000" stroke-width="1.1"/>
<line x1="400.38" y1="684.28" x2="400.38" y2="688.69" stroke="#ff0000" stroke-width="0.9"/>
<line x1="398.08" y1="684.28" x2="402.68" y2="684.28" stroke="#ff0000" stroke-width="0.9"/>
<line x1="398.08" y1="688.69" x2="402.68" y2="688.69" stroke="#ff0000" stroke-width="0.9"/>
<path d="M400.38 683.88L402.59 686.48L400.38 689.08L398.17 686.48Z" fill="#ff0000"/>
<line x1="429.39" y1="689.24" x2="429.39" y2="695.85" stroke="#ff0000" stroke-width="0.9"/>
<line x1="427.09" y1="689.24" x2="431.69" y2="689.24" stroke="#ff0000" stroke-width="0.9"/>
<line x1="427.09" y1="695.85" x2="431.69" y2="695.85" stroke="#ff0000" stroke-width="0.9"/>
<path d="M429.39 689.94L431.60 692.54L429.39 695.14L427.18 692.54Z" fill="#ff0000"/>
<line x1="458.40" y1="711.84" x2="458.40" y2="718.45" stroke="#ff0000" stroke-width="0.9"/>
<line x1="456.10" y1="711.84" x2="460.70" y2="711.84" stroke="#ff0000" stroke-width="0.9"/>
<line x1="456.10" y1="718.45" x2="460.70" y2="718.45" stroke="#ff0000" stroke-width="0.9"/>
<path d="M458.40 712.54L460.61 715.14L458.40 717.75L456.19 715.14Z" fill="#ff0000"/>
<line x1="487.41" y1="729.48" x2="487.41" y2="738.30" stroke="#ff0000" stroke-width="0.9"/>
<line x1="485.11" y1="729.48" x2="489.71" y2="729.48" stroke="#ff0000" stroke-width="0.9"/>
<line x1="485.11" y1="738.30" x2="489.71" y2="738.30" stroke="#ff0000" stroke-width="0.9"/>
<path d="M487.41 731.29L489.62 733.89L487.41 736.49L485.20 733.89Z" fill="#ff0000"/>
<line x1="516.42" y1="749.32" x2="516.42" y2="758.14" stroke="#ff0000" stroke-width="0.9"/>
<line x1="514.12" y1="749.32" x2="518.72" y2="749.32" stroke="#ff0000" stroke-width="0.9"/>
<line x1="514.12" y1="758.14" x2="518.72" y2="758.14" stroke="#ff0000" stroke-width="0.9"/>
<path d="M516.42 751.13L518.63 753.73L516.42 756.33L514.21 753.73Z" fill="#ff0000"/>
<path d="M545.43 764.36L547.64 766.96L545.43 769.56L543.22 766.96Z" fill="#ff0000"/>
<path d="M574.44 774.28L576.65 776.88L574.44 779.49L572.23 776.88Z" fill="#ff0000"/>
<path d="M603.45 779.80L605.66 782.40L603.45 785.00L601.24 782.40Z" fill="#ff0000"/>
<path d="M632.46 779.80L634.67 782.40L632.46 785.00L630.25 782.40Z" fill="#ff0000"/>
<line x1="400.38" y1="682.07" x2="400.38" y2="686.48" stroke="#1020ff" stroke-width="0.9"/>
<line x1="398.08" y1="682.07" x2="402.68" y2="682.07" stroke="#1020ff" stroke-width="0.9"/>
<line x1="398.08" y1="686.48" x2="402.68" y2="686.48" stroke="#1020ff" stroke-width="0.9"/>
<path d="M400.38 681.68L402.59 684.28L400.38 686.88L398.17 684.28Z" fill="#1020ff"/>
<line x1="429.39" y1="684.83" x2="429.39" y2="690.34" stroke="#1020ff" stroke-width="0.9"/>
<line x1="427.09" y1="684.83" x2="431.69" y2="684.83" stroke="#1020ff" stroke-width="0.9"/>
<line x1="427.09" y1="690.34" x2="431.69" y2="690.34" stroke="#1020ff" stroke-width="0.9"/>
<path d="M429.39 684.98L431.60 687.58L429.39 690.18L427.18 687.58Z" fill="#1020ff"/>
<line x1="458.40" y1="693.65" x2="458.40" y2="699.16" stroke="#1020ff" stroke-width="0.9"/>
<line x1="456.10" y1="693.65" x2="460.70" y2="693.65" stroke="#1020ff" stroke-width="0.9"/>
<line x1="456.10" y1="699.16" x2="460.70" y2="699.16" stroke="#1020ff" stroke-width="0.9"/>
<path d="M458.40 693.80L460.61 696.40L458.40 699.00L456.19 696.40Z" fill="#1020ff"/>
<line x1="487.41" y1="710.18" x2="487.41" y2="716.80" stroke="#1020ff" stroke-width="0.9"/>
<line x1="485.11" y1="710.18" x2="489.71" y2="710.18" stroke="#1020ff" stroke-width="0.9"/>
<line x1="485.11" y1="716.80" x2="489.71" y2="716.80" stroke="#1020ff" stroke-width="0.9"/>
<path d="M487.41 710.89L489.62 713.49L487.41 716.09L485.20 713.49Z" fill="#1020ff"/>
<line x1="516.42" y1="724.52" x2="516.42" y2="730.03" stroke="#1020ff" stroke-width="0.9"/>
<line x1="514.12" y1="724.52" x2="518.72" y2="724.52" stroke="#1020ff" stroke-width="0.9"/>
<line x1="514.12" y1="730.03" x2="518.72" y2="730.03" stroke="#1020ff" stroke-width="0.9"/>
<path d="M516.42 724.67L518.63 727.27L516.42 729.87L514.21 727.27Z" fill="#1020ff"/>
<line x1="545.43" y1="745.46" x2="545.43" y2="750.98" stroke="#1020ff" stroke-width="0.9"/>
<line x1="543.13" y1="745.46" x2="547.73" y2="745.46" stroke="#1020ff" stroke-width="0.9"/>
<line x1="543.13" y1="750.98" x2="547.73" y2="750.98" stroke="#1020ff" stroke-width="0.9"/>
<path d="M545.43 745.62L547.64 748.22L545.43 750.82L543.22 748.22Z" fill="#1020ff"/>
<line x1="574.44" y1="762.00" x2="574.44" y2="767.51" stroke="#1020ff" stroke-width="0.9"/>
<line x1="572.14" y1="762.00" x2="576.74" y2="762.00" stroke="#1020ff" stroke-width="0.9"/>
<line x1="572.14" y1="767.51" x2="576.74" y2="767.51" stroke="#1020ff" stroke-width="0.9"/>
<path d="M574.44 762.16L576.65 764.76L574.44 767.36L572.23 764.76Z" fill="#1020ff"/>
<path d="M603.45 776.49L605.66 779.09L603.45 781.69L601.24 779.09Z" fill="#1020ff"/>
<path d="M632.46 777.59L634.67 780.19L632.46 782.79L630.25 780.19Z" fill="#1020ff"/>
<line x1="400.38" y1="678.76" x2="400.38" y2="683.17" stroke="#a8c8f0" stroke-width="0.9"/>
<line x1="398.08" y1="678.76" x2="402.68" y2="678.76" stroke="#a8c8f0" stroke-width="0.9"/>
<line x1="398.08" y1="683.17" x2="402.68" y2="683.17" stroke="#a8c8f0" stroke-width="0.9"/>
<path d="M400.38 684.07L403.28 678.89L397.48 678.89Z" fill="#5aa0f0"/>
<line x1="429.39" y1="682.07" x2="429.39" y2="686.48" stroke="#a8c8f0" stroke-width="0.9"/>
<line x1="427.09" y1="682.07" x2="431.69" y2="682.07" stroke="#a8c8f0" stroke-width="0.9"/>
<line x1="427.09" y1="686.48" x2="431.69" y2="686.48" stroke="#a8c8f0" stroke-width="0.9"/>
<path d="M429.39 687.38L432.29 682.20L426.49 682.20Z" fill="#5aa0f0"/>
<line x1="458.40" y1="690.34" x2="458.40" y2="695.85" stroke="#a8c8f0" stroke-width="0.9"/>
<line x1="456.10" y1="690.34" x2="460.70" y2="690.34" stroke="#a8c8f0" stroke-width="0.9"/>
<line x1="456.10" y1="695.85" x2="460.70" y2="695.85" stroke="#a8c8f0" stroke-width="0.9"/>
<path d="M458.40 696.20L461.30 691.01L455.50 691.01Z" fill="#5aa0f0"/>
<line x1="487.41" y1="705.77" x2="487.41" y2="711.29" stroke="#a8c8f0" stroke-width="0.9"/>
<line x1="485.11" y1="705.77" x2="489.71" y2="705.77" stroke="#a8c8f0" stroke-width="0.9"/>
<line x1="485.11" y1="711.29" x2="489.71" y2="711.29" stroke="#a8c8f0" stroke-width="0.9"/>
<path d="M487.41 711.63L490.31 706.45L484.51 706.45Z" fill="#5aa0f0"/>
<line x1="516.42" y1="719.00" x2="516.42" y2="724.52" stroke="#a8c8f0" stroke-width="0.9"/>
<line x1="514.12" y1="719.00" x2="518.72" y2="719.00" stroke="#a8c8f0" stroke-width="0.9"/>
<line x1="514.12" y1="724.52" x2="518.72" y2="724.52" stroke="#a8c8f0" stroke-width="0.9"/>
<path d="M516.42 724.86L519.32 719.68L513.52 719.68Z" fill="#5aa0f0"/>
<line x1="545.43" y1="740.50" x2="545.43" y2="744.91" stroke="#a8c8f0" stroke-width="0.9"/>
<line x1="543.13" y1="740.50" x2="547.73" y2="740.50" stroke="#a8c8f0" stroke-width="0.9"/>
<line x1="543.13" y1="744.91" x2="547.73" y2="744.91" stroke="#a8c8f0" stroke-width="0.9"/>
<path d="M545.43 745.81L548.33 740.63L542.53 740.63Z" fill="#5aa0f0"/>
<line x1="574.44" y1="760.35" x2="574.44" y2="764.76" stroke="#a8c8f0" stroke-width="0.9"/>
<line x1="572.14" y1="760.35" x2="576.74" y2="760.35" stroke="#a8c8f0" stroke-width="0.9"/>
<line x1="572.14" y1="764.76" x2="576.74" y2="764.76" stroke="#a8c8f0" stroke-width="0.9"/>
<path d="M574.44 765.65L577.34 760.47L571.54 760.47Z" fill="#5aa0f0"/>
<path d="M603.45 781.09L606.35 775.91L600.55 775.91Z" fill="#5aa0f0"/>
<path d="M632.46 784.39L635.36 779.21L629.56 779.21Z" fill="#5aa0f0"/>
<line x1="400.38" y1="676.56" x2="400.38" y2="680.97" stroke="#b8cdf0" stroke-width="0.9"/>
<line x1="398.08" y1="676.56" x2="402.68" y2="676.56" stroke="#b8cdf0" stroke-width="0.9"/>
<line x1="398.08" y1="680.97" x2="402.68" y2="680.97" stroke="#b8cdf0" stroke-width="0.9"/>
<path d="M400.38 675.66L403.28 680.84L397.48 680.84Z" fill="#b8cdf0"/>
<line x1="429.39" y1="679.87" x2="429.39" y2="684.28" stroke="#b8cdf0" stroke-width="0.9"/>
<line x1="427.09" y1="679.87" x2="431.69" y2="679.87" stroke="#b8cdf0" stroke-width="0.9"/>
<line x1="427.09" y1="684.28" x2="431.69" y2="684.28" stroke="#b8cdf0" stroke-width="0.9"/>
<path d="M429.39 678.97L432.29 684.15L426.49 684.15Z" fill="#b8cdf0"/>
<line x1="458.40" y1="686.48" x2="458.40" y2="690.89" stroke="#b8cdf0" stroke-width="0.9"/>
<line x1="456.10" y1="686.48" x2="460.70" y2="686.48" stroke="#b8cdf0" stroke-width="0.9"/>
<line x1="456.10" y1="690.89" x2="460.70" y2="690.89" stroke="#b8cdf0" stroke-width="0.9"/>
<path d="M458.40 685.59L461.30 690.77L455.50 690.77Z" fill="#b8cdf0"/>
<line x1="487.41" y1="701.36" x2="487.41" y2="706.88" stroke="#b8cdf0" stroke-width="0.9"/>
<line x1="485.11" y1="701.36" x2="489.71" y2="701.36" stroke="#b8cdf0" stroke-width="0.9"/>
<line x1="485.11" y1="706.88" x2="489.71" y2="706.88" stroke="#b8cdf0" stroke-width="0.9"/>
<path d="M487.41 701.02L490.31 706.20L484.51 706.20Z" fill="#b8cdf0"/>
<line x1="516.42" y1="715.70" x2="516.42" y2="721.21" stroke="#b8cdf0" stroke-width="0.9"/>
<line x1="514.12" y1="715.70" x2="518.72" y2="715.70" stroke="#b8cdf0" stroke-width="0.9"/>
<line x1="514.12" y1="721.21" x2="518.72" y2="721.21" stroke="#b8cdf0" stroke-width="0.9"/>
<path d="M516.42 715.35L519.32 720.53L513.52 720.53Z" fill="#b8cdf0"/>
<line x1="545.43" y1="737.20" x2="545.43" y2="741.61" stroke="#b8cdf0" stroke-width="0.9"/>
<line x1="543.13" y1="737.20" x2="547.73" y2="737.20" stroke="#b8cdf0" stroke-width="0.9"/>
<line x1="543.13" y1="741.61" x2="547.73" y2="741.61" stroke="#b8cdf0" stroke-width="0.9"/>
<path d="M545.43 736.30L548.33 741.48L542.53 741.48Z" fill="#b8cdf0"/>
<line x1="574.44" y1="757.04" x2="574.44" y2="761.45" stroke="#b8cdf0" stroke-width="0.9"/>
<line x1="572.14" y1="757.04" x2="576.74" y2="757.04" stroke="#b8cdf0" stroke-width="0.9"/>
<line x1="572.14" y1="761.45" x2="576.74" y2="761.45" stroke="#b8cdf0" stroke-width="0.9"/>
<path d="M574.44 756.14L577.34 761.33L571.54 761.33Z" fill="#b8cdf0"/>
<path d="M603.45 774.89L606.35 780.07L600.55 780.07Z" fill="#b8cdf0"/>
<path d="M632.46 777.64L635.36 782.82L629.56 782.82Z" fill="#b8cdf0"/>
<line x1="400.38" y1="676.56" x2="400.38" y2="680.97" stroke="#f5b8d8" stroke-width="0.9"/>
<line x1="398.08" y1="676.56" x2="402.68" y2="676.56" stroke="#f5b8d8" stroke-width="0.9"/>
<line x1="398.08" y1="680.97" x2="402.68" y2="680.97" stroke="#f5b8d8" stroke-width="0.9"/>
<path d="M400.38 675.66L403.28 680.84L397.48 680.84Z" fill="#f5b8d8"/>
<line x1="429.39" y1="680.97" x2="429.39" y2="685.38" stroke="#f5b8d8" stroke-width="0.9"/>
<line x1="427.09" y1="680.97" x2="431.69" y2="680.97" stroke="#f5b8d8" stroke-width="0.9"/>
<line x1="427.09" y1="685.38" x2="431.69" y2="685.38" stroke="#f5b8d8" stroke-width="0.9"/>
<path d="M429.39 680.07L432.29 685.25L426.49 685.25Z" fill="#f5b8d8"/>
<line x1="458.40" y1="687.58" x2="458.40" y2="691.99" stroke="#f5b8d8" stroke-width="0.9"/>
<line x1="456.10" y1="687.58" x2="460.70" y2="687.58" stroke="#f5b8d8" stroke-width="0.9"/>
<line x1="456.10" y1="691.99" x2="460.70" y2="691.99" stroke="#f5b8d8" stroke-width="0.9"/>
<path d="M458.40 686.69L461.30 691.87L455.50 691.87Z" fill="#f5b8d8"/>
<line x1="487.41" y1="705.22" x2="487.41" y2="709.63" stroke="#f5b8d8" stroke-width="0.9"/>
<line x1="485.11" y1="705.22" x2="489.71" y2="705.22" stroke="#f5b8d8" stroke-width="0.9"/>
<line x1="485.11" y1="709.63" x2="489.71" y2="709.63" stroke="#f5b8d8" stroke-width="0.9"/>
<path d="M487.41 704.33L490.31 709.51L484.51 709.51Z" fill="#f5b8d8"/>
<line x1="516.42" y1="719.56" x2="516.42" y2="723.97" stroke="#f5b8d8" stroke-width="0.9"/>
<line x1="514.12" y1="719.56" x2="518.72" y2="719.56" stroke="#f5b8d8" stroke-width="0.9"/>
<line x1="514.12" y1="723.97" x2="518.72" y2="723.97" stroke="#f5b8d8" stroke-width="0.9"/>
<path d="M516.42 718.66L519.32 723.84L513.52 723.84Z" fill="#f5b8d8"/>
<line x1="545.43" y1="739.40" x2="545.43" y2="743.81" stroke="#f5b8d8" stroke-width="0.9"/>
<line x1="543.13" y1="739.40" x2="547.73" y2="739.40" stroke="#f5b8d8" stroke-width="0.9"/>
<line x1="543.13" y1="743.81" x2="547.73" y2="743.81" stroke="#f5b8d8" stroke-width="0.9"/>
<path d="M545.43 738.50L548.33 743.69L542.53 743.69Z" fill="#f5b8d8"/>
<line x1="574.44" y1="758.14" x2="574.44" y2="762.55" stroke="#f5b8d8" stroke-width="0.9"/>
<line x1="572.14" y1="758.14" x2="576.74" y2="758.14" stroke="#f5b8d8" stroke-width="0.9"/>
<line x1="572.14" y1="762.55" x2="576.74" y2="762.55" stroke="#f5b8d8" stroke-width="0.9"/>
<path d="M574.44 757.25L577.34 762.43L571.54 762.43Z" fill="#f5b8d8"/>
<path d="M603.45 774.89L606.35 780.07L600.55 780.07Z" fill="#f5b8d8"/>
<path d="M632.46 777.64L635.36 782.82L629.56 782.82Z" fill="#f5b8d8"/>
<line x1="400.38" y1="677.66" x2="400.38" y2="682.07" stroke="#f09090" stroke-width="0.9"/>
<line x1="398.08" y1="677.66" x2="402.68" y2="677.66" stroke="#f09090" stroke-width="0.9"/>
<line x1="398.08" y1="682.07" x2="402.68" y2="682.07" stroke="#f09090" stroke-width="0.9"/>
<path d="M400.38 682.97L403.28 677.78L397.48 677.78Z" fill="#f07878"/>
<line x1="429.39" y1="682.07" x2="429.39" y2="686.48" stroke="#f09090" stroke-width="0.9"/>
<line x1="427.09" y1="682.07" x2="431.69" y2="682.07" stroke="#f09090" stroke-width="0.9"/>
<line x1="427.09" y1="686.48" x2="431.69" y2="686.48" stroke="#f09090" stroke-width="0.9"/>
<path d="M429.39 687.38L432.29 682.20L426.49 682.20Z" fill="#f07878"/>
<line x1="458.40" y1="684.83" x2="458.40" y2="690.34" stroke="#f09090" stroke-width="0.9"/>
<line x1="456.10" y1="684.83" x2="460.70" y2="684.83" stroke="#f09090" stroke-width="0.9"/>
<line x1="456.10" y1="690.34" x2="460.70" y2="690.34" stroke="#f09090" stroke-width="0.9"/>
<path d="M458.40 690.68L461.30 685.50L455.50 685.50Z" fill="#f07878"/>
<line x1="487.41" y1="700.26" x2="487.41" y2="705.77" stroke="#f09090" stroke-width="0.9"/>
<line x1="485.11" y1="700.26" x2="489.71" y2="700.26" stroke="#f09090" stroke-width="0.9"/>
<line x1="485.11" y1="705.77" x2="489.71" y2="705.77" stroke="#f09090" stroke-width="0.9"/>
<path d="M487.41 706.12L490.31 700.94L484.51 700.94Z" fill="#f07878"/>
<line x1="516.42" y1="715.14" x2="516.42" y2="719.56" stroke="#f09090" stroke-width="0.9"/>
<line x1="514.12" y1="715.14" x2="518.72" y2="715.14" stroke="#f09090" stroke-width="0.9"/>
<line x1="514.12" y1="719.56" x2="518.72" y2="719.56" stroke="#f09090" stroke-width="0.9"/>
<path d="M516.42 720.45L519.32 715.27L513.52 715.27Z" fill="#f07878"/>
<line x1="545.43" y1="734.99" x2="545.43" y2="739.40" stroke="#f09090" stroke-width="0.9"/>
<line x1="543.13" y1="734.99" x2="547.73" y2="734.99" stroke="#f09090" stroke-width="0.9"/>
<line x1="543.13" y1="739.40" x2="547.73" y2="739.40" stroke="#f09090" stroke-width="0.9"/>
<path d="M545.43 740.30L548.33 735.12L542.53 735.12Z" fill="#f07878"/>
<line x1="574.44" y1="755.94" x2="574.44" y2="760.35" stroke="#f09090" stroke-width="0.9"/>
<line x1="572.14" y1="755.94" x2="576.74" y2="755.94" stroke="#f09090" stroke-width="0.9"/>
<line x1="572.14" y1="760.35" x2="576.74" y2="760.35" stroke="#f09090" stroke-width="0.9"/>
<path d="M574.44 761.24L577.34 756.06L571.54 756.06Z" fill="#f07878"/>
<path d="M603.45 781.09L606.35 775.91L600.55 775.91Z" fill="#f07878"/>
<path d="M632.46 783.84L635.36 778.66L629.56 778.66Z" fill="#f07878"/>
<circle cx="400.38" cy="674.35" r="3.00" fill="#000000"/>
<line x1="429.39" y1="674.35" x2="429.39" y2="679.87" stroke="#000000" stroke-width="0.9"/>
<line x1="427.09" y1="674.35" x2="431.69" y2="674.35" stroke="#000000" stroke-width="0.9"/>
<line x1="427.09" y1="679.87" x2="431.69" y2="679.87" stroke="#000000" stroke-width="0.9"/>
<circle cx="429.39" cy="677.11" r="3.00" fill="#000000"/>
<circle cx="458.40" cy="680.42" r="3.00" fill="#000000"/>
<line x1="487.41" y1="692.54" x2="487.41" y2="699.16" stroke="#000000" stroke-width="0.9"/>
<line x1="485.11" y1="692.54" x2="489.71" y2="692.54" stroke="#000000" stroke-width="0.9"/>
<line x1="485.11" y1="699.16" x2="489.71" y2="699.16" stroke="#000000" stroke-width="0.9"/>
<circle cx="487.41" cy="695.85" r="3.00" fill="#000000"/>
<line x1="516.42" y1="706.88" x2="516.42" y2="715.70" stroke="#000000" stroke-width="0.9"/>
<line x1="514.12" y1="706.88" x2="518.72" y2="706.88" stroke="#000000" stroke-width="0.9"/>
<line x1="514.12" y1="715.70" x2="518.72" y2="715.70" stroke="#000000" stroke-width="0.9"/>
<circle cx="516.42" cy="711.29" r="3.00" fill="#000000"/>
<line x1="545.43" y1="731.13" x2="545.43" y2="736.64" stroke="#000000" stroke-width="0.9"/>
<line x1="543.13" y1="731.13" x2="547.73" y2="731.13" stroke="#000000" stroke-width="0.9"/>
<line x1="543.13" y1="736.64" x2="547.73" y2="736.64" stroke="#000000" stroke-width="0.9"/>
<circle cx="545.43" cy="733.89" r="3.00" fill="#000000"/>
<circle cx="574.44" cy="753.73" r="3.00" fill="#000000"/>
<circle cx="603.45" cy="776.88" r="3.00" fill="#000000"/>
<circle cx="632.46" cy="779.64" r="3.00" fill="#000000"/>
<line x1="400.00" y1="651.20" x2="400.00" y2="784.40" stroke="#111" stroke-width="1.8"/>
<line x1="399.10" y1="783.50" x2="652.70" y2="783.50" stroke="#111" stroke-width="1.8"/>
<line x1="394.00" y1="783.50" x2="400.00" y2="783.50" stroke="#111" stroke-width="1.5"/>
<text x="391.50" y="787.10" font-size="10.4" text-anchor="end" fill="#111" font-weight="bold">0</text>
<line x1="394.00" y1="750.42" x2="400.00" y2="750.42" stroke="#111" stroke-width="1.5"/>
<text x="391.50" y="754.02" font-size="10.4" text-anchor="end" fill="#111" font-weight="bold">30</text>
<line x1="394.00" y1="717.35" x2="400.00" y2="717.35" stroke="#111" stroke-width="1.5"/>
<text x="391.50" y="720.95" font-size="10.4" text-anchor="end" fill="#111" font-weight="bold">60</text>
<line x1="394.00" y1="684.28" x2="400.00" y2="684.28" stroke="#111" stroke-width="1.5"/>
<text x="391.50" y="687.88" font-size="10.4" text-anchor="end" fill="#111" font-weight="bold">90</text>
<line x1="394.00" y1="651.20" x2="400.00" y2="651.20" stroke="#111" stroke-width="1.5"/>
<text x="391.50" y="654.80" font-size="10.4" text-anchor="end" fill="#111" font-weight="bold">120</text>
<line x1="458.40" y1="783.50" x2="458.40" y2="789.50" stroke="#111" stroke-width="1.5"/>
<text x="458.40" y="802.80" font-size="11" text-anchor="middle" fill="#111" font-weight="bold">0</text>
<line x1="555.10" y1="783.50" x2="555.10" y2="789.50" stroke="#111" stroke-width="1.5"/>
<text x="555.10" y="802.80" font-size="11" text-anchor="middle" fill="#111" font-weight="bold">1</text>
<line x1="651.80" y1="783.50" x2="651.80" y2="789.50" stroke="#111" stroke-width="1.5"/>
<text x="651.80" y="802.80" font-size="11" text-anchor="middle" fill="#111" font-weight="bold">2</text>
<text x="367.50" y="718.40" font-size="11.8" text-anchor="middle" fill="#111" font-weight="bold" transform="rotate(-90 367.50 718.40)">Cell viability (%)</text>
<text x="475.30" y="650.20" font-size="12.1" text-anchor="middle" fill="#231815" font-weight="bold">H1299</text>
<line x1="564.50" y1="639.00" x2="583.30" y2="639.00" stroke="#000000" stroke-width="1.2"/>
<circle cx="574.00" cy="639.00" r="2.70" fill="#000000"/>
<text x="593.20" y="642.30" font-size="9" text-anchor="start" fill="#111" font-weight="bold">Ctrl</text>
<line x1="564.50" y1="650.20" x2="583.30" y2="650.20" stroke="#c8daf5" stroke-width="1.2"/>
<path d="M574.00 647.40L576.60 652.04L571.40 652.04Z" fill="#b8cdf0"/>
<text x="593.20" y="653.50" font-size="9" text-anchor="start" fill="#111" font-weight="bold">Bupropion</text>
<line x1="564.50" y1="662.70" x2="583.30" y2="662.70" stroke="#a8c8f0" stroke-width="1.2"/>
<path d="M574.00 665.50L576.60 660.86L571.40 660.86Z" fill="#5aa0f0"/>
<text x="593.20" y="666.00" font-size="9" text-anchor="start" fill="#111" font-weight="bold">Amitriptyline</text>
<line x1="564.50" y1="674.60" x2="583.30" y2="674.60" stroke="#1020ff" stroke-width="1.2"/>
<path d="M574.00 672.30L575.96 674.60L574.00 676.90L572.04 674.60Z" fill="#1020ff"/>
<text x="593.20" y="677.90" font-size="9" text-anchor="start" fill="#111" font-weight="bold">Sertraline</text>
<line x1="564.50" y1="686.90" x2="583.30" y2="686.90" stroke="#f8c8e0" stroke-width="1.2"/>
<path d="M574.00 684.10L576.60 688.74L571.40 688.74Z" fill="#f5b8d8"/>
<text x="593.20" y="690.20" font-size="9" text-anchor="start" fill="#111" font-weight="bold">Agomelatine</text>
<line x1="564.50" y1="700.30" x2="583.30" y2="700.30" stroke="#f09090" stroke-width="1.2"/>
<path d="M574.00 703.10L576.60 698.46L571.40 698.46Z" fill="#f07878"/>
<text x="593.20" y="703.60" font-size="9" text-anchor="start" fill="#111" font-weight="bold">Paroxetine</text>
<line x1="564.50" y1="713.50" x2="583.30" y2="713.50" stroke="#ff0000" stroke-width="1.2"/>
<path d="M574.00 711.20L575.96 713.50L574.00 715.80L572.04 713.50Z" fill="#ff0000"/>
<text x="593.20" y="716.80" font-size="9" text-anchor="start" fill="#111" font-weight="bold">Tandospirone</text>
</svg></body></html>
